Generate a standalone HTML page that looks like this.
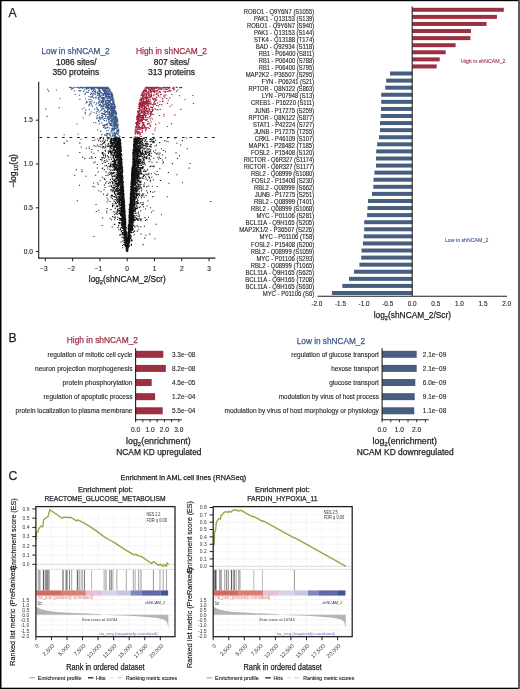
<!DOCTYPE html>
<html><head><meta charset="utf-8"><style>
html,body{margin:0;padding:0;background:#fff;}
body{width:520px;height:689px;overflow:hidden;position:relative;}
svg{position:absolute;left:0;top:0;will-change:transform;}
text{font-family:"Liberation Sans",sans-serif;}
</style></head><body>
<svg width="520" height="689" viewBox="0 0 520 689">
<rect x="0" y="0" width="520" height="689" fill="#fff"/>
<text x="8.4" y="16.8" font-size="12.2" fill="#231f20" stroke="#231f20" stroke-width="0.25">A</text>
<text x="8.4" y="342.2" font-size="12.2" fill="#231f20" stroke="#231f20" stroke-width="0.25">B</text>
<text x="8.4" y="479.6" font-size="12.2" fill="#231f20" stroke="#231f20" stroke-width="0.25">C</text>
<path d="M119.1 176.5h1.05v1.05h-1.05zM138.3 147.8h1.05v1.05h-1.05zM133.5 160.5h1.05v1.05h-1.05zM124.9 221.3h1.05v1.05h-1.05zM123.5 212.5h1.05v1.05h-1.05zM134.5 150.2h1.05v1.05h-1.05zM126.5 250.1h1.05v1.05h-1.05zM137.7 155.7h1.05v1.05h-1.05zM146.4 158.2h1.05v1.05h-1.05zM132.1 193.6h1.05v1.05h-1.05zM106.3 212.2h1.05v1.05h-1.05zM124.5 215.0h1.05v1.05h-1.05zM129.6 217.8h1.05v1.05h-1.05zM130.4 196.1h1.05v1.05h-1.05zM134.5 189.5h1.05v1.05h-1.05zM121.4 184.2h1.05v1.05h-1.05zM141.6 137.7h1.05v1.05h-1.05zM134.0 158.7h1.05v1.05h-1.05zM102.0 176.8h1.05v1.05h-1.05zM108.5 138.3h1.05v1.05h-1.05zM132.4 222.5h1.05v1.05h-1.05zM128.1 229.2h1.05v1.05h-1.05zM131.1 177.8h1.05v1.05h-1.05zM124.7 244.2h1.05v1.05h-1.05zM127.2 245.4h1.05v1.05h-1.05zM131.7 188.4h1.05v1.05h-1.05zM120.5 193.8h1.05v1.05h-1.05zM133.7 145.7h1.05v1.05h-1.05zM142.8 176.0h1.05v1.05h-1.05zM133.4 188.5h1.05v1.05h-1.05zM120.1 190.4h1.05v1.05h-1.05zM124.2 218.7h1.05v1.05h-1.05zM126.7 249.0h1.05v1.05h-1.05zM136.5 225.2h1.05v1.05h-1.05zM119.5 169.3h1.05v1.05h-1.05zM122.7 224.2h1.05v1.05h-1.05zM122.4 204.6h1.05v1.05h-1.05zM126.6 250.3h1.05v1.05h-1.05zM134.5 154.8h1.05v1.05h-1.05zM130.2 229.9h1.05v1.05h-1.05zM129.9 216.3h1.05v1.05h-1.05zM138.2 149.5h1.05v1.05h-1.05zM133.5 189.0h1.05v1.05h-1.05zM135.5 153.0h1.05v1.05h-1.05zM122.1 174.9h1.05v1.05h-1.05zM134.8 164.0h1.05v1.05h-1.05zM128.0 237.8h1.05v1.05h-1.05zM122.5 185.5h1.05v1.05h-1.05zM122.1 189.2h1.05v1.05h-1.05zM114.9 150.5h1.05v1.05h-1.05zM123.7 205.5h1.05v1.05h-1.05zM133.1 179.4h1.05v1.05h-1.05zM126.9 242.1h1.05v1.05h-1.05zM122.6 202.5h1.05v1.05h-1.05zM130.4 209.9h1.05v1.05h-1.05zM128.4 230.4h1.05v1.05h-1.05zM117.5 156.2h1.05v1.05h-1.05zM130.6 203.5h1.05v1.05h-1.05zM110.1 139.4h1.05v1.05h-1.05zM120.3 180.2h1.05v1.05h-1.05zM132.6 178.6h1.05v1.05h-1.05zM134.0 175.1h1.05v1.05h-1.05zM121.0 171.0h1.05v1.05h-1.05zM131.3 230.3h1.05v1.05h-1.05zM130.1 196.6h1.05v1.05h-1.05zM130.4 219.6h1.05v1.05h-1.05zM130.3 200.9h1.05v1.05h-1.05zM125.4 237.2h1.05v1.05h-1.05zM111.2 140.5h1.05v1.05h-1.05zM131.1 222.5h1.05v1.05h-1.05zM136.0 171.5h1.05v1.05h-1.05zM124.2 212.5h1.05v1.05h-1.05zM108.3 150.2h1.05v1.05h-1.05zM116.3 172.5h1.05v1.05h-1.05zM122.4 232.7h1.05v1.05h-1.05zM137.6 153.2h1.05v1.05h-1.05zM107.8 142.9h1.05v1.05h-1.05zM116.7 147.1h1.05v1.05h-1.05zM133.9 182.4h1.05v1.05h-1.05zM128.4 231.0h1.05v1.05h-1.05zM129.3 225.2h1.05v1.05h-1.05zM137.1 144.6h1.05v1.05h-1.05zM143.4 184.3h1.05v1.05h-1.05zM125.0 226.7h1.05v1.05h-1.05zM150.2 149.2h1.05v1.05h-1.05zM133.2 174.7h1.05v1.05h-1.05zM121.2 182.4h1.05v1.05h-1.05zM122.7 203.8h1.05v1.05h-1.05zM131.4 199.9h1.05v1.05h-1.05zM129.7 219.6h1.05v1.05h-1.05zM127.7 245.1h1.05v1.05h-1.05zM136.0 150.0h1.05v1.05h-1.05zM131.4 193.6h1.05v1.05h-1.05zM133.7 184.8h1.05v1.05h-1.05zM129.0 210.0h1.05v1.05h-1.05zM121.3 163.0h1.05v1.05h-1.05zM127.9 246.9h1.05v1.05h-1.05zM120.5 204.3h1.05v1.05h-1.05zM126.2 246.2h1.05v1.05h-1.05zM127.8 233.8h1.05v1.05h-1.05zM119.0 140.6h1.05v1.05h-1.05zM132.7 173.0h1.05v1.05h-1.05zM120.9 198.0h1.05v1.05h-1.05zM133.7 187.4h1.05v1.05h-1.05zM115.7 150.3h1.05v1.05h-1.05zM129.5 207.5h1.05v1.05h-1.05zM133.9 180.2h1.05v1.05h-1.05zM116.5 170.2h1.05v1.05h-1.05zM117.0 206.2h1.05v1.05h-1.05zM132.9 188.0h1.05v1.05h-1.05zM162.9 161.6h1.05v1.05h-1.05zM88.6 146.5h1.05v1.05h-1.05zM128.1 230.3h1.05v1.05h-1.05zM135.4 144.0h1.05v1.05h-1.05zM126.6 250.1h1.05v1.05h-1.05zM101.9 162.9h1.05v1.05h-1.05zM132.8 156.8h1.05v1.05h-1.05zM128.2 232.1h1.05v1.05h-1.05zM122.5 199.0h1.05v1.05h-1.05zM115.8 156.3h1.05v1.05h-1.05zM126.9 248.6h1.05v1.05h-1.05zM118.8 176.1h1.05v1.05h-1.05zM111.1 158.6h1.05v1.05h-1.05zM122.3 188.6h1.05v1.05h-1.05zM132.5 165.7h1.05v1.05h-1.05zM124.6 221.2h1.05v1.05h-1.05zM129.2 224.5h1.05v1.05h-1.05zM124.4 205.3h1.05v1.05h-1.05zM125.1 226.8h1.05v1.05h-1.05zM130.8 207.3h1.05v1.05h-1.05zM139.5 142.5h1.05v1.05h-1.05zM140.0 182.0h1.05v1.05h-1.05zM123.6 207.9h1.05v1.05h-1.05zM121.1 215.8h1.05v1.05h-1.05zM119.4 142.1h1.05v1.05h-1.05zM130.0 196.2h1.05v1.05h-1.05zM134.2 139.2h1.05v1.05h-1.05zM118.3 188.3h1.05v1.05h-1.05zM131.1 187.7h1.05v1.05h-1.05zM119.3 147.9h1.05v1.05h-1.05zM133.9 163.9h1.05v1.05h-1.05zM118.0 181.3h1.05v1.05h-1.05zM122.6 198.2h1.05v1.05h-1.05zM150.1 149.8h1.05v1.05h-1.05zM130.7 199.8h1.05v1.05h-1.05zM140.2 145.1h1.05v1.05h-1.05zM125.5 240.8h1.05v1.05h-1.05zM123.4 197.8h1.05v1.05h-1.05zM122.2 187.9h1.05v1.05h-1.05zM116.5 142.2h1.05v1.05h-1.05zM124.6 218.3h1.05v1.05h-1.05zM146.3 157.3h1.05v1.05h-1.05zM135.5 171.0h1.05v1.05h-1.05zM141.4 166.7h1.05v1.05h-1.05zM119.0 176.0h1.05v1.05h-1.05zM181.9 140.1h1.05v1.05h-1.05zM122.6 208.8h1.05v1.05h-1.05zM123.5 201.3h1.05v1.05h-1.05zM129.0 224.0h1.05v1.05h-1.05zM127.4 243.3h1.05v1.05h-1.05zM129.3 222.8h1.05v1.05h-1.05zM149.1 145.9h1.05v1.05h-1.05zM139.9 153.7h1.05v1.05h-1.05zM129.4 235.1h1.05v1.05h-1.05zM133.2 178.8h1.05v1.05h-1.05zM122.6 192.3h1.05v1.05h-1.05zM119.5 179.7h1.05v1.05h-1.05zM131.0 172.8h1.05v1.05h-1.05zM120.4 211.8h1.05v1.05h-1.05zM114.5 141.2h1.05v1.05h-1.05zM130.6 193.8h1.05v1.05h-1.05zM121.9 176.1h1.05v1.05h-1.05zM121.1 175.4h1.05v1.05h-1.05zM123.9 226.3h1.05v1.05h-1.05zM125.8 241.8h1.05v1.05h-1.05zM131.8 199.9h1.05v1.05h-1.05zM119.1 161.7h1.05v1.05h-1.05zM138.3 156.3h1.05v1.05h-1.05zM132.9 165.3h1.05v1.05h-1.05zM129.3 235.0h1.05v1.05h-1.05zM118.7 146.1h1.05v1.05h-1.05zM119.7 157.7h1.05v1.05h-1.05zM118.0 149.8h1.05v1.05h-1.05zM120.1 187.5h1.05v1.05h-1.05zM112.9 145.9h1.05v1.05h-1.05zM123.2 243.9h1.05v1.05h-1.05zM126.9 246.2h1.05v1.05h-1.05zM126.7 247.7h1.05v1.05h-1.05zM129.9 218.0h1.05v1.05h-1.05zM137.2 218.5h1.05v1.05h-1.05zM123.4 225.8h1.05v1.05h-1.05zM133.7 182.7h1.05v1.05h-1.05zM125.7 244.9h1.05v1.05h-1.05zM120.3 180.2h1.05v1.05h-1.05zM124.1 228.5h1.05v1.05h-1.05zM116.8 170.8h1.05v1.05h-1.05zM126.3 247.5h1.05v1.05h-1.05zM120.4 211.3h1.05v1.05h-1.05zM133.3 143.5h1.05v1.05h-1.05zM122.2 185.8h1.05v1.05h-1.05zM157.3 156.7h1.05v1.05h-1.05zM134.5 172.9h1.05v1.05h-1.05zM133.3 178.0h1.05v1.05h-1.05zM125.2 225.4h1.05v1.05h-1.05zM112.4 181.9h1.05v1.05h-1.05zM127.3 244.8h1.05v1.05h-1.05zM142.5 157.7h1.05v1.05h-1.05zM153.0 141.3h1.05v1.05h-1.05zM175.5 152.3h1.05v1.05h-1.05zM127.2 243.3h1.05v1.05h-1.05zM123.4 208.1h1.05v1.05h-1.05zM106.2 210.5h1.05v1.05h-1.05zM124.9 235.1h1.05v1.05h-1.05zM131.3 176.3h1.05v1.05h-1.05zM142.2 158.2h1.05v1.05h-1.05zM122.3 211.0h1.05v1.05h-1.05zM90.9 151.4h1.05v1.05h-1.05zM113.4 158.2h1.05v1.05h-1.05zM127.8 233.0h1.05v1.05h-1.05zM133.7 161.4h1.05v1.05h-1.05zM114.7 149.3h1.05v1.05h-1.05zM123.3 224.6h1.05v1.05h-1.05zM136.6 182.0h1.05v1.05h-1.05zM137.0 175.0h1.05v1.05h-1.05zM133.8 178.2h1.05v1.05h-1.05zM125.8 237.2h1.05v1.05h-1.05zM139.6 172.6h1.05v1.05h-1.05zM122.4 175.7h1.05v1.05h-1.05zM117.5 155.4h1.05v1.05h-1.05zM136.4 157.5h1.05v1.05h-1.05zM122.9 209.4h1.05v1.05h-1.05zM119.2 166.1h1.05v1.05h-1.05zM138.3 150.9h1.05v1.05h-1.05zM116.1 148.2h1.05v1.05h-1.05zM129.5 229.0h1.05v1.05h-1.05zM125.6 246.7h1.05v1.05h-1.05zM132.2 173.7h1.05v1.05h-1.05zM123.6 222.6h1.05v1.05h-1.05zM130.8 183.1h1.05v1.05h-1.05zM109.8 142.9h1.05v1.05h-1.05zM122.8 203.5h1.05v1.05h-1.05zM123.8 218.0h1.05v1.05h-1.05zM120.7 194.8h1.05v1.05h-1.05zM135.0 173.0h1.05v1.05h-1.05zM124.9 236.6h1.05v1.05h-1.05zM112.1 203.3h1.05v1.05h-1.05zM125.1 232.5h1.05v1.05h-1.05zM121.9 172.5h1.05v1.05h-1.05zM114.5 154.7h1.05v1.05h-1.05zM122.9 203.8h1.05v1.05h-1.05zM131.6 185.7h1.05v1.05h-1.05zM133.0 222.5h1.05v1.05h-1.05zM122.5 218.7h1.05v1.05h-1.05zM110.5 209.1h1.05v1.05h-1.05zM129.9 194.7h1.05v1.05h-1.05zM127.0 239.1h1.05v1.05h-1.05zM118.4 162.9h1.05v1.05h-1.05zM132.3 181.4h1.05v1.05h-1.05zM123.4 212.6h1.05v1.05h-1.05zM127.5 239.7h1.05v1.05h-1.05zM119.8 161.8h1.05v1.05h-1.05zM128.9 232.8h1.05v1.05h-1.05zM128.1 232.5h1.05v1.05h-1.05zM128.0 232.8h1.05v1.05h-1.05zM126.0 239.2h1.05v1.05h-1.05zM134.3 146.8h1.05v1.05h-1.05zM124.4 216.1h1.05v1.05h-1.05zM131.9 211.8h1.05v1.05h-1.05zM117.9 154.5h1.05v1.05h-1.05zM131.1 177.0h1.05v1.05h-1.05zM124.8 225.9h1.05v1.05h-1.05zM119.6 197.3h1.05v1.05h-1.05zM138.2 149.2h1.05v1.05h-1.05zM119.4 203.9h1.05v1.05h-1.05zM131.6 167.3h1.05v1.05h-1.05zM125.4 237.2h1.05v1.05h-1.05zM150.3 165.6h1.05v1.05h-1.05zM121.1 160.4h1.05v1.05h-1.05zM147.4 155.2h1.05v1.05h-1.05zM136.0 171.2h1.05v1.05h-1.05zM141.7 204.5h1.05v1.05h-1.05zM125.5 241.5h1.05v1.05h-1.05zM120.8 188.0h1.05v1.05h-1.05zM134.8 162.4h1.05v1.05h-1.05zM124.5 225.4h1.05v1.05h-1.05zM133.4 216.5h1.05v1.05h-1.05zM116.6 186.1h1.05v1.05h-1.05zM120.6 163.3h1.05v1.05h-1.05zM119.1 147.9h1.05v1.05h-1.05zM127.9 233.5h1.05v1.05h-1.05zM124.6 226.2h1.05v1.05h-1.05zM133.4 158.0h1.05v1.05h-1.05zM119.7 174.4h1.05v1.05h-1.05zM132.4 166.2h1.05v1.05h-1.05zM167.0 137.5h1.05v1.05h-1.05zM114.8 143.4h1.05v1.05h-1.05zM136.2 153.4h1.05v1.05h-1.05zM132.7 160.3h1.05v1.05h-1.05zM123.1 201.7h1.05v1.05h-1.05zM114.9 174.7h1.05v1.05h-1.05zM137.7 226.2h1.05v1.05h-1.05zM143.4 162.2h1.05v1.05h-1.05zM134.1 162.4h1.05v1.05h-1.05zM142.2 166.2h1.05v1.05h-1.05zM123.0 196.1h1.05v1.05h-1.05zM131.2 203.6h1.05v1.05h-1.05zM133.3 198.9h1.05v1.05h-1.05zM126.3 245.7h1.05v1.05h-1.05zM155.5 153.3h1.05v1.05h-1.05zM115.5 185.4h1.05v1.05h-1.05zM124.0 202.6h1.05v1.05h-1.05zM131.8 184.8h1.05v1.05h-1.05zM117.5 166.2h1.05v1.05h-1.05zM123.0 203.2h1.05v1.05h-1.05zM120.0 154.7h1.05v1.05h-1.05zM114.9 145.5h1.05v1.05h-1.05zM122.2 202.6h1.05v1.05h-1.05zM131.2 231.9h1.05v1.05h-1.05zM135.1 162.1h1.05v1.05h-1.05zM113.0 137.9h1.05v1.05h-1.05zM125.2 230.7h1.05v1.05h-1.05zM142.4 167.1h1.05v1.05h-1.05zM106.9 155.3h1.05v1.05h-1.05zM117.7 145.4h1.05v1.05h-1.05zM127.9 233.8h1.05v1.05h-1.05zM128.6 237.8h1.05v1.05h-1.05zM134.7 138.4h1.05v1.05h-1.05zM119.3 234.6h1.05v1.05h-1.05zM123.8 227.1h1.05v1.05h-1.05zM130.6 181.9h1.05v1.05h-1.05zM121.4 196.0h1.05v1.05h-1.05zM139.0 163.1h1.05v1.05h-1.05zM128.3 225.5h1.05v1.05h-1.05zM139.7 146.0h1.05v1.05h-1.05zM123.6 222.3h1.05v1.05h-1.05zM121.1 161.2h1.05v1.05h-1.05zM129.2 241.0h1.05v1.05h-1.05zM121.4 193.0h1.05v1.05h-1.05zM127.1 245.9h1.05v1.05h-1.05zM132.4 210.9h1.05v1.05h-1.05zM122.9 211.1h1.05v1.05h-1.05zM131.6 166.4h1.05v1.05h-1.05zM136.4 195.0h1.05v1.05h-1.05zM127.3 242.5h1.05v1.05h-1.05zM100.0 137.7h1.05v1.05h-1.05zM138.0 148.7h1.05v1.05h-1.05zM119.3 145.8h1.05v1.05h-1.05zM122.7 218.8h1.05v1.05h-1.05zM135.5 201.8h1.05v1.05h-1.05zM129.7 221.1h1.05v1.05h-1.05zM124.2 233.6h1.05v1.05h-1.05zM127.1 245.8h1.05v1.05h-1.05zM122.7 189.7h1.05v1.05h-1.05zM125.4 233.8h1.05v1.05h-1.05zM129.5 227.2h1.05v1.05h-1.05zM114.1 151.6h1.05v1.05h-1.05zM152.3 191.8h1.05v1.05h-1.05zM124.7 226.3h1.05v1.05h-1.05zM122.0 171.7h1.05v1.05h-1.05zM123.4 216.5h1.05v1.05h-1.05zM120.4 187.1h1.05v1.05h-1.05zM129.5 214.5h1.05v1.05h-1.05zM132.0 188.3h1.05v1.05h-1.05zM134.1 176.1h1.05v1.05h-1.05zM120.8 186.1h1.05v1.05h-1.05zM119.3 201.6h1.05v1.05h-1.05zM137.9 158.9h1.05v1.05h-1.05zM97.6 150.3h1.05v1.05h-1.05zM128.5 226.8h1.05v1.05h-1.05zM128.7 232.1h1.05v1.05h-1.05zM125.2 235.0h1.05v1.05h-1.05zM135.5 139.3h1.05v1.05h-1.05zM118.5 143.2h1.05v1.05h-1.05zM122.3 220.7h1.05v1.05h-1.05zM114.0 140.3h1.05v1.05h-1.05zM124.9 223.4h1.05v1.05h-1.05zM118.9 189.3h1.05v1.05h-1.05zM146.2 190.3h1.05v1.05h-1.05zM98.6 145.9h1.05v1.05h-1.05zM127.5 244.7h1.05v1.05h-1.05zM129.2 210.8h1.05v1.05h-1.05zM120.3 179.2h1.05v1.05h-1.05zM127.3 241.2h1.05v1.05h-1.05zM121.0 220.0h1.05v1.05h-1.05zM136.8 193.9h1.05v1.05h-1.05zM138.1 149.5h1.05v1.05h-1.05zM135.7 162.0h1.05v1.05h-1.05zM149.4 154.9h1.05v1.05h-1.05zM118.1 162.0h1.05v1.05h-1.05zM135.6 167.6h1.05v1.05h-1.05zM136.0 152.7h1.05v1.05h-1.05zM132.5 170.4h1.05v1.05h-1.05zM135.3 164.7h1.05v1.05h-1.05zM132.4 212.3h1.05v1.05h-1.05zM129.0 228.3h1.05v1.05h-1.05zM136.6 162.5h1.05v1.05h-1.05zM128.4 228.5h1.05v1.05h-1.05zM119.7 179.5h1.05v1.05h-1.05zM124.3 209.2h1.05v1.05h-1.05zM132.9 143.7h1.05v1.05h-1.05zM122.7 229.8h1.05v1.05h-1.05zM131.3 188.5h1.05v1.05h-1.05zM128.2 237.8h1.05v1.05h-1.05zM101.9 140.7h1.05v1.05h-1.05zM131.4 181.8h1.05v1.05h-1.05zM118.1 157.5h1.05v1.05h-1.05zM122.7 214.6h1.05v1.05h-1.05zM117.6 157.7h1.05v1.05h-1.05zM136.4 168.2h1.05v1.05h-1.05zM133.2 174.5h1.05v1.05h-1.05zM152.7 142.3h1.05v1.05h-1.05zM133.9 197.4h1.05v1.05h-1.05zM121.0 199.5h1.05v1.05h-1.05zM117.7 169.3h1.05v1.05h-1.05zM141.8 154.2h1.05v1.05h-1.05zM133.5 208.5h1.05v1.05h-1.05zM121.4 171.7h1.05v1.05h-1.05zM129.0 223.2h1.05v1.05h-1.05zM133.6 184.4h1.05v1.05h-1.05zM120.0 161.2h1.05v1.05h-1.05zM128.0 241.3h1.05v1.05h-1.05zM134.8 165.5h1.05v1.05h-1.05zM126.8 248.4h1.05v1.05h-1.05zM140.0 141.5h1.05v1.05h-1.05zM123.4 193.5h1.05v1.05h-1.05zM131.0 200.1h1.05v1.05h-1.05zM149.3 166.3h1.05v1.05h-1.05zM140.2 187.5h1.05v1.05h-1.05zM136.0 165.2h1.05v1.05h-1.05zM125.5 238.7h1.05v1.05h-1.05zM131.2 183.2h1.05v1.05h-1.05zM121.3 183.7h1.05v1.05h-1.05zM99.7 144.2h1.05v1.05h-1.05zM127.0 244.8h1.05v1.05h-1.05zM121.8 195.3h1.05v1.05h-1.05zM133.0 175.8h1.05v1.05h-1.05zM119.7 184.5h1.05v1.05h-1.05zM125.6 240.1h1.05v1.05h-1.05zM133.2 179.9h1.05v1.05h-1.05zM124.8 221.7h1.05v1.05h-1.05zM124.0 224.9h1.05v1.05h-1.05zM134.5 149.7h1.05v1.05h-1.05zM129.5 224.6h1.05v1.05h-1.05zM142.2 195.1h1.05v1.05h-1.05zM117.6 163.1h1.05v1.05h-1.05zM118.3 167.7h1.05v1.05h-1.05zM121.8 184.2h1.05v1.05h-1.05zM119.5 157.2h1.05v1.05h-1.05zM103.0 193.8h1.05v1.05h-1.05zM120.7 177.0h1.05v1.05h-1.05zM140.4 155.9h1.05v1.05h-1.05zM133.9 170.8h1.05v1.05h-1.05zM121.2 174.7h1.05v1.05h-1.05zM131.3 200.5h1.05v1.05h-1.05zM131.9 183.7h1.05v1.05h-1.05zM130.5 201.6h1.05v1.05h-1.05zM119.6 163.8h1.05v1.05h-1.05zM123.5 203.4h1.05v1.05h-1.05zM122.6 193.7h1.05v1.05h-1.05zM115.4 162.6h1.05v1.05h-1.05zM122.9 189.6h1.05v1.05h-1.05zM121.0 208.2h1.05v1.05h-1.05zM137.8 155.1h1.05v1.05h-1.05zM132.5 203.3h1.05v1.05h-1.05zM119.8 153.2h1.05v1.05h-1.05zM106.3 159.5h1.05v1.05h-1.05zM122.1 195.9h1.05v1.05h-1.05zM138.5 167.1h1.05v1.05h-1.05zM127.2 245.6h1.05v1.05h-1.05zM120.5 202.3h1.05v1.05h-1.05zM135.0 151.6h1.05v1.05h-1.05zM112.0 181.4h1.05v1.05h-1.05zM137.0 183.7h1.05v1.05h-1.05zM135.4 172.2h1.05v1.05h-1.05zM138.9 170.8h1.05v1.05h-1.05zM135.2 180.9h1.05v1.05h-1.05zM130.4 198.8h1.05v1.05h-1.05zM128.2 226.3h1.05v1.05h-1.05zM129.6 213.4h1.05v1.05h-1.05zM124.3 213.4h1.05v1.05h-1.05zM131.9 197.7h1.05v1.05h-1.05zM138.2 137.3h1.05v1.05h-1.05zM129.6 206.5h1.05v1.05h-1.05zM119.1 195.9h1.05v1.05h-1.05zM130.1 204.4h1.05v1.05h-1.05zM123.0 181.2h1.05v1.05h-1.05zM118.0 142.5h1.05v1.05h-1.05zM120.1 148.6h1.05v1.05h-1.05zM122.3 203.7h1.05v1.05h-1.05zM129.2 216.4h1.05v1.05h-1.05zM147.6 149.1h1.05v1.05h-1.05zM121.0 190.7h1.05v1.05h-1.05zM121.7 170.0h1.05v1.05h-1.05zM126.3 240.2h1.05v1.05h-1.05zM133.0 151.0h1.05v1.05h-1.05zM133.5 211.0h1.05v1.05h-1.05zM115.5 190.6h1.05v1.05h-1.05zM131.1 224.6h1.05v1.05h-1.05zM131.4 198.9h1.05v1.05h-1.05zM114.8 155.0h1.05v1.05h-1.05zM134.0 155.0h1.05v1.05h-1.05zM130.3 192.9h1.05v1.05h-1.05zM148.8 161.3h1.05v1.05h-1.05zM132.2 194.7h1.05v1.05h-1.05zM133.6 204.2h1.05v1.05h-1.05zM121.9 185.0h1.05v1.05h-1.05zM128.6 224.2h1.05v1.05h-1.05zM122.3 210.6h1.05v1.05h-1.05zM137.1 167.8h1.05v1.05h-1.05zM120.0 161.0h1.05v1.05h-1.05zM127.3 242.5h1.05v1.05h-1.05zM135.6 165.0h1.05v1.05h-1.05zM107.6 156.1h1.05v1.05h-1.05zM113.7 196.1h1.05v1.05h-1.05zM126.3 241.7h1.05v1.05h-1.05zM135.2 170.3h1.05v1.05h-1.05zM123.4 218.8h1.05v1.05h-1.05zM134.3 174.5h1.05v1.05h-1.05zM123.3 203.8h1.05v1.05h-1.05zM133.2 175.2h1.05v1.05h-1.05zM123.4 217.4h1.05v1.05h-1.05zM130.1 192.6h1.05v1.05h-1.05zM130.7 187.3h1.05v1.05h-1.05zM121.4 175.8h1.05v1.05h-1.05zM122.9 223.9h1.05v1.05h-1.05zM117.9 141.1h1.05v1.05h-1.05zM130.0 213.8h1.05v1.05h-1.05zM150.9 211.8h1.05v1.05h-1.05zM122.3 217.6h1.05v1.05h-1.05zM127.8 241.0h1.05v1.05h-1.05zM131.2 198.6h1.05v1.05h-1.05zM120.8 160.9h1.05v1.05h-1.05zM120.7 167.4h1.05v1.05h-1.05zM124.6 224.9h1.05v1.05h-1.05zM125.5 232.1h1.05v1.05h-1.05zM123.3 210.1h1.05v1.05h-1.05zM136.9 161.2h1.05v1.05h-1.05zM122.9 191.4h1.05v1.05h-1.05zM134.0 145.1h1.05v1.05h-1.05zM110.3 173.1h1.05v1.05h-1.05zM120.4 176.9h1.05v1.05h-1.05zM119.4 161.3h1.05v1.05h-1.05zM135.6 163.1h1.05v1.05h-1.05zM130.5 207.5h1.05v1.05h-1.05zM130.8 217.5h1.05v1.05h-1.05zM132.0 196.9h1.05v1.05h-1.05zM100.5 191.2h1.05v1.05h-1.05zM124.1 231.5h1.05v1.05h-1.05zM129.6 196.5h1.05v1.05h-1.05zM131.7 174.9h1.05v1.05h-1.05zM127.7 232.2h1.05v1.05h-1.05zM128.5 231.9h1.05v1.05h-1.05zM129.3 227.5h1.05v1.05h-1.05zM130.2 214.5h1.05v1.05h-1.05zM134.7 141.1h1.05v1.05h-1.05zM126.8 246.8h1.05v1.05h-1.05zM124.8 226.3h1.05v1.05h-1.05zM131.1 228.6h1.05v1.05h-1.05zM133.1 192.9h1.05v1.05h-1.05zM127.4 248.5h1.05v1.05h-1.05zM136.8 194.7h1.05v1.05h-1.05zM124.2 228.8h1.05v1.05h-1.05zM112.1 216.1h1.05v1.05h-1.05zM133.0 158.7h1.05v1.05h-1.05zM125.0 226.2h1.05v1.05h-1.05zM131.7 177.3h1.05v1.05h-1.05zM129.9 200.4h1.05v1.05h-1.05zM120.4 199.2h1.05v1.05h-1.05zM118.9 156.2h1.05v1.05h-1.05zM129.7 229.1h1.05v1.05h-1.05zM135.6 145.0h1.05v1.05h-1.05zM135.7 148.2h1.05v1.05h-1.05zM131.8 171.8h1.05v1.05h-1.05zM126.1 243.5h1.05v1.05h-1.05zM120.2 172.4h1.05v1.05h-1.05zM137.6 179.1h1.05v1.05h-1.05zM133.4 160.8h1.05v1.05h-1.05zM128.8 222.7h1.05v1.05h-1.05zM142.1 142.0h1.05v1.05h-1.05zM135.9 148.9h1.05v1.05h-1.05zM125.3 234.9h1.05v1.05h-1.05zM124.5 210.8h1.05v1.05h-1.05zM127.6 245.9h1.05v1.05h-1.05zM134.3 154.7h1.05v1.05h-1.05zM120.8 145.9h1.05v1.05h-1.05zM107.8 138.2h1.05v1.05h-1.05zM120.8 177.9h1.05v1.05h-1.05zM132.2 172.1h1.05v1.05h-1.05zM121.2 170.8h1.05v1.05h-1.05zM131.4 182.4h1.05v1.05h-1.05zM159.2 142.1h1.05v1.05h-1.05zM119.7 178.3h1.05v1.05h-1.05zM129.7 208.4h1.05v1.05h-1.05zM130.6 188.6h1.05v1.05h-1.05zM126.5 247.9h1.05v1.05h-1.05zM120.0 165.9h1.05v1.05h-1.05zM132.5 169.1h1.05v1.05h-1.05zM118.5 198.8h1.05v1.05h-1.05zM140.1 152.5h1.05v1.05h-1.05zM134.3 162.6h1.05v1.05h-1.05zM123.1 208.3h1.05v1.05h-1.05zM127.9 239.7h1.05v1.05h-1.05zM128.0 232.6h1.05v1.05h-1.05zM124.3 226.2h1.05v1.05h-1.05zM123.0 212.1h1.05v1.05h-1.05zM110.7 195.8h1.05v1.05h-1.05zM116.7 144.6h1.05v1.05h-1.05zM124.6 215.0h1.05v1.05h-1.05zM117.5 147.6h1.05v1.05h-1.05zM121.7 170.5h1.05v1.05h-1.05zM119.6 152.3h1.05v1.05h-1.05zM123.0 200.8h1.05v1.05h-1.05zM126.2 250.4h1.05v1.05h-1.05zM138.7 159.3h1.05v1.05h-1.05zM129.6 218.9h1.05v1.05h-1.05zM128.7 231.4h1.05v1.05h-1.05zM119.4 158.0h1.05v1.05h-1.05zM119.1 169.9h1.05v1.05h-1.05zM124.5 222.8h1.05v1.05h-1.05zM122.7 216.3h1.05v1.05h-1.05zM120.4 143.4h1.05v1.05h-1.05zM131.9 216.2h1.05v1.05h-1.05zM132.3 168.2h1.05v1.05h-1.05zM125.2 233.0h1.05v1.05h-1.05zM120.2 156.3h1.05v1.05h-1.05zM126.0 234.5h1.05v1.05h-1.05zM130.3 188.3h1.05v1.05h-1.05zM125.8 245.5h1.05v1.05h-1.05zM103.8 184.6h1.05v1.05h-1.05zM135.4 153.0h1.05v1.05h-1.05zM124.2 238.8h1.05v1.05h-1.05zM129.4 215.5h1.05v1.05h-1.05zM133.8 161.6h1.05v1.05h-1.05zM121.7 178.3h1.05v1.05h-1.05zM132.9 211.1h1.05v1.05h-1.05zM136.7 176.1h1.05v1.05h-1.05zM123.1 195.0h1.05v1.05h-1.05zM112.7 151.4h1.05v1.05h-1.05zM129.3 213.4h1.05v1.05h-1.05zM134.1 162.4h1.05v1.05h-1.05zM133.1 175.3h1.05v1.05h-1.05zM132.0 164.2h1.05v1.05h-1.05zM134.0 203.6h1.05v1.05h-1.05zM132.2 165.8h1.05v1.05h-1.05zM118.3 168.6h1.05v1.05h-1.05zM132.7 202.6h1.05v1.05h-1.05zM125.7 246.7h1.05v1.05h-1.05zM136.3 141.0h1.05v1.05h-1.05zM116.3 167.0h1.05v1.05h-1.05zM128.7 223.8h1.05v1.05h-1.05zM121.0 165.2h1.05v1.05h-1.05zM122.3 215.0h1.05v1.05h-1.05zM114.2 193.4h1.05v1.05h-1.05zM137.9 151.7h1.05v1.05h-1.05zM131.4 195.8h1.05v1.05h-1.05zM130.9 213.9h1.05v1.05h-1.05zM130.6 211.9h1.05v1.05h-1.05zM128.3 239.7h1.05v1.05h-1.05zM125.2 222.0h1.05v1.05h-1.05zM129.6 215.9h1.05v1.05h-1.05zM127.6 227.6h1.05v1.05h-1.05zM127.8 241.6h1.05v1.05h-1.05zM122.1 193.8h1.05v1.05h-1.05zM119.1 222.6h1.05v1.05h-1.05zM119.9 164.4h1.05v1.05h-1.05zM117.3 145.2h1.05v1.05h-1.05zM132.8 215.7h1.05v1.05h-1.05zM181.9 182.2h1.05v1.05h-1.05zM121.3 189.3h1.05v1.05h-1.05zM127.7 240.0h1.05v1.05h-1.05zM128.0 233.6h1.05v1.05h-1.05zM117.1 149.1h1.05v1.05h-1.05zM142.4 192.9h1.05v1.05h-1.05zM165.2 157.4h1.05v1.05h-1.05zM127.0 241.1h1.05v1.05h-1.05zM149.8 179.7h1.05v1.05h-1.05zM114.5 151.1h1.05v1.05h-1.05zM115.5 150.9h1.05v1.05h-1.05zM126.0 250.0h1.05v1.05h-1.05zM132.5 187.7h1.05v1.05h-1.05zM132.2 204.6h1.05v1.05h-1.05zM141.3 162.1h1.05v1.05h-1.05zM127.9 240.2h1.05v1.05h-1.05zM128.7 216.6h1.05v1.05h-1.05zM82.2 156.6h1.05v1.05h-1.05zM132.3 193.4h1.05v1.05h-1.05zM136.3 195.2h1.05v1.05h-1.05zM123.2 210.2h1.05v1.05h-1.05zM126.8 244.5h1.05v1.05h-1.05zM130.3 202.0h1.05v1.05h-1.05zM122.9 230.0h1.05v1.05h-1.05zM127.5 239.1h1.05v1.05h-1.05zM111.9 182.6h1.05v1.05h-1.05zM134.3 142.0h1.05v1.05h-1.05zM131.7 181.4h1.05v1.05h-1.05zM116.2 174.1h1.05v1.05h-1.05zM123.3 209.8h1.05v1.05h-1.05zM122.4 182.3h1.05v1.05h-1.05zM189.6 162.9h1.05v1.05h-1.05zM120.8 180.3h1.05v1.05h-1.05zM132.6 157.6h1.05v1.05h-1.05zM135.4 184.5h1.05v1.05h-1.05zM128.7 224.5h1.05v1.05h-1.05zM114.0 181.0h1.05v1.05h-1.05zM120.4 191.0h1.05v1.05h-1.05zM124.7 228.5h1.05v1.05h-1.05zM134.0 177.1h1.05v1.05h-1.05zM118.7 156.1h1.05v1.05h-1.05zM127.8 232.3h1.05v1.05h-1.05zM117.9 185.1h1.05v1.05h-1.05zM133.9 164.9h1.05v1.05h-1.05zM122.0 200.8h1.05v1.05h-1.05zM131.1 216.0h1.05v1.05h-1.05zM133.7 204.3h1.05v1.05h-1.05zM121.1 185.5h1.05v1.05h-1.05zM131.8 169.9h1.05v1.05h-1.05zM121.9 183.6h1.05v1.05h-1.05zM126.1 235.8h1.05v1.05h-1.05zM135.8 156.0h1.05v1.05h-1.05zM144.7 145.0h1.05v1.05h-1.05zM128.8 236.6h1.05v1.05h-1.05zM131.4 218.4h1.05v1.05h-1.05zM125.0 227.5h1.05v1.05h-1.05zM118.9 152.8h1.05v1.05h-1.05zM113.3 146.4h1.05v1.05h-1.05zM127.6 244.2h1.05v1.05h-1.05zM131.3 208.8h1.05v1.05h-1.05zM130.4 225.2h1.05v1.05h-1.05zM130.5 193.4h1.05v1.05h-1.05zM136.8 145.3h1.05v1.05h-1.05zM128.7 240.7h1.05v1.05h-1.05zM124.5 227.8h1.05v1.05h-1.05zM117.5 191.5h1.05v1.05h-1.05zM134.2 187.4h1.05v1.05h-1.05zM113.5 163.6h1.05v1.05h-1.05zM133.8 196.9h1.05v1.05h-1.05zM124.8 231.5h1.05v1.05h-1.05zM123.9 206.4h1.05v1.05h-1.05zM117.4 139.0h1.05v1.05h-1.05zM137.1 163.1h1.05v1.05h-1.05zM130.2 234.6h1.05v1.05h-1.05zM143.3 157.1h1.05v1.05h-1.05zM132.3 211.3h1.05v1.05h-1.05zM119.9 159.9h1.05v1.05h-1.05zM126.6 248.8h1.05v1.05h-1.05zM118.8 150.5h1.05v1.05h-1.05zM125.1 228.9h1.05v1.05h-1.05zM106.6 194.9h1.05v1.05h-1.05zM132.2 172.5h1.05v1.05h-1.05zM120.3 189.2h1.05v1.05h-1.05zM124.0 228.5h1.05v1.05h-1.05zM124.8 231.8h1.05v1.05h-1.05zM123.6 214.3h1.05v1.05h-1.05zM126.2 243.1h1.05v1.05h-1.05zM132.9 222.3h1.05v1.05h-1.05zM126.1 232.9h1.05v1.05h-1.05zM118.4 193.9h1.05v1.05h-1.05zM129.6 206.1h1.05v1.05h-1.05zM132.0 180.6h1.05v1.05h-1.05zM130.4 214.8h1.05v1.05h-1.05zM127.1 245.7h1.05v1.05h-1.05zM129.3 209.0h1.05v1.05h-1.05zM120.1 162.6h1.05v1.05h-1.05zM129.1 217.7h1.05v1.05h-1.05zM119.1 200.6h1.05v1.05h-1.05zM138.4 162.6h1.05v1.05h-1.05zM133.5 200.4h1.05v1.05h-1.05zM116.3 148.8h1.05v1.05h-1.05zM115.5 145.6h1.05v1.05h-1.05zM130.1 211.3h1.05v1.05h-1.05zM134.4 164.7h1.05v1.05h-1.05zM136.0 218.0h1.05v1.05h-1.05zM127.9 231.7h1.05v1.05h-1.05zM122.0 196.9h1.05v1.05h-1.05zM131.0 178.9h1.05v1.05h-1.05zM134.1 143.8h1.05v1.05h-1.05zM124.6 230.9h1.05v1.05h-1.05zM121.4 167.2h1.05v1.05h-1.05zM132.9 192.8h1.05v1.05h-1.05zM125.4 232.7h1.05v1.05h-1.05zM135.4 140.0h1.05v1.05h-1.05zM133.3 168.9h1.05v1.05h-1.05zM128.1 233.1h1.05v1.05h-1.05zM115.1 146.9h1.05v1.05h-1.05zM127.6 236.3h1.05v1.05h-1.05zM129.8 237.7h1.05v1.05h-1.05zM121.5 208.9h1.05v1.05h-1.05zM133.7 143.6h1.05v1.05h-1.05zM127.4 245.8h1.05v1.05h-1.05zM133.2 145.6h1.05v1.05h-1.05zM133.9 177.9h1.05v1.05h-1.05zM127.2 241.1h1.05v1.05h-1.05zM118.5 182.6h1.05v1.05h-1.05zM130.5 194.6h1.05v1.05h-1.05zM121.2 183.1h1.05v1.05h-1.05zM133.0 164.5h1.05v1.05h-1.05zM131.4 170.7h1.05v1.05h-1.05zM185.8 137.5h1.05v1.05h-1.05zM129.0 229.6h1.05v1.05h-1.05zM133.8 156.6h1.05v1.05h-1.05zM130.9 199.9h1.05v1.05h-1.05zM136.8 159.7h1.05v1.05h-1.05zM186.7 148.3h1.05v1.05h-1.05zM115.1 138.0h1.05v1.05h-1.05zM130.8 216.5h1.05v1.05h-1.05zM134.3 195.2h1.05v1.05h-1.05zM118.7 143.1h1.05v1.05h-1.05zM137.3 142.8h1.05v1.05h-1.05zM130.6 204.2h1.05v1.05h-1.05zM119.7 143.3h1.05v1.05h-1.05zM122.5 200.5h1.05v1.05h-1.05zM132.6 204.0h1.05v1.05h-1.05zM117.7 162.5h1.05v1.05h-1.05zM119.8 193.2h1.05v1.05h-1.05zM135.2 195.8h1.05v1.05h-1.05zM129.7 202.7h1.05v1.05h-1.05zM121.3 197.5h1.05v1.05h-1.05zM125.0 231.7h1.05v1.05h-1.05zM127.3 241.9h1.05v1.05h-1.05zM134.3 162.8h1.05v1.05h-1.05zM134.1 183.0h1.05v1.05h-1.05zM133.4 171.5h1.05v1.05h-1.05zM153.2 157.7h1.05v1.05h-1.05zM124.2 220.7h1.05v1.05h-1.05zM128.4 220.3h1.05v1.05h-1.05zM131.4 215.1h1.05v1.05h-1.05zM123.8 212.1h1.05v1.05h-1.05zM120.6 162.0h1.05v1.05h-1.05zM133.5 204.1h1.05v1.05h-1.05zM134.4 209.9h1.05v1.05h-1.05zM132.9 175.3h1.05v1.05h-1.05zM124.1 225.9h1.05v1.05h-1.05zM128.0 235.9h1.05v1.05h-1.05zM120.2 168.8h1.05v1.05h-1.05zM137.4 162.5h1.05v1.05h-1.05zM122.8 213.0h1.05v1.05h-1.05zM132.8 175.3h1.05v1.05h-1.05zM124.6 245.6h1.05v1.05h-1.05zM130.1 200.7h1.05v1.05h-1.05zM114.9 181.5h1.05v1.05h-1.05zM119.2 218.0h1.05v1.05h-1.05zM120.3 207.0h1.05v1.05h-1.05zM133.1 178.1h1.05v1.05h-1.05zM138.5 180.3h1.05v1.05h-1.05zM124.0 229.9h1.05v1.05h-1.05zM119.2 167.8h1.05v1.05h-1.05zM125.7 239.3h1.05v1.05h-1.05zM136.7 140.3h1.05v1.05h-1.05zM129.2 224.0h1.05v1.05h-1.05zM137.5 218.0h1.05v1.05h-1.05zM130.4 224.3h1.05v1.05h-1.05zM150.5 138.1h1.05v1.05h-1.05zM128.9 214.1h1.05v1.05h-1.05zM115.0 178.6h1.05v1.05h-1.05zM117.5 138.2h1.05v1.05h-1.05zM119.5 142.3h1.05v1.05h-1.05zM127.6 244.5h1.05v1.05h-1.05zM122.8 187.7h1.05v1.05h-1.05zM135.1 179.0h1.05v1.05h-1.05zM118.3 168.2h1.05v1.05h-1.05zM119.7 208.4h1.05v1.05h-1.05zM130.1 209.3h1.05v1.05h-1.05zM126.1 250.2h1.05v1.05h-1.05zM125.9 245.5h1.05v1.05h-1.05zM130.9 184.6h1.05v1.05h-1.05zM129.4 239.9h1.05v1.05h-1.05zM128.9 224.0h1.05v1.05h-1.05zM121.7 208.7h1.05v1.05h-1.05zM127.3 240.6h1.05v1.05h-1.05zM125.7 246.1h1.05v1.05h-1.05zM134.7 144.7h1.05v1.05h-1.05zM120.1 197.2h1.05v1.05h-1.05zM114.3 223.7h1.05v1.05h-1.05zM119.1 167.6h1.05v1.05h-1.05zM126.7 249.4h1.05v1.05h-1.05zM122.1 219.0h1.05v1.05h-1.05zM137.4 141.2h1.05v1.05h-1.05zM134.3 147.7h1.05v1.05h-1.05zM132.3 175.3h1.05v1.05h-1.05zM128.2 237.6h1.05v1.05h-1.05zM119.8 210.5h1.05v1.05h-1.05zM127.2 246.5h1.05v1.05h-1.05zM128.6 222.0h1.05v1.05h-1.05zM126.3 246.9h1.05v1.05h-1.05zM125.3 233.4h1.05v1.05h-1.05zM138.5 175.6h1.05v1.05h-1.05zM125.2 236.7h1.05v1.05h-1.05zM128.2 229.7h1.05v1.05h-1.05zM141.6 147.2h1.05v1.05h-1.05zM121.0 208.5h1.05v1.05h-1.05zM130.5 208.7h1.05v1.05h-1.05zM127.7 238.5h1.05v1.05h-1.05zM120.5 158.3h1.05v1.05h-1.05zM119.1 171.0h1.05v1.05h-1.05zM131.6 184.9h1.05v1.05h-1.05zM137.9 177.2h1.05v1.05h-1.05zM127.9 236.7h1.05v1.05h-1.05zM132.6 217.2h1.05v1.05h-1.05zM122.6 180.9h1.05v1.05h-1.05zM110.2 142.1h1.05v1.05h-1.05zM137.2 156.1h1.05v1.05h-1.05zM118.7 174.8h1.05v1.05h-1.05zM121.8 188.0h1.05v1.05h-1.05zM125.8 248.5h1.05v1.05h-1.05zM118.6 148.5h1.05v1.05h-1.05zM126.9 241.1h1.05v1.05h-1.05zM126.0 233.0h1.05v1.05h-1.05zM75.8 169.2h1.05v1.05h-1.05zM115.9 156.6h1.05v1.05h-1.05zM119.0 159.3h1.05v1.05h-1.05zM132.4 195.3h1.05v1.05h-1.05zM124.3 227.1h1.05v1.05h-1.05zM126.1 245.5h1.05v1.05h-1.05zM118.5 152.5h1.05v1.05h-1.05zM94.2 139.5h1.05v1.05h-1.05zM133.6 219.1h1.05v1.05h-1.05zM120.4 151.0h1.05v1.05h-1.05zM131.2 200.9h1.05v1.05h-1.05zM124.4 211.2h1.05v1.05h-1.05zM120.8 189.5h1.05v1.05h-1.05zM126.4 249.6h1.05v1.05h-1.05zM114.4 196.4h1.05v1.05h-1.05zM130.3 224.4h1.05v1.05h-1.05zM136.8 167.1h1.05v1.05h-1.05zM117.0 189.8h1.05v1.05h-1.05zM136.0 150.7h1.05v1.05h-1.05zM120.3 147.8h1.05v1.05h-1.05zM133.0 210.6h1.05v1.05h-1.05zM129.6 214.8h1.05v1.05h-1.05zM111.0 143.5h1.05v1.05h-1.05zM134.3 189.6h1.05v1.05h-1.05zM129.8 237.2h1.05v1.05h-1.05zM126.0 244.0h1.05v1.05h-1.05zM133.4 138.2h1.05v1.05h-1.05zM140.3 181.4h1.05v1.05h-1.05zM125.5 242.8h1.05v1.05h-1.05zM113.1 188.8h1.05v1.05h-1.05zM131.2 189.6h1.05v1.05h-1.05zM140.8 197.2h1.05v1.05h-1.05zM111.6 142.2h1.05v1.05h-1.05zM118.9 142.5h1.05v1.05h-1.05zM125.0 233.6h1.05v1.05h-1.05zM125.2 230.2h1.05v1.05h-1.05zM123.0 200.3h1.05v1.05h-1.05zM113.6 154.4h1.05v1.05h-1.05zM119.7 176.6h1.05v1.05h-1.05zM137.0 165.3h1.05v1.05h-1.05zM130.5 181.8h1.05v1.05h-1.05zM128.7 223.1h1.05v1.05h-1.05zM142.1 156.1h1.05v1.05h-1.05zM127.1 248.6h1.05v1.05h-1.05zM118.1 168.6h1.05v1.05h-1.05zM128.8 225.0h1.05v1.05h-1.05zM138.0 193.2h1.05v1.05h-1.05zM119.9 139.7h1.05v1.05h-1.05zM121.8 185.8h1.05v1.05h-1.05zM128.8 242.4h1.05v1.05h-1.05zM129.7 197.9h1.05v1.05h-1.05zM108.1 172.7h1.05v1.05h-1.05zM125.8 242.5h1.05v1.05h-1.05zM130.4 218.1h1.05v1.05h-1.05zM126.2 248.0h1.05v1.05h-1.05zM130.9 185.7h1.05v1.05h-1.05zM121.0 203.2h1.05v1.05h-1.05zM131.4 189.6h1.05v1.05h-1.05zM120.5 213.0h1.05v1.05h-1.05zM135.6 173.1h1.05v1.05h-1.05zM128.7 227.6h1.05v1.05h-1.05zM139.9 146.8h1.05v1.05h-1.05zM133.7 141.3h1.05v1.05h-1.05zM133.5 190.8h1.05v1.05h-1.05zM122.1 193.9h1.05v1.05h-1.05zM141.5 151.7h1.05v1.05h-1.05zM116.9 213.7h1.05v1.05h-1.05zM89.3 157.6h1.05v1.05h-1.05zM129.8 214.0h1.05v1.05h-1.05zM121.3 166.3h1.05v1.05h-1.05zM132.1 208.6h1.05v1.05h-1.05zM135.5 178.9h1.05v1.05h-1.05zM118.9 144.8h1.05v1.05h-1.05zM128.3 242.8h1.05v1.05h-1.05zM134.6 157.2h1.05v1.05h-1.05zM131.2 185.5h1.05v1.05h-1.05zM130.1 203.5h1.05v1.05h-1.05zM122.8 206.8h1.05v1.05h-1.05zM128.2 240.8h1.05v1.05h-1.05zM102.1 217.4h1.05v1.05h-1.05zM136.9 176.7h1.05v1.05h-1.05zM125.8 237.0h1.05v1.05h-1.05zM138.1 171.7h1.05v1.05h-1.05zM114.6 141.1h1.05v1.05h-1.05zM119.4 139.2h1.05v1.05h-1.05zM135.6 148.6h1.05v1.05h-1.05zM120.3 157.2h1.05v1.05h-1.05zM128.8 227.0h1.05v1.05h-1.05zM155.0 140.3h1.05v1.05h-1.05zM123.6 224.0h1.05v1.05h-1.05zM136.6 150.7h1.05v1.05h-1.05zM120.7 149.8h1.05v1.05h-1.05zM131.3 176.8h1.05v1.05h-1.05zM130.7 187.7h1.05v1.05h-1.05zM123.9 224.3h1.05v1.05h-1.05zM130.8 187.9h1.05v1.05h-1.05zM129.4 213.6h1.05v1.05h-1.05zM125.5 233.4h1.05v1.05h-1.05zM124.7 233.1h1.05v1.05h-1.05zM133.7 157.8h1.05v1.05h-1.05zM132.9 145.2h1.05v1.05h-1.05zM125.0 231.4h1.05v1.05h-1.05zM126.4 248.7h1.05v1.05h-1.05zM129.7 216.8h1.05v1.05h-1.05zM122.6 232.4h1.05v1.05h-1.05zM124.9 225.7h1.05v1.05h-1.05zM135.3 181.0h1.05v1.05h-1.05zM123.0 198.7h1.05v1.05h-1.05zM132.8 197.9h1.05v1.05h-1.05zM123.8 223.6h1.05v1.05h-1.05zM132.1 172.2h1.05v1.05h-1.05zM124.5 213.8h1.05v1.05h-1.05zM130.8 201.2h1.05v1.05h-1.05zM121.5 194.1h1.05v1.05h-1.05zM133.2 147.0h1.05v1.05h-1.05zM123.6 218.8h1.05v1.05h-1.05zM143.1 166.5h1.05v1.05h-1.05zM123.0 211.5h1.05v1.05h-1.05zM137.7 148.1h1.05v1.05h-1.05zM130.3 201.8h1.05v1.05h-1.05zM134.7 189.5h1.05v1.05h-1.05zM110.2 149.9h1.05v1.05h-1.05zM138.7 171.4h1.05v1.05h-1.05zM127.5 237.5h1.05v1.05h-1.05zM131.1 232.1h1.05v1.05h-1.05zM137.9 138.1h1.05v1.05h-1.05zM127.1 246.4h1.05v1.05h-1.05zM132.1 212.4h1.05v1.05h-1.05zM111.0 141.4h1.05v1.05h-1.05zM126.4 248.5h1.05v1.05h-1.05zM128.0 229.0h1.05v1.05h-1.05zM125.1 222.7h1.05v1.05h-1.05zM125.5 238.5h1.05v1.05h-1.05zM136.1 193.1h1.05v1.05h-1.05zM131.2 180.0h1.05v1.05h-1.05zM116.9 210.4h1.05v1.05h-1.05zM127.7 235.6h1.05v1.05h-1.05zM120.1 156.8h1.05v1.05h-1.05zM138.4 157.4h1.05v1.05h-1.05zM121.6 183.3h1.05v1.05h-1.05zM128.3 231.9h1.05v1.05h-1.05zM120.6 185.5h1.05v1.05h-1.05zM135.5 176.0h1.05v1.05h-1.05zM122.4 198.0h1.05v1.05h-1.05zM146.5 151.2h1.05v1.05h-1.05zM129.9 202.3h1.05v1.05h-1.05zM119.9 188.9h1.05v1.05h-1.05zM124.7 234.9h1.05v1.05h-1.05zM130.5 183.1h1.05v1.05h-1.05zM139.1 161.4h1.05v1.05h-1.05zM117.3 165.2h1.05v1.05h-1.05zM122.6 217.6h1.05v1.05h-1.05zM117.2 138.0h1.05v1.05h-1.05zM132.4 166.4h1.05v1.05h-1.05zM132.0 198.5h1.05v1.05h-1.05zM107.5 199.5h1.05v1.05h-1.05zM135.4 160.1h1.05v1.05h-1.05zM125.9 227.3h1.05v1.05h-1.05zM135.9 174.9h1.05v1.05h-1.05zM107.2 166.5h1.05v1.05h-1.05zM120.2 188.3h1.05v1.05h-1.05zM138.8 150.3h1.05v1.05h-1.05zM123.9 193.5h1.05v1.05h-1.05zM142.5 193.9h1.05v1.05h-1.05zM128.9 214.3h1.05v1.05h-1.05zM133.1 145.5h1.05v1.05h-1.05zM130.6 210.7h1.05v1.05h-1.05zM131.7 169.0h1.05v1.05h-1.05zM131.1 200.1h1.05v1.05h-1.05zM142.2 143.8h1.05v1.05h-1.05zM117.2 142.5h1.05v1.05h-1.05zM126.5 246.2h1.05v1.05h-1.05zM110.8 137.8h1.05v1.05h-1.05zM131.0 178.6h1.05v1.05h-1.05zM127.9 240.2h1.05v1.05h-1.05zM130.9 190.4h1.05v1.05h-1.05zM126.2 243.5h1.05v1.05h-1.05zM135.4 184.7h1.05v1.05h-1.05zM129.0 226.1h1.05v1.05h-1.05zM120.6 204.8h1.05v1.05h-1.05zM123.1 212.0h1.05v1.05h-1.05zM112.2 178.9h1.05v1.05h-1.05zM140.8 155.6h1.05v1.05h-1.05zM138.9 143.7h1.05v1.05h-1.05zM123.7 209.2h1.05v1.05h-1.05zM132.3 182.4h1.05v1.05h-1.05zM126.0 250.0h1.05v1.05h-1.05zM128.7 204.3h1.05v1.05h-1.05zM133.7 141.2h1.05v1.05h-1.05zM124.3 234.3h1.05v1.05h-1.05zM153.1 150.6h1.05v1.05h-1.05zM121.0 173.5h1.05v1.05h-1.05zM129.3 213.2h1.05v1.05h-1.05zM101.4 160.2h1.05v1.05h-1.05zM124.0 213.8h1.05v1.05h-1.05zM120.2 148.0h1.05v1.05h-1.05zM125.9 239.0h1.05v1.05h-1.05zM128.0 234.3h1.05v1.05h-1.05zM118.0 163.2h1.05v1.05h-1.05zM131.4 195.7h1.05v1.05h-1.05zM128.0 230.7h1.05v1.05h-1.05zM113.4 188.6h1.05v1.05h-1.05zM130.3 212.9h1.05v1.05h-1.05zM121.5 184.7h1.05v1.05h-1.05zM133.3 163.8h1.05v1.05h-1.05zM119.4 152.0h1.05v1.05h-1.05zM125.4 242.2h1.05v1.05h-1.05zM120.7 180.0h1.05v1.05h-1.05zM118.9 138.9h1.05v1.05h-1.05zM131.0 194.5h1.05v1.05h-1.05zM118.3 161.1h1.05v1.05h-1.05zM126.3 237.1h1.05v1.05h-1.05zM132.9 150.2h1.05v1.05h-1.05zM121.0 181.1h1.05v1.05h-1.05zM133.0 148.7h1.05v1.05h-1.05zM132.5 159.3h1.05v1.05h-1.05zM118.4 150.7h1.05v1.05h-1.05zM127.4 242.4h1.05v1.05h-1.05zM120.9 166.8h1.05v1.05h-1.05zM129.6 224.7h1.05v1.05h-1.05zM131.1 216.5h1.05v1.05h-1.05zM128.9 209.7h1.05v1.05h-1.05zM131.5 180.1h1.05v1.05h-1.05zM131.4 176.2h1.05v1.05h-1.05zM150.9 144.2h1.05v1.05h-1.05zM126.3 248.8h1.05v1.05h-1.05zM129.8 225.1h1.05v1.05h-1.05zM129.5 205.4h1.05v1.05h-1.05zM118.4 156.0h1.05v1.05h-1.05zM131.7 184.6h1.05v1.05h-1.05zM138.4 188.7h1.05v1.05h-1.05zM121.4 162.1h1.05v1.05h-1.05zM138.2 173.3h1.05v1.05h-1.05zM123.3 213.7h1.05v1.05h-1.05zM128.8 238.4h1.05v1.05h-1.05zM123.3 194.2h1.05v1.05h-1.05zM137.7 149.6h1.05v1.05h-1.05zM118.5 179.4h1.05v1.05h-1.05zM127.5 242.9h1.05v1.05h-1.05zM116.7 196.7h1.05v1.05h-1.05zM132.1 202.9h1.05v1.05h-1.05zM121.9 181.1h1.05v1.05h-1.05zM118.0 180.6h1.05v1.05h-1.05zM115.8 142.2h1.05v1.05h-1.05zM129.2 208.2h1.05v1.05h-1.05zM131.3 200.2h1.05v1.05h-1.05zM141.6 177.7h1.05v1.05h-1.05zM136.4 148.9h1.05v1.05h-1.05zM132.0 167.8h1.05v1.05h-1.05zM139.1 193.3h1.05v1.05h-1.05zM112.5 156.4h1.05v1.05h-1.05zM121.2 191.7h1.05v1.05h-1.05zM134.9 140.9h1.05v1.05h-1.05zM124.1 214.6h1.05v1.05h-1.05zM124.0 233.2h1.05v1.05h-1.05zM105.1 154.7h1.05v1.05h-1.05zM119.6 212.9h1.05v1.05h-1.05zM140.8 153.0h1.05v1.05h-1.05zM132.4 178.2h1.05v1.05h-1.05zM116.0 189.1h1.05v1.05h-1.05zM128.5 238.4h1.05v1.05h-1.05zM120.7 159.4h1.05v1.05h-1.05zM125.1 241.2h1.05v1.05h-1.05zM110.7 140.8h1.05v1.05h-1.05zM120.8 149.9h1.05v1.05h-1.05zM124.0 212.2h1.05v1.05h-1.05zM128.8 233.2h1.05v1.05h-1.05zM91.4 149.0h1.05v1.05h-1.05zM133.5 192.3h1.05v1.05h-1.05zM125.8 233.6h1.05v1.05h-1.05zM119.9 190.2h1.05v1.05h-1.05zM130.0 218.7h1.05v1.05h-1.05zM121.7 200.3h1.05v1.05h-1.05zM117.8 174.8h1.05v1.05h-1.05zM103.1 145.9h1.05v1.05h-1.05zM133.2 157.8h1.05v1.05h-1.05zM131.3 229.1h1.05v1.05h-1.05zM131.7 192.5h1.05v1.05h-1.05zM122.8 190.9h1.05v1.05h-1.05zM118.5 138.3h1.05v1.05h-1.05zM125.0 238.4h1.05v1.05h-1.05zM131.1 188.9h1.05v1.05h-1.05zM118.0 146.0h1.05v1.05h-1.05zM135.9 201.3h1.05v1.05h-1.05zM123.5 217.0h1.05v1.05h-1.05zM121.6 183.9h1.05v1.05h-1.05zM124.4 210.2h1.05v1.05h-1.05zM149.6 144.7h1.05v1.05h-1.05zM128.0 238.7h1.05v1.05h-1.05zM130.3 223.5h1.05v1.05h-1.05zM129.4 238.8h1.05v1.05h-1.05zM132.1 167.2h1.05v1.05h-1.05zM137.7 213.3h1.05v1.05h-1.05zM136.9 147.5h1.05v1.05h-1.05zM136.8 148.2h1.05v1.05h-1.05zM117.7 143.7h1.05v1.05h-1.05zM124.7 217.7h1.05v1.05h-1.05zM126.5 250.9h1.05v1.05h-1.05zM137.2 202.5h1.05v1.05h-1.05zM139.9 141.0h1.05v1.05h-1.05zM114.6 161.7h1.05v1.05h-1.05zM127.7 242.1h1.05v1.05h-1.05zM159.3 168.2h1.05v1.05h-1.05zM135.6 145.7h1.05v1.05h-1.05zM115.3 140.5h1.05v1.05h-1.05zM132.8 166.8h1.05v1.05h-1.05zM119.4 151.3h1.05v1.05h-1.05zM137.8 153.6h1.05v1.05h-1.05zM123.2 205.9h1.05v1.05h-1.05zM124.2 236.9h1.05v1.05h-1.05zM119.4 165.6h1.05v1.05h-1.05zM128.2 232.1h1.05v1.05h-1.05zM121.7 202.9h1.05v1.05h-1.05zM134.2 137.6h1.05v1.05h-1.05zM121.4 183.5h1.05v1.05h-1.05zM131.1 187.7h1.05v1.05h-1.05zM117.7 142.6h1.05v1.05h-1.05zM138.7 214.4h1.05v1.05h-1.05zM117.2 137.3h1.05v1.05h-1.05zM105.3 146.3h1.05v1.05h-1.05zM132.5 205.2h1.05v1.05h-1.05zM117.0 209.4h1.05v1.05h-1.05zM125.2 233.4h1.05v1.05h-1.05zM113.5 145.9h1.05v1.05h-1.05zM123.8 226.0h1.05v1.05h-1.05zM126.7 249.4h1.05v1.05h-1.05zM134.3 148.5h1.05v1.05h-1.05zM116.9 179.4h1.05v1.05h-1.05zM116.8 171.5h1.05v1.05h-1.05zM132.5 165.0h1.05v1.05h-1.05zM127.4 244.4h1.05v1.05h-1.05zM124.6 237.8h1.05v1.05h-1.05zM131.3 190.1h1.05v1.05h-1.05zM127.7 243.4h1.05v1.05h-1.05zM135.4 189.6h1.05v1.05h-1.05zM137.7 164.6h1.05v1.05h-1.05zM120.1 173.0h1.05v1.05h-1.05zM111.7 177.4h1.05v1.05h-1.05zM127.8 243.9h1.05v1.05h-1.05zM120.7 219.9h1.05v1.05h-1.05zM120.3 147.8h1.05v1.05h-1.05zM128.6 233.8h1.05v1.05h-1.05zM115.2 186.4h1.05v1.05h-1.05zM126.1 243.4h1.05v1.05h-1.05zM143.1 143.4h1.05v1.05h-1.05zM123.1 227.8h1.05v1.05h-1.05zM121.7 200.0h1.05v1.05h-1.05zM131.2 184.9h1.05v1.05h-1.05zM121.8 166.5h1.05v1.05h-1.05zM134.2 143.6h1.05v1.05h-1.05zM119.4 164.6h1.05v1.05h-1.05zM123.0 207.1h1.05v1.05h-1.05zM127.5 240.0h1.05v1.05h-1.05zM116.2 167.7h1.05v1.05h-1.05zM120.1 140.0h1.05v1.05h-1.05zM127.0 248.2h1.05v1.05h-1.05zM136.2 160.6h1.05v1.05h-1.05zM120.8 227.2h1.05v1.05h-1.05zM111.3 194.5h1.05v1.05h-1.05zM121.3 187.6h1.05v1.05h-1.05zM136.9 177.6h1.05v1.05h-1.05zM118.5 138.3h1.05v1.05h-1.05zM112.5 169.8h1.05v1.05h-1.05zM121.6 202.0h1.05v1.05h-1.05zM137.5 166.9h1.05v1.05h-1.05zM122.0 193.7h1.05v1.05h-1.05zM122.9 199.7h1.05v1.05h-1.05zM122.9 205.0h1.05v1.05h-1.05zM123.2 190.8h1.05v1.05h-1.05zM124.4 214.7h1.05v1.05h-1.05zM131.9 219.3h1.05v1.05h-1.05zM130.5 230.6h1.05v1.05h-1.05zM143.7 196.7h1.05v1.05h-1.05zM120.2 213.3h1.05v1.05h-1.05zM133.1 154.1h1.05v1.05h-1.05zM134.8 152.9h1.05v1.05h-1.05zM119.9 207.5h1.05v1.05h-1.05zM122.2 177.1h1.05v1.05h-1.05zM112.5 147.3h1.05v1.05h-1.05zM129.5 205.8h1.05v1.05h-1.05zM133.4 184.1h1.05v1.05h-1.05zM136.0 196.3h1.05v1.05h-1.05zM120.4 173.8h1.05v1.05h-1.05zM136.8 141.3h1.05v1.05h-1.05zM125.4 231.8h1.05v1.05h-1.05zM141.4 140.7h1.05v1.05h-1.05zM121.2 172.1h1.05v1.05h-1.05zM133.3 158.3h1.05v1.05h-1.05zM118.0 175.4h1.05v1.05h-1.05zM133.9 150.6h1.05v1.05h-1.05zM129.4 209.5h1.05v1.05h-1.05zM188.6 167.6h1.05v1.05h-1.05zM148.0 216.7h1.05v1.05h-1.05zM123.0 189.1h1.05v1.05h-1.05zM120.8 170.4h1.05v1.05h-1.05zM128.5 224.2h1.05v1.05h-1.05zM126.5 241.9h1.05v1.05h-1.05zM133.4 158.9h1.05v1.05h-1.05zM112.6 157.0h1.05v1.05h-1.05zM131.3 172.1h1.05v1.05h-1.05zM124.3 210.1h1.05v1.05h-1.05zM131.5 172.9h1.05v1.05h-1.05zM129.0 238.8h1.05v1.05h-1.05zM121.4 172.5h1.05v1.05h-1.05zM136.8 181.7h1.05v1.05h-1.05zM120.9 177.3h1.05v1.05h-1.05zM118.0 195.9h1.05v1.05h-1.05zM122.9 221.3h1.05v1.05h-1.05zM120.4 165.7h1.05v1.05h-1.05zM121.7 194.0h1.05v1.05h-1.05zM134.4 163.7h1.05v1.05h-1.05zM129.7 205.2h1.05v1.05h-1.05zM128.3 238.3h1.05v1.05h-1.05zM148.1 185.4h1.05v1.05h-1.05zM151.4 176.7h1.05v1.05h-1.05zM137.8 145.2h1.05v1.05h-1.05zM137.1 148.8h1.05v1.05h-1.05zM127.7 242.4h1.05v1.05h-1.05zM114.1 160.9h1.05v1.05h-1.05zM131.9 217.0h1.05v1.05h-1.05zM114.1 168.8h1.05v1.05h-1.05zM122.6 203.5h1.05v1.05h-1.05zM117.8 210.0h1.05v1.05h-1.05zM123.0 191.3h1.05v1.05h-1.05zM130.7 186.7h1.05v1.05h-1.05zM131.4 169.1h1.05v1.05h-1.05zM118.7 175.1h1.05v1.05h-1.05zM117.4 170.8h1.05v1.05h-1.05zM134.6 202.9h1.05v1.05h-1.05zM117.2 170.9h1.05v1.05h-1.05zM123.4 207.3h1.05v1.05h-1.05zM117.9 178.4h1.05v1.05h-1.05zM130.4 194.5h1.05v1.05h-1.05zM118.4 183.2h1.05v1.05h-1.05zM125.9 248.1h1.05v1.05h-1.05zM120.2 190.2h1.05v1.05h-1.05zM123.3 221.9h1.05v1.05h-1.05zM123.2 202.7h1.05v1.05h-1.05zM127.9 240.2h1.05v1.05h-1.05zM119.0 173.1h1.05v1.05h-1.05zM136.1 148.2h1.05v1.05h-1.05zM130.9 206.3h1.05v1.05h-1.05zM124.6 236.1h1.05v1.05h-1.05zM118.6 177.0h1.05v1.05h-1.05zM129.3 233.3h1.05v1.05h-1.05zM138.3 148.4h1.05v1.05h-1.05zM125.3 233.9h1.05v1.05h-1.05zM121.9 205.5h1.05v1.05h-1.05zM120.0 190.6h1.05v1.05h-1.05zM128.8 234.5h1.05v1.05h-1.05zM130.1 210.4h1.05v1.05h-1.05zM131.2 215.4h1.05v1.05h-1.05zM139.3 167.1h1.05v1.05h-1.05zM115.0 138.6h1.05v1.05h-1.05zM122.8 205.3h1.05v1.05h-1.05zM119.5 158.9h1.05v1.05h-1.05zM124.9 231.6h1.05v1.05h-1.05zM121.2 181.3h1.05v1.05h-1.05zM123.0 197.5h1.05v1.05h-1.05zM124.1 213.9h1.05v1.05h-1.05zM116.3 155.6h1.05v1.05h-1.05zM121.2 163.5h1.05v1.05h-1.05zM128.9 232.4h1.05v1.05h-1.05zM130.9 213.4h1.05v1.05h-1.05zM116.9 155.9h1.05v1.05h-1.05zM139.2 138.0h1.05v1.05h-1.05zM133.4 177.9h1.05v1.05h-1.05zM133.1 150.4h1.05v1.05h-1.05zM142.2 138.8h1.05v1.05h-1.05zM110.1 164.2h1.05v1.05h-1.05zM119.0 174.4h1.05v1.05h-1.05zM131.8 221.8h1.05v1.05h-1.05zM130.6 204.5h1.05v1.05h-1.05zM131.2 176.6h1.05v1.05h-1.05zM115.7 144.8h1.05v1.05h-1.05zM129.9 212.3h1.05v1.05h-1.05zM130.4 201.7h1.05v1.05h-1.05zM125.8 247.4h1.05v1.05h-1.05zM132.6 168.8h1.05v1.05h-1.05zM130.3 196.3h1.05v1.05h-1.05zM136.1 158.2h1.05v1.05h-1.05zM129.8 220.3h1.05v1.05h-1.05zM116.3 172.8h1.05v1.05h-1.05zM134.4 171.3h1.05v1.05h-1.05zM123.0 194.0h1.05v1.05h-1.05zM128.3 225.7h1.05v1.05h-1.05zM113.5 200.8h1.05v1.05h-1.05zM112.3 163.7h1.05v1.05h-1.05zM129.7 225.6h1.05v1.05h-1.05zM127.5 238.0h1.05v1.05h-1.05zM121.8 194.2h1.05v1.05h-1.05zM133.2 220.2h1.05v1.05h-1.05zM113.4 157.9h1.05v1.05h-1.05zM134.3 156.1h1.05v1.05h-1.05zM176.4 142.8h1.05v1.05h-1.05zM116.8 153.8h1.05v1.05h-1.05zM120.8 174.1h1.05v1.05h-1.05zM128.3 225.9h1.05v1.05h-1.05zM120.2 155.5h1.05v1.05h-1.05zM132.6 165.5h1.05v1.05h-1.05zM121.7 163.5h1.05v1.05h-1.05zM116.6 168.7h1.05v1.05h-1.05zM116.5 154.8h1.05v1.05h-1.05zM130.1 212.8h1.05v1.05h-1.05zM118.9 171.4h1.05v1.05h-1.05zM121.5 188.2h1.05v1.05h-1.05zM129.6 208.2h1.05v1.05h-1.05zM123.5 209.5h1.05v1.05h-1.05zM128.4 229.7h1.05v1.05h-1.05zM132.4 191.0h1.05v1.05h-1.05zM121.3 204.7h1.05v1.05h-1.05zM119.4 198.7h1.05v1.05h-1.05zM147.7 152.5h1.05v1.05h-1.05zM119.5 170.4h1.05v1.05h-1.05zM134.2 170.6h1.05v1.05h-1.05zM136.7 138.8h1.05v1.05h-1.05zM122.9 222.2h1.05v1.05h-1.05zM133.1 189.2h1.05v1.05h-1.05zM128.0 237.7h1.05v1.05h-1.05zM122.4 202.0h1.05v1.05h-1.05zM135.6 142.3h1.05v1.05h-1.05zM125.3 238.6h1.05v1.05h-1.05zM135.0 162.4h1.05v1.05h-1.05zM136.6 151.1h1.05v1.05h-1.05zM132.5 189.1h1.05v1.05h-1.05zM146.0 158.2h1.05v1.05h-1.05zM122.4 196.6h1.05v1.05h-1.05zM121.9 206.4h1.05v1.05h-1.05zM114.9 189.4h1.05v1.05h-1.05zM127.7 225.0h1.05v1.05h-1.05zM114.4 211.7h1.05v1.05h-1.05zM123.9 211.9h1.05v1.05h-1.05zM146.0 138.4h1.05v1.05h-1.05zM145.0 208.5h1.05v1.05h-1.05zM129.2 220.9h1.05v1.05h-1.05zM138.9 143.4h1.05v1.05h-1.05zM125.9 231.8h1.05v1.05h-1.05zM114.4 140.7h1.05v1.05h-1.05zM117.3 152.3h1.05v1.05h-1.05zM121.6 174.1h1.05v1.05h-1.05zM131.6 198.0h1.05v1.05h-1.05zM130.4 224.7h1.05v1.05h-1.05zM125.5 235.9h1.05v1.05h-1.05zM128.8 236.3h1.05v1.05h-1.05zM132.4 206.9h1.05v1.05h-1.05zM76.8 200.3h1.05v1.05h-1.05zM118.6 145.0h1.05v1.05h-1.05zM110.9 186.1h1.05v1.05h-1.05zM141.6 138.2h1.05v1.05h-1.05zM121.2 166.2h1.05v1.05h-1.05zM120.8 230.9h1.05v1.05h-1.05zM140.2 184.2h1.05v1.05h-1.05zM128.2 229.3h1.05v1.05h-1.05zM122.0 244.9h1.05v1.05h-1.05zM113.7 143.0h1.05v1.05h-1.05zM133.2 208.2h1.05v1.05h-1.05zM129.2 225.6h1.05v1.05h-1.05zM129.1 236.5h1.05v1.05h-1.05zM132.8 173.6h1.05v1.05h-1.05zM130.1 194.3h1.05v1.05h-1.05zM127.2 249.0h1.05v1.05h-1.05zM135.8 166.9h1.05v1.05h-1.05zM124.8 217.6h1.05v1.05h-1.05zM133.3 160.0h1.05v1.05h-1.05zM130.5 191.3h1.05v1.05h-1.05zM143.4 186.2h1.05v1.05h-1.05zM140.9 194.8h1.05v1.05h-1.05zM138.0 171.0h1.05v1.05h-1.05zM136.6 138.2h1.05v1.05h-1.05zM84.3 158.1h1.05v1.05h-1.05zM127.9 240.8h1.05v1.05h-1.05zM117.6 190.6h1.05v1.05h-1.05zM134.0 220.2h1.05v1.05h-1.05zM128.1 236.4h1.05v1.05h-1.05zM128.9 224.9h1.05v1.05h-1.05zM128.9 218.6h1.05v1.05h-1.05zM113.1 141.3h1.05v1.05h-1.05zM132.9 163.7h1.05v1.05h-1.05zM115.5 152.4h1.05v1.05h-1.05zM135.0 168.6h1.05v1.05h-1.05zM129.2 210.7h1.05v1.05h-1.05zM122.7 202.2h1.05v1.05h-1.05zM116.3 196.6h1.05v1.05h-1.05zM129.9 213.3h1.05v1.05h-1.05zM120.6 198.7h1.05v1.05h-1.05zM112.7 160.9h1.05v1.05h-1.05zM127.9 239.9h1.05v1.05h-1.05zM122.4 215.3h1.05v1.05h-1.05zM133.4 192.4h1.05v1.05h-1.05zM145.1 171.0h1.05v1.05h-1.05zM119.7 174.2h1.05v1.05h-1.05zM121.5 165.8h1.05v1.05h-1.05zM128.5 236.1h1.05v1.05h-1.05zM123.5 226.7h1.05v1.05h-1.05zM132.5 211.5h1.05v1.05h-1.05zM133.3 214.7h1.05v1.05h-1.05zM117.6 162.6h1.05v1.05h-1.05zM119.0 137.9h1.05v1.05h-1.05zM134.3 170.3h1.05v1.05h-1.05zM126.8 245.8h1.05v1.05h-1.05zM123.3 212.8h1.05v1.05h-1.05zM117.4 157.6h1.05v1.05h-1.05zM116.9 145.0h1.05v1.05h-1.05zM122.0 179.7h1.05v1.05h-1.05zM121.9 206.9h1.05v1.05h-1.05zM130.9 206.2h1.05v1.05h-1.05zM116.7 175.6h1.05v1.05h-1.05zM118.8 151.2h1.05v1.05h-1.05zM124.1 207.9h1.05v1.05h-1.05zM129.3 225.4h1.05v1.05h-1.05zM126.4 250.5h1.05v1.05h-1.05zM123.7 232.0h1.05v1.05h-1.05zM110.6 152.6h1.05v1.05h-1.05zM138.4 176.5h1.05v1.05h-1.05zM116.1 138.2h1.05v1.05h-1.05zM127.3 240.7h1.05v1.05h-1.05zM122.9 205.0h1.05v1.05h-1.05zM119.1 158.4h1.05v1.05h-1.05zM121.8 172.6h1.05v1.05h-1.05zM127.9 241.1h1.05v1.05h-1.05zM131.1 201.0h1.05v1.05h-1.05zM131.1 175.1h1.05v1.05h-1.05zM116.5 169.8h1.05v1.05h-1.05zM115.4 195.4h1.05v1.05h-1.05zM132.4 225.8h1.05v1.05h-1.05zM140.4 140.7h1.05v1.05h-1.05zM116.7 193.7h1.05v1.05h-1.05zM115.6 166.6h1.05v1.05h-1.05zM116.1 186.2h1.05v1.05h-1.05zM127.8 239.3h1.05v1.05h-1.05zM123.4 219.9h1.05v1.05h-1.05zM127.2 241.6h1.05v1.05h-1.05zM128.4 225.4h1.05v1.05h-1.05zM121.7 224.3h1.05v1.05h-1.05zM119.5 199.5h1.05v1.05h-1.05zM124.3 210.0h1.05v1.05h-1.05zM129.3 205.4h1.05v1.05h-1.05zM119.5 156.1h1.05v1.05h-1.05zM126.8 247.5h1.05v1.05h-1.05zM128.5 236.3h1.05v1.05h-1.05zM101.4 157.1h1.05v1.05h-1.05zM121.6 186.3h1.05v1.05h-1.05zM130.7 196.8h1.05v1.05h-1.05zM130.2 216.3h1.05v1.05h-1.05zM143.6 185.4h1.05v1.05h-1.05zM128.6 221.7h1.05v1.05h-1.05zM117.7 151.8h1.05v1.05h-1.05zM137.3 155.4h1.05v1.05h-1.05zM131.5 210.0h1.05v1.05h-1.05zM126.5 247.0h1.05v1.05h-1.05zM134.3 148.8h1.05v1.05h-1.05zM122.4 212.7h1.05v1.05h-1.05zM136.6 173.1h1.05v1.05h-1.05zM135.2 151.8h1.05v1.05h-1.05zM118.7 158.1h1.05v1.05h-1.05zM107.7 151.4h1.05v1.05h-1.05zM113.7 191.2h1.05v1.05h-1.05zM120.9 153.5h1.05v1.05h-1.05zM142.5 194.3h1.05v1.05h-1.05zM124.3 216.7h1.05v1.05h-1.05zM131.1 192.1h1.05v1.05h-1.05zM135.7 208.5h1.05v1.05h-1.05zM94.7 161.4h1.05v1.05h-1.05zM120.4 154.6h1.05v1.05h-1.05zM124.7 231.5h1.05v1.05h-1.05zM128.6 228.6h1.05v1.05h-1.05zM123.0 203.0h1.05v1.05h-1.05zM133.4 194.1h1.05v1.05h-1.05zM138.6 141.7h1.05v1.05h-1.05zM134.0 143.2h1.05v1.05h-1.05zM66.5 140.6h1.05v1.05h-1.05zM120.8 165.3h1.05v1.05h-1.05zM122.2 170.9h1.05v1.05h-1.05zM122.1 216.0h1.05v1.05h-1.05zM121.9 204.2h1.05v1.05h-1.05zM126.3 250.5h1.05v1.05h-1.05zM135.0 154.5h1.05v1.05h-1.05zM129.1 215.3h1.05v1.05h-1.05zM127.6 239.4h1.05v1.05h-1.05zM124.0 210.7h1.05v1.05h-1.05zM124.0 209.9h1.05v1.05h-1.05zM135.2 165.9h1.05v1.05h-1.05zM126.6 250.0h1.05v1.05h-1.05zM128.5 220.7h1.05v1.05h-1.05zM120.6 147.9h1.05v1.05h-1.05zM113.5 152.2h1.05v1.05h-1.05zM131.8 176.0h1.05v1.05h-1.05zM132.6 183.6h1.05v1.05h-1.05zM123.5 221.6h1.05v1.05h-1.05zM119.5 150.1h1.05v1.05h-1.05zM132.0 162.0h1.05v1.05h-1.05zM132.7 188.6h1.05v1.05h-1.05zM125.2 229.1h1.05v1.05h-1.05zM130.4 222.4h1.05v1.05h-1.05zM129.8 203.5h1.05v1.05h-1.05zM123.7 209.0h1.05v1.05h-1.05zM125.6 241.9h1.05v1.05h-1.05zM122.8 200.4h1.05v1.05h-1.05zM130.3 195.7h1.05v1.05h-1.05zM130.2 214.0h1.05v1.05h-1.05zM123.0 202.9h1.05v1.05h-1.05zM122.8 208.8h1.05v1.05h-1.05zM135.3 203.8h1.05v1.05h-1.05zM121.4 177.1h1.05v1.05h-1.05zM132.7 190.3h1.05v1.05h-1.05zM124.2 224.6h1.05v1.05h-1.05zM120.1 158.4h1.05v1.05h-1.05zM113.1 188.6h1.05v1.05h-1.05zM130.3 194.6h1.05v1.05h-1.05zM116.0 167.0h1.05v1.05h-1.05zM120.9 162.9h1.05v1.05h-1.05zM101.8 152.8h1.05v1.05h-1.05zM136.7 156.7h1.05v1.05h-1.05zM131.4 171.8h1.05v1.05h-1.05zM133.0 166.2h1.05v1.05h-1.05zM130.9 229.5h1.05v1.05h-1.05zM119.8 168.5h1.05v1.05h-1.05zM139.1 217.8h1.05v1.05h-1.05zM122.8 217.5h1.05v1.05h-1.05zM133.7 234.2h1.05v1.05h-1.05zM106.6 201.5h1.05v1.05h-1.05zM126.0 247.7h1.05v1.05h-1.05zM132.9 173.0h1.05v1.05h-1.05zM120.3 163.4h1.05v1.05h-1.05zM134.7 160.5h1.05v1.05h-1.05zM129.2 233.1h1.05v1.05h-1.05zM121.4 174.7h1.05v1.05h-1.05zM137.4 153.9h1.05v1.05h-1.05zM127.8 245.4h1.05v1.05h-1.05zM118.0 225.1h1.05v1.05h-1.05zM129.3 216.3h1.05v1.05h-1.05zM119.6 194.2h1.05v1.05h-1.05zM131.3 227.7h1.05v1.05h-1.05zM132.8 185.8h1.05v1.05h-1.05zM121.3 207.5h1.05v1.05h-1.05zM119.9 173.2h1.05v1.05h-1.05zM122.2 186.6h1.05v1.05h-1.05zM135.1 169.9h1.05v1.05h-1.05zM122.2 218.8h1.05v1.05h-1.05zM121.0 167.7h1.05v1.05h-1.05zM132.5 164.8h1.05v1.05h-1.05zM120.5 166.1h1.05v1.05h-1.05zM125.6 240.9h1.05v1.05h-1.05zM64.1 142.7h1.05v1.05h-1.05zM120.8 181.7h1.05v1.05h-1.05zM129.4 215.8h1.05v1.05h-1.05zM133.8 197.3h1.05v1.05h-1.05zM122.9 188.1h1.05v1.05h-1.05zM116.0 188.1h1.05v1.05h-1.05zM132.0 218.6h1.05v1.05h-1.05zM124.7 216.6h1.05v1.05h-1.05zM123.2 205.3h1.05v1.05h-1.05zM104.2 159.9h1.05v1.05h-1.05zM110.4 197.0h1.05v1.05h-1.05zM127.9 245.0h1.05v1.05h-1.05zM132.8 195.3h1.05v1.05h-1.05zM130.7 224.2h1.05v1.05h-1.05zM126.2 248.9h1.05v1.05h-1.05zM139.0 139.6h1.05v1.05h-1.05zM120.4 213.3h1.05v1.05h-1.05zM130.7 185.9h1.05v1.05h-1.05zM130.5 205.9h1.05v1.05h-1.05zM125.9 242.9h1.05v1.05h-1.05zM142.1 147.4h1.05v1.05h-1.05zM139.9 143.8h1.05v1.05h-1.05zM124.3 226.0h1.05v1.05h-1.05zM134.5 199.1h1.05v1.05h-1.05zM123.7 204.1h1.05v1.05h-1.05zM124.6 228.3h1.05v1.05h-1.05zM120.9 172.5h1.05v1.05h-1.05zM133.0 159.8h1.05v1.05h-1.05zM114.9 162.1h1.05v1.05h-1.05zM134.2 171.1h1.05v1.05h-1.05zM127.1 248.1h1.05v1.05h-1.05zM131.2 220.8h1.05v1.05h-1.05zM117.1 188.4h1.05v1.05h-1.05zM133.7 168.2h1.05v1.05h-1.05zM118.6 202.7h1.05v1.05h-1.05zM121.3 195.7h1.05v1.05h-1.05zM139.4 153.7h1.05v1.05h-1.05zM126.2 247.2h1.05v1.05h-1.05zM124.1 216.2h1.05v1.05h-1.05zM129.6 213.7h1.05v1.05h-1.05zM134.8 137.9h1.05v1.05h-1.05zM125.1 221.0h1.05v1.05h-1.05zM126.3 243.8h1.05v1.05h-1.05zM116.8 199.3h1.05v1.05h-1.05zM120.7 173.8h1.05v1.05h-1.05zM122.8 230.0h1.05v1.05h-1.05zM132.7 153.8h1.05v1.05h-1.05zM123.9 224.7h1.05v1.05h-1.05zM116.6 168.0h1.05v1.05h-1.05zM127.9 229.0h1.05v1.05h-1.05zM117.3 149.4h1.05v1.05h-1.05zM129.3 224.2h1.05v1.05h-1.05zM106.0 165.1h1.05v1.05h-1.05zM137.4 153.9h1.05v1.05h-1.05zM124.0 217.8h1.05v1.05h-1.05zM127.4 237.7h1.05v1.05h-1.05zM121.2 180.7h1.05v1.05h-1.05zM122.7 190.2h1.05v1.05h-1.05zM130.7 192.3h1.05v1.05h-1.05zM116.6 159.9h1.05v1.05h-1.05zM122.8 194.1h1.05v1.05h-1.05zM136.8 190.4h1.05v1.05h-1.05zM135.9 191.4h1.05v1.05h-1.05zM115.4 195.1h1.05v1.05h-1.05zM121.2 200.5h1.05v1.05h-1.05zM129.0 229.1h1.05v1.05h-1.05zM120.6 213.1h1.05v1.05h-1.05zM123.5 216.6h1.05v1.05h-1.05zM129.9 218.6h1.05v1.05h-1.05zM135.0 159.7h1.05v1.05h-1.05zM128.7 234.9h1.05v1.05h-1.05zM155.7 223.7h1.05v1.05h-1.05zM122.7 187.2h1.05v1.05h-1.05zM123.5 211.1h1.05v1.05h-1.05zM119.1 219.5h1.05v1.05h-1.05zM123.4 204.2h1.05v1.05h-1.05zM134.0 189.8h1.05v1.05h-1.05zM136.6 171.2h1.05v1.05h-1.05zM135.1 140.0h1.05v1.05h-1.05zM117.3 152.4h1.05v1.05h-1.05zM131.8 197.8h1.05v1.05h-1.05zM119.7 195.4h1.05v1.05h-1.05zM123.2 199.4h1.05v1.05h-1.05zM129.5 219.7h1.05v1.05h-1.05zM103.0 142.2h1.05v1.05h-1.05zM128.3 240.9h1.05v1.05h-1.05zM120.7 223.7h1.05v1.05h-1.05zM121.4 172.5h1.05v1.05h-1.05zM134.9 180.3h1.05v1.05h-1.05zM132.7 215.0h1.05v1.05h-1.05zM116.8 143.7h1.05v1.05h-1.05zM137.4 200.1h1.05v1.05h-1.05zM122.0 179.6h1.05v1.05h-1.05zM125.3 237.9h1.05v1.05h-1.05zM135.6 148.4h1.05v1.05h-1.05zM121.4 236.4h1.05v1.05h-1.05zM130.9 201.8h1.05v1.05h-1.05zM133.3 149.0h1.05v1.05h-1.05zM134.0 142.8h1.05v1.05h-1.05zM138.3 147.1h1.05v1.05h-1.05zM133.9 155.0h1.05v1.05h-1.05zM123.7 220.3h1.05v1.05h-1.05zM125.8 246.0h1.05v1.05h-1.05zM140.7 195.4h1.05v1.05h-1.05zM124.8 241.6h1.05v1.05h-1.05zM167.5 141.2h1.05v1.05h-1.05zM126.1 249.6h1.05v1.05h-1.05zM122.1 209.6h1.05v1.05h-1.05zM121.5 223.9h1.05v1.05h-1.05zM126.7 248.7h1.05v1.05h-1.05zM136.0 190.1h1.05v1.05h-1.05zM127.0 239.9h1.05v1.05h-1.05zM133.3 147.5h1.05v1.05h-1.05zM119.2 169.8h1.05v1.05h-1.05zM132.5 204.5h1.05v1.05h-1.05zM139.7 153.6h1.05v1.05h-1.05zM142.7 158.2h1.05v1.05h-1.05zM132.0 209.5h1.05v1.05h-1.05zM138.2 153.0h1.05v1.05h-1.05zM180.2 144.5h1.05v1.05h-1.05zM121.7 177.0h1.05v1.05h-1.05zM121.3 206.6h1.05v1.05h-1.05zM104.4 147.4h1.05v1.05h-1.05zM113.9 143.1h1.05v1.05h-1.05zM123.8 207.1h1.05v1.05h-1.05zM125.1 238.5h1.05v1.05h-1.05zM144.9 150.8h1.05v1.05h-1.05zM138.0 172.2h1.05v1.05h-1.05zM131.6 220.5h1.05v1.05h-1.05zM116.3 182.7h1.05v1.05h-1.05zM129.3 211.6h1.05v1.05h-1.05zM116.8 145.5h1.05v1.05h-1.05zM129.8 207.7h1.05v1.05h-1.05zM123.4 224.8h1.05v1.05h-1.05zM125.9 244.3h1.05v1.05h-1.05zM123.7 207.7h1.05v1.05h-1.05zM116.0 138.3h1.05v1.05h-1.05zM124.0 222.1h1.05v1.05h-1.05zM131.3 194.7h1.05v1.05h-1.05zM134.4 140.1h1.05v1.05h-1.05zM127.1 249.8h1.05v1.05h-1.05zM129.3 213.1h1.05v1.05h-1.05zM120.3 155.7h1.05v1.05h-1.05zM122.4 237.3h1.05v1.05h-1.05zM145.7 144.6h1.05v1.05h-1.05zM148.4 154.3h1.05v1.05h-1.05zM125.4 231.3h1.05v1.05h-1.05zM160.0 180.0h1.05v1.05h-1.05zM121.9 184.0h1.05v1.05h-1.05zM120.8 169.1h1.05v1.05h-1.05zM121.7 211.8h1.05v1.05h-1.05zM129.8 202.9h1.05v1.05h-1.05zM129.8 219.5h1.05v1.05h-1.05zM123.9 213.5h1.05v1.05h-1.05zM123.5 227.3h1.05v1.05h-1.05zM134.3 147.0h1.05v1.05h-1.05zM134.3 148.8h1.05v1.05h-1.05zM120.6 205.7h1.05v1.05h-1.05zM116.6 169.2h1.05v1.05h-1.05zM118.1 191.1h1.05v1.05h-1.05zM121.6 214.8h1.05v1.05h-1.05zM138.8 206.9h1.05v1.05h-1.05zM138.3 140.8h1.05v1.05h-1.05zM134.5 207.8h1.05v1.05h-1.05zM116.1 181.5h1.05v1.05h-1.05zM144.9 142.8h1.05v1.05h-1.05zM135.6 212.8h1.05v1.05h-1.05zM144.7 157.0h1.05v1.05h-1.05zM128.6 234.9h1.05v1.05h-1.05zM138.0 164.9h1.05v1.05h-1.05zM121.0 157.2h1.05v1.05h-1.05zM139.5 154.0h1.05v1.05h-1.05zM137.4 139.8h1.05v1.05h-1.05zM121.7 167.3h1.05v1.05h-1.05zM116.5 139.5h1.05v1.05h-1.05zM124.1 215.1h1.05v1.05h-1.05zM130.6 187.7h1.05v1.05h-1.05zM122.7 222.6h1.05v1.05h-1.05zM125.0 238.9h1.05v1.05h-1.05zM122.6 196.8h1.05v1.05h-1.05zM121.2 166.4h1.05v1.05h-1.05zM119.6 160.2h1.05v1.05h-1.05zM126.4 248.2h1.05v1.05h-1.05zM115.8 143.1h1.05v1.05h-1.05zM125.0 218.7h1.05v1.05h-1.05zM124.0 213.4h1.05v1.05h-1.05zM132.5 154.5h1.05v1.05h-1.05zM120.3 148.1h1.05v1.05h-1.05zM118.5 164.6h1.05v1.05h-1.05zM117.1 208.8h1.05v1.05h-1.05zM131.8 194.1h1.05v1.05h-1.05zM117.5 154.3h1.05v1.05h-1.05zM132.0 206.0h1.05v1.05h-1.05zM148.8 157.4h1.05v1.05h-1.05zM114.0 159.8h1.05v1.05h-1.05zM121.9 193.5h1.05v1.05h-1.05zM133.8 147.9h1.05v1.05h-1.05zM123.2 202.9h1.05v1.05h-1.05zM114.9 163.2h1.05v1.05h-1.05zM134.8 174.9h1.05v1.05h-1.05zM128.8 208.9h1.05v1.05h-1.05zM119.6 186.6h1.05v1.05h-1.05zM116.0 178.5h1.05v1.05h-1.05zM156.5 186.0h1.05v1.05h-1.05zM124.0 235.4h1.05v1.05h-1.05zM140.1 138.1h1.05v1.05h-1.05zM100.3 140.6h1.05v1.05h-1.05zM126.9 245.1h1.05v1.05h-1.05zM137.2 142.9h1.05v1.05h-1.05zM122.4 186.6h1.05v1.05h-1.05zM128.0 233.5h1.05v1.05h-1.05zM116.7 155.8h1.05v1.05h-1.05zM130.4 197.5h1.05v1.05h-1.05zM117.9 167.1h1.05v1.05h-1.05zM138.8 155.1h1.05v1.05h-1.05zM136.4 185.9h1.05v1.05h-1.05zM126.1 243.4h1.05v1.05h-1.05zM119.5 155.6h1.05v1.05h-1.05zM121.6 169.1h1.05v1.05h-1.05zM113.8 146.4h1.05v1.05h-1.05zM123.9 216.0h1.05v1.05h-1.05zM144.0 159.5h1.05v1.05h-1.05zM119.2 150.3h1.05v1.05h-1.05zM132.7 206.2h1.05v1.05h-1.05zM123.5 200.0h1.05v1.05h-1.05zM132.0 208.6h1.05v1.05h-1.05zM126.4 250.0h1.05v1.05h-1.05zM122.4 220.6h1.05v1.05h-1.05zM134.9 208.9h1.05v1.05h-1.05zM125.1 235.7h1.05v1.05h-1.05zM132.5 161.5h1.05v1.05h-1.05zM132.6 198.1h1.05v1.05h-1.05zM135.1 182.6h1.05v1.05h-1.05zM123.7 214.3h1.05v1.05h-1.05zM130.1 205.6h1.05v1.05h-1.05zM134.6 162.8h1.05v1.05h-1.05zM122.2 193.4h1.05v1.05h-1.05zM113.6 179.5h1.05v1.05h-1.05zM120.3 198.6h1.05v1.05h-1.05zM131.3 183.8h1.05v1.05h-1.05zM133.8 147.8h1.05v1.05h-1.05zM132.0 216.3h1.05v1.05h-1.05zM121.4 188.0h1.05v1.05h-1.05zM132.4 169.8h1.05v1.05h-1.05zM129.2 238.5h1.05v1.05h-1.05zM149.6 141.1h1.05v1.05h-1.05zM141.0 190.2h1.05v1.05h-1.05zM117.2 218.9h1.05v1.05h-1.05zM135.6 162.1h1.05v1.05h-1.05zM133.8 156.3h1.05v1.05h-1.05zM118.4 175.9h1.05v1.05h-1.05zM135.5 145.8h1.05v1.05h-1.05zM129.2 238.2h1.05v1.05h-1.05zM130.4 187.0h1.05v1.05h-1.05zM111.5 163.9h1.05v1.05h-1.05zM111.6 145.8h1.05v1.05h-1.05zM114.6 174.7h1.05v1.05h-1.05zM133.0 178.9h1.05v1.05h-1.05zM115.0 202.5h1.05v1.05h-1.05zM122.6 182.2h1.05v1.05h-1.05zM119.7 184.1h1.05v1.05h-1.05zM118.1 147.0h1.05v1.05h-1.05zM104.9 155.1h1.05v1.05h-1.05zM121.1 164.5h1.05v1.05h-1.05zM113.9 145.0h1.05v1.05h-1.05zM127.9 241.2h1.05v1.05h-1.05zM120.0 161.1h1.05v1.05h-1.05zM117.1 194.1h1.05v1.05h-1.05zM118.6 163.0h1.05v1.05h-1.05zM134.6 213.0h1.05v1.05h-1.05zM130.2 193.6h1.05v1.05h-1.05zM135.0 155.3h1.05v1.05h-1.05zM127.0 245.5h1.05v1.05h-1.05zM121.9 213.6h1.05v1.05h-1.05zM130.2 191.3h1.05v1.05h-1.05zM134.0 152.5h1.05v1.05h-1.05zM124.7 216.0h1.05v1.05h-1.05zM143.7 155.5h1.05v1.05h-1.05zM120.4 219.0h1.05v1.05h-1.05zM119.3 212.2h1.05v1.05h-1.05zM132.8 184.2h1.05v1.05h-1.05zM134.5 173.4h1.05v1.05h-1.05zM133.4 149.6h1.05v1.05h-1.05zM135.4 149.6h1.05v1.05h-1.05zM120.2 218.4h1.05v1.05h-1.05zM118.6 163.6h1.05v1.05h-1.05zM143.1 175.4h1.05v1.05h-1.05zM123.7 202.7h1.05v1.05h-1.05zM134.8 160.4h1.05v1.05h-1.05zM116.0 147.8h1.05v1.05h-1.05zM131.9 192.3h1.05v1.05h-1.05zM119.7 145.8h1.05v1.05h-1.05zM127.9 233.2h1.05v1.05h-1.05zM130.2 228.4h1.05v1.05h-1.05zM118.3 161.7h1.05v1.05h-1.05zM124.6 211.9h1.05v1.05h-1.05zM133.4 180.7h1.05v1.05h-1.05zM130.6 190.4h1.05v1.05h-1.05zM129.0 230.9h1.05v1.05h-1.05zM141.9 162.7h1.05v1.05h-1.05zM142.4 164.1h1.05v1.05h-1.05zM129.5 231.0h1.05v1.05h-1.05zM130.6 217.2h1.05v1.05h-1.05zM177.2 157.9h1.05v1.05h-1.05zM136.8 146.2h1.05v1.05h-1.05zM140.1 150.6h1.05v1.05h-1.05zM131.1 189.8h1.05v1.05h-1.05zM121.1 204.8h1.05v1.05h-1.05zM152.2 196.1h1.05v1.05h-1.05zM125.0 227.2h1.05v1.05h-1.05zM136.1 190.5h1.05v1.05h-1.05zM121.1 220.6h1.05v1.05h-1.05zM124.7 228.9h1.05v1.05h-1.05zM121.7 203.3h1.05v1.05h-1.05zM126.1 241.5h1.05v1.05h-1.05zM135.2 193.3h1.05v1.05h-1.05zM120.4 168.9h1.05v1.05h-1.05zM111.4 173.6h1.05v1.05h-1.05zM134.0 139.7h1.05v1.05h-1.05zM120.5 149.0h1.05v1.05h-1.05zM112.3 175.5h1.05v1.05h-1.05zM118.5 147.7h1.05v1.05h-1.05zM131.9 196.2h1.05v1.05h-1.05zM132.3 158.0h1.05v1.05h-1.05zM113.9 214.3h1.05v1.05h-1.05zM122.3 187.1h1.05v1.05h-1.05zM118.9 139.3h1.05v1.05h-1.05zM120.6 179.3h1.05v1.05h-1.05zM119.3 189.3h1.05v1.05h-1.05zM149.8 159.2h1.05v1.05h-1.05zM123.1 211.1h1.05v1.05h-1.05zM117.1 154.7h1.05v1.05h-1.05zM127.3 247.9h1.05v1.05h-1.05zM119.4 219.8h1.05v1.05h-1.05zM129.3 227.1h1.05v1.05h-1.05zM114.5 217.5h1.05v1.05h-1.05zM136.8 142.8h1.05v1.05h-1.05zM127.4 247.1h1.05v1.05h-1.05zM129.6 212.7h1.05v1.05h-1.05zM118.2 181.9h1.05v1.05h-1.05zM116.4 168.1h1.05v1.05h-1.05zM136.4 160.7h1.05v1.05h-1.05zM138.2 203.0h1.05v1.05h-1.05zM129.1 221.9h1.05v1.05h-1.05zM116.5 152.4h1.05v1.05h-1.05zM128.4 233.9h1.05v1.05h-1.05zM125.7 241.3h1.05v1.05h-1.05zM131.6 220.5h1.05v1.05h-1.05zM132.1 190.9h1.05v1.05h-1.05zM118.8 143.1h1.05v1.05h-1.05zM135.0 165.4h1.05v1.05h-1.05zM132.1 183.1h1.05v1.05h-1.05zM121.3 187.7h1.05v1.05h-1.05zM122.2 169.2h1.05v1.05h-1.05zM136.6 176.3h1.05v1.05h-1.05zM131.2 208.4h1.05v1.05h-1.05zM125.1 237.7h1.05v1.05h-1.05zM129.2 224.2h1.05v1.05h-1.05zM137.9 159.7h1.05v1.05h-1.05zM132.0 175.5h1.05v1.05h-1.05zM148.5 158.2h1.05v1.05h-1.05zM130.7 244.2h1.05v1.05h-1.05zM116.6 147.4h1.05v1.05h-1.05zM122.3 203.2h1.05v1.05h-1.05zM134.6 144.8h1.05v1.05h-1.05zM137.8 179.8h1.05v1.05h-1.05zM131.0 184.9h1.05v1.05h-1.05zM138.4 156.0h1.05v1.05h-1.05zM118.5 176.4h1.05v1.05h-1.05zM145.3 171.2h1.05v1.05h-1.05zM118.3 229.5h1.05v1.05h-1.05zM133.1 178.7h1.05v1.05h-1.05zM130.0 206.1h1.05v1.05h-1.05zM127.9 239.9h1.05v1.05h-1.05zM124.8 232.5h1.05v1.05h-1.05zM131.1 192.3h1.05v1.05h-1.05zM128.3 216.9h1.05v1.05h-1.05zM132.9 161.6h1.05v1.05h-1.05zM128.7 233.9h1.05v1.05h-1.05zM126.3 248.7h1.05v1.05h-1.05zM115.6 137.5h1.05v1.05h-1.05zM128.9 211.0h1.05v1.05h-1.05zM132.6 189.0h1.05v1.05h-1.05zM124.7 223.1h1.05v1.05h-1.05zM129.7 223.3h1.05v1.05h-1.05zM122.9 200.9h1.05v1.05h-1.05zM135.4 159.0h1.05v1.05h-1.05zM124.4 244.9h1.05v1.05h-1.05zM118.4 154.0h1.05v1.05h-1.05zM134.8 138.2h1.05v1.05h-1.05zM120.4 183.6h1.05v1.05h-1.05zM134.0 205.7h1.05v1.05h-1.05zM140.5 220.3h1.05v1.05h-1.05zM128.3 226.4h1.05v1.05h-1.05zM130.6 209.9h1.05v1.05h-1.05zM157.4 152.5h1.05v1.05h-1.05zM126.6 250.4h1.05v1.05h-1.05zM118.0 159.4h1.05v1.05h-1.05zM121.4 171.9h1.05v1.05h-1.05zM126.8 247.9h1.05v1.05h-1.05zM126.2 240.7h1.05v1.05h-1.05zM132.3 164.7h1.05v1.05h-1.05zM132.2 171.3h1.05v1.05h-1.05zM129.8 211.0h1.05v1.05h-1.05zM137.2 151.5h1.05v1.05h-1.05zM118.8 223.1h1.05v1.05h-1.05zM129.7 198.1h1.05v1.05h-1.05zM127.8 234.8h1.05v1.05h-1.05zM116.9 174.3h1.05v1.05h-1.05zM124.8 238.4h1.05v1.05h-1.05zM123.5 226.8h1.05v1.05h-1.05zM137.8 161.4h1.05v1.05h-1.05zM118.3 190.0h1.05v1.05h-1.05zM118.2 172.5h1.05v1.05h-1.05zM134.7 164.9h1.05v1.05h-1.05zM121.3 178.5h1.05v1.05h-1.05zM132.9 224.6h1.05v1.05h-1.05zM131.9 168.6h1.05v1.05h-1.05zM124.6 234.7h1.05v1.05h-1.05zM124.1 216.0h1.05v1.05h-1.05zM130.8 195.8h1.05v1.05h-1.05zM130.3 234.9h1.05v1.05h-1.05zM128.0 236.0h1.05v1.05h-1.05zM139.3 173.6h1.05v1.05h-1.05zM118.7 164.0h1.05v1.05h-1.05zM119.9 204.5h1.05v1.05h-1.05zM116.7 202.3h1.05v1.05h-1.05zM123.3 223.4h1.05v1.05h-1.05zM139.0 187.7h1.05v1.05h-1.05zM106.2 181.3h1.05v1.05h-1.05zM134.4 144.0h1.05v1.05h-1.05zM125.9 244.7h1.05v1.05h-1.05zM115.8 146.6h1.05v1.05h-1.05zM140.7 138.2h1.05v1.05h-1.05zM137.0 207.2h1.05v1.05h-1.05zM151.8 165.7h1.05v1.05h-1.05zM140.7 155.3h1.05v1.05h-1.05zM131.6 173.7h1.05v1.05h-1.05zM120.8 213.8h1.05v1.05h-1.05zM131.1 176.7h1.05v1.05h-1.05zM118.5 149.9h1.05v1.05h-1.05zM126.3 235.8h1.05v1.05h-1.05zM147.1 192.3h1.05v1.05h-1.05zM122.2 247.3h1.05v1.05h-1.05zM134.2 153.2h1.05v1.05h-1.05zM137.0 160.2h1.05v1.05h-1.05zM126.1 243.9h1.05v1.05h-1.05zM120.2 163.6h1.05v1.05h-1.05zM122.0 169.4h1.05v1.05h-1.05zM124.6 233.4h1.05v1.05h-1.05zM121.1 187.3h1.05v1.05h-1.05zM133.4 169.6h1.05v1.05h-1.05zM121.9 208.5h1.05v1.05h-1.05zM132.9 189.6h1.05v1.05h-1.05zM104.9 139.7h1.05v1.05h-1.05zM133.2 175.3h1.05v1.05h-1.05zM133.4 189.8h1.05v1.05h-1.05zM125.4 241.2h1.05v1.05h-1.05zM125.3 234.0h1.05v1.05h-1.05zM132.7 152.6h1.05v1.05h-1.05zM134.0 164.0h1.05v1.05h-1.05zM133.0 154.2h1.05v1.05h-1.05zM119.5 181.5h1.05v1.05h-1.05zM121.2 181.8h1.05v1.05h-1.05zM122.8 186.7h1.05v1.05h-1.05zM121.1 164.7h1.05v1.05h-1.05zM132.2 209.1h1.05v1.05h-1.05zM130.9 190.4h1.05v1.05h-1.05zM131.7 193.4h1.05v1.05h-1.05zM132.0 172.6h1.05v1.05h-1.05zM120.2 222.4h1.05v1.05h-1.05zM126.7 246.9h1.05v1.05h-1.05zM125.4 238.2h1.05v1.05h-1.05zM124.5 226.8h1.05v1.05h-1.05zM134.0 151.9h1.05v1.05h-1.05zM113.8 166.7h1.05v1.05h-1.05zM118.9 163.2h1.05v1.05h-1.05zM132.7 196.2h1.05v1.05h-1.05zM125.0 236.4h1.05v1.05h-1.05zM120.6 193.9h1.05v1.05h-1.05zM108.9 151.3h1.05v1.05h-1.05zM130.9 189.0h1.05v1.05h-1.05zM116.3 175.7h1.05v1.05h-1.05zM122.3 204.1h1.05v1.05h-1.05zM124.7 230.4h1.05v1.05h-1.05zM133.9 176.3h1.05v1.05h-1.05zM133.4 191.7h1.05v1.05h-1.05zM134.8 207.3h1.05v1.05h-1.05zM136.0 217.4h1.05v1.05h-1.05zM118.1 168.9h1.05v1.05h-1.05zM119.4 210.5h1.05v1.05h-1.05zM120.5 181.8h1.05v1.05h-1.05zM129.3 217.2h1.05v1.05h-1.05zM132.6 162.8h1.05v1.05h-1.05zM95.5 204.0h1.05v1.05h-1.05zM118.7 192.4h1.05v1.05h-1.05zM118.6 144.6h1.05v1.05h-1.05zM132.2 166.5h1.05v1.05h-1.05zM119.7 164.6h1.05v1.05h-1.05zM124.0 208.0h1.05v1.05h-1.05zM140.6 153.7h1.05v1.05h-1.05zM137.0 202.8h1.05v1.05h-1.05zM118.2 138.4h1.05v1.05h-1.05zM113.8 147.9h1.05v1.05h-1.05zM118.8 172.8h1.05v1.05h-1.05zM148.9 154.6h1.05v1.05h-1.05zM131.4 185.2h1.05v1.05h-1.05zM135.0 165.0h1.05v1.05h-1.05zM128.0 233.6h1.05v1.05h-1.05zM111.6 138.4h1.05v1.05h-1.05zM137.0 157.9h1.05v1.05h-1.05zM130.1 231.4h1.05v1.05h-1.05zM129.5 219.2h1.05v1.05h-1.05zM119.1 181.9h1.05v1.05h-1.05zM104.8 161.8h1.05v1.05h-1.05zM128.3 230.6h1.05v1.05h-1.05zM146.6 141.2h1.05v1.05h-1.05zM123.6 207.3h1.05v1.05h-1.05zM141.3 137.7h1.05v1.05h-1.05zM120.1 162.9h1.05v1.05h-1.05zM131.7 191.6h1.05v1.05h-1.05zM123.4 205.4h1.05v1.05h-1.05zM124.9 237.2h1.05v1.05h-1.05zM124.9 238.3h1.05v1.05h-1.05zM113.5 176.0h1.05v1.05h-1.05zM114.8 160.7h1.05v1.05h-1.05zM115.2 146.7h1.05v1.05h-1.05zM134.2 205.1h1.05v1.05h-1.05zM119.3 143.6h1.05v1.05h-1.05zM124.0 212.9h1.05v1.05h-1.05zM116.6 143.4h1.05v1.05h-1.05zM119.0 145.5h1.05v1.05h-1.05zM123.6 229.8h1.05v1.05h-1.05zM117.4 151.6h1.05v1.05h-1.05zM117.4 168.1h1.05v1.05h-1.05zM120.1 168.2h1.05v1.05h-1.05zM120.9 153.7h1.05v1.05h-1.05zM118.1 186.0h1.05v1.05h-1.05zM103.6 189.3h1.05v1.05h-1.05zM130.1 204.9h1.05v1.05h-1.05zM139.0 151.1h1.05v1.05h-1.05zM133.3 147.4h1.05v1.05h-1.05zM128.0 229.1h1.05v1.05h-1.05zM133.6 160.8h1.05v1.05h-1.05zM129.3 215.4h1.05v1.05h-1.05zM131.7 226.3h1.05v1.05h-1.05zM132.8 224.7h1.05v1.05h-1.05zM133.0 182.1h1.05v1.05h-1.05zM135.7 214.9h1.05v1.05h-1.05zM111.0 219.3h1.05v1.05h-1.05zM128.4 236.9h1.05v1.05h-1.05zM131.4 209.7h1.05v1.05h-1.05zM133.3 160.6h1.05v1.05h-1.05zM126.9 247.5h1.05v1.05h-1.05zM133.7 192.0h1.05v1.05h-1.05zM117.9 178.9h1.05v1.05h-1.05zM125.2 243.4h1.05v1.05h-1.05zM130.9 213.2h1.05v1.05h-1.05zM114.6 146.8h1.05v1.05h-1.05zM115.2 137.8h1.05v1.05h-1.05zM93.5 152.7h1.05v1.05h-1.05zM125.4 228.0h1.05v1.05h-1.05zM142.7 161.7h1.05v1.05h-1.05zM133.4 195.5h1.05v1.05h-1.05zM129.7 227.9h1.05v1.05h-1.05zM122.5 192.2h1.05v1.05h-1.05zM140.1 145.1h1.05v1.05h-1.05zM117.6 149.9h1.05v1.05h-1.05zM140.2 202.1h1.05v1.05h-1.05zM127.0 241.6h1.05v1.05h-1.05zM135.9 147.4h1.05v1.05h-1.05zM113.2 138.6h1.05v1.05h-1.05zM122.8 188.8h1.05v1.05h-1.05zM128.5 221.3h1.05v1.05h-1.05zM121.7 185.3h1.05v1.05h-1.05zM135.9 168.9h1.05v1.05h-1.05zM122.0 192.0h1.05v1.05h-1.05zM123.3 206.5h1.05v1.05h-1.05zM131.8 218.6h1.05v1.05h-1.05zM129.5 212.9h1.05v1.05h-1.05zM128.4 243.4h1.05v1.05h-1.05zM129.2 217.8h1.05v1.05h-1.05zM136.7 142.0h1.05v1.05h-1.05zM127.0 249.6h1.05v1.05h-1.05zM118.9 165.6h1.05v1.05h-1.05zM143.1 159.1h1.05v1.05h-1.05zM134.2 200.6h1.05v1.05h-1.05zM118.2 179.7h1.05v1.05h-1.05zM124.9 221.8h1.05v1.05h-1.05zM121.5 171.9h1.05v1.05h-1.05zM121.1 167.6h1.05v1.05h-1.05zM138.3 164.8h1.05v1.05h-1.05zM121.0 191.0h1.05v1.05h-1.05zM144.7 140.2h1.05v1.05h-1.05zM142.1 151.0h1.05v1.05h-1.05zM120.7 182.1h1.05v1.05h-1.05zM118.7 170.3h1.05v1.05h-1.05zM129.5 215.5h1.05v1.05h-1.05zM134.4 143.0h1.05v1.05h-1.05zM136.1 174.3h1.05v1.05h-1.05zM134.2 148.0h1.05v1.05h-1.05zM129.7 213.9h1.05v1.05h-1.05zM149.6 139.0h1.05v1.05h-1.05zM124.7 236.0h1.05v1.05h-1.05zM133.6 186.7h1.05v1.05h-1.05zM125.7 235.4h1.05v1.05h-1.05zM124.3 225.6h1.05v1.05h-1.05zM120.0 161.7h1.05v1.05h-1.05zM128.3 241.2h1.05v1.05h-1.05zM130.8 203.1h1.05v1.05h-1.05zM129.1 225.3h1.05v1.05h-1.05zM119.2 152.7h1.05v1.05h-1.05zM126.0 239.0h1.05v1.05h-1.05zM129.0 208.3h1.05v1.05h-1.05zM139.3 152.0h1.05v1.05h-1.05zM113.9 169.9h1.05v1.05h-1.05zM132.8 168.1h1.05v1.05h-1.05zM141.0 138.1h1.05v1.05h-1.05zM127.5 247.2h1.05v1.05h-1.05zM110.7 172.2h1.05v1.05h-1.05zM136.4 163.7h1.05v1.05h-1.05zM140.4 163.4h1.05v1.05h-1.05zM132.8 167.0h1.05v1.05h-1.05zM127.8 240.4h1.05v1.05h-1.05zM125.0 238.8h1.05v1.05h-1.05zM120.4 160.8h1.05v1.05h-1.05zM138.7 177.9h1.05v1.05h-1.05zM129.7 216.9h1.05v1.05h-1.05zM127.3 249.4h1.05v1.05h-1.05zM131.2 186.4h1.05v1.05h-1.05zM127.5 238.0h1.05v1.05h-1.05zM121.2 163.3h1.05v1.05h-1.05zM124.0 207.9h1.05v1.05h-1.05zM120.2 157.1h1.05v1.05h-1.05zM124.8 237.3h1.05v1.05h-1.05zM135.1 190.7h1.05v1.05h-1.05zM123.3 236.8h1.05v1.05h-1.05zM136.0 160.0h1.05v1.05h-1.05zM116.8 183.5h1.05v1.05h-1.05zM129.5 220.2h1.05v1.05h-1.05zM110.1 141.0h1.05v1.05h-1.05zM118.6 170.4h1.05v1.05h-1.05zM123.8 208.4h1.05v1.05h-1.05zM101.6 152.1h1.05v1.05h-1.05zM121.4 203.4h1.05v1.05h-1.05zM118.8 143.1h1.05v1.05h-1.05zM122.6 212.9h1.05v1.05h-1.05zM114.9 138.8h1.05v1.05h-1.05zM125.7 241.7h1.05v1.05h-1.05zM137.0 164.8h1.05v1.05h-1.05zM129.7 213.5h1.05v1.05h-1.05zM117.2 198.5h1.05v1.05h-1.05zM110.9 175.3h1.05v1.05h-1.05zM127.5 244.0h1.05v1.05h-1.05zM131.6 221.5h1.05v1.05h-1.05zM125.1 236.2h1.05v1.05h-1.05zM115.4 164.3h1.05v1.05h-1.05zM123.9 221.8h1.05v1.05h-1.05zM131.7 190.2h1.05v1.05h-1.05zM129.5 209.3h1.05v1.05h-1.05zM137.5 220.0h1.05v1.05h-1.05zM141.2 143.9h1.05v1.05h-1.05zM135.2 189.2h1.05v1.05h-1.05zM131.0 173.7h1.05v1.05h-1.05zM101.7 168.0h1.05v1.05h-1.05zM119.7 155.7h1.05v1.05h-1.05zM130.4 216.8h1.05v1.05h-1.05zM124.6 239.5h1.05v1.05h-1.05zM122.4 193.7h1.05v1.05h-1.05zM128.7 228.0h1.05v1.05h-1.05zM126.4 247.6h1.05v1.05h-1.05zM112.5 145.5h1.05v1.05h-1.05zM115.2 176.3h1.05v1.05h-1.05zM122.6 199.5h1.05v1.05h-1.05zM122.5 232.1h1.05v1.05h-1.05zM119.3 162.0h1.05v1.05h-1.05zM130.7 186.4h1.05v1.05h-1.05zM128.4 227.4h1.05v1.05h-1.05zM119.8 139.0h1.05v1.05h-1.05zM119.0 142.2h1.05v1.05h-1.05zM119.6 144.7h1.05v1.05h-1.05zM103.0 155.1h1.05v1.05h-1.05zM122.2 186.6h1.05v1.05h-1.05zM130.2 212.5h1.05v1.05h-1.05zM145.4 173.6h1.05v1.05h-1.05zM124.8 230.3h1.05v1.05h-1.05zM133.6 177.4h1.05v1.05h-1.05zM127.9 241.2h1.05v1.05h-1.05zM126.8 248.7h1.05v1.05h-1.05zM133.6 166.8h1.05v1.05h-1.05zM135.8 207.6h1.05v1.05h-1.05zM113.8 168.8h1.05v1.05h-1.05zM134.1 160.0h1.05v1.05h-1.05zM135.8 154.2h1.05v1.05h-1.05zM135.8 177.5h1.05v1.05h-1.05zM133.3 153.0h1.05v1.05h-1.05zM133.8 172.8h1.05v1.05h-1.05zM119.6 144.7h1.05v1.05h-1.05zM134.2 147.8h1.05v1.05h-1.05zM127.0 244.3h1.05v1.05h-1.05zM123.9 216.3h1.05v1.05h-1.05zM129.9 202.4h1.05v1.05h-1.05zM132.3 218.1h1.05v1.05h-1.05zM132.1 227.1h1.05v1.05h-1.05zM111.8 150.2h1.05v1.05h-1.05zM126.5 247.0h1.05v1.05h-1.05zM125.1 226.5h1.05v1.05h-1.05zM120.8 162.1h1.05v1.05h-1.05zM123.9 221.5h1.05v1.05h-1.05zM131.3 217.4h1.05v1.05h-1.05zM151.3 140.5h1.05v1.05h-1.05zM133.5 161.8h1.05v1.05h-1.05zM120.0 195.7h1.05v1.05h-1.05zM125.5 232.1h1.05v1.05h-1.05zM123.4 216.1h1.05v1.05h-1.05zM149.5 139.1h1.05v1.05h-1.05zM118.3 158.9h1.05v1.05h-1.05zM126.2 240.7h1.05v1.05h-1.05zM140.1 167.7h1.05v1.05h-1.05zM123.7 203.9h1.05v1.05h-1.05zM134.6 166.4h1.05v1.05h-1.05zM129.2 213.1h1.05v1.05h-1.05zM127.8 232.9h1.05v1.05h-1.05zM126.2 247.8h1.05v1.05h-1.05zM122.5 213.0h1.05v1.05h-1.05zM119.9 151.6h1.05v1.05h-1.05zM119.6 148.4h1.05v1.05h-1.05zM136.2 170.3h1.05v1.05h-1.05zM133.3 163.4h1.05v1.05h-1.05zM129.6 225.0h1.05v1.05h-1.05zM123.5 206.3h1.05v1.05h-1.05zM142.5 147.6h1.05v1.05h-1.05zM110.9 138.6h1.05v1.05h-1.05zM166.7 196.3h1.05v1.05h-1.05zM114.7 160.4h1.05v1.05h-1.05zM117.9 144.0h1.05v1.05h-1.05zM136.4 137.5h1.05v1.05h-1.05zM121.9 213.0h1.05v1.05h-1.05zM120.6 173.4h1.05v1.05h-1.05zM129.7 202.3h1.05v1.05h-1.05zM130.7 193.9h1.05v1.05h-1.05zM120.7 194.2h1.05v1.05h-1.05zM131.0 215.0h1.05v1.05h-1.05zM126.2 247.8h1.05v1.05h-1.05zM137.0 161.4h1.05v1.05h-1.05zM121.7 168.9h1.05v1.05h-1.05zM142.2 153.7h1.05v1.05h-1.05zM122.5 230.0h1.05v1.05h-1.05zM120.7 219.9h1.05v1.05h-1.05zM117.4 179.6h1.05v1.05h-1.05zM134.3 143.7h1.05v1.05h-1.05zM130.8 193.2h1.05v1.05h-1.05zM123.3 224.2h1.05v1.05h-1.05zM147.0 179.7h1.05v1.05h-1.05zM152.2 141.6h1.05v1.05h-1.05zM119.9 150.8h1.05v1.05h-1.05zM138.7 147.6h1.05v1.05h-1.05zM133.6 200.0h1.05v1.05h-1.05zM124.2 216.9h1.05v1.05h-1.05zM135.0 150.5h1.05v1.05h-1.05zM117.8 159.2h1.05v1.05h-1.05zM144.9 152.5h1.05v1.05h-1.05zM123.0 202.1h1.05v1.05h-1.05zM121.1 214.1h1.05v1.05h-1.05zM124.1 219.5h1.05v1.05h-1.05zM118.6 150.5h1.05v1.05h-1.05zM119.5 145.5h1.05v1.05h-1.05zM123.2 204.9h1.05v1.05h-1.05zM136.0 150.1h1.05v1.05h-1.05zM115.9 203.2h1.05v1.05h-1.05zM120.7 195.8h1.05v1.05h-1.05zM122.4 182.8h1.05v1.05h-1.05zM130.0 221.8h1.05v1.05h-1.05zM124.0 216.3h1.05v1.05h-1.05zM124.2 216.4h1.05v1.05h-1.05zM129.1 217.2h1.05v1.05h-1.05zM122.0 188.3h1.05v1.05h-1.05zM125.0 236.7h1.05v1.05h-1.05zM120.5 160.0h1.05v1.05h-1.05zM128.5 227.4h1.05v1.05h-1.05zM132.7 196.2h1.05v1.05h-1.05zM131.5 174.7h1.05v1.05h-1.05zM125.1 231.9h1.05v1.05h-1.05zM122.0 200.1h1.05v1.05h-1.05zM112.6 183.2h1.05v1.05h-1.05zM131.0 184.5h1.05v1.05h-1.05zM148.6 148.3h1.05v1.05h-1.05zM137.0 159.5h1.05v1.05h-1.05zM128.5 234.1h1.05v1.05h-1.05zM120.8 154.4h1.05v1.05h-1.05zM118.6 184.6h1.05v1.05h-1.05zM119.1 170.8h1.05v1.05h-1.05zM137.7 229.2h1.05v1.05h-1.05zM121.4 193.1h1.05v1.05h-1.05zM140.3 168.5h1.05v1.05h-1.05zM120.9 158.2h1.05v1.05h-1.05zM120.0 157.3h1.05v1.05h-1.05zM121.0 222.3h1.05v1.05h-1.05zM115.4 154.5h1.05v1.05h-1.05zM121.3 182.6h1.05v1.05h-1.05zM122.1 171.8h1.05v1.05h-1.05zM135.7 152.5h1.05v1.05h-1.05zM147.5 200.5h1.05v1.05h-1.05zM114.1 145.5h1.05v1.05h-1.05zM113.0 149.4h1.05v1.05h-1.05zM118.6 157.1h1.05v1.05h-1.05zM123.9 203.4h1.05v1.05h-1.05zM104.6 187.0h1.05v1.05h-1.05zM128.9 227.6h1.05v1.05h-1.05zM119.6 162.2h1.05v1.05h-1.05zM119.3 148.4h1.05v1.05h-1.05zM128.0 229.1h1.05v1.05h-1.05zM110.2 163.7h1.05v1.05h-1.05zM117.3 169.1h1.05v1.05h-1.05zM126.0 245.3h1.05v1.05h-1.05zM113.5 145.7h1.05v1.05h-1.05zM132.9 192.3h1.05v1.05h-1.05zM128.9 216.1h1.05v1.05h-1.05zM125.5 246.2h1.05v1.05h-1.05zM132.5 159.8h1.05v1.05h-1.05zM114.7 208.2h1.05v1.05h-1.05zM131.3 188.6h1.05v1.05h-1.05zM121.2 225.0h1.05v1.05h-1.05zM121.0 178.4h1.05v1.05h-1.05zM129.8 201.5h1.05v1.05h-1.05zM120.5 157.2h1.05v1.05h-1.05zM116.7 172.0h1.05v1.05h-1.05zM118.8 166.2h1.05v1.05h-1.05zM130.4 218.2h1.05v1.05h-1.05zM125.7 241.5h1.05v1.05h-1.05zM135.5 149.6h1.05v1.05h-1.05zM113.2 143.8h1.05v1.05h-1.05zM121.3 174.5h1.05v1.05h-1.05zM116.5 145.2h1.05v1.05h-1.05zM136.9 167.8h1.05v1.05h-1.05zM133.3 178.5h1.05v1.05h-1.05zM130.2 199.0h1.05v1.05h-1.05zM130.6 206.2h1.05v1.05h-1.05zM154.2 191.2h1.05v1.05h-1.05zM122.2 221.6h1.05v1.05h-1.05zM123.1 198.1h1.05v1.05h-1.05zM132.7 189.2h1.05v1.05h-1.05zM128.9 246.0h1.05v1.05h-1.05zM142.5 201.9h1.05v1.05h-1.05zM129.5 214.3h1.05v1.05h-1.05zM118.0 175.5h1.05v1.05h-1.05zM119.8 156.7h1.05v1.05h-1.05zM133.0 177.6h1.05v1.05h-1.05zM133.4 172.3h1.05v1.05h-1.05zM143.2 177.7h1.05v1.05h-1.05zM123.7 217.6h1.05v1.05h-1.05zM121.5 203.8h1.05v1.05h-1.05zM133.7 153.3h1.05v1.05h-1.05zM138.2 142.7h1.05v1.05h-1.05zM124.4 226.6h1.05v1.05h-1.05zM126.2 249.2h1.05v1.05h-1.05zM138.7 141.2h1.05v1.05h-1.05zM135.6 151.7h1.05v1.05h-1.05zM119.4 178.3h1.05v1.05h-1.05zM132.9 156.1h1.05v1.05h-1.05zM118.3 179.8h1.05v1.05h-1.05zM141.2 147.0h1.05v1.05h-1.05zM114.2 219.2h1.05v1.05h-1.05zM123.2 196.2h1.05v1.05h-1.05zM105.6 171.6h1.05v1.05h-1.05zM129.1 222.4h1.05v1.05h-1.05zM137.9 166.9h1.05v1.05h-1.05zM129.1 216.9h1.05v1.05h-1.05zM102.2 167.4h1.05v1.05h-1.05zM117.7 157.5h1.05v1.05h-1.05zM120.8 198.4h1.05v1.05h-1.05zM112.8 138.2h1.05v1.05h-1.05zM148.2 175.8h1.05v1.05h-1.05zM113.3 162.5h1.05v1.05h-1.05zM126.7 247.6h1.05v1.05h-1.05zM128.2 235.1h1.05v1.05h-1.05zM133.2 167.2h1.05v1.05h-1.05zM135.5 143.0h1.05v1.05h-1.05zM121.3 176.1h1.05v1.05h-1.05zM108.8 146.2h1.05v1.05h-1.05zM125.6 242.1h1.05v1.05h-1.05zM137.3 148.4h1.05v1.05h-1.05zM136.1 149.9h1.05v1.05h-1.05zM132.1 176.1h1.05v1.05h-1.05zM121.6 197.9h1.05v1.05h-1.05zM132.0 167.9h1.05v1.05h-1.05zM129.0 219.1h1.05v1.05h-1.05zM114.2 171.9h1.05v1.05h-1.05zM115.0 169.1h1.05v1.05h-1.05zM131.5 185.7h1.05v1.05h-1.05zM123.6 217.2h1.05v1.05h-1.05zM126.6 250.6h1.05v1.05h-1.05zM121.5 224.8h1.05v1.05h-1.05zM117.3 154.4h1.05v1.05h-1.05zM128.9 222.8h1.05v1.05h-1.05zM131.0 240.1h1.05v1.05h-1.05zM124.8 218.8h1.05v1.05h-1.05zM117.8 187.9h1.05v1.05h-1.05zM132.4 180.6h1.05v1.05h-1.05zM134.9 149.9h1.05v1.05h-1.05zM119.9 152.2h1.05v1.05h-1.05zM133.8 140.4h1.05v1.05h-1.05zM133.6 149.1h1.05v1.05h-1.05zM131.7 195.5h1.05v1.05h-1.05zM125.7 231.4h1.05v1.05h-1.05zM112.7 141.7h1.05v1.05h-1.05zM123.8 220.9h1.05v1.05h-1.05zM141.8 176.8h1.05v1.05h-1.05zM129.2 216.7h1.05v1.05h-1.05zM135.8 156.2h1.05v1.05h-1.05zM129.4 224.2h1.05v1.05h-1.05zM131.9 198.8h1.05v1.05h-1.05zM118.1 222.0h1.05v1.05h-1.05zM117.2 151.6h1.05v1.05h-1.05zM117.6 177.1h1.05v1.05h-1.05zM118.6 175.8h1.05v1.05h-1.05zM131.1 210.9h1.05v1.05h-1.05zM130.2 227.2h1.05v1.05h-1.05zM135.8 151.9h1.05v1.05h-1.05zM133.1 161.6h1.05v1.05h-1.05zM133.4 164.8h1.05v1.05h-1.05zM138.9 137.5h1.05v1.05h-1.05zM134.8 183.5h1.05v1.05h-1.05zM129.2 226.9h1.05v1.05h-1.05zM117.4 178.1h1.05v1.05h-1.05zM131.1 214.0h1.05v1.05h-1.05zM130.6 188.6h1.05v1.05h-1.05zM131.1 194.5h1.05v1.05h-1.05zM120.4 183.1h1.05v1.05h-1.05zM138.4 145.3h1.05v1.05h-1.05zM116.4 156.8h1.05v1.05h-1.05zM120.0 199.5h1.05v1.05h-1.05zM133.3 156.1h1.05v1.05h-1.05zM119.0 151.6h1.05v1.05h-1.05zM133.7 160.6h1.05v1.05h-1.05zM116.7 184.4h1.05v1.05h-1.05zM118.3 147.6h1.05v1.05h-1.05zM130.6 190.9h1.05v1.05h-1.05zM128.2 236.0h1.05v1.05h-1.05zM124.1 215.8h1.05v1.05h-1.05zM119.8 173.0h1.05v1.05h-1.05zM121.3 203.5h1.05v1.05h-1.05zM137.1 198.6h1.05v1.05h-1.05zM210.2 200.9h1.05v1.05h-1.05zM123.8 225.3h1.05v1.05h-1.05zM129.8 237.6h1.05v1.05h-1.05zM126.0 243.5h1.05v1.05h-1.05zM118.6 171.4h1.05v1.05h-1.05zM130.3 209.8h1.05v1.05h-1.05zM132.4 194.8h1.05v1.05h-1.05zM133.9 143.9h1.05v1.05h-1.05zM132.3 176.3h1.05v1.05h-1.05zM105.0 156.8h1.05v1.05h-1.05zM117.5 161.9h1.05v1.05h-1.05zM134.1 142.0h1.05v1.05h-1.05zM127.2 241.1h1.05v1.05h-1.05zM122.9 202.9h1.05v1.05h-1.05zM119.1 142.4h1.05v1.05h-1.05zM121.8 194.0h1.05v1.05h-1.05zM117.5 142.6h1.05v1.05h-1.05zM122.4 226.2h1.05v1.05h-1.05zM124.7 242.0h1.05v1.05h-1.05zM140.4 148.0h1.05v1.05h-1.05zM132.5 199.9h1.05v1.05h-1.05zM122.6 189.1h1.05v1.05h-1.05zM136.2 143.7h1.05v1.05h-1.05zM123.9 222.0h1.05v1.05h-1.05zM138.3 140.5h1.05v1.05h-1.05zM123.5 201.5h1.05v1.05h-1.05zM132.8 218.7h1.05v1.05h-1.05zM129.3 220.3h1.05v1.05h-1.05zM131.6 188.0h1.05v1.05h-1.05zM130.8 193.7h1.05v1.05h-1.05zM139.6 148.9h1.05v1.05h-1.05zM127.6 243.3h1.05v1.05h-1.05zM125.7 244.2h1.05v1.05h-1.05zM127.9 230.1h1.05v1.05h-1.05zM145.6 178.6h1.05v1.05h-1.05zM133.4 159.9h1.05v1.05h-1.05zM130.6 192.3h1.05v1.05h-1.05zM115.6 177.7h1.05v1.05h-1.05zM138.3 174.6h1.05v1.05h-1.05zM126.3 247.8h1.05v1.05h-1.05zM121.4 218.8h1.05v1.05h-1.05zM133.7 137.4h1.05v1.05h-1.05zM124.1 209.0h1.05v1.05h-1.05zM115.2 142.7h1.05v1.05h-1.05zM136.0 190.9h1.05v1.05h-1.05zM124.5 221.6h1.05v1.05h-1.05zM126.8 250.6h1.05v1.05h-1.05zM123.5 222.2h1.05v1.05h-1.05zM130.9 210.1h1.05v1.05h-1.05zM123.1 196.8h1.05v1.05h-1.05zM118.0 195.9h1.05v1.05h-1.05zM131.5 184.8h1.05v1.05h-1.05zM130.0 192.9h1.05v1.05h-1.05zM127.1 245.8h1.05v1.05h-1.05zM134.8 216.4h1.05v1.05h-1.05zM110.6 141.1h1.05v1.05h-1.05zM126.1 246.6h1.05v1.05h-1.05zM136.6 164.9h1.05v1.05h-1.05zM122.9 192.6h1.05v1.05h-1.05zM121.4 167.7h1.05v1.05h-1.05zM129.8 208.8h1.05v1.05h-1.05zM132.0 204.5h1.05v1.05h-1.05zM137.7 188.2h1.05v1.05h-1.05zM116.0 146.5h1.05v1.05h-1.05zM131.3 209.3h1.05v1.05h-1.05zM127.6 238.6h1.05v1.05h-1.05zM125.6 245.0h1.05v1.05h-1.05zM133.5 149.4h1.05v1.05h-1.05zM124.2 211.0h1.05v1.05h-1.05zM127.6 234.2h1.05v1.05h-1.05zM134.4 179.6h1.05v1.05h-1.05zM118.5 153.2h1.05v1.05h-1.05zM152.8 179.2h1.05v1.05h-1.05zM123.9 230.2h1.05v1.05h-1.05zM121.3 200.5h1.05v1.05h-1.05zM114.9 216.4h1.05v1.05h-1.05zM126.2 248.2h1.05v1.05h-1.05zM118.6 140.7h1.05v1.05h-1.05zM134.3 194.5h1.05v1.05h-1.05zM128.2 232.3h1.05v1.05h-1.05zM143.5 149.1h1.05v1.05h-1.05zM152.1 138.7h1.05v1.05h-1.05zM91.3 156.2h1.05v1.05h-1.05zM120.7 217.9h1.05v1.05h-1.05zM124.1 225.5h1.05v1.05h-1.05zM112.0 187.3h1.05v1.05h-1.05zM111.3 180.9h1.05v1.05h-1.05zM137.0 149.7h1.05v1.05h-1.05zM137.9 140.6h1.05v1.05h-1.05zM115.5 146.4h1.05v1.05h-1.05zM123.6 207.7h1.05v1.05h-1.05zM139.8 180.7h1.05v1.05h-1.05zM127.9 233.7h1.05v1.05h-1.05zM136.2 188.0h1.05v1.05h-1.05zM127.7 240.6h1.05v1.05h-1.05zM125.5 235.3h1.05v1.05h-1.05zM124.1 233.9h1.05v1.05h-1.05zM118.8 212.4h1.05v1.05h-1.05zM116.3 211.4h1.05v1.05h-1.05zM121.9 167.9h1.05v1.05h-1.05zM124.9 239.9h1.05v1.05h-1.05zM127.7 235.3h1.05v1.05h-1.05zM119.4 173.1h1.05v1.05h-1.05zM121.6 171.4h1.05v1.05h-1.05zM120.4 167.4h1.05v1.05h-1.05zM153.0 166.3h1.05v1.05h-1.05zM114.4 172.4h1.05v1.05h-1.05zM140.5 184.3h1.05v1.05h-1.05zM115.8 164.1h1.05v1.05h-1.05zM124.9 239.1h1.05v1.05h-1.05zM121.9 222.9h1.05v1.05h-1.05zM115.8 164.1h1.05v1.05h-1.05zM131.3 225.2h1.05v1.05h-1.05zM136.9 186.7h1.05v1.05h-1.05zM134.6 217.2h1.05v1.05h-1.05zM106.7 197.7h1.05v1.05h-1.05zM158.5 154.3h1.05v1.05h-1.05zM117.5 172.7h1.05v1.05h-1.05zM133.9 196.1h1.05v1.05h-1.05zM122.0 215.6h1.05v1.05h-1.05zM117.9 157.4h1.05v1.05h-1.05zM131.3 173.0h1.05v1.05h-1.05zM123.3 196.7h1.05v1.05h-1.05zM117.6 150.7h1.05v1.05h-1.05zM143.7 169.3h1.05v1.05h-1.05zM115.7 139.2h1.05v1.05h-1.05zM120.0 172.3h1.05v1.05h-1.05zM117.2 147.5h1.05v1.05h-1.05zM122.4 184.5h1.05v1.05h-1.05zM121.3 167.4h1.05v1.05h-1.05zM111.4 153.5h1.05v1.05h-1.05zM127.5 238.0h1.05v1.05h-1.05zM135.2 192.9h1.05v1.05h-1.05zM121.3 178.6h1.05v1.05h-1.05zM126.0 242.3h1.05v1.05h-1.05zM100.0 159.0h1.05v1.05h-1.05zM112.3 166.8h1.05v1.05h-1.05zM147.7 143.8h1.05v1.05h-1.05zM120.7 204.3h1.05v1.05h-1.05zM136.9 193.4h1.05v1.05h-1.05zM134.7 146.3h1.05v1.05h-1.05zM118.3 199.9h1.05v1.05h-1.05zM119.9 154.3h1.05v1.05h-1.05zM130.3 198.8h1.05v1.05h-1.05zM123.5 208.2h1.05v1.05h-1.05zM132.4 215.2h1.05v1.05h-1.05zM124.1 222.7h1.05v1.05h-1.05zM123.3 197.6h1.05v1.05h-1.05zM124.8 229.0h1.05v1.05h-1.05zM133.2 155.0h1.05v1.05h-1.05zM114.0 139.8h1.05v1.05h-1.05zM124.7 237.1h1.05v1.05h-1.05zM127.2 242.7h1.05v1.05h-1.05zM126.5 250.3h1.05v1.05h-1.05zM111.9 144.2h1.05v1.05h-1.05zM126.1 240.2h1.05v1.05h-1.05zM121.3 170.6h1.05v1.05h-1.05zM130.9 212.1h1.05v1.05h-1.05zM121.2 224.5h1.05v1.05h-1.05zM124.5 218.8h1.05v1.05h-1.05zM117.7 169.6h1.05v1.05h-1.05zM126.9 248.0h1.05v1.05h-1.05zM118.7 151.1h1.05v1.05h-1.05zM105.1 182.6h1.05v1.05h-1.05zM130.5 220.1h1.05v1.05h-1.05zM122.5 223.3h1.05v1.05h-1.05zM118.6 173.3h1.05v1.05h-1.05zM133.4 176.0h1.05v1.05h-1.05zM129.6 210.5h1.05v1.05h-1.05zM129.7 208.6h1.05v1.05h-1.05zM138.4 194.1h1.05v1.05h-1.05zM80.7 146.4h1.05v1.05h-1.05zM138.6 185.9h1.05v1.05h-1.05zM120.0 153.7h1.05v1.05h-1.05zM134.8 174.8h1.05v1.05h-1.05zM131.8 183.3h1.05v1.05h-1.05zM117.3 191.2h1.05v1.05h-1.05zM144.7 170.5h1.05v1.05h-1.05zM122.8 191.0h1.05v1.05h-1.05zM133.5 165.7h1.05v1.05h-1.05zM134.5 226.5h1.05v1.05h-1.05zM122.9 210.0h1.05v1.05h-1.05zM136.9 150.3h1.05v1.05h-1.05zM135.6 201.7h1.05v1.05h-1.05zM141.6 153.4h1.05v1.05h-1.05zM135.3 143.6h1.05v1.05h-1.05zM133.9 181.5h1.05v1.05h-1.05zM125.9 236.5h1.05v1.05h-1.05zM110.3 162.4h1.05v1.05h-1.05zM132.1 172.1h1.05v1.05h-1.05zM129.2 213.6h1.05v1.05h-1.05zM133.8 151.3h1.05v1.05h-1.05zM114.3 191.9h1.05v1.05h-1.05zM125.9 242.4h1.05v1.05h-1.05zM125.2 240.9h1.05v1.05h-1.05zM124.1 220.9h1.05v1.05h-1.05zM103.7 178.1h1.05v1.05h-1.05zM140.4 156.3h1.05v1.05h-1.05zM125.9 236.9h1.05v1.05h-1.05zM126.3 247.4h1.05v1.05h-1.05zM131.7 176.7h1.05v1.05h-1.05zM129.8 200.1h1.05v1.05h-1.05zM131.1 196.5h1.05v1.05h-1.05zM150.8 155.7h1.05v1.05h-1.05zM154.4 145.5h1.05v1.05h-1.05zM140.9 140.6h1.05v1.05h-1.05zM142.7 160.1h1.05v1.05h-1.05zM126.9 250.4h1.05v1.05h-1.05zM129.2 230.4h1.05v1.05h-1.05zM134.5 180.5h1.05v1.05h-1.05zM134.4 141.8h1.05v1.05h-1.05zM131.3 239.2h1.05v1.05h-1.05zM121.0 188.4h1.05v1.05h-1.05zM132.5 201.5h1.05v1.05h-1.05zM123.4 200.4h1.05v1.05h-1.05zM123.3 216.2h1.05v1.05h-1.05zM132.6 215.9h1.05v1.05h-1.05zM129.3 219.7h1.05v1.05h-1.05zM131.0 236.3h1.05v1.05h-1.05zM121.6 184.1h1.05v1.05h-1.05zM112.4 196.0h1.05v1.05h-1.05zM119.9 167.1h1.05v1.05h-1.05zM121.2 174.9h1.05v1.05h-1.05zM113.2 142.0h1.05v1.05h-1.05zM130.2 208.0h1.05v1.05h-1.05zM118.3 149.3h1.05v1.05h-1.05zM130.7 202.9h1.05v1.05h-1.05zM154.2 172.7h1.05v1.05h-1.05zM120.9 157.4h1.05v1.05h-1.05zM122.1 201.5h1.05v1.05h-1.05zM119.7 196.0h1.05v1.05h-1.05zM120.0 175.8h1.05v1.05h-1.05zM128.1 235.4h1.05v1.05h-1.05zM122.7 186.6h1.05v1.05h-1.05zM128.0 237.4h1.05v1.05h-1.05zM121.7 221.3h1.05v1.05h-1.05zM131.1 176.7h1.05v1.05h-1.05zM141.6 140.1h1.05v1.05h-1.05zM135.5 137.3h1.05v1.05h-1.05zM144.4 217.1h1.05v1.05h-1.05zM129.8 230.9h1.05v1.05h-1.05zM131.7 188.0h1.05v1.05h-1.05zM122.5 196.5h1.05v1.05h-1.05zM129.7 203.5h1.05v1.05h-1.05zM119.2 161.2h1.05v1.05h-1.05zM114.5 167.4h1.05v1.05h-1.05zM122.2 183.3h1.05v1.05h-1.05zM115.7 176.9h1.05v1.05h-1.05zM133.3 181.1h1.05v1.05h-1.05zM156.7 170.9h1.05v1.05h-1.05zM110.4 144.6h1.05v1.05h-1.05zM135.3 142.7h1.05v1.05h-1.05zM150.6 139.3h1.05v1.05h-1.05zM109.9 151.7h1.05v1.05h-1.05zM128.6 236.1h1.05v1.05h-1.05zM136.0 195.4h1.05v1.05h-1.05zM119.8 159.8h1.05v1.05h-1.05zM129.2 213.2h1.05v1.05h-1.05zM118.4 178.4h1.05v1.05h-1.05zM127.7 242.7h1.05v1.05h-1.05zM122.5 223.9h1.05v1.05h-1.05zM122.8 201.1h1.05v1.05h-1.05zM127.6 240.6h1.05v1.05h-1.05zM130.8 198.4h1.05v1.05h-1.05zM128.9 220.7h1.05v1.05h-1.05zM149.0 151.5h1.05v1.05h-1.05zM122.0 210.4h1.05v1.05h-1.05zM118.6 203.3h1.05v1.05h-1.05zM117.7 157.7h1.05v1.05h-1.05zM134.2 183.5h1.05v1.05h-1.05zM125.6 243.4h1.05v1.05h-1.05zM123.0 222.2h1.05v1.05h-1.05zM119.3 178.0h1.05v1.05h-1.05zM129.3 224.4h1.05v1.05h-1.05zM124.5 218.6h1.05v1.05h-1.05zM134.0 176.7h1.05v1.05h-1.05zM131.2 190.6h1.05v1.05h-1.05zM130.7 216.1h1.05v1.05h-1.05zM122.4 183.6h1.05v1.05h-1.05zM121.0 175.5h1.05v1.05h-1.05zM130.8 244.9h1.05v1.05h-1.05zM122.2 215.6h1.05v1.05h-1.05zM129.9 211.6h1.05v1.05h-1.05zM137.3 149.7h1.05v1.05h-1.05zM125.0 243.2h1.05v1.05h-1.05zM132.2 207.1h1.05v1.05h-1.05zM128.4 225.0h1.05v1.05h-1.05zM117.6 169.0h1.05v1.05h-1.05zM134.1 156.7h1.05v1.05h-1.05zM127.5 242.4h1.05v1.05h-1.05zM136.1 151.3h1.05v1.05h-1.05zM132.5 168.9h1.05v1.05h-1.05zM132.7 222.3h1.05v1.05h-1.05zM102.7 145.9h1.05v1.05h-1.05zM122.9 213.3h1.05v1.05h-1.05zM132.8 159.1h1.05v1.05h-1.05zM125.3 240.0h1.05v1.05h-1.05zM122.0 194.9h1.05v1.05h-1.05zM121.2 189.4h1.05v1.05h-1.05zM110.7 147.9h1.05v1.05h-1.05zM117.5 154.1h1.05v1.05h-1.05zM120.4 185.0h1.05v1.05h-1.05zM127.8 243.2h1.05v1.05h-1.05zM122.6 197.8h1.05v1.05h-1.05zM141.6 203.9h1.05v1.05h-1.05zM115.9 137.7h1.05v1.05h-1.05zM133.0 170.5h1.05v1.05h-1.05zM123.4 200.6h1.05v1.05h-1.05zM130.1 205.1h1.05v1.05h-1.05zM138.6 161.3h1.05v1.05h-1.05zM127.2 237.3h1.05v1.05h-1.05zM115.8 156.1h1.05v1.05h-1.05zM117.4 171.6h1.05v1.05h-1.05zM122.8 197.2h1.05v1.05h-1.05zM119.9 167.4h1.05v1.05h-1.05zM134.9 201.4h1.05v1.05h-1.05zM128.4 231.3h1.05v1.05h-1.05zM133.1 199.3h1.05v1.05h-1.05zM127.2 243.2h1.05v1.05h-1.05zM127.4 238.4h1.05v1.05h-1.05zM133.2 196.8h1.05v1.05h-1.05zM135.0 155.3h1.05v1.05h-1.05zM124.9 223.9h1.05v1.05h-1.05zM130.5 190.0h1.05v1.05h-1.05zM135.0 139.4h1.05v1.05h-1.05zM120.6 155.0h1.05v1.05h-1.05zM134.4 147.3h1.05v1.05h-1.05zM136.5 171.1h1.05v1.05h-1.05zM99.6 180.3h1.05v1.05h-1.05zM131.1 181.1h1.05v1.05h-1.05zM131.7 179.0h1.05v1.05h-1.05zM119.0 193.9h1.05v1.05h-1.05zM122.6 205.6h1.05v1.05h-1.05zM130.9 219.7h1.05v1.05h-1.05zM128.9 241.3h1.05v1.05h-1.05zM129.8 204.6h1.05v1.05h-1.05zM136.5 161.1h1.05v1.05h-1.05zM119.4 184.3h1.05v1.05h-1.05zM128.8 228.7h1.05v1.05h-1.05zM120.0 156.4h1.05v1.05h-1.05zM125.6 244.6h1.05v1.05h-1.05zM116.9 144.3h1.05v1.05h-1.05zM148.2 173.6h1.05v1.05h-1.05zM116.2 183.9h1.05v1.05h-1.05zM129.8 199.7h1.05v1.05h-1.05zM139.9 155.3h1.05v1.05h-1.05zM127.0 249.8h1.05v1.05h-1.05zM126.9 248.3h1.05v1.05h-1.05zM121.6 187.8h1.05v1.05h-1.05zM115.3 212.9h1.05v1.05h-1.05zM136.0 201.0h1.05v1.05h-1.05zM120.7 186.0h1.05v1.05h-1.05zM127.3 244.3h1.05v1.05h-1.05zM149.5 138.9h1.05v1.05h-1.05zM144.2 170.8h1.05v1.05h-1.05zM125.3 236.9h1.05v1.05h-1.05zM134.3 164.4h1.05v1.05h-1.05zM130.4 186.4h1.05v1.05h-1.05zM118.1 169.9h1.05v1.05h-1.05zM113.1 164.5h1.05v1.05h-1.05zM111.5 138.1h1.05v1.05h-1.05zM128.2 234.4h1.05v1.05h-1.05zM116.9 137.6h1.05v1.05h-1.05zM130.0 192.6h1.05v1.05h-1.05zM124.7 224.2h1.05v1.05h-1.05zM130.2 204.1h1.05v1.05h-1.05zM135.9 205.2h1.05v1.05h-1.05zM118.0 148.0h1.05v1.05h-1.05zM130.8 187.4h1.05v1.05h-1.05zM125.2 241.1h1.05v1.05h-1.05zM132.2 166.9h1.05v1.05h-1.05zM132.3 190.3h1.05v1.05h-1.05zM132.6 156.4h1.05v1.05h-1.05zM125.9 243.9h1.05v1.05h-1.05zM149.8 151.1h1.05v1.05h-1.05zM88.9 148.2h1.05v1.05h-1.05zM126.2 249.6h1.05v1.05h-1.05zM118.9 192.6h1.05v1.05h-1.05zM123.6 234.0h1.05v1.05h-1.05zM133.4 186.8h1.05v1.05h-1.05zM127.8 238.1h1.05v1.05h-1.05zM119.9 148.8h1.05v1.05h-1.05zM129.5 226.3h1.05v1.05h-1.05zM122.0 171.9h1.05v1.05h-1.05zM120.1 173.4h1.05v1.05h-1.05zM120.9 210.1h1.05v1.05h-1.05zM123.5 222.6h1.05v1.05h-1.05zM133.7 145.9h1.05v1.05h-1.05zM125.0 244.8h1.05v1.05h-1.05zM121.4 217.9h1.05v1.05h-1.05zM130.2 209.5h1.05v1.05h-1.05zM135.2 180.9h1.05v1.05h-1.05zM119.6 204.6h1.05v1.05h-1.05zM127.9 235.3h1.05v1.05h-1.05zM109.6 182.4h1.05v1.05h-1.05zM109.7 165.9h1.05v1.05h-1.05zM133.0 168.0h1.05v1.05h-1.05zM117.7 191.2h1.05v1.05h-1.05zM129.5 211.7h1.05v1.05h-1.05zM126.3 249.2h1.05v1.05h-1.05zM94.1 186.5h1.05v1.05h-1.05zM121.7 176.1h1.05v1.05h-1.05zM132.3 196.5h1.05v1.05h-1.05zM114.1 141.4h1.05v1.05h-1.05zM125.2 224.1h1.05v1.05h-1.05zM110.3 156.4h1.05v1.05h-1.05zM115.4 166.5h1.05v1.05h-1.05zM120.2 147.6h1.05v1.05h-1.05zM117.7 145.0h1.05v1.05h-1.05zM123.4 219.9h1.05v1.05h-1.05zM138.2 145.2h1.05v1.05h-1.05zM137.0 200.8h1.05v1.05h-1.05zM131.6 170.7h1.05v1.05h-1.05zM119.0 142.0h1.05v1.05h-1.05zM121.0 179.7h1.05v1.05h-1.05zM131.9 181.0h1.05v1.05h-1.05zM125.3 240.6h1.05v1.05h-1.05zM120.5 179.5h1.05v1.05h-1.05zM128.7 219.4h1.05v1.05h-1.05zM122.7 202.5h1.05v1.05h-1.05zM133.1 203.6h1.05v1.05h-1.05zM134.9 139.9h1.05v1.05h-1.05zM119.7 175.1h1.05v1.05h-1.05zM118.9 165.8h1.05v1.05h-1.05zM123.6 227.6h1.05v1.05h-1.05zM122.9 212.0h1.05v1.05h-1.05zM118.6 149.8h1.05v1.05h-1.05zM127.3 234.2h1.05v1.05h-1.05zM116.7 142.0h1.05v1.05h-1.05zM129.8 198.1h1.05v1.05h-1.05zM120.9 202.3h1.05v1.05h-1.05zM115.6 188.4h1.05v1.05h-1.05zM119.0 196.3h1.05v1.05h-1.05zM119.2 193.3h1.05v1.05h-1.05zM131.1 198.5h1.05v1.05h-1.05zM140.8 168.3h1.05v1.05h-1.05zM124.5 215.3h1.05v1.05h-1.05zM124.8 228.4h1.05v1.05h-1.05zM119.0 197.3h1.05v1.05h-1.05zM127.9 238.3h1.05v1.05h-1.05zM120.9 195.9h1.05v1.05h-1.05zM114.3 190.7h1.05v1.05h-1.05zM119.6 159.6h1.05v1.05h-1.05zM128.1 235.6h1.05v1.05h-1.05zM114.6 201.5h1.05v1.05h-1.05zM118.3 160.0h1.05v1.05h-1.05zM124.0 208.1h1.05v1.05h-1.05zM113.5 154.1h1.05v1.05h-1.05zM116.0 166.5h1.05v1.05h-1.05zM127.2 244.5h1.05v1.05h-1.05zM122.1 202.8h1.05v1.05h-1.05zM132.7 161.4h1.05v1.05h-1.05zM113.4 187.1h1.05v1.05h-1.05zM131.4 171.4h1.05v1.05h-1.05zM108.1 138.2h1.05v1.05h-1.05zM81.6 171.1h1.05v1.05h-1.05zM131.0 185.0h1.05v1.05h-1.05zM102.5 153.1h1.05v1.05h-1.05zM120.0 197.8h1.05v1.05h-1.05zM126.7 249.2h1.05v1.05h-1.05zM128.9 215.7h1.05v1.05h-1.05zM117.3 179.7h1.05v1.05h-1.05zM133.7 142.5h1.05v1.05h-1.05zM122.2 178.4h1.05v1.05h-1.05zM124.6 214.4h1.05v1.05h-1.05zM135.3 137.9h1.05v1.05h-1.05zM122.6 201.1h1.05v1.05h-1.05zM128.5 221.0h1.05v1.05h-1.05zM138.5 184.3h1.05v1.05h-1.05zM123.2 207.5h1.05v1.05h-1.05zM128.6 235.3h1.05v1.05h-1.05zM114.4 167.1h1.05v1.05h-1.05zM132.6 169.4h1.05v1.05h-1.05zM113.9 140.0h1.05v1.05h-1.05zM129.1 232.1h1.05v1.05h-1.05zM100.3 146.4h1.05v1.05h-1.05zM121.1 158.2h1.05v1.05h-1.05zM109.6 218.0h1.05v1.05h-1.05zM131.5 192.3h1.05v1.05h-1.05zM121.6 175.9h1.05v1.05h-1.05zM129.9 210.8h1.05v1.05h-1.05zM124.5 235.8h1.05v1.05h-1.05zM143.9 154.0h1.05v1.05h-1.05zM128.4 228.6h1.05v1.05h-1.05zM135.1 191.1h1.05v1.05h-1.05zM133.6 196.9h1.05v1.05h-1.05zM133.6 147.2h1.05v1.05h-1.05zM116.9 183.6h1.05v1.05h-1.05zM122.5 198.4h1.05v1.05h-1.05zM116.0 139.6h1.05v1.05h-1.05zM130.3 206.5h1.05v1.05h-1.05zM138.0 165.7h1.05v1.05h-1.05zM124.0 220.3h1.05v1.05h-1.05zM120.6 162.4h1.05v1.05h-1.05zM134.7 163.0h1.05v1.05h-1.05zM136.8 155.0h1.05v1.05h-1.05zM134.8 191.7h1.05v1.05h-1.05zM128.9 221.7h1.05v1.05h-1.05zM132.4 175.7h1.05v1.05h-1.05zM120.2 146.4h1.05v1.05h-1.05zM123.5 211.4h1.05v1.05h-1.05zM127.1 247.7h1.05v1.05h-1.05zM128.1 226.1h1.05v1.05h-1.05zM118.5 144.1h1.05v1.05h-1.05zM126.8 249.9h1.05v1.05h-1.05zM127.3 242.9h1.05v1.05h-1.05zM127.8 237.0h1.05v1.05h-1.05zM133.5 148.3h1.05v1.05h-1.05zM114.5 203.0h1.05v1.05h-1.05zM131.7 169.4h1.05v1.05h-1.05zM120.6 167.8h1.05v1.05h-1.05zM132.0 197.3h1.05v1.05h-1.05zM109.9 165.0h1.05v1.05h-1.05zM135.8 194.3h1.05v1.05h-1.05zM122.4 185.5h1.05v1.05h-1.05zM122.6 211.8h1.05v1.05h-1.05zM126.9 250.7h1.05v1.05h-1.05zM122.0 179.9h1.05v1.05h-1.05zM123.3 216.5h1.05v1.05h-1.05zM123.5 215.4h1.05v1.05h-1.05zM133.9 149.7h1.05v1.05h-1.05zM117.0 205.5h1.05v1.05h-1.05zM125.3 236.4h1.05v1.05h-1.05zM113.8 175.9h1.05v1.05h-1.05zM108.6 185.8h1.05v1.05h-1.05zM123.8 242.4h1.05v1.05h-1.05zM129.7 206.9h1.05v1.05h-1.05zM131.8 178.0h1.05v1.05h-1.05zM133.4 214.9h1.05v1.05h-1.05zM133.5 138.6h1.05v1.05h-1.05zM160.1 158.0h1.05v1.05h-1.05zM137.3 189.6h1.05v1.05h-1.05zM145.8 145.9h1.05v1.05h-1.05zM127.1 245.5h1.05v1.05h-1.05zM124.0 221.4h1.05v1.05h-1.05zM150.3 146.0h1.05v1.05h-1.05zM130.1 189.1h1.05v1.05h-1.05zM132.3 227.9h1.05v1.05h-1.05zM138.5 182.4h1.05v1.05h-1.05zM116.1 165.3h1.05v1.05h-1.05zM137.1 178.8h1.05v1.05h-1.05zM125.7 244.0h1.05v1.05h-1.05zM126.2 245.3h1.05v1.05h-1.05zM131.5 200.4h1.05v1.05h-1.05zM126.1 248.3h1.05v1.05h-1.05zM127.3 238.8h1.05v1.05h-1.05zM117.1 174.6h1.05v1.05h-1.05zM130.0 196.9h1.05v1.05h-1.05zM128.1 238.6h1.05v1.05h-1.05zM133.5 149.9h1.05v1.05h-1.05zM131.7 204.7h1.05v1.05h-1.05zM115.4 149.2h1.05v1.05h-1.05zM122.1 178.2h1.05v1.05h-1.05zM131.7 176.9h1.05v1.05h-1.05zM123.6 198.5h1.05v1.05h-1.05zM117.8 171.4h1.05v1.05h-1.05zM132.2 219.1h1.05v1.05h-1.05zM129.0 217.5h1.05v1.05h-1.05zM118.9 150.1h1.05v1.05h-1.05zM113.8 223.9h1.05v1.05h-1.05zM129.7 202.7h1.05v1.05h-1.05zM135.2 163.7h1.05v1.05h-1.05zM120.8 209.1h1.05v1.05h-1.05zM119.4 205.0h1.05v1.05h-1.05zM102.4 146.5h1.05v1.05h-1.05zM122.1 223.5h1.05v1.05h-1.05zM129.5 219.4h1.05v1.05h-1.05zM113.9 148.9h1.05v1.05h-1.05zM123.9 215.4h1.05v1.05h-1.05zM129.7 209.0h1.05v1.05h-1.05zM113.8 149.4h1.05v1.05h-1.05zM133.0 210.1h1.05v1.05h-1.05zM136.6 137.5h1.05v1.05h-1.05zM115.3 155.7h1.05v1.05h-1.05zM136.4 153.0h1.05v1.05h-1.05zM121.9 221.2h1.05v1.05h-1.05zM129.3 222.3h1.05v1.05h-1.05zM133.4 162.9h1.05v1.05h-1.05zM119.5 155.1h1.05v1.05h-1.05zM124.4 221.4h1.05v1.05h-1.05zM128.8 223.6h1.05v1.05h-1.05zM133.7 219.1h1.05v1.05h-1.05zM128.9 232.0h1.05v1.05h-1.05zM123.2 198.8h1.05v1.05h-1.05zM136.3 189.7h1.05v1.05h-1.05zM134.5 176.1h1.05v1.05h-1.05zM127.7 242.7h1.05v1.05h-1.05zM129.6 225.3h1.05v1.05h-1.05zM125.2 234.6h1.05v1.05h-1.05zM124.4 216.0h1.05v1.05h-1.05zM129.9 226.0h1.05v1.05h-1.05zM118.4 143.7h1.05v1.05h-1.05zM123.4 204.2h1.05v1.05h-1.05zM125.0 231.8h1.05v1.05h-1.05zM134.3 172.0h1.05v1.05h-1.05zM113.1 140.0h1.05v1.05h-1.05zM120.5 158.5h1.05v1.05h-1.05zM121.2 174.0h1.05v1.05h-1.05zM142.7 203.6h1.05v1.05h-1.05zM119.5 200.8h1.05v1.05h-1.05zM119.8 212.3h1.05v1.05h-1.05zM132.6 157.3h1.05v1.05h-1.05zM91.5 157.6h1.05v1.05h-1.05zM130.9 191.2h1.05v1.05h-1.05zM145.1 151.4h1.05v1.05h-1.05zM141.3 173.6h1.05v1.05h-1.05zM134.3 170.0h1.05v1.05h-1.05zM124.3 216.2h1.05v1.05h-1.05zM124.5 219.4h1.05v1.05h-1.05zM123.9 221.0h1.05v1.05h-1.05zM138.0 146.2h1.05v1.05h-1.05zM120.5 157.9h1.05v1.05h-1.05zM112.9 147.6h1.05v1.05h-1.05zM115.5 155.5h1.05v1.05h-1.05zM117.2 157.4h1.05v1.05h-1.05zM131.4 197.1h1.05v1.05h-1.05zM136.0 161.5h1.05v1.05h-1.05zM128.8 228.4h1.05v1.05h-1.05zM120.7 173.2h1.05v1.05h-1.05zM127.5 244.4h1.05v1.05h-1.05zM141.1 140.7h1.05v1.05h-1.05zM112.6 149.6h1.05v1.05h-1.05zM128.6 228.6h1.05v1.05h-1.05zM119.7 161.2h1.05v1.05h-1.05zM118.9 155.4h1.05v1.05h-1.05zM127.6 244.5h1.05v1.05h-1.05zM108.0 182.8h1.05v1.05h-1.05zM119.8 198.9h1.05v1.05h-1.05zM131.8 177.1h1.05v1.05h-1.05zM119.5 148.9h1.05v1.05h-1.05zM116.2 166.0h1.05v1.05h-1.05zM124.7 223.0h1.05v1.05h-1.05zM120.7 184.1h1.05v1.05h-1.05zM134.2 183.3h1.05v1.05h-1.05zM126.3 249.0h1.05v1.05h-1.05zM128.1 232.7h1.05v1.05h-1.05zM123.8 205.7h1.05v1.05h-1.05zM125.0 227.0h1.05v1.05h-1.05zM145.0 219.9h1.05v1.05h-1.05zM143.1 171.0h1.05v1.05h-1.05zM134.9 141.2h1.05v1.05h-1.05zM106.2 194.7h1.05v1.05h-1.05zM134.5 174.2h1.05v1.05h-1.05zM138.3 162.0h1.05v1.05h-1.05zM121.2 171.3h1.05v1.05h-1.05zM139.8 173.0h1.05v1.05h-1.05zM126.9 250.8h1.05v1.05h-1.05zM137.6 150.6h1.05v1.05h-1.05zM128.0 229.0h1.05v1.05h-1.05zM122.0 226.7h1.05v1.05h-1.05zM120.7 189.0h1.05v1.05h-1.05zM149.8 180.6h1.05v1.05h-1.05zM120.2 162.6h1.05v1.05h-1.05zM115.7 213.4h1.05v1.05h-1.05zM136.7 142.8h1.05v1.05h-1.05zM116.7 176.1h1.05v1.05h-1.05zM133.9 153.3h1.05v1.05h-1.05zM131.2 192.6h1.05v1.05h-1.05zM122.3 240.5h1.05v1.05h-1.05zM126.3 248.9h1.05v1.05h-1.05zM131.2 174.8h1.05v1.05h-1.05zM132.2 198.2h1.05v1.05h-1.05zM131.5 196.6h1.05v1.05h-1.05zM130.4 209.5h1.05v1.05h-1.05zM128.6 226.9h1.05v1.05h-1.05zM120.4 192.9h1.05v1.05h-1.05zM131.5 217.8h1.05v1.05h-1.05zM118.2 148.2h1.05v1.05h-1.05zM124.9 226.9h1.05v1.05h-1.05zM136.3 140.5h1.05v1.05h-1.05zM120.1 151.6h1.05v1.05h-1.05zM132.0 203.0h1.05v1.05h-1.05zM113.5 160.8h1.05v1.05h-1.05zM122.5 181.2h1.05v1.05h-1.05zM121.9 193.8h1.05v1.05h-1.05zM133.8 156.7h1.05v1.05h-1.05zM133.3 154.7h1.05v1.05h-1.05zM131.8 224.1h1.05v1.05h-1.05zM119.9 146.9h1.05v1.05h-1.05zM125.9 245.9h1.05v1.05h-1.05zM127.0 250.0h1.05v1.05h-1.05zM118.8 191.8h1.05v1.05h-1.05zM130.0 212.4h1.05v1.05h-1.05zM117.5 198.6h1.05v1.05h-1.05zM130.7 192.4h1.05v1.05h-1.05zM135.5 193.5h1.05v1.05h-1.05zM114.1 146.7h1.05v1.05h-1.05zM115.2 145.6h1.05v1.05h-1.05zM132.3 207.2h1.05v1.05h-1.05zM129.1 214.0h1.05v1.05h-1.05zM121.6 173.4h1.05v1.05h-1.05zM130.7 224.5h1.05v1.05h-1.05zM123.0 201.1h1.05v1.05h-1.05zM120.1 166.6h1.05v1.05h-1.05zM126.4 250.0h1.05v1.05h-1.05zM135.8 160.9h1.05v1.05h-1.05zM121.5 164.9h1.05v1.05h-1.05zM121.6 202.6h1.05v1.05h-1.05zM122.7 218.6h1.05v1.05h-1.05zM139.6 185.7h1.05v1.05h-1.05zM131.8 213.0h1.05v1.05h-1.05zM136.6 155.7h1.05v1.05h-1.05zM121.2 180.2h1.05v1.05h-1.05zM131.2 211.8h1.05v1.05h-1.05zM138.4 157.1h1.05v1.05h-1.05zM135.8 178.3h1.05v1.05h-1.05zM124.8 232.7h1.05v1.05h-1.05zM121.0 199.6h1.05v1.05h-1.05zM133.5 191.2h1.05v1.05h-1.05zM139.0 142.9h1.05v1.05h-1.05zM140.1 210.2h1.05v1.05h-1.05zM130.6 195.7h1.05v1.05h-1.05zM137.5 139.6h1.05v1.05h-1.05zM118.9 198.2h1.05v1.05h-1.05zM113.8 155.1h1.05v1.05h-1.05zM124.7 237.1h1.05v1.05h-1.05zM136.1 201.8h1.05v1.05h-1.05zM124.5 226.3h1.05v1.05h-1.05zM118.5 149.2h1.05v1.05h-1.05zM133.2 184.3h1.05v1.05h-1.05zM131.4 222.1h1.05v1.05h-1.05zM130.2 237.8h1.05v1.05h-1.05zM133.5 198.8h1.05v1.05h-1.05zM128.4 237.2h1.05v1.05h-1.05zM130.8 191.7h1.05v1.05h-1.05zM112.9 165.4h1.05v1.05h-1.05zM113.2 211.3h1.05v1.05h-1.05zM124.9 228.3h1.05v1.05h-1.05zM120.6 205.5h1.05v1.05h-1.05zM129.6 228.4h1.05v1.05h-1.05zM140.7 153.3h1.05v1.05h-1.05zM128.1 237.2h1.05v1.05h-1.05zM115.1 164.1h1.05v1.05h-1.05zM123.0 208.6h1.05v1.05h-1.05zM119.7 165.5h1.05v1.05h-1.05zM135.9 161.0h1.05v1.05h-1.05zM127.8 232.3h1.05v1.05h-1.05zM114.2 162.5h1.05v1.05h-1.05zM120.3 142.8h1.05v1.05h-1.05zM132.8 182.7h1.05v1.05h-1.05zM176.3 174.3h1.05v1.05h-1.05zM118.9 209.9h1.05v1.05h-1.05zM124.8 227.4h1.05v1.05h-1.05zM119.2 163.8h1.05v1.05h-1.05zM138.9 155.8h1.05v1.05h-1.05zM128.6 223.6h1.05v1.05h-1.05zM127.5 235.0h1.05v1.05h-1.05zM134.2 206.5h1.05v1.05h-1.05zM120.6 176.4h1.05v1.05h-1.05zM133.0 205.1h1.05v1.05h-1.05zM153.3 140.9h1.05v1.05h-1.05zM140.5 158.8h1.05v1.05h-1.05zM112.1 145.8h1.05v1.05h-1.05zM133.2 179.2h1.05v1.05h-1.05zM138.9 162.6h1.05v1.05h-1.05zM113.7 142.2h1.05v1.05h-1.05zM126.8 245.4h1.05v1.05h-1.05zM131.3 181.9h1.05v1.05h-1.05zM131.0 225.9h1.05v1.05h-1.05zM132.6 158.4h1.05v1.05h-1.05zM130.1 220.4h1.05v1.05h-1.05zM134.6 164.1h1.05v1.05h-1.05zM121.8 208.8h1.05v1.05h-1.05zM135.0 173.6h1.05v1.05h-1.05zM136.7 170.7h1.05v1.05h-1.05zM118.0 146.6h1.05v1.05h-1.05zM135.1 150.4h1.05v1.05h-1.05zM115.7 196.9h1.05v1.05h-1.05zM111.5 169.6h1.05v1.05h-1.05zM128.7 226.5h1.05v1.05h-1.05zM125.4 237.0h1.05v1.05h-1.05zM140.5 167.0h1.05v1.05h-1.05zM119.9 146.8h1.05v1.05h-1.05zM120.3 163.5h1.05v1.05h-1.05zM133.4 188.2h1.05v1.05h-1.05zM111.9 176.0h1.05v1.05h-1.05zM104.3 165.3h1.05v1.05h-1.05zM133.2 182.5h1.05v1.05h-1.05zM116.0 205.3h1.05v1.05h-1.05zM108.0 152.6h1.05v1.05h-1.05zM120.2 204.6h1.05v1.05h-1.05zM135.8 147.1h1.05v1.05h-1.05zM117.1 158.0h1.05v1.05h-1.05zM135.5 158.6h1.05v1.05h-1.05zM120.0 154.4h1.05v1.05h-1.05zM107.0 138.5h1.05v1.05h-1.05zM113.4 138.2h1.05v1.05h-1.05zM118.9 189.9h1.05v1.05h-1.05zM123.3 203.7h1.05v1.05h-1.05zM133.5 164.9h1.05v1.05h-1.05zM165.7 140.5h1.05v1.05h-1.05zM119.0 175.9h1.05v1.05h-1.05zM125.9 246.9h1.05v1.05h-1.05zM126.5 245.0h1.05v1.05h-1.05zM130.4 194.0h1.05v1.05h-1.05zM136.4 159.2h1.05v1.05h-1.05zM137.3 148.8h1.05v1.05h-1.05zM130.0 204.0h1.05v1.05h-1.05zM136.8 188.2h1.05v1.05h-1.05zM122.0 188.6h1.05v1.05h-1.05zM123.8 237.4h1.05v1.05h-1.05zM126.9 250.9h1.05v1.05h-1.05zM138.9 187.5h1.05v1.05h-1.05zM132.4 189.6h1.05v1.05h-1.05zM138.0 151.3h1.05v1.05h-1.05zM121.5 226.5h1.05v1.05h-1.05zM117.3 152.4h1.05v1.05h-1.05zM129.1 215.9h1.05v1.05h-1.05zM135.6 185.8h1.05v1.05h-1.05zM118.9 167.7h1.05v1.05h-1.05zM128.8 231.0h1.05v1.05h-1.05zM118.2 142.7h1.05v1.05h-1.05zM111.0 141.5h1.05v1.05h-1.05zM98.1 140.3h1.05v1.05h-1.05zM126.9 250.6h1.05v1.05h-1.05zM131.8 174.5h1.05v1.05h-1.05zM134.1 171.5h1.05v1.05h-1.05zM112.7 149.6h1.05v1.05h-1.05zM129.7 224.1h1.05v1.05h-1.05zM128.3 233.7h1.05v1.05h-1.05zM144.2 156.9h1.05v1.05h-1.05zM123.1 217.0h1.05v1.05h-1.05zM129.4 241.2h1.05v1.05h-1.05zM125.1 237.8h1.05v1.05h-1.05zM121.3 174.3h1.05v1.05h-1.05zM132.7 186.1h1.05v1.05h-1.05zM115.0 163.4h1.05v1.05h-1.05zM149.1 157.2h1.05v1.05h-1.05zM126.9 250.5h1.05v1.05h-1.05zM101.4 144.1h1.05v1.05h-1.05zM138.9 149.6h1.05v1.05h-1.05zM115.7 144.1h1.05v1.05h-1.05zM132.3 161.2h1.05v1.05h-1.05zM131.3 203.0h1.05v1.05h-1.05zM128.7 218.6h1.05v1.05h-1.05zM133.8 146.2h1.05v1.05h-1.05zM129.9 198.9h1.05v1.05h-1.05zM121.0 191.4h1.05v1.05h-1.05zM119.6 168.6h1.05v1.05h-1.05zM146.5 169.7h1.05v1.05h-1.05zM81.4 169.2h1.05v1.05h-1.05zM135.3 176.6h1.05v1.05h-1.05zM110.6 189.1h1.05v1.05h-1.05zM135.7 161.4h1.05v1.05h-1.05zM129.9 201.6h1.05v1.05h-1.05zM129.9 216.9h1.05v1.05h-1.05zM145.6 146.6h1.05v1.05h-1.05zM119.5 153.1h1.05v1.05h-1.05zM134.4 166.6h1.05v1.05h-1.05zM128.0 228.2h1.05v1.05h-1.05zM126.0 244.0h1.05v1.05h-1.05zM119.4 145.2h1.05v1.05h-1.05zM146.4 143.1h1.05v1.05h-1.05zM137.4 215.7h1.05v1.05h-1.05zM133.9 176.0h1.05v1.05h-1.05zM126.4 248.0h1.05v1.05h-1.05zM121.0 201.9h1.05v1.05h-1.05zM121.7 168.0h1.05v1.05h-1.05zM118.4 205.6h1.05v1.05h-1.05zM114.6 157.2h1.05v1.05h-1.05zM114.7 146.2h1.05v1.05h-1.05zM125.0 232.0h1.05v1.05h-1.05zM136.3 169.7h1.05v1.05h-1.05zM123.3 203.9h1.05v1.05h-1.05zM128.6 227.4h1.05v1.05h-1.05zM123.5 206.9h1.05v1.05h-1.05zM131.6 192.0h1.05v1.05h-1.05zM116.0 147.9h1.05v1.05h-1.05zM126.3 250.1h1.05v1.05h-1.05zM127.8 242.5h1.05v1.05h-1.05zM135.7 137.8h1.05v1.05h-1.05zM130.5 183.9h1.05v1.05h-1.05zM134.9 178.1h1.05v1.05h-1.05zM131.1 206.5h1.05v1.05h-1.05zM136.1 154.6h1.05v1.05h-1.05zM120.9 183.8h1.05v1.05h-1.05zM113.8 180.0h1.05v1.05h-1.05zM121.9 218.4h1.05v1.05h-1.05zM133.8 160.4h1.05v1.05h-1.05zM130.0 222.6h1.05v1.05h-1.05zM127.7 232.0h1.05v1.05h-1.05zM132.0 179.4h1.05v1.05h-1.05zM114.7 154.5h1.05v1.05h-1.05zM132.6 213.3h1.05v1.05h-1.05zM122.7 212.3h1.05v1.05h-1.05zM134.2 230.5h1.05v1.05h-1.05zM132.4 178.8h1.05v1.05h-1.05zM135.2 161.0h1.05v1.05h-1.05zM128.3 233.5h1.05v1.05h-1.05zM135.7 186.2h1.05v1.05h-1.05zM136.2 185.7h1.05v1.05h-1.05zM93.4 235.9h1.05v1.05h-1.05zM131.8 186.7h1.05v1.05h-1.05zM133.0 215.8h1.05v1.05h-1.05zM125.2 224.4h1.05v1.05h-1.05zM137.1 138.7h1.05v1.05h-1.05zM125.9 238.0h1.05v1.05h-1.05zM130.9 207.6h1.05v1.05h-1.05zM119.6 177.2h1.05v1.05h-1.05zM122.7 200.6h1.05v1.05h-1.05zM127.2 248.0h1.05v1.05h-1.05zM110.6 151.0h1.05v1.05h-1.05zM124.7 219.6h1.05v1.05h-1.05zM122.7 199.8h1.05v1.05h-1.05zM118.9 146.6h1.05v1.05h-1.05zM116.7 140.3h1.05v1.05h-1.05zM98.4 146.0h1.05v1.05h-1.05zM132.7 199.9h1.05v1.05h-1.05zM132.7 163.8h1.05v1.05h-1.05zM135.8 152.9h1.05v1.05h-1.05zM128.5 224.7h1.05v1.05h-1.05zM164.1 140.3h1.05v1.05h-1.05zM128.3 236.6h1.05v1.05h-1.05zM132.4 173.0h1.05v1.05h-1.05zM130.9 219.7h1.05v1.05h-1.05zM121.4 222.5h1.05v1.05h-1.05zM128.2 232.0h1.05v1.05h-1.05zM115.7 143.1h1.05v1.05h-1.05zM129.0 233.1h1.05v1.05h-1.05zM141.3 146.2h1.05v1.05h-1.05zM127.8 228.5h1.05v1.05h-1.05zM130.5 209.2h1.05v1.05h-1.05zM131.6 222.9h1.05v1.05h-1.05zM140.8 138.4h1.05v1.05h-1.05zM127.8 237.7h1.05v1.05h-1.05zM133.0 151.5h1.05v1.05h-1.05zM119.3 212.5h1.05v1.05h-1.05zM139.8 142.1h1.05v1.05h-1.05zM171.8 163.1h1.05v1.05h-1.05zM113.7 216.7h1.05v1.05h-1.05zM133.2 189.0h1.05v1.05h-1.05zM119.9 229.1h1.05v1.05h-1.05zM121.8 200.3h1.05v1.05h-1.05zM126.2 246.8h1.05v1.05h-1.05zM140.0 170.4h1.05v1.05h-1.05zM121.1 179.9h1.05v1.05h-1.05zM124.1 215.8h1.05v1.05h-1.05zM126.3 248.7h1.05v1.05h-1.05zM144.6 143.5h1.05v1.05h-1.05zM125.4 233.6h1.05v1.05h-1.05zM128.7 209.3h1.05v1.05h-1.05zM127.4 246.9h1.05v1.05h-1.05zM121.2 203.0h1.05v1.05h-1.05zM117.6 201.0h1.05v1.05h-1.05zM117.5 186.4h1.05v1.05h-1.05zM129.5 209.8h1.05v1.05h-1.05zM124.7 218.4h1.05v1.05h-1.05zM133.1 159.4h1.05v1.05h-1.05zM123.2 215.0h1.05v1.05h-1.05zM123.8 208.9h1.05v1.05h-1.05zM115.4 191.0h1.05v1.05h-1.05zM123.0 215.6h1.05v1.05h-1.05zM135.3 165.6h1.05v1.05h-1.05zM125.1 238.8h1.05v1.05h-1.05zM124.1 209.9h1.05v1.05h-1.05zM132.5 198.8h1.05v1.05h-1.05zM121.2 217.4h1.05v1.05h-1.05zM133.3 153.7h1.05v1.05h-1.05zM139.7 206.3h1.05v1.05h-1.05zM118.6 198.8h1.05v1.05h-1.05zM131.3 193.5h1.05v1.05h-1.05zM136.8 154.8h1.05v1.05h-1.05zM124.3 222.1h1.05v1.05h-1.05zM139.0 154.9h1.05v1.05h-1.05zM119.1 142.5h1.05v1.05h-1.05zM128.7 216.5h1.05v1.05h-1.05zM121.9 228.0h1.05v1.05h-1.05zM134.1 159.1h1.05v1.05h-1.05zM120.9 211.1h1.05v1.05h-1.05zM130.5 221.0h1.05v1.05h-1.05zM125.3 239.6h1.05v1.05h-1.05zM121.0 177.7h1.05v1.05h-1.05zM113.2 143.7h1.05v1.05h-1.05zM117.3 149.4h1.05v1.05h-1.05zM116.1 180.4h1.05v1.05h-1.05zM121.8 196.8h1.05v1.05h-1.05zM120.1 139.6h1.05v1.05h-1.05zM136.6 172.7h1.05v1.05h-1.05zM116.0 141.7h1.05v1.05h-1.05zM134.7 169.7h1.05v1.05h-1.05zM118.7 168.8h1.05v1.05h-1.05zM120.4 168.4h1.05v1.05h-1.05zM128.1 233.5h1.05v1.05h-1.05zM120.0 218.1h1.05v1.05h-1.05zM126.7 241.2h1.05v1.05h-1.05zM136.4 144.1h1.05v1.05h-1.05zM153.1 137.8h1.05v1.05h-1.05zM131.4 178.6h1.05v1.05h-1.05zM124.8 229.7h1.05v1.05h-1.05zM127.4 233.6h1.05v1.05h-1.05zM122.3 196.0h1.05v1.05h-1.05zM121.9 202.2h1.05v1.05h-1.05zM123.7 224.8h1.05v1.05h-1.05zM127.3 238.1h1.05v1.05h-1.05zM146.6 174.1h1.05v1.05h-1.05zM101.4 158.7h1.05v1.05h-1.05zM127.3 241.6h1.05v1.05h-1.05zM129.3 211.4h1.05v1.05h-1.05zM130.7 212.5h1.05v1.05h-1.05zM122.5 185.4h1.05v1.05h-1.05zM120.9 178.7h1.05v1.05h-1.05zM123.1 200.0h1.05v1.05h-1.05zM119.9 151.0h1.05v1.05h-1.05zM131.4 202.2h1.05v1.05h-1.05zM129.3 212.2h1.05v1.05h-1.05zM114.0 161.4h1.05v1.05h-1.05zM137.1 153.5h1.05v1.05h-1.05zM139.5 149.8h1.05v1.05h-1.05zM128.8 228.1h1.05v1.05h-1.05zM130.3 224.7h1.05v1.05h-1.05zM117.3 194.2h1.05v1.05h-1.05zM133.2 140.5h1.05v1.05h-1.05zM131.9 177.0h1.05v1.05h-1.05zM116.2 176.7h1.05v1.05h-1.05zM123.6 209.5h1.05v1.05h-1.05zM136.1 138.2h1.05v1.05h-1.05zM129.3 226.4h1.05v1.05h-1.05zM120.3 183.6h1.05v1.05h-1.05zM136.5 171.1h1.05v1.05h-1.05zM95.0 156.9h1.05v1.05h-1.05zM134.6 156.5h1.05v1.05h-1.05zM134.0 202.7h1.05v1.05h-1.05zM124.2 215.9h1.05v1.05h-1.05zM114.0 139.3h1.05v1.05h-1.05zM122.1 184.3h1.05v1.05h-1.05zM130.7 214.6h1.05v1.05h-1.05zM132.6 231.9h1.05v1.05h-1.05zM137.0 157.6h1.05v1.05h-1.05zM150.7 152.8h1.05v1.05h-1.05zM120.3 182.4h1.05v1.05h-1.05zM131.6 203.0h1.05v1.05h-1.05zM139.4 172.8h1.05v1.05h-1.05zM114.7 139.2h1.05v1.05h-1.05zM134.4 181.5h1.05v1.05h-1.05zM118.3 159.3h1.05v1.05h-1.05zM114.5 149.4h1.05v1.05h-1.05zM117.3 162.4h1.05v1.05h-1.05zM122.7 191.5h1.05v1.05h-1.05zM124.6 226.9h1.05v1.05h-1.05zM138.4 168.8h1.05v1.05h-1.05zM121.3 154.6h1.05v1.05h-1.05zM151.3 141.0h1.05v1.05h-1.05zM128.8 230.1h1.05v1.05h-1.05zM124.7 235.0h1.05v1.05h-1.05zM120.3 175.3h1.05v1.05h-1.05zM132.8 155.1h1.05v1.05h-1.05zM127.9 239.8h1.05v1.05h-1.05zM121.8 177.7h1.05v1.05h-1.05zM123.6 216.4h1.05v1.05h-1.05zM118.5 137.3h1.05v1.05h-1.05zM121.7 205.5h1.05v1.05h-1.05zM125.6 239.1h1.05v1.05h-1.05zM136.0 159.7h1.05v1.05h-1.05zM133.1 212.5h1.05v1.05h-1.05zM115.3 199.0h1.05v1.05h-1.05zM128.2 232.9h1.05v1.05h-1.05zM128.5 209.0h1.05v1.05h-1.05zM121.5 232.5h1.05v1.05h-1.05zM128.8 217.5h1.05v1.05h-1.05zM109.3 181.5h1.05v1.05h-1.05zM121.5 212.7h1.05v1.05h-1.05zM132.3 171.9h1.05v1.05h-1.05zM117.4 147.4h1.05v1.05h-1.05zM121.0 181.7h1.05v1.05h-1.05zM127.6 246.4h1.05v1.05h-1.05zM119.8 141.3h1.05v1.05h-1.05zM123.0 224.6h1.05v1.05h-1.05zM150.1 207.2h1.05v1.05h-1.05zM140.7 187.1h1.05v1.05h-1.05zM148.7 177.1h1.05v1.05h-1.05zM121.7 207.7h1.05v1.05h-1.05zM123.5 196.6h1.05v1.05h-1.05zM121.5 176.3h1.05v1.05h-1.05zM122.1 194.8h1.05v1.05h-1.05zM120.7 214.5h1.05v1.05h-1.05zM123.0 199.9h1.05v1.05h-1.05zM121.8 202.9h1.05v1.05h-1.05zM130.0 213.5h1.05v1.05h-1.05zM104.4 179.1h1.05v1.05h-1.05zM120.3 188.7h1.05v1.05h-1.05zM122.5 199.9h1.05v1.05h-1.05zM134.7 167.5h1.05v1.05h-1.05zM117.9 156.6h1.05v1.05h-1.05zM116.0 173.9h1.05v1.05h-1.05zM122.2 207.8h1.05v1.05h-1.05zM135.0 143.7h1.05v1.05h-1.05zM128.3 236.2h1.05v1.05h-1.05zM121.0 157.3h1.05v1.05h-1.05zM133.0 198.8h1.05v1.05h-1.05zM130.8 201.5h1.05v1.05h-1.05zM104.4 153.4h1.05v1.05h-1.05zM121.0 173.2h1.05v1.05h-1.05zM114.5 139.9h1.05v1.05h-1.05zM132.5 149.8h1.05v1.05h-1.05zM145.4 234.7h1.05v1.05h-1.05zM132.1 189.7h1.05v1.05h-1.05zM135.8 161.3h1.05v1.05h-1.05zM128.2 239.0h1.05v1.05h-1.05zM130.7 185.4h1.05v1.05h-1.05zM116.2 137.9h1.05v1.05h-1.05zM130.6 219.7h1.05v1.05h-1.05zM124.2 234.6h1.05v1.05h-1.05zM123.9 213.8h1.05v1.05h-1.05zM130.4 207.5h1.05v1.05h-1.05zM130.0 214.2h1.05v1.05h-1.05zM134.3 197.6h1.05v1.05h-1.05zM115.5 154.4h1.05v1.05h-1.05zM132.8 188.1h1.05v1.05h-1.05zM116.2 180.3h1.05v1.05h-1.05zM124.6 235.6h1.05v1.05h-1.05zM128.7 241.4h1.05v1.05h-1.05zM118.9 142.2h1.05v1.05h-1.05zM122.4 207.1h1.05v1.05h-1.05zM111.5 142.6h1.05v1.05h-1.05zM123.0 208.4h1.05v1.05h-1.05zM134.4 174.9h1.05v1.05h-1.05zM112.9 172.6h1.05v1.05h-1.05zM125.6 238.0h1.05v1.05h-1.05zM127.7 240.5h1.05v1.05h-1.05zM122.5 196.5h1.05v1.05h-1.05zM127.7 233.3h1.05v1.05h-1.05zM129.5 213.0h1.05v1.05h-1.05zM127.8 224.8h1.05v1.05h-1.05zM132.4 211.0h1.05v1.05h-1.05zM110.9 194.9h1.05v1.05h-1.05zM130.8 211.2h1.05v1.05h-1.05zM123.0 208.5h1.05v1.05h-1.05zM130.3 191.6h1.05v1.05h-1.05zM133.2 170.3h1.05v1.05h-1.05zM128.4 244.5h1.05v1.05h-1.05zM138.0 137.5h1.05v1.05h-1.05zM130.6 197.7h1.05v1.05h-1.05zM144.2 145.1h1.05v1.05h-1.05zM127.2 249.7h1.05v1.05h-1.05zM126.0 242.4h1.05v1.05h-1.05zM125.5 236.8h1.05v1.05h-1.05zM133.1 146.2h1.05v1.05h-1.05zM120.9 199.8h1.05v1.05h-1.05zM120.5 153.1h1.05v1.05h-1.05zM115.9 169.0h1.05v1.05h-1.05zM130.4 238.3h1.05v1.05h-1.05zM130.6 205.5h1.05v1.05h-1.05zM121.7 208.9h1.05v1.05h-1.05zM120.7 195.2h1.05v1.05h-1.05zM115.2 162.8h1.05v1.05h-1.05zM128.3 238.9h1.05v1.05h-1.05zM108.7 144.8h1.05v1.05h-1.05zM131.5 192.6h1.05v1.05h-1.05zM129.4 205.0h1.05v1.05h-1.05zM132.7 168.7h1.05v1.05h-1.05zM124.8 215.3h1.05v1.05h-1.05zM119.1 167.1h1.05v1.05h-1.05zM117.1 199.4h1.05v1.05h-1.05zM113.8 192.5h1.05v1.05h-1.05zM128.2 225.6h1.05v1.05h-1.05zM128.6 223.9h1.05v1.05h-1.05zM134.8 151.5h1.05v1.05h-1.05zM112.4 181.7h1.05v1.05h-1.05zM130.2 198.7h1.05v1.05h-1.05zM118.3 160.5h1.05v1.05h-1.05zM120.4 146.2h1.05v1.05h-1.05zM124.0 229.3h1.05v1.05h-1.05zM154.1 137.4h1.05v1.05h-1.05zM126.6 248.6h1.05v1.05h-1.05zM141.8 177.7h1.05v1.05h-1.05zM117.1 216.8h1.05v1.05h-1.05zM124.6 218.1h1.05v1.05h-1.05zM120.3 190.6h1.05v1.05h-1.05zM136.8 178.7h1.05v1.05h-1.05zM135.7 197.0h1.05v1.05h-1.05zM121.5 167.0h1.05v1.05h-1.05zM118.7 142.3h1.05v1.05h-1.05zM124.4 228.1h1.05v1.05h-1.05zM132.5 219.8h1.05v1.05h-1.05zM139.6 178.1h1.05v1.05h-1.05zM122.1 200.0h1.05v1.05h-1.05zM124.1 210.8h1.05v1.05h-1.05zM121.9 189.6h1.05v1.05h-1.05zM136.2 168.8h1.05v1.05h-1.05zM119.6 146.6h1.05v1.05h-1.05zM146.0 143.3h1.05v1.05h-1.05zM140.5 155.9h1.05v1.05h-1.05zM122.3 207.2h1.05v1.05h-1.05zM137.8 149.2h1.05v1.05h-1.05zM142.5 167.4h1.05v1.05h-1.05zM128.8 227.4h1.05v1.05h-1.05zM113.8 142.0h1.05v1.05h-1.05zM124.4 218.7h1.05v1.05h-1.05zM132.7 170.4h1.05v1.05h-1.05zM121.0 169.0h1.05v1.05h-1.05zM120.3 146.7h1.05v1.05h-1.05zM132.4 172.0h1.05v1.05h-1.05zM139.2 138.9h1.05v1.05h-1.05zM125.5 242.1h1.05v1.05h-1.05zM126.2 245.2h1.05v1.05h-1.05zM131.3 224.8h1.05v1.05h-1.05zM121.3 181.8h1.05v1.05h-1.05zM123.7 198.5h1.05v1.05h-1.05zM128.1 239.0h1.05v1.05h-1.05zM124.2 224.1h1.05v1.05h-1.05zM121.7 181.4h1.05v1.05h-1.05zM121.0 200.9h1.05v1.05h-1.05zM114.7 161.8h1.05v1.05h-1.05zM137.8 193.7h1.05v1.05h-1.05zM138.1 149.8h1.05v1.05h-1.05zM93.2 162.2h1.05v1.05h-1.05zM121.3 190.7h1.05v1.05h-1.05zM130.6 205.9h1.05v1.05h-1.05zM124.7 222.7h1.05v1.05h-1.05zM124.4 213.5h1.05v1.05h-1.05zM122.3 206.2h1.05v1.05h-1.05zM146.5 205.5h1.05v1.05h-1.05zM129.3 226.9h1.05v1.05h-1.05zM131.1 193.0h1.05v1.05h-1.05zM125.0 235.2h1.05v1.05h-1.05zM105.0 150.8h1.05v1.05h-1.05zM134.0 184.5h1.05v1.05h-1.05zM125.3 237.4h1.05v1.05h-1.05zM123.7 209.3h1.05v1.05h-1.05zM123.3 217.8h1.05v1.05h-1.05zM128.0 229.7h1.05v1.05h-1.05zM120.3 192.2h1.05v1.05h-1.05zM123.1 226.3h1.05v1.05h-1.05zM125.0 230.2h1.05v1.05h-1.05zM134.7 168.2h1.05v1.05h-1.05zM131.9 197.8h1.05v1.05h-1.05zM121.5 171.4h1.05v1.05h-1.05zM107.3 193.4h1.05v1.05h-1.05zM111.8 189.6h1.05v1.05h-1.05zM134.8 211.3h1.05v1.05h-1.05zM120.8 198.2h1.05v1.05h-1.05zM121.7 192.2h1.05v1.05h-1.05zM124.3 207.7h1.05v1.05h-1.05zM135.0 155.2h1.05v1.05h-1.05zM123.6 218.8h1.05v1.05h-1.05zM131.2 221.9h1.05v1.05h-1.05zM114.8 207.5h1.05v1.05h-1.05zM138.1 159.5h1.05v1.05h-1.05zM137.0 152.9h1.05v1.05h-1.05zM132.2 183.0h1.05v1.05h-1.05zM136.5 205.6h1.05v1.05h-1.05zM121.5 173.9h1.05v1.05h-1.05zM133.1 155.1h1.05v1.05h-1.05zM121.7 219.2h1.05v1.05h-1.05zM167.9 171.9h1.05v1.05h-1.05zM120.2 167.4h1.05v1.05h-1.05zM123.7 202.2h1.05v1.05h-1.05zM125.7 231.1h1.05v1.05h-1.05zM133.3 178.4h1.05v1.05h-1.05zM128.9 223.1h1.05v1.05h-1.05zM130.1 204.8h1.05v1.05h-1.05zM112.8 185.2h1.05v1.05h-1.05zM144.2 141.0h1.05v1.05h-1.05zM133.3 230.9h1.05v1.05h-1.05zM125.4 240.2h1.05v1.05h-1.05zM117.0 185.8h1.05v1.05h-1.05zM112.5 143.0h1.05v1.05h-1.05zM125.9 243.9h1.05v1.05h-1.05zM144.0 174.6h1.05v1.05h-1.05zM126.3 246.6h1.05v1.05h-1.05zM114.5 184.5h1.05v1.05h-1.05zM125.3 234.3h1.05v1.05h-1.05zM136.9 172.8h1.05v1.05h-1.05zM129.4 205.6h1.05v1.05h-1.05zM112.7 173.3h1.05v1.05h-1.05zM133.9 217.4h1.05v1.05h-1.05zM127.5 240.0h1.05v1.05h-1.05zM111.7 226.5h1.05v1.05h-1.05zM129.1 215.6h1.05v1.05h-1.05zM129.2 228.6h1.05v1.05h-1.05zM123.8 224.5h1.05v1.05h-1.05zM132.4 185.2h1.05v1.05h-1.05zM122.0 196.9h1.05v1.05h-1.05zM114.3 155.3h1.05v1.05h-1.05zM121.7 190.3h1.05v1.05h-1.05zM111.2 185.7h1.05v1.05h-1.05zM96.8 167.4h1.05v1.05h-1.05zM147.0 152.3h1.05v1.05h-1.05zM120.1 180.8h1.05v1.05h-1.05zM125.7 245.2h1.05v1.05h-1.05zM115.1 194.5h1.05v1.05h-1.05zM126.2 245.9h1.05v1.05h-1.05zM118.7 178.6h1.05v1.05h-1.05zM128.4 241.3h1.05v1.05h-1.05zM131.2 185.7h1.05v1.05h-1.05zM124.8 230.4h1.05v1.05h-1.05zM140.2 152.1h1.05v1.05h-1.05zM123.5 237.5h1.05v1.05h-1.05zM120.8 172.8h1.05v1.05h-1.05zM136.0 168.1h1.05v1.05h-1.05zM121.9 215.4h1.05v1.05h-1.05zM120.5 179.9h1.05v1.05h-1.05zM122.6 209.1h1.05v1.05h-1.05zM130.4 217.3h1.05v1.05h-1.05zM128.7 217.2h1.05v1.05h-1.05zM126.0 248.3h1.05v1.05h-1.05zM119.7 171.3h1.05v1.05h-1.05zM128.2 240.4h1.05v1.05h-1.05zM124.3 224.7h1.05v1.05h-1.05zM124.6 238.4h1.05v1.05h-1.05zM137.1 157.5h1.05v1.05h-1.05zM132.6 186.8h1.05v1.05h-1.05zM119.6 193.6h1.05v1.05h-1.05zM137.5 181.0h1.05v1.05h-1.05zM116.6 157.0h1.05v1.05h-1.05zM121.9 176.6h1.05v1.05h-1.05zM133.2 188.6h1.05v1.05h-1.05zM122.3 211.0h1.05v1.05h-1.05zM138.2 188.2h1.05v1.05h-1.05zM119.4 138.5h1.05v1.05h-1.05zM120.5 182.4h1.05v1.05h-1.05zM131.6 192.6h1.05v1.05h-1.05zM137.3 148.7h1.05v1.05h-1.05zM125.6 242.8h1.05v1.05h-1.05zM127.1 241.6h1.05v1.05h-1.05zM116.1 159.0h1.05v1.05h-1.05zM115.4 143.1h1.05v1.05h-1.05zM127.6 243.3h1.05v1.05h-1.05zM126.3 247.1h1.05v1.05h-1.05zM126.6 249.3h1.05v1.05h-1.05zM130.6 181.7h1.05v1.05h-1.05zM124.3 231.9h1.05v1.05h-1.05zM132.9 183.3h1.05v1.05h-1.05zM120.4 172.3h1.05v1.05h-1.05zM127.0 248.4h1.05v1.05h-1.05zM109.7 150.6h1.05v1.05h-1.05zM124.8 218.1h1.05v1.05h-1.05zM117.8 184.1h1.05v1.05h-1.05zM123.4 206.4h1.05v1.05h-1.05zM121.0 207.6h1.05v1.05h-1.05zM117.9 200.8h1.05v1.05h-1.05zM126.5 250.3h1.05v1.05h-1.05zM121.9 197.9h1.05v1.05h-1.05zM123.5 216.6h1.05v1.05h-1.05zM130.1 206.0h1.05v1.05h-1.05zM129.7 228.8h1.05v1.05h-1.05zM130.8 208.5h1.05v1.05h-1.05zM133.9 168.5h1.05v1.05h-1.05zM144.6 138.9h1.05v1.05h-1.05zM129.3 224.7h1.05v1.05h-1.05zM117.1 151.0h1.05v1.05h-1.05zM131.7 177.6h1.05v1.05h-1.05zM125.9 236.6h1.05v1.05h-1.05zM126.5 248.5h1.05v1.05h-1.05zM118.6 149.2h1.05v1.05h-1.05zM129.1 220.3h1.05v1.05h-1.05zM125.0 235.9h1.05v1.05h-1.05zM132.4 173.2h1.05v1.05h-1.05zM133.5 167.8h1.05v1.05h-1.05zM135.1 148.0h1.05v1.05h-1.05zM121.5 190.0h1.05v1.05h-1.05zM132.7 211.2h1.05v1.05h-1.05zM120.1 210.4h1.05v1.05h-1.05zM124.5 223.7h1.05v1.05h-1.05zM120.7 175.4h1.05v1.05h-1.05zM138.3 143.1h1.05v1.05h-1.05zM128.1 238.7h1.05v1.05h-1.05zM123.8 202.7h1.05v1.05h-1.05zM129.5 206.6h1.05v1.05h-1.05zM127.5 239.3h1.05v1.05h-1.05zM131.6 179.7h1.05v1.05h-1.05zM118.5 138.9h1.05v1.05h-1.05zM123.7 215.2h1.05v1.05h-1.05zM153.6 165.6h1.05v1.05h-1.05zM120.4 147.4h1.05v1.05h-1.05zM123.4 216.0h1.05v1.05h-1.05zM134.0 145.5h1.05v1.05h-1.05zM121.3 163.3h1.05v1.05h-1.05zM118.8 174.3h1.05v1.05h-1.05zM122.1 225.0h1.05v1.05h-1.05zM128.4 215.2h1.05v1.05h-1.05zM124.9 236.5h1.05v1.05h-1.05zM135.5 147.9h1.05v1.05h-1.05zM102.6 157.0h1.05v1.05h-1.05zM127.5 238.5h1.05v1.05h-1.05zM122.3 186.7h1.05v1.05h-1.05zM124.4 222.7h1.05v1.05h-1.05zM141.2 161.5h1.05v1.05h-1.05zM132.2 182.1h1.05v1.05h-1.05zM139.3 142.8h1.05v1.05h-1.05zM119.5 165.6h1.05v1.05h-1.05zM128.0 236.6h1.05v1.05h-1.05zM123.8 204.2h1.05v1.05h-1.05zM132.0 181.7h1.05v1.05h-1.05zM110.8 146.3h1.05v1.05h-1.05zM129.3 204.4h1.05v1.05h-1.05zM132.4 225.8h1.05v1.05h-1.05zM122.3 214.5h1.05v1.05h-1.05zM129.8 218.6h1.05v1.05h-1.05zM128.7 229.9h1.05v1.05h-1.05zM129.9 207.5h1.05v1.05h-1.05zM123.9 218.5h1.05v1.05h-1.05zM133.3 188.9h1.05v1.05h-1.05zM119.8 148.1h1.05v1.05h-1.05zM111.6 141.9h1.05v1.05h-1.05zM124.0 229.3h1.05v1.05h-1.05zM93.1 182.5h1.05v1.05h-1.05zM135.2 171.2h1.05v1.05h-1.05zM128.2 230.1h1.05v1.05h-1.05zM131.2 186.6h1.05v1.05h-1.05zM124.2 224.3h1.05v1.05h-1.05zM121.3 205.2h1.05v1.05h-1.05zM129.2 209.8h1.05v1.05h-1.05zM144.3 156.3h1.05v1.05h-1.05zM130.8 220.2h1.05v1.05h-1.05zM117.9 185.7h1.05v1.05h-1.05zM134.5 180.7h1.05v1.05h-1.05zM132.8 209.1h1.05v1.05h-1.05zM145.5 144.5h1.05v1.05h-1.05zM130.4 208.8h1.05v1.05h-1.05zM131.0 209.5h1.05v1.05h-1.05zM103.8 169.2h1.05v1.05h-1.05zM122.3 191.4h1.05v1.05h-1.05zM113.9 165.8h1.05v1.05h-1.05zM129.2 230.1h1.05v1.05h-1.05zM123.4 230.7h1.05v1.05h-1.05zM133.0 164.6h1.05v1.05h-1.05zM122.9 202.4h1.05v1.05h-1.05zM132.2 151.9h1.05v1.05h-1.05zM124.5 220.3h1.05v1.05h-1.05zM129.0 219.5h1.05v1.05h-1.05zM116.5 151.3h1.05v1.05h-1.05zM121.9 205.5h1.05v1.05h-1.05zM128.1 235.5h1.05v1.05h-1.05zM122.8 221.9h1.05v1.05h-1.05zM120.6 161.1h1.05v1.05h-1.05zM121.7 216.6h1.05v1.05h-1.05zM137.4 184.0h1.05v1.05h-1.05zM135.3 154.3h1.05v1.05h-1.05zM137.0 178.0h1.05v1.05h-1.05zM108.1 162.9h1.05v1.05h-1.05zM138.5 139.6h1.05v1.05h-1.05zM122.1 212.6h1.05v1.05h-1.05zM114.6 150.0h1.05v1.05h-1.05zM119.4 184.5h1.05v1.05h-1.05zM124.4 224.2h1.05v1.05h-1.05zM127.9 232.7h1.05v1.05h-1.05zM117.4 209.3h1.05v1.05h-1.05zM125.8 232.0h1.05v1.05h-1.05zM115.1 160.9h1.05v1.05h-1.05zM97.6 183.8h1.05v1.05h-1.05zM127.7 244.2h1.05v1.05h-1.05zM141.8 149.7h1.05v1.05h-1.05zM117.8 179.6h1.05v1.05h-1.05zM116.2 196.4h1.05v1.05h-1.05zM124.7 231.6h1.05v1.05h-1.05zM114.6 193.4h1.05v1.05h-1.05zM95.5 145.7h1.05v1.05h-1.05zM140.4 180.8h1.05v1.05h-1.05zM134.0 194.5h1.05v1.05h-1.05zM121.1 178.3h1.05v1.05h-1.05zM116.4 184.5h1.05v1.05h-1.05zM132.0 176.6h1.05v1.05h-1.05zM124.5 224.4h1.05v1.05h-1.05zM129.7 230.6h1.05v1.05h-1.05zM127.2 248.9h1.05v1.05h-1.05zM132.7 154.6h1.05v1.05h-1.05zM126.5 250.4h1.05v1.05h-1.05zM129.3 217.6h1.05v1.05h-1.05zM120.2 180.7h1.05v1.05h-1.05zM123.1 190.1h1.05v1.05h-1.05zM113.1 147.3h1.05v1.05h-1.05zM123.4 222.7h1.05v1.05h-1.05zM125.4 234.9h1.05v1.05h-1.05zM123.7 229.1h1.05v1.05h-1.05zM118.4 190.3h1.05v1.05h-1.05zM124.1 213.6h1.05v1.05h-1.05zM138.9 195.0h1.05v1.05h-1.05zM131.4 169.8h1.05v1.05h-1.05zM129.9 210.1h1.05v1.05h-1.05zM132.5 172.2h1.05v1.05h-1.05zM126.4 247.8h1.05v1.05h-1.05zM132.7 185.0h1.05v1.05h-1.05zM119.9 146.7h1.05v1.05h-1.05zM133.8 144.0h1.05v1.05h-1.05zM132.7 182.2h1.05v1.05h-1.05zM114.0 138.9h1.05v1.05h-1.05zM131.4 220.1h1.05v1.05h-1.05zM119.9 212.8h1.05v1.05h-1.05zM119.3 195.8h1.05v1.05h-1.05zM135.7 189.1h1.05v1.05h-1.05zM118.5 155.9h1.05v1.05h-1.05zM119.7 195.9h1.05v1.05h-1.05zM125.8 243.7h1.05v1.05h-1.05zM107.4 168.5h1.05v1.05h-1.05zM130.5 221.6h1.05v1.05h-1.05zM137.3 149.3h1.05v1.05h-1.05zM125.0 222.9h1.05v1.05h-1.05zM130.1 213.0h1.05v1.05h-1.05zM130.1 232.0h1.05v1.05h-1.05zM131.9 212.2h1.05v1.05h-1.05zM120.8 179.1h1.05v1.05h-1.05zM128.7 216.3h1.05v1.05h-1.05zM128.3 243.6h1.05v1.05h-1.05zM119.6 180.6h1.05v1.05h-1.05zM112.9 164.8h1.05v1.05h-1.05zM125.0 235.6h1.05v1.05h-1.05zM117.9 198.4h1.05v1.05h-1.05zM125.4 240.9h1.05v1.05h-1.05zM125.5 248.2h1.05v1.05h-1.05zM121.0 204.0h1.05v1.05h-1.05zM129.9 214.1h1.05v1.05h-1.05zM117.1 150.1h1.05v1.05h-1.05zM127.4 248.7h1.05v1.05h-1.05zM132.4 174.2h1.05v1.05h-1.05zM137.7 164.9h1.05v1.05h-1.05zM130.3 199.2h1.05v1.05h-1.05zM137.1 190.0h1.05v1.05h-1.05zM123.8 218.7h1.05v1.05h-1.05zM120.6 218.1h1.05v1.05h-1.05zM127.6 243.0h1.05v1.05h-1.05zM133.7 146.9h1.05v1.05h-1.05zM126.9 246.4h1.05v1.05h-1.05zM128.8 232.0h1.05v1.05h-1.05zM120.9 165.9h1.05v1.05h-1.05zM131.1 194.7h1.05v1.05h-1.05zM122.5 188.7h1.05v1.05h-1.05zM124.2 213.2h1.05v1.05h-1.05zM125.0 229.0h1.05v1.05h-1.05zM132.4 158.0h1.05v1.05h-1.05zM128.9 233.7h1.05v1.05h-1.05zM118.7 213.0h1.05v1.05h-1.05zM135.6 163.0h1.05v1.05h-1.05zM129.6 212.8h1.05v1.05h-1.05zM133.4 142.2h1.05v1.05h-1.05zM124.3 227.3h1.05v1.05h-1.05zM120.6 187.0h1.05v1.05h-1.05zM120.2 185.9h1.05v1.05h-1.05zM132.5 190.0h1.05v1.05h-1.05zM135.9 160.6h1.05v1.05h-1.05zM127.2 243.9h1.05v1.05h-1.05zM117.5 185.0h1.05v1.05h-1.05zM138.6 159.0h1.05v1.05h-1.05zM127.0 243.3h1.05v1.05h-1.05zM122.6 185.0h1.05v1.05h-1.05zM135.7 196.6h1.05v1.05h-1.05zM123.0 200.6h1.05v1.05h-1.05zM130.1 185.9h1.05v1.05h-1.05zM116.7 176.5h1.05v1.05h-1.05zM119.2 168.1h1.05v1.05h-1.05zM144.1 147.7h1.05v1.05h-1.05zM140.5 173.1h1.05v1.05h-1.05zM143.6 137.3h1.05v1.05h-1.05zM132.6 172.2h1.05v1.05h-1.05zM129.9 216.1h1.05v1.05h-1.05zM123.3 230.8h1.05v1.05h-1.05zM125.1 240.6h1.05v1.05h-1.05zM123.6 216.2h1.05v1.05h-1.05zM123.3 234.3h1.05v1.05h-1.05zM122.0 170.2h1.05v1.05h-1.05zM132.5 169.6h1.05v1.05h-1.05zM121.7 177.9h1.05v1.05h-1.05zM121.8 203.1h1.05v1.05h-1.05zM130.3 194.0h1.05v1.05h-1.05zM129.1 217.3h1.05v1.05h-1.05zM147.2 145.6h1.05v1.05h-1.05zM126.7 248.3h1.05v1.05h-1.05zM152.6 210.2h1.05v1.05h-1.05zM133.1 182.1h1.05v1.05h-1.05zM128.3 226.7h1.05v1.05h-1.05zM136.3 152.2h1.05v1.05h-1.05zM119.5 192.2h1.05v1.05h-1.05zM129.5 204.5h1.05v1.05h-1.05zM125.8 241.6h1.05v1.05h-1.05zM120.1 214.7h1.05v1.05h-1.05zM136.2 180.3h1.05v1.05h-1.05zM129.3 214.7h1.05v1.05h-1.05zM142.6 244.1h1.05v1.05h-1.05zM132.6 181.4h1.05v1.05h-1.05zM123.1 212.1h1.05v1.05h-1.05zM114.4 153.1h1.05v1.05h-1.05zM120.6 169.3h1.05v1.05h-1.05zM137.3 166.2h1.05v1.05h-1.05zM139.6 148.5h1.05v1.05h-1.05zM118.0 156.9h1.05v1.05h-1.05zM123.9 209.2h1.05v1.05h-1.05zM131.9 182.5h1.05v1.05h-1.05zM123.1 217.3h1.05v1.05h-1.05zM124.8 224.1h1.05v1.05h-1.05zM124.4 223.6h1.05v1.05h-1.05zM129.5 235.3h1.05v1.05h-1.05zM125.2 219.7h1.05v1.05h-1.05zM132.0 221.4h1.05v1.05h-1.05zM132.1 171.4h1.05v1.05h-1.05zM124.4 218.2h1.05v1.05h-1.05zM127.5 243.9h1.05v1.05h-1.05zM123.4 198.7h1.05v1.05h-1.05zM130.2 224.2h1.05v1.05h-1.05zM133.6 169.6h1.05v1.05h-1.05zM124.5 221.7h1.05v1.05h-1.05zM133.3 183.8h1.05v1.05h-1.05zM124.9 227.2h1.05v1.05h-1.05zM138.5 150.9h1.05v1.05h-1.05zM129.6 212.2h1.05v1.05h-1.05zM112.6 187.1h1.05v1.05h-1.05zM116.2 196.8h1.05v1.05h-1.05zM128.8 240.7h1.05v1.05h-1.05zM126.3 247.6h1.05v1.05h-1.05zM111.0 153.5h1.05v1.05h-1.05zM136.7 207.9h1.05v1.05h-1.05zM140.2 169.9h1.05v1.05h-1.05zM134.0 199.7h1.05v1.05h-1.05zM135.4 153.9h1.05v1.05h-1.05zM129.9 224.9h1.05v1.05h-1.05zM132.9 191.8h1.05v1.05h-1.05zM120.5 184.8h1.05v1.05h-1.05zM134.2 158.6h1.05v1.05h-1.05zM127.1 246.3h1.05v1.05h-1.05zM135.9 205.4h1.05v1.05h-1.05zM131.1 192.8h1.05v1.05h-1.05zM115.0 180.4h1.05v1.05h-1.05zM129.1 231.5h1.05v1.05h-1.05zM122.2 185.3h1.05v1.05h-1.05zM138.0 169.2h1.05v1.05h-1.05zM139.6 165.0h1.05v1.05h-1.05zM124.6 221.4h1.05v1.05h-1.05zM137.9 196.6h1.05v1.05h-1.05zM124.3 212.8h1.05v1.05h-1.05zM132.7 202.5h1.05v1.05h-1.05zM112.3 205.3h1.05v1.05h-1.05zM116.3 142.8h1.05v1.05h-1.05zM126.3 248.7h1.05v1.05h-1.05zM103.2 142.6h1.05v1.05h-1.05zM127.0 245.8h1.05v1.05h-1.05zM124.5 239.6h1.05v1.05h-1.05zM130.1 223.6h1.05v1.05h-1.05zM124.2 214.1h1.05v1.05h-1.05zM79.3 151.9h1.05v1.05h-1.05zM118.9 153.6h1.05v1.05h-1.05zM134.3 143.9h1.05v1.05h-1.05zM120.0 202.3h1.05v1.05h-1.05zM126.4 248.3h1.05v1.05h-1.05zM133.4 176.4h1.05v1.05h-1.05zM139.7 147.6h1.05v1.05h-1.05zM128.7 235.8h1.05v1.05h-1.05zM137.9 155.0h1.05v1.05h-1.05zM127.0 250.7h1.05v1.05h-1.05zM140.9 165.0h1.05v1.05h-1.05zM136.2 190.8h1.05v1.05h-1.05zM135.0 146.6h1.05v1.05h-1.05zM142.0 150.1h1.05v1.05h-1.05zM127.4 243.9h1.05v1.05h-1.05zM133.0 190.3h1.05v1.05h-1.05zM128.7 219.3h1.05v1.05h-1.05zM131.5 196.7h1.05v1.05h-1.05zM127.7 241.2h1.05v1.05h-1.05zM118.7 205.6h1.05v1.05h-1.05zM119.8 200.2h1.05v1.05h-1.05zM127.4 250.3h1.05v1.05h-1.05zM132.3 192.9h1.05v1.05h-1.05zM117.0 148.1h1.05v1.05h-1.05zM127.3 241.9h1.05v1.05h-1.05zM116.7 142.9h1.05v1.05h-1.05zM122.0 191.2h1.05v1.05h-1.05zM130.4 223.0h1.05v1.05h-1.05zM133.7 140.4h1.05v1.05h-1.05zM122.4 193.0h1.05v1.05h-1.05zM130.7 197.0h1.05v1.05h-1.05zM133.7 203.8h1.05v1.05h-1.05zM138.8 149.4h1.05v1.05h-1.05zM124.5 232.9h1.05v1.05h-1.05zM129.4 223.1h1.05v1.05h-1.05zM124.4 214.5h1.05v1.05h-1.05zM126.2 241.7h1.05v1.05h-1.05zM142.3 153.3h1.05v1.05h-1.05zM130.1 191.3h1.05v1.05h-1.05zM131.6 179.0h1.05v1.05h-1.05zM115.9 149.0h1.05v1.05h-1.05zM131.8 190.6h1.05v1.05h-1.05zM129.0 215.3h1.05v1.05h-1.05zM120.1 186.6h1.05v1.05h-1.05zM113.1 190.0h1.05v1.05h-1.05zM129.5 212.7h1.05v1.05h-1.05zM121.6 220.5h1.05v1.05h-1.05zM129.7 205.9h1.05v1.05h-1.05zM112.4 164.8h1.05v1.05h-1.05zM125.2 228.5h1.05v1.05h-1.05zM143.8 137.6h1.05v1.05h-1.05zM131.9 220.1h1.05v1.05h-1.05zM130.6 215.7h1.05v1.05h-1.05zM121.6 233.8h1.05v1.05h-1.05zM131.5 202.1h1.05v1.05h-1.05zM130.9 204.3h1.05v1.05h-1.05zM119.8 170.4h1.05v1.05h-1.05zM144.6 147.9h1.05v1.05h-1.05zM124.4 218.6h1.05v1.05h-1.05zM136.9 156.9h1.05v1.05h-1.05zM137.8 211.6h1.05v1.05h-1.05zM123.7 200.4h1.05v1.05h-1.05zM127.7 233.1h1.05v1.05h-1.05zM116.4 148.3h1.05v1.05h-1.05zM123.2 204.2h1.05v1.05h-1.05zM138.7 168.4h1.05v1.05h-1.05zM127.1 246.7h1.05v1.05h-1.05zM139.3 168.8h1.05v1.05h-1.05zM132.4 221.2h1.05v1.05h-1.05zM118.7 195.4h1.05v1.05h-1.05zM135.0 171.3h1.05v1.05h-1.05zM128.8 227.9h1.05v1.05h-1.05zM135.0 187.1h1.05v1.05h-1.05zM133.1 154.2h1.05v1.05h-1.05zM125.4 228.8h1.05v1.05h-1.05zM117.6 193.6h1.05v1.05h-1.05zM124.9 226.2h1.05v1.05h-1.05zM125.4 231.3h1.05v1.05h-1.05zM130.8 191.1h1.05v1.05h-1.05zM121.8 194.8h1.05v1.05h-1.05zM117.4 174.5h1.05v1.05h-1.05zM110.0 151.9h1.05v1.05h-1.05zM135.3 167.8h1.05v1.05h-1.05zM123.4 208.4h1.05v1.05h-1.05zM136.4 191.6h1.05v1.05h-1.05zM133.6 171.3h1.05v1.05h-1.05zM137.5 153.9h1.05v1.05h-1.05zM131.7 170.3h1.05v1.05h-1.05zM122.7 189.8h1.05v1.05h-1.05zM128.1 232.5h1.05v1.05h-1.05zM144.3 150.8h1.05v1.05h-1.05zM123.0 214.7h1.05v1.05h-1.05zM123.0 200.6h1.05v1.05h-1.05zM134.9 149.1h1.05v1.05h-1.05zM124.9 223.4h1.05v1.05h-1.05zM135.0 146.1h1.05v1.05h-1.05zM128.8 220.8h1.05v1.05h-1.05zM125.8 238.4h1.05v1.05h-1.05zM121.2 188.6h1.05v1.05h-1.05zM158.2 158.4h1.05v1.05h-1.05zM121.1 200.9h1.05v1.05h-1.05zM141.8 153.4h1.05v1.05h-1.05zM123.0 201.6h1.05v1.05h-1.05zM119.2 156.3h1.05v1.05h-1.05zM127.4 235.1h1.05v1.05h-1.05zM123.7 214.5h1.05v1.05h-1.05zM122.9 233.9h1.05v1.05h-1.05zM96.7 164.3h1.05v1.05h-1.05zM131.7 193.4h1.05v1.05h-1.05zM150.9 173.2h1.05v1.05h-1.05zM123.9 219.7h1.05v1.05h-1.05zM118.4 164.8h1.05v1.05h-1.05zM135.2 137.9h1.05v1.05h-1.05zM126.4 239.5h1.05v1.05h-1.05zM131.5 210.4h1.05v1.05h-1.05zM120.9 150.7h1.05v1.05h-1.05zM132.9 152.5h1.05v1.05h-1.05zM118.2 150.4h1.05v1.05h-1.05zM123.4 221.1h1.05v1.05h-1.05zM132.7 183.2h1.05v1.05h-1.05zM125.8 238.5h1.05v1.05h-1.05zM116.1 197.7h1.05v1.05h-1.05zM133.4 181.7h1.05v1.05h-1.05zM123.4 217.4h1.05v1.05h-1.05zM131.6 198.7h1.05v1.05h-1.05zM131.7 205.0h1.05v1.05h-1.05zM128.9 238.7h1.05v1.05h-1.05zM127.5 240.9h1.05v1.05h-1.05zM140.4 159.9h1.05v1.05h-1.05zM125.8 250.5h1.05v1.05h-1.05zM110.2 138.6h1.05v1.05h-1.05zM120.0 147.8h1.05v1.05h-1.05zM117.6 138.5h1.05v1.05h-1.05zM115.3 159.4h1.05v1.05h-1.05zM126.5 250.6h1.05v1.05h-1.05zM125.1 234.7h1.05v1.05h-1.05zM119.3 210.4h1.05v1.05h-1.05zM124.5 226.6h1.05v1.05h-1.05zM124.0 242.0h1.05v1.05h-1.05zM142.5 145.7h1.05v1.05h-1.05zM114.1 146.4h1.05v1.05h-1.05zM119.7 161.4h1.05v1.05h-1.05zM129.1 218.0h1.05v1.05h-1.05zM140.5 152.4h1.05v1.05h-1.05zM139.1 155.9h1.05v1.05h-1.05zM129.2 209.8h1.05v1.05h-1.05zM128.6 233.2h1.05v1.05h-1.05zM128.3 232.2h1.05v1.05h-1.05zM130.2 200.1h1.05v1.05h-1.05zM133.5 154.6h1.05v1.05h-1.05zM127.8 239.8h1.05v1.05h-1.05zM121.2 197.8h1.05v1.05h-1.05zM116.5 206.3h1.05v1.05h-1.05zM120.3 148.3h1.05v1.05h-1.05zM121.0 230.1h1.05v1.05h-1.05zM132.6 173.2h1.05v1.05h-1.05zM131.0 209.9h1.05v1.05h-1.05zM142.9 174.2h1.05v1.05h-1.05zM132.4 155.6h1.05v1.05h-1.05zM179.0 155.3h1.05v1.05h-1.05zM134.2 153.2h1.05v1.05h-1.05zM129.2 213.4h1.05v1.05h-1.05zM133.7 215.3h1.05v1.05h-1.05zM124.8 233.8h1.05v1.05h-1.05zM129.7 217.7h1.05v1.05h-1.05zM123.5 234.3h1.05v1.05h-1.05zM118.0 159.6h1.05v1.05h-1.05zM127.6 243.8h1.05v1.05h-1.05zM124.8 225.3h1.05v1.05h-1.05zM117.5 161.2h1.05v1.05h-1.05zM111.4 139.9h1.05v1.05h-1.05zM123.8 203.0h1.05v1.05h-1.05zM126.1 244.1h1.05v1.05h-1.05zM108.2 157.1h1.05v1.05h-1.05zM129.7 214.1h1.05v1.05h-1.05zM118.4 160.7h1.05v1.05h-1.05zM127.1 247.8h1.05v1.05h-1.05zM126.3 245.5h1.05v1.05h-1.05zM121.8 179.4h1.05v1.05h-1.05zM137.3 170.2h1.05v1.05h-1.05zM132.0 183.3h1.05v1.05h-1.05zM121.0 186.5h1.05v1.05h-1.05zM132.6 179.5h1.05v1.05h-1.05zM125.5 232.8h1.05v1.05h-1.05zM129.1 241.5h1.05v1.05h-1.05zM130.8 206.9h1.05v1.05h-1.05zM122.2 184.8h1.05v1.05h-1.05zM124.2 218.5h1.05v1.05h-1.05zM129.4 226.9h1.05v1.05h-1.05zM119.7 196.0h1.05v1.05h-1.05zM122.0 200.1h1.05v1.05h-1.05zM122.8 216.2h1.05v1.05h-1.05zM119.1 144.7h1.05v1.05h-1.05zM111.3 143.1h1.05v1.05h-1.05zM126.3 243.8h1.05v1.05h-1.05zM130.7 192.2h1.05v1.05h-1.05zM129.4 219.8h1.05v1.05h-1.05zM120.7 208.4h1.05v1.05h-1.05zM127.2 246.4h1.05v1.05h-1.05zM125.4 239.3h1.05v1.05h-1.05zM125.5 245.7h1.05v1.05h-1.05zM140.5 233.5h1.05v1.05h-1.05zM117.1 173.9h1.05v1.05h-1.05zM127.5 239.6h1.05v1.05h-1.05zM135.9 149.0h1.05v1.05h-1.05zM133.4 157.6h1.05v1.05h-1.05zM122.9 216.1h1.05v1.05h-1.05zM135.5 169.4h1.05v1.05h-1.05zM117.3 142.1h1.05v1.05h-1.05zM128.2 234.7h1.05v1.05h-1.05zM133.6 183.5h1.05v1.05h-1.05zM130.9 193.8h1.05v1.05h-1.05zM116.4 211.3h1.05v1.05h-1.05zM124.3 213.9h1.05v1.05h-1.05zM123.5 238.5h1.05v1.05h-1.05zM119.0 174.1h1.05v1.05h-1.05zM124.2 224.6h1.05v1.05h-1.05zM119.8 198.6h1.05v1.05h-1.05zM141.6 144.6h1.05v1.05h-1.05zM129.1 207.0h1.05v1.05h-1.05zM123.6 210.7h1.05v1.05h-1.05zM111.9 144.1h1.05v1.05h-1.05zM137.6 180.9h1.05v1.05h-1.05zM120.5 182.4h1.05v1.05h-1.05zM130.3 221.6h1.05v1.05h-1.05zM136.3 174.7h1.05v1.05h-1.05zM130.6 203.5h1.05v1.05h-1.05zM137.8 185.3h1.05v1.05h-1.05zM123.2 201.4h1.05v1.05h-1.05zM126.3 239.2h1.05v1.05h-1.05zM146.3 149.8h1.05v1.05h-1.05zM132.0 169.3h1.05v1.05h-1.05zM146.1 141.5h1.05v1.05h-1.05zM129.9 211.8h1.05v1.05h-1.05zM120.6 214.7h1.05v1.05h-1.05zM125.5 232.2h1.05v1.05h-1.05zM129.4 211.9h1.05v1.05h-1.05zM129.6 209.7h1.05v1.05h-1.05zM129.1 226.3h1.05v1.05h-1.05zM130.8 216.7h1.05v1.05h-1.05zM129.5 213.2h1.05v1.05h-1.05zM154.3 151.9h1.05v1.05h-1.05zM118.7 196.0h1.05v1.05h-1.05zM118.2 155.8h1.05v1.05h-1.05zM128.3 243.4h1.05v1.05h-1.05zM123.3 225.7h1.05v1.05h-1.05zM119.1 142.1h1.05v1.05h-1.05zM125.7 243.3h1.05v1.05h-1.05zM128.1 240.7h1.05v1.05h-1.05zM134.7 188.1h1.05v1.05h-1.05zM130.1 213.7h1.05v1.05h-1.05zM123.6 225.0h1.05v1.05h-1.05zM122.5 178.2h1.05v1.05h-1.05zM135.3 178.2h1.05v1.05h-1.05zM130.9 225.8h1.05v1.05h-1.05zM120.5 185.8h1.05v1.05h-1.05zM136.8 195.0h1.05v1.05h-1.05zM149.0 153.1h1.05v1.05h-1.05zM125.4 240.9h1.05v1.05h-1.05zM129.3 220.4h1.05v1.05h-1.05zM115.6 182.9h1.05v1.05h-1.05zM127.4 245.7h1.05v1.05h-1.05zM120.5 153.1h1.05v1.05h-1.05zM114.6 140.5h1.05v1.05h-1.05zM132.6 209.3h1.05v1.05h-1.05zM137.8 160.6h1.05v1.05h-1.05zM129.8 218.5h1.05v1.05h-1.05zM63.4 142.5h1.05v1.05h-1.05zM129.9 222.9h1.05v1.05h-1.05zM127.0 250.0h1.05v1.05h-1.05zM127.2 240.9h1.05v1.05h-1.05zM123.0 194.6h1.05v1.05h-1.05zM128.4 245.0h1.05v1.05h-1.05zM118.8 139.2h1.05v1.05h-1.05zM133.6 175.8h1.05v1.05h-1.05zM135.1 182.5h1.05v1.05h-1.05zM119.2 176.3h1.05v1.05h-1.05zM123.5 199.1h1.05v1.05h-1.05zM113.0 149.0h1.05v1.05h-1.05zM137.8 167.1h1.05v1.05h-1.05zM122.5 197.8h1.05v1.05h-1.05zM129.3 214.4h1.05v1.05h-1.05zM128.2 231.1h1.05v1.05h-1.05zM124.6 210.8h1.05v1.05h-1.05zM132.1 206.4h1.05v1.05h-1.05zM127.7 239.3h1.05v1.05h-1.05zM119.6 144.9h1.05v1.05h-1.05zM118.4 217.4h1.05v1.05h-1.05zM151.8 185.7h1.05v1.05h-1.05zM125.7 241.2h1.05v1.05h-1.05zM132.4 184.4h1.05v1.05h-1.05zM132.0 174.2h1.05v1.05h-1.05zM128.6 239.4h1.05v1.05h-1.05zM115.8 139.7h1.05v1.05h-1.05zM123.7 228.8h1.05v1.05h-1.05zM129.4 216.9h1.05v1.05h-1.05zM116.7 164.6h1.05v1.05h-1.05zM118.3 208.3h1.05v1.05h-1.05zM114.1 149.9h1.05v1.05h-1.05zM124.3 219.8h1.05v1.05h-1.05zM130.0 210.9h1.05v1.05h-1.05zM113.2 169.3h1.05v1.05h-1.05zM117.3 151.6h1.05v1.05h-1.05zM120.1 149.2h1.05v1.05h-1.05zM130.2 213.9h1.05v1.05h-1.05zM114.2 186.7h1.05v1.05h-1.05zM130.4 199.9h1.05v1.05h-1.05zM131.2 171.0h1.05v1.05h-1.05zM124.4 221.0h1.05v1.05h-1.05zM119.9 153.8h1.05v1.05h-1.05zM120.6 167.1h1.05v1.05h-1.05zM128.4 227.4h1.05v1.05h-1.05zM95.8 210.9h1.05v1.05h-1.05zM131.5 208.4h1.05v1.05h-1.05zM120.0 144.4h1.05v1.05h-1.05zM111.9 194.9h1.05v1.05h-1.05zM139.1 177.4h1.05v1.05h-1.05zM136.1 144.3h1.05v1.05h-1.05zM130.4 201.5h1.05v1.05h-1.05zM110.6 142.7h1.05v1.05h-1.05zM129.9 213.5h1.05v1.05h-1.05zM126.7 248.8h1.05v1.05h-1.05zM125.1 236.4h1.05v1.05h-1.05zM132.3 169.3h1.05v1.05h-1.05zM136.2 203.3h1.05v1.05h-1.05zM116.9 154.4h1.05v1.05h-1.05zM119.8 186.4h1.05v1.05h-1.05zM132.6 170.0h1.05v1.05h-1.05zM129.3 206.5h1.05v1.05h-1.05zM135.4 180.5h1.05v1.05h-1.05zM147.1 168.7h1.05v1.05h-1.05zM121.3 203.8h1.05v1.05h-1.05zM131.6 191.1h1.05v1.05h-1.05zM145.0 153.4h1.05v1.05h-1.05zM114.7 144.5h1.05v1.05h-1.05zM130.6 206.8h1.05v1.05h-1.05zM127.5 241.1h1.05v1.05h-1.05zM117.1 153.5h1.05v1.05h-1.05zM121.9 195.9h1.05v1.05h-1.05zM120.1 140.3h1.05v1.05h-1.05zM120.3 161.8h1.05v1.05h-1.05zM112.0 204.8h1.05v1.05h-1.05zM117.1 152.7h1.05v1.05h-1.05zM79.0 184.8h1.05v1.05h-1.05zM120.2 167.0h1.05v1.05h-1.05zM118.4 149.1h1.05v1.05h-1.05zM121.7 181.3h1.05v1.05h-1.05zM118.6 142.6h1.05v1.05h-1.05zM124.1 201.3h1.05v1.05h-1.05zM129.4 203.5h1.05v1.05h-1.05zM134.8 174.8h1.05v1.05h-1.05zM121.1 200.6h1.05v1.05h-1.05zM136.9 167.7h1.05v1.05h-1.05zM120.6 186.6h1.05v1.05h-1.05zM116.9 164.0h1.05v1.05h-1.05zM67.5 155.2h1.05v1.05h-1.05zM119.8 182.7h1.05v1.05h-1.05zM133.3 146.0h1.05v1.05h-1.05zM135.9 159.9h1.05v1.05h-1.05zM117.4 152.0h1.05v1.05h-1.05zM126.2 247.8h1.05v1.05h-1.05zM126.7 248.4h1.05v1.05h-1.05zM117.4 175.4h1.05v1.05h-1.05zM131.4 208.8h1.05v1.05h-1.05zM117.8 150.3h1.05v1.05h-1.05zM137.5 202.1h1.05v1.05h-1.05zM120.2 163.8h1.05v1.05h-1.05zM130.8 218.8h1.05v1.05h-1.05zM137.9 176.0h1.05v1.05h-1.05zM133.5 147.4h1.05v1.05h-1.05zM117.4 151.4h1.05v1.05h-1.05zM131.9 204.9h1.05v1.05h-1.05zM119.7 192.1h1.05v1.05h-1.05zM131.6 186.2h1.05v1.05h-1.05zM122.8 207.4h1.05v1.05h-1.05zM121.4 191.8h1.05v1.05h-1.05zM116.8 140.8h1.05v1.05h-1.05zM117.5 149.6h1.05v1.05h-1.05zM123.3 210.9h1.05v1.05h-1.05zM110.0 170.2h1.05v1.05h-1.05zM118.0 142.5h1.05v1.05h-1.05zM130.2 205.4h1.05v1.05h-1.05zM132.7 152.8h1.05v1.05h-1.05zM142.5 158.2h1.05v1.05h-1.05zM133.9 148.9h1.05v1.05h-1.05zM128.0 238.8h1.05v1.05h-1.05zM142.8 145.1h1.05v1.05h-1.05zM135.2 139.1h1.05v1.05h-1.05zM124.7 219.4h1.05v1.05h-1.05zM131.6 175.6h1.05v1.05h-1.05zM124.7 238.0h1.05v1.05h-1.05zM131.1 178.9h1.05v1.05h-1.05zM119.5 167.6h1.05v1.05h-1.05zM136.7 163.6h1.05v1.05h-1.05zM114.5 152.0h1.05v1.05h-1.05zM123.8 213.3h1.05v1.05h-1.05zM125.0 234.7h1.05v1.05h-1.05zM120.2 156.1h1.05v1.05h-1.05zM126.4 246.9h1.05v1.05h-1.05zM124.6 220.4h1.05v1.05h-1.05zM121.0 219.9h1.05v1.05h-1.05zM139.1 160.5h1.05v1.05h-1.05zM130.7 196.4h1.05v1.05h-1.05zM141.4 154.0h1.05v1.05h-1.05zM133.0 171.9h1.05v1.05h-1.05zM132.2 153.4h1.05v1.05h-1.05zM113.9 159.4h1.05v1.05h-1.05zM117.4 149.6h1.05v1.05h-1.05zM124.3 215.3h1.05v1.05h-1.05zM129.7 206.2h1.05v1.05h-1.05zM119.6 176.1h1.05v1.05h-1.05zM121.9 181.0h1.05v1.05h-1.05zM116.0 160.2h1.05v1.05h-1.05zM115.4 157.0h1.05v1.05h-1.05zM129.9 212.0h1.05v1.05h-1.05zM119.8 234.1h1.05v1.05h-1.05zM120.4 164.1h1.05v1.05h-1.05zM132.5 169.8h1.05v1.05h-1.05zM130.7 215.2h1.05v1.05h-1.05zM125.8 242.4h1.05v1.05h-1.05zM127.3 247.2h1.05v1.05h-1.05zM140.7 218.6h1.05v1.05h-1.05zM129.0 215.6h1.05v1.05h-1.05zM122.3 223.4h1.05v1.05h-1.05zM126.1 243.3h1.05v1.05h-1.05zM128.3 227.9h1.05v1.05h-1.05zM133.3 206.8h1.05v1.05h-1.05zM124.7 237.7h1.05v1.05h-1.05zM123.1 223.5h1.05v1.05h-1.05zM131.0 196.9h1.05v1.05h-1.05zM132.6 152.9h1.05v1.05h-1.05zM134.7 150.4h1.05v1.05h-1.05zM131.8 200.6h1.05v1.05h-1.05zM128.9 233.4h1.05v1.05h-1.05zM122.2 216.1h1.05v1.05h-1.05zM133.6 171.1h1.05v1.05h-1.05zM122.3 200.3h1.05v1.05h-1.05zM135.9 182.4h1.05v1.05h-1.05zM114.1 164.6h1.05v1.05h-1.05zM133.4 172.9h1.05v1.05h-1.05zM115.4 151.7h1.05v1.05h-1.05zM127.1 238.6h1.05v1.05h-1.05zM130.8 212.9h1.05v1.05h-1.05zM126.4 245.6h1.05v1.05h-1.05zM134.2 187.7h1.05v1.05h-1.05zM116.4 177.6h1.05v1.05h-1.05zM128.8 217.9h1.05v1.05h-1.05zM127.4 242.6h1.05v1.05h-1.05zM130.6 194.0h1.05v1.05h-1.05zM123.6 228.2h1.05v1.05h-1.05zM101.6 225.0h1.05v1.05h-1.05zM136.8 203.3h1.05v1.05h-1.05zM115.5 142.8h1.05v1.05h-1.05zM123.0 205.7h1.05v1.05h-1.05zM118.9 167.5h1.05v1.05h-1.05zM129.9 204.3h1.05v1.05h-1.05zM121.8 200.6h1.05v1.05h-1.05zM125.0 231.7h1.05v1.05h-1.05zM123.9 226.2h1.05v1.05h-1.05zM139.9 161.0h1.05v1.05h-1.05zM121.5 197.9h1.05v1.05h-1.05zM124.6 214.2h1.05v1.05h-1.05zM134.1 138.5h1.05v1.05h-1.05zM104.5 149.8h1.05v1.05h-1.05zM129.6 216.7h1.05v1.05h-1.05zM117.8 197.3h1.05v1.05h-1.05zM132.6 182.7h1.05v1.05h-1.05zM128.2 228.4h1.05v1.05h-1.05zM111.8 198.1h1.05v1.05h-1.05zM130.8 214.4h1.05v1.05h-1.05zM158.9 156.8h1.05v1.05h-1.05zM124.7 237.4h1.05v1.05h-1.05zM138.1 138.1h1.05v1.05h-1.05zM123.6 220.1h1.05v1.05h-1.05zM123.8 209.0h1.05v1.05h-1.05zM123.6 239.9h1.05v1.05h-1.05zM115.5 146.2h1.05v1.05h-1.05zM135.1 155.0h1.05v1.05h-1.05zM128.1 241.0h1.05v1.05h-1.05zM131.7 187.0h1.05v1.05h-1.05zM130.8 202.2h1.05v1.05h-1.05zM132.1 178.5h1.05v1.05h-1.05zM123.4 208.4h1.05v1.05h-1.05zM117.1 141.7h1.05v1.05h-1.05zM129.0 222.2h1.05v1.05h-1.05zM116.2 155.8h1.05v1.05h-1.05zM132.2 216.3h1.05v1.05h-1.05zM109.3 173.9h1.05v1.05h-1.05zM133.1 198.0h1.05v1.05h-1.05zM122.3 187.2h1.05v1.05h-1.05zM130.8 187.6h1.05v1.05h-1.05zM116.8 176.4h1.05v1.05h-1.05zM127.5 240.9h1.05v1.05h-1.05zM125.0 242.1h1.05v1.05h-1.05zM145.1 140.2h1.05v1.05h-1.05zM123.9 218.0h1.05v1.05h-1.05zM123.2 206.0h1.05v1.05h-1.05zM128.7 219.6h1.05v1.05h-1.05zM137.4 174.3h1.05v1.05h-1.05zM135.9 138.8h1.05v1.05h-1.05zM121.8 200.8h1.05v1.05h-1.05zM134.1 210.1h1.05v1.05h-1.05zM121.9 206.9h1.05v1.05h-1.05zM126.5 246.6h1.05v1.05h-1.05zM125.2 238.1h1.05v1.05h-1.05zM131.0 243.7h1.05v1.05h-1.05zM132.8 209.8h1.05v1.05h-1.05zM118.8 138.8h1.05v1.05h-1.05zM127.9 231.5h1.05v1.05h-1.05zM138.5 184.7h1.05v1.05h-1.05zM123.5 223.5h1.05v1.05h-1.05zM125.8 245.2h1.05v1.05h-1.05zM116.6 154.0h1.05v1.05h-1.05zM128.8 233.3h1.05v1.05h-1.05zM124.3 232.3h1.05v1.05h-1.05zM146.4 156.1h1.05v1.05h-1.05zM120.8 219.1h1.05v1.05h-1.05zM128.6 224.5h1.05v1.05h-1.05zM118.0 143.0h1.05v1.05h-1.05zM131.0 225.0h1.05v1.05h-1.05zM134.6 154.6h1.05v1.05h-1.05zM130.0 211.8h1.05v1.05h-1.05zM117.4 182.9h1.05v1.05h-1.05zM131.2 211.3h1.05v1.05h-1.05zM122.6 208.0h1.05v1.05h-1.05zM133.3 144.2h1.05v1.05h-1.05zM119.2 146.7h1.05v1.05h-1.05zM124.0 227.4h1.05v1.05h-1.05zM134.3 165.9h1.05v1.05h-1.05zM129.5 231.7h1.05v1.05h-1.05zM130.5 212.6h1.05v1.05h-1.05zM127.0 240.6h1.05v1.05h-1.05zM133.2 174.0h1.05v1.05h-1.05zM111.3 165.7h1.05v1.05h-1.05zM137.3 163.6h1.05v1.05h-1.05zM118.2 160.6h1.05v1.05h-1.05zM117.2 201.7h1.05v1.05h-1.05zM124.8 227.1h1.05v1.05h-1.05zM126.9 250.2h1.05v1.05h-1.05zM130.6 196.7h1.05v1.05h-1.05zM135.5 144.1h1.05v1.05h-1.05zM120.6 195.7h1.05v1.05h-1.05zM134.1 177.5h1.05v1.05h-1.05zM134.3 145.8h1.05v1.05h-1.05zM135.2 151.4h1.05v1.05h-1.05zM135.3 164.3h1.05v1.05h-1.05zM159.8 180.0h1.05v1.05h-1.05zM123.4 220.5h1.05v1.05h-1.05zM134.2 163.3h1.05v1.05h-1.05zM113.7 199.2h1.05v1.05h-1.05zM132.8 167.8h1.05v1.05h-1.05zM130.8 221.5h1.05v1.05h-1.05zM119.0 143.3h1.05v1.05h-1.05zM129.2 228.7h1.05v1.05h-1.05zM116.7 158.9h1.05v1.05h-1.05zM111.5 148.5h1.05v1.05h-1.05zM122.7 230.2h1.05v1.05h-1.05zM119.0 151.1h1.05v1.05h-1.05zM119.0 174.4h1.05v1.05h-1.05zM131.7 178.8h1.05v1.05h-1.05zM125.0 217.9h1.05v1.05h-1.05zM133.4 209.3h1.05v1.05h-1.05zM130.0 220.1h1.05v1.05h-1.05zM122.7 196.5h1.05v1.05h-1.05zM116.0 174.0h1.05v1.05h-1.05zM134.5 165.4h1.05v1.05h-1.05zM121.7 167.9h1.05v1.05h-1.05zM129.4 207.2h1.05v1.05h-1.05zM135.4 208.4h1.05v1.05h-1.05zM156.3 161.8h1.05v1.05h-1.05zM135.4 139.9h1.05v1.05h-1.05zM122.9 221.7h1.05v1.05h-1.05zM122.3 199.7h1.05v1.05h-1.05zM120.3 215.3h1.05v1.05h-1.05zM117.9 139.8h1.05v1.05h-1.05zM126.6 248.3h1.05v1.05h-1.05zM160.9 148.3h1.05v1.05h-1.05zM133.0 161.3h1.05v1.05h-1.05zM129.3 208.9h1.05v1.05h-1.05zM131.5 170.5h1.05v1.05h-1.05zM123.7 204.6h1.05v1.05h-1.05zM120.7 175.2h1.05v1.05h-1.05zM132.2 198.3h1.05v1.05h-1.05zM134.4 145.9h1.05v1.05h-1.05zM122.1 194.7h1.05v1.05h-1.05zM133.8 156.6h1.05v1.05h-1.05zM131.7 181.7h1.05v1.05h-1.05zM122.9 204.3h1.05v1.05h-1.05zM117.9 140.6h1.05v1.05h-1.05zM122.1 224.9h1.05v1.05h-1.05zM150.6 146.7h1.05v1.05h-1.05zM110.9 139.1h1.05v1.05h-1.05zM145.8 152.8h1.05v1.05h-1.05zM119.2 178.0h1.05v1.05h-1.05zM118.0 176.8h1.05v1.05h-1.05zM134.2 144.6h1.05v1.05h-1.05zM122.1 197.4h1.05v1.05h-1.05zM133.8 155.4h1.05v1.05h-1.05zM134.5 160.6h1.05v1.05h-1.05zM116.7 151.8h1.05v1.05h-1.05zM122.6 196.6h1.05v1.05h-1.05zM117.7 173.5h1.05v1.05h-1.05zM127.7 237.7h1.05v1.05h-1.05zM124.7 240.4h1.05v1.05h-1.05zM128.9 235.8h1.05v1.05h-1.05zM137.6 164.7h1.05v1.05h-1.05zM123.7 206.2h1.05v1.05h-1.05zM134.4 146.6h1.05v1.05h-1.05zM127.3 239.5h1.05v1.05h-1.05zM120.1 227.7h1.05v1.05h-1.05zM137.4 154.1h1.05v1.05h-1.05zM117.1 199.1h1.05v1.05h-1.05zM119.0 221.9h1.05v1.05h-1.05zM134.8 159.9h1.05v1.05h-1.05zM124.6 220.2h1.05v1.05h-1.05zM137.0 139.9h1.05v1.05h-1.05zM128.9 215.5h1.05v1.05h-1.05zM135.8 151.8h1.05v1.05h-1.05zM122.6 192.3h1.05v1.05h-1.05zM118.4 143.8h1.05v1.05h-1.05zM130.4 213.0h1.05v1.05h-1.05zM137.0 144.9h1.05v1.05h-1.05zM131.5 212.2h1.05v1.05h-1.05zM119.4 195.8h1.05v1.05h-1.05zM136.9 175.7h1.05v1.05h-1.05zM117.0 184.1h1.05v1.05h-1.05zM118.6 171.6h1.05v1.05h-1.05zM139.0 168.9h1.05v1.05h-1.05zM128.8 216.3h1.05v1.05h-1.05zM126.1 249.5h1.05v1.05h-1.05zM112.9 166.0h1.05v1.05h-1.05zM110.0 179.1h1.05v1.05h-1.05zM131.4 183.1h1.05v1.05h-1.05zM116.6 190.5h1.05v1.05h-1.05zM97.1 144.6h1.05v1.05h-1.05zM121.3 212.9h1.05v1.05h-1.05zM103.2 146.3h1.05v1.05h-1.05zM124.3 228.2h1.05v1.05h-1.05zM120.5 169.0h1.05v1.05h-1.05zM116.8 143.2h1.05v1.05h-1.05zM129.0 229.9h1.05v1.05h-1.05zM111.7 161.1h1.05v1.05h-1.05zM130.7 215.7h1.05v1.05h-1.05zM125.9 242.2h1.05v1.05h-1.05zM133.4 197.7h1.05v1.05h-1.05zM133.5 168.6h1.05v1.05h-1.05zM130.1 214.5h1.05v1.05h-1.05zM118.3 142.3h1.05v1.05h-1.05zM126.6 250.6h1.05v1.05h-1.05zM128.7 216.3h1.05v1.05h-1.05zM119.4 207.8h1.05v1.05h-1.05zM123.1 204.4h1.05v1.05h-1.05zM124.3 212.6h1.05v1.05h-1.05zM126.5 247.5h1.05v1.05h-1.05zM124.9 223.1h1.05v1.05h-1.05zM123.8 217.0h1.05v1.05h-1.05zM135.4 171.4h1.05v1.05h-1.05zM130.5 203.7h1.05v1.05h-1.05zM123.3 196.4h1.05v1.05h-1.05zM129.5 207.9h1.05v1.05h-1.05zM129.2 229.3h1.05v1.05h-1.05zM129.8 220.9h1.05v1.05h-1.05zM113.4 147.3h1.05v1.05h-1.05zM120.8 195.0h1.05v1.05h-1.05zM130.0 211.0h1.05v1.05h-1.05zM130.4 222.1h1.05v1.05h-1.05zM120.3 149.9h1.05v1.05h-1.05zM116.5 168.0h1.05v1.05h-1.05zM133.6 169.1h1.05v1.05h-1.05zM132.7 157.4h1.05v1.05h-1.05zM130.0 219.4h1.05v1.05h-1.05zM135.6 165.2h1.05v1.05h-1.05zM127.2 240.5h1.05v1.05h-1.05zM132.1 172.2h1.05v1.05h-1.05zM119.7 210.0h1.05v1.05h-1.05zM131.8 172.5h1.05v1.05h-1.05zM124.1 221.1h1.05v1.05h-1.05zM129.8 206.4h1.05v1.05h-1.05zM133.0 171.6h1.05v1.05h-1.05zM117.2 143.4h1.05v1.05h-1.05zM131.5 207.9h1.05v1.05h-1.05zM129.9 228.1h1.05v1.05h-1.05zM149.2 233.6h1.05v1.05h-1.05zM137.9 171.5h1.05v1.05h-1.05zM116.1 148.1h1.05v1.05h-1.05zM125.8 248.2h1.05v1.05h-1.05zM129.8 207.4h1.05v1.05h-1.05zM128.2 228.1h1.05v1.05h-1.05zM134.9 141.9h1.05v1.05h-1.05zM123.7 232.6h1.05v1.05h-1.05zM128.1 240.9h1.05v1.05h-1.05zM134.5 161.3h1.05v1.05h-1.05zM137.2 137.3h1.05v1.05h-1.05zM134.2 160.7h1.05v1.05h-1.05zM125.4 234.9h1.05v1.05h-1.05zM122.3 200.3h1.05v1.05h-1.05zM135.0 187.9h1.05v1.05h-1.05zM118.4 147.6h1.05v1.05h-1.05zM121.1 162.8h1.05v1.05h-1.05zM127.2 242.0h1.05v1.05h-1.05zM122.4 195.2h1.05v1.05h-1.05zM115.7 160.2h1.05v1.05h-1.05zM132.4 185.3h1.05v1.05h-1.05zM110.7 172.0h1.05v1.05h-1.05zM133.5 140.5h1.05v1.05h-1.05zM103.1 139.4h1.05v1.05h-1.05zM148.0 154.1h1.05v1.05h-1.05zM140.3 182.2h1.05v1.05h-1.05zM117.1 211.7h1.05v1.05h-1.05zM128.5 229.2h1.05v1.05h-1.05zM129.3 228.3h1.05v1.05h-1.05zM107.6 174.8h1.05v1.05h-1.05zM138.6 160.8h1.05v1.05h-1.05zM133.0 151.8h1.05v1.05h-1.05zM107.8 146.0h1.05v1.05h-1.05zM121.1 213.9h1.05v1.05h-1.05zM120.7 208.6h1.05v1.05h-1.05zM128.4 224.8h1.05v1.05h-1.05zM133.1 185.2h1.05v1.05h-1.05zM139.8 142.7h1.05v1.05h-1.05zM136.9 162.4h1.05v1.05h-1.05zM135.5 197.0h1.05v1.05h-1.05zM130.0 229.3h1.05v1.05h-1.05zM140.7 153.4h1.05v1.05h-1.05zM142.6 147.9h1.05v1.05h-1.05zM121.4 161.3h1.05v1.05h-1.05zM129.7 213.4h1.05v1.05h-1.05zM133.4 202.2h1.05v1.05h-1.05zM119.0 180.9h1.05v1.05h-1.05zM106.9 145.6h1.05v1.05h-1.05zM124.6 219.2h1.05v1.05h-1.05zM132.0 198.9h1.05v1.05h-1.05zM126.3 242.0h1.05v1.05h-1.05zM126.9 250.4h1.05v1.05h-1.05zM136.5 219.2h1.05v1.05h-1.05zM133.0 157.0h1.05v1.05h-1.05zM119.8 171.1h1.05v1.05h-1.05zM130.8 192.6h1.05v1.05h-1.05zM119.9 200.1h1.05v1.05h-1.05zM122.4 216.6h1.05v1.05h-1.05zM143.9 161.5h1.05v1.05h-1.05zM117.5 191.4h1.05v1.05h-1.05zM125.1 240.7h1.05v1.05h-1.05zM120.5 176.2h1.05v1.05h-1.05zM114.1 137.9h1.05v1.05h-1.05zM124.8 240.3h1.05v1.05h-1.05zM174.5 137.5h1.05v1.05h-1.05zM124.5 236.8h1.05v1.05h-1.05zM128.6 211.6h1.05v1.05h-1.05zM115.3 139.6h1.05v1.05h-1.05zM118.3 140.1h1.05v1.05h-1.05zM140.3 226.2h1.05v1.05h-1.05zM134.0 166.3h1.05v1.05h-1.05zM136.1 177.8h1.05v1.05h-1.05zM118.9 201.4h1.05v1.05h-1.05zM132.7 159.6h1.05v1.05h-1.05zM134.4 175.4h1.05v1.05h-1.05zM131.7 221.3h1.05v1.05h-1.05zM111.7 191.1h1.05v1.05h-1.05zM131.8 167.5h1.05v1.05h-1.05zM135.6 176.8h1.05v1.05h-1.05zM135.8 185.3h1.05v1.05h-1.05zM134.9 164.5h1.05v1.05h-1.05zM127.9 232.3h1.05v1.05h-1.05zM128.2 244.4h1.05v1.05h-1.05zM125.6 245.8h1.05v1.05h-1.05zM119.9 177.0h1.05v1.05h-1.05zM135.0 197.3h1.05v1.05h-1.05zM119.8 154.2h1.05v1.05h-1.05zM118.6 140.1h1.05v1.05h-1.05zM123.5 235.2h1.05v1.05h-1.05zM131.8 203.5h1.05v1.05h-1.05zM134.6 199.0h1.05v1.05h-1.05zM121.8 185.0h1.05v1.05h-1.05zM114.7 146.5h1.05v1.05h-1.05zM119.5 179.2h1.05v1.05h-1.05zM131.6 212.0h1.05v1.05h-1.05zM121.9 172.4h1.05v1.05h-1.05zM129.8 209.2h1.05v1.05h-1.05zM134.9 184.0h1.05v1.05h-1.05zM128.6 236.9h1.05v1.05h-1.05zM118.8 183.1h1.05v1.05h-1.05zM130.8 192.4h1.05v1.05h-1.05zM118.2 174.3h1.05v1.05h-1.05zM168.5 182.8h1.05v1.05h-1.05zM120.8 182.1h1.05v1.05h-1.05zM144.7 164.5h1.05v1.05h-1.05zM128.0 232.5h1.05v1.05h-1.05zM135.1 163.0h1.05v1.05h-1.05zM131.7 176.6h1.05v1.05h-1.05zM134.8 169.7h1.05v1.05h-1.05zM131.6 201.2h1.05v1.05h-1.05zM128.4 238.7h1.05v1.05h-1.05zM119.7 145.2h1.05v1.05h-1.05zM116.6 155.1h1.05v1.05h-1.05zM136.2 139.6h1.05v1.05h-1.05zM135.9 194.4h1.05v1.05h-1.05zM133.9 149.1h1.05v1.05h-1.05zM120.6 150.5h1.05v1.05h-1.05zM114.2 184.6h1.05v1.05h-1.05zM118.2 147.4h1.05v1.05h-1.05zM138.5 156.4h1.05v1.05h-1.05zM128.4 236.4h1.05v1.05h-1.05zM122.6 232.4h1.05v1.05h-1.05zM129.8 200.3h1.05v1.05h-1.05zM122.7 186.4h1.05v1.05h-1.05zM120.3 173.5h1.05v1.05h-1.05zM131.9 183.0h1.05v1.05h-1.05zM163.1 150.0h1.05v1.05h-1.05zM103.8 157.8h1.05v1.05h-1.05zM124.6 236.4h1.05v1.05h-1.05zM123.9 208.0h1.05v1.05h-1.05zM109.4 148.8h1.05v1.05h-1.05zM140.1 162.6h1.05v1.05h-1.05zM126.9 248.4h1.05v1.05h-1.05zM131.7 176.3h1.05v1.05h-1.05zM128.8 233.4h1.05v1.05h-1.05zM131.6 189.7h1.05v1.05h-1.05zM134.1 137.8h1.05v1.05h-1.05zM128.0 240.0h1.05v1.05h-1.05zM138.7 155.4h1.05v1.05h-1.05zM132.1 191.8h1.05v1.05h-1.05zM136.0 139.4h1.05v1.05h-1.05zM135.6 151.7h1.05v1.05h-1.05zM124.7 241.4h1.05v1.05h-1.05zM132.2 174.5h1.05v1.05h-1.05zM119.6 151.6h1.05v1.05h-1.05zM129.5 214.9h1.05v1.05h-1.05zM114.9 168.0h1.05v1.05h-1.05zM130.6 217.9h1.05v1.05h-1.05zM131.8 223.7h1.05v1.05h-1.05zM129.6 208.8h1.05v1.05h-1.05zM129.1 213.3h1.05v1.05h-1.05zM135.1 141.1h1.05v1.05h-1.05zM122.3 220.1h1.05v1.05h-1.05zM122.5 198.4h1.05v1.05h-1.05zM132.0 191.6h1.05v1.05h-1.05zM136.9 169.4h1.05v1.05h-1.05zM106.9 140.3h1.05v1.05h-1.05zM139.6 177.7h1.05v1.05h-1.05zM112.2 151.6h1.05v1.05h-1.05zM127.8 232.7h1.05v1.05h-1.05zM112.5 172.6h1.05v1.05h-1.05zM122.9 227.7h1.05v1.05h-1.05zM108.5 150.5h1.05v1.05h-1.05zM116.9 179.6h1.05v1.05h-1.05zM121.6 232.1h1.05v1.05h-1.05zM133.1 152.7h1.05v1.05h-1.05zM119.6 187.3h1.05v1.05h-1.05zM130.8 191.6h1.05v1.05h-1.05zM124.4 239.2h1.05v1.05h-1.05zM105.0 146.8h1.05v1.05h-1.05zM119.4 188.5h1.05v1.05h-1.05zM119.1 151.2h1.05v1.05h-1.05zM127.8 240.0h1.05v1.05h-1.05zM134.0 170.6h1.05v1.05h-1.05zM123.2 203.9h1.05v1.05h-1.05zM131.4 186.0h1.05v1.05h-1.05zM121.7 176.5h1.05v1.05h-1.05zM133.6 155.2h1.05v1.05h-1.05zM93.6 145.1h1.05v1.05h-1.05zM123.8 228.4h1.05v1.05h-1.05zM136.2 151.7h1.05v1.05h-1.05zM124.8 234.6h1.05v1.05h-1.05zM126.3 249.1h1.05v1.05h-1.05zM132.5 212.4h1.05v1.05h-1.05zM132.0 214.3h1.05v1.05h-1.05zM106.6 160.9h1.05v1.05h-1.05zM112.7 183.5h1.05v1.05h-1.05zM132.8 202.5h1.05v1.05h-1.05zM132.3 158.9h1.05v1.05h-1.05zM141.8 143.8h1.05v1.05h-1.05zM74.2 174.7h1.05v1.05h-1.05zM132.8 173.5h1.05v1.05h-1.05zM144.8 151.5h1.05v1.05h-1.05zM117.3 213.4h1.05v1.05h-1.05zM119.3 137.6h1.05v1.05h-1.05zM130.7 227.2h1.05v1.05h-1.05zM123.1 244.0h1.05v1.05h-1.05zM117.8 155.5h1.05v1.05h-1.05zM125.1 227.4h1.05v1.05h-1.05zM122.1 208.5h1.05v1.05h-1.05zM132.3 188.6h1.05v1.05h-1.05zM125.8 235.3h1.05v1.05h-1.05zM121.6 198.5h1.05v1.05h-1.05zM121.6 206.4h1.05v1.05h-1.05zM125.3 238.6h1.05v1.05h-1.05zM133.8 178.8h1.05v1.05h-1.05zM122.5 195.5h1.05v1.05h-1.05zM125.0 229.2h1.05v1.05h-1.05zM119.7 159.2h1.05v1.05h-1.05zM130.5 200.0h1.05v1.05h-1.05zM127.7 246.8h1.05v1.05h-1.05zM115.6 149.6h1.05v1.05h-1.05zM119.6 200.1h1.05v1.05h-1.05zM128.7 237.8h1.05v1.05h-1.05zM124.4 213.8h1.05v1.05h-1.05zM133.0 217.8h1.05v1.05h-1.05zM124.2 244.2h1.05v1.05h-1.05zM124.1 209.0h1.05v1.05h-1.05zM127.7 228.1h1.05v1.05h-1.05zM125.4 222.7h1.05v1.05h-1.05zM118.4 171.2h1.05v1.05h-1.05zM124.8 229.4h1.05v1.05h-1.05zM127.5 247.5h1.05v1.05h-1.05zM123.1 226.9h1.05v1.05h-1.05zM124.3 213.1h1.05v1.05h-1.05zM123.6 228.6h1.05v1.05h-1.05zM120.0 179.5h1.05v1.05h-1.05zM120.2 149.6h1.05v1.05h-1.05zM117.8 154.7h1.05v1.05h-1.05zM121.6 193.3h1.05v1.05h-1.05zM136.2 159.4h1.05v1.05h-1.05zM137.7 158.9h1.05v1.05h-1.05zM132.1 175.4h1.05v1.05h-1.05zM119.9 157.6h1.05v1.05h-1.05zM129.7 203.6h1.05v1.05h-1.05zM114.0 163.4h1.05v1.05h-1.05zM114.1 187.6h1.05v1.05h-1.05zM118.2 164.4h1.05v1.05h-1.05zM132.6 164.3h1.05v1.05h-1.05zM127.6 241.2h1.05v1.05h-1.05zM162.0 154.4h1.05v1.05h-1.05zM127.0 245.3h1.05v1.05h-1.05zM120.3 198.1h1.05v1.05h-1.05zM120.3 180.1h1.05v1.05h-1.05zM140.4 155.5h1.05v1.05h-1.05zM125.2 242.4h1.05v1.05h-1.05zM133.5 171.5h1.05v1.05h-1.05zM123.6 207.4h1.05v1.05h-1.05zM125.4 244.7h1.05v1.05h-1.05zM131.8 208.8h1.05v1.05h-1.05zM114.6 174.8h1.05v1.05h-1.05zM127.9 239.0h1.05v1.05h-1.05zM133.5 152.9h1.05v1.05h-1.05zM126.6 244.4h1.05v1.05h-1.05zM123.6 219.7h1.05v1.05h-1.05zM130.8 209.1h1.05v1.05h-1.05zM120.5 241.5h1.05v1.05h-1.05zM138.8 144.9h1.05v1.05h-1.05zM134.2 140.7h1.05v1.05h-1.05zM117.6 147.0h1.05v1.05h-1.05zM129.4 224.5h1.05v1.05h-1.05zM110.2 154.4h1.05v1.05h-1.05zM134.7 208.2h1.05v1.05h-1.05zM128.7 213.8h1.05v1.05h-1.05zM134.9 169.5h1.05v1.05h-1.05zM126.8 238.6h1.05v1.05h-1.05zM126.7 250.0h1.05v1.05h-1.05zM135.3 144.3h1.05v1.05h-1.05zM121.6 206.4h1.05v1.05h-1.05zM110.7 158.4h1.05v1.05h-1.05zM134.3 198.3h1.05v1.05h-1.05zM129.5 237.7h1.05v1.05h-1.05zM119.2 192.9h1.05v1.05h-1.05zM129.7 227.8h1.05v1.05h-1.05zM127.3 239.2h1.05v1.05h-1.05zM126.1 247.9h1.05v1.05h-1.05zM118.8 201.1h1.05v1.05h-1.05zM122.1 217.4h1.05v1.05h-1.05zM122.3 208.4h1.05v1.05h-1.05zM103.9 141.1h1.05v1.05h-1.05zM113.7 154.9h1.05v1.05h-1.05zM117.2 167.8h1.05v1.05h-1.05zM128.6 219.1h1.05v1.05h-1.05zM121.1 163.2h1.05v1.05h-1.05zM132.9 168.7h1.05v1.05h-1.05zM120.6 187.0h1.05v1.05h-1.05zM121.8 219.7h1.05v1.05h-1.05zM124.7 223.4h1.05v1.05h-1.05zM132.3 199.0h1.05v1.05h-1.05zM133.2 215.3h1.05v1.05h-1.05zM118.7 149.1h1.05v1.05h-1.05zM130.6 193.8h1.05v1.05h-1.05zM139.4 170.8h1.05v1.05h-1.05zM85.7 147.8h1.05v1.05h-1.05zM133.3 176.9h1.05v1.05h-1.05zM129.3 229.1h1.05v1.05h-1.05zM129.7 210.3h1.05v1.05h-1.05zM110.1 145.2h1.05v1.05h-1.05zM128.0 243.9h1.05v1.05h-1.05zM129.7 221.7h1.05v1.05h-1.05zM119.4 177.2h1.05v1.05h-1.05zM111.0 152.3h1.05v1.05h-1.05zM119.1 155.8h1.05v1.05h-1.05zM114.2 165.2h1.05v1.05h-1.05zM118.8 168.2h1.05v1.05h-1.05zM122.5 204.1h1.05v1.05h-1.05zM125.6 241.8h1.05v1.05h-1.05zM137.4 175.3h1.05v1.05h-1.05zM127.7 240.3h1.05v1.05h-1.05zM135.4 158.1h1.05v1.05h-1.05zM128.2 232.8h1.05v1.05h-1.05zM125.9 247.0h1.05v1.05h-1.05zM103.0 137.3h1.05v1.05h-1.05zM124.2 228.3h1.05v1.05h-1.05zM133.7 181.1h1.05v1.05h-1.05zM127.8 241.8h1.05v1.05h-1.05zM111.2 139.2h1.05v1.05h-1.05zM127.0 248.2h1.05v1.05h-1.05zM132.4 169.8h1.05v1.05h-1.05zM143.2 153.3h1.05v1.05h-1.05zM128.9 213.0h1.05v1.05h-1.05zM125.9 249.6h1.05v1.05h-1.05zM125.9 245.2h1.05v1.05h-1.05zM126.5 241.9h1.05v1.05h-1.05zM119.4 162.7h1.05v1.05h-1.05zM135.7 186.9h1.05v1.05h-1.05zM118.6 147.9h1.05v1.05h-1.05zM120.8 175.7h1.05v1.05h-1.05zM132.0 179.8h1.05v1.05h-1.05zM124.2 224.1h1.05v1.05h-1.05zM128.5 221.5h1.05v1.05h-1.05zM138.9 139.4h1.05v1.05h-1.05zM104.4 142.1h1.05v1.05h-1.05zM133.7 196.9h1.05v1.05h-1.05zM132.7 158.4h1.05v1.05h-1.05zM119.8 166.3h1.05v1.05h-1.05zM133.7 215.1h1.05v1.05h-1.05zM129.1 224.3h1.05v1.05h-1.05zM143.7 163.3h1.05v1.05h-1.05zM133.7 141.0h1.05v1.05h-1.05zM114.5 138.9h1.05v1.05h-1.05zM122.4 206.0h1.05v1.05h-1.05zM126.2 241.3h1.05v1.05h-1.05zM132.8 210.3h1.05v1.05h-1.05zM128.7 240.7h1.05v1.05h-1.05zM99.2 138.5h1.05v1.05h-1.05zM129.1 211.7h1.05v1.05h-1.05zM138.2 152.9h1.05v1.05h-1.05zM123.6 218.8h1.05v1.05h-1.05zM109.3 141.3h1.05v1.05h-1.05zM138.8 191.2h1.05v1.05h-1.05zM134.8 154.4h1.05v1.05h-1.05zM132.2 179.2h1.05v1.05h-1.05zM136.5 161.5h1.05v1.05h-1.05zM127.2 240.3h1.05v1.05h-1.05zM154.4 238.3h1.05v1.05h-1.05zM130.9 206.0h1.05v1.05h-1.05zM133.3 149.8h1.05v1.05h-1.05zM118.2 146.5h1.05v1.05h-1.05zM121.5 167.3h1.05v1.05h-1.05zM119.7 179.3h1.05v1.05h-1.05zM127.3 243.5h1.05v1.05h-1.05zM156.0 144.6h1.05v1.05h-1.05zM148.3 172.7h1.05v1.05h-1.05zM121.1 177.5h1.05v1.05h-1.05zM119.5 153.5h1.05v1.05h-1.05zM128.9 220.0h1.05v1.05h-1.05zM120.9 177.0h1.05v1.05h-1.05zM132.9 170.3h1.05v1.05h-1.05zM118.6 162.5h1.05v1.05h-1.05zM129.1 237.4h1.05v1.05h-1.05zM120.6 165.5h1.05v1.05h-1.05zM137.5 147.2h1.05v1.05h-1.05zM133.0 176.1h1.05v1.05h-1.05zM125.0 228.0h1.05v1.05h-1.05zM134.2 145.6h1.05v1.05h-1.05zM128.9 236.5h1.05v1.05h-1.05zM128.6 220.7h1.05v1.05h-1.05zM147.4 152.2h1.05v1.05h-1.05zM120.2 180.4h1.05v1.05h-1.05zM131.3 208.4h1.05v1.05h-1.05zM144.8 157.6h1.05v1.05h-1.05zM119.5 174.1h1.05v1.05h-1.05zM123.0 234.4h1.05v1.05h-1.05zM129.5 220.5h1.05v1.05h-1.05zM120.5 156.8h1.05v1.05h-1.05zM133.2 156.8h1.05v1.05h-1.05zM127.5 240.1h1.05v1.05h-1.05zM135.3 187.7h1.05v1.05h-1.05zM122.0 167.1h1.05v1.05h-1.05zM128.9 209.6h1.05v1.05h-1.05zM123.6 241.6h1.05v1.05h-1.05zM119.9 199.2h1.05v1.05h-1.05zM134.5 143.9h1.05v1.05h-1.05zM120.0 165.3h1.05v1.05h-1.05zM123.8 222.7h1.05v1.05h-1.05zM113.5 153.2h1.05v1.05h-1.05zM114.3 171.9h1.05v1.05h-1.05zM132.3 213.7h1.05v1.05h-1.05zM122.2 216.2h1.05v1.05h-1.05zM117.5 227.1h1.05v1.05h-1.05zM122.1 200.6h1.05v1.05h-1.05zM132.5 205.7h1.05v1.05h-1.05zM123.9 214.2h1.05v1.05h-1.05zM136.8 150.2h1.05v1.05h-1.05zM117.8 162.0h1.05v1.05h-1.05zM130.6 190.8h1.05v1.05h-1.05zM119.6 141.0h1.05v1.05h-1.05zM121.9 171.3h1.05v1.05h-1.05zM115.6 142.1h1.05v1.05h-1.05zM118.8 155.3h1.05v1.05h-1.05zM120.5 175.5h1.05v1.05h-1.05zM139.4 169.1h1.05v1.05h-1.05zM121.2 160.5h1.05v1.05h-1.05zM162.3 162.4h1.05v1.05h-1.05zM115.3 150.2h1.05v1.05h-1.05zM130.7 208.0h1.05v1.05h-1.05zM122.2 205.3h1.05v1.05h-1.05zM123.5 218.7h1.05v1.05h-1.05zM110.0 145.2h1.05v1.05h-1.05zM133.9 147.1h1.05v1.05h-1.05zM134.3 196.5h1.05v1.05h-1.05zM109.4 201.0h1.05v1.05h-1.05zM124.8 232.6h1.05v1.05h-1.05zM115.4 139.7h1.05v1.05h-1.05zM97.7 171.5h1.05v1.05h-1.05zM138.3 140.9h1.05v1.05h-1.05zM121.0 175.7h1.05v1.05h-1.05zM141.3 188.5h1.05v1.05h-1.05zM134.6 163.3h1.05v1.05h-1.05zM134.7 148.8h1.05v1.05h-1.05zM116.1 153.2h1.05v1.05h-1.05zM121.9 207.3h1.05v1.05h-1.05zM121.9 189.3h1.05v1.05h-1.05zM134.6 142.9h1.05v1.05h-1.05zM115.6 189.4h1.05v1.05h-1.05zM119.7 157.7h1.05v1.05h-1.05zM130.7 187.3h1.05v1.05h-1.05zM120.5 154.5h1.05v1.05h-1.05zM128.6 240.9h1.05v1.05h-1.05zM126.5 250.8h1.05v1.05h-1.05zM124.4 237.9h1.05v1.05h-1.05zM130.6 197.1h1.05v1.05h-1.05zM113.3 204.8h1.05v1.05h-1.05zM141.5 141.4h1.05v1.05h-1.05zM118.5 137.5h1.05v1.05h-1.05zM122.1 232.3h1.05v1.05h-1.05zM137.6 154.3h1.05v1.05h-1.05zM118.7 189.0h1.05v1.05h-1.05zM111.7 153.6h1.05v1.05h-1.05zM129.4 204.6h1.05v1.05h-1.05zM120.3 160.8h1.05v1.05h-1.05zM127.0 250.2h1.05v1.05h-1.05zM114.8 193.6h1.05v1.05h-1.05zM133.7 208.8h1.05v1.05h-1.05zM129.9 218.1h1.05v1.05h-1.05zM123.2 212.5h1.05v1.05h-1.05zM121.4 199.0h1.05v1.05h-1.05zM131.0 190.5h1.05v1.05h-1.05zM117.1 187.3h1.05v1.05h-1.05zM121.1 164.8h1.05v1.05h-1.05zM114.1 155.1h1.05v1.05h-1.05zM137.5 141.2h1.05v1.05h-1.05zM134.3 171.7h1.05v1.05h-1.05zM129.1 217.6h1.05v1.05h-1.05zM121.4 181.5h1.05v1.05h-1.05zM131.0 196.8h1.05v1.05h-1.05zM123.4 220.1h1.05v1.05h-1.05zM131.1 208.8h1.05v1.05h-1.05zM124.0 220.8h1.05v1.05h-1.05zM136.4 185.8h1.05v1.05h-1.05zM128.5 241.2h1.05v1.05h-1.05zM110.4 185.3h1.05v1.05h-1.05zM116.0 199.8h1.05v1.05h-1.05zM126.5 249.8h1.05v1.05h-1.05zM132.7 215.4h1.05v1.05h-1.05zM133.4 140.2h1.05v1.05h-1.05zM132.0 181.4h1.05v1.05h-1.05zM125.3 241.4h1.05v1.05h-1.05zM134.7 181.6h1.05v1.05h-1.05zM134.8 168.0h1.05v1.05h-1.05zM127.9 232.3h1.05v1.05h-1.05zM122.4 200.8h1.05v1.05h-1.05zM129.7 222.7h1.05v1.05h-1.05zM134.7 185.4h1.05v1.05h-1.05zM116.5 155.6h1.05v1.05h-1.05zM124.4 219.6h1.05v1.05h-1.05zM127.3 231.7h1.05v1.05h-1.05zM125.0 231.8h1.05v1.05h-1.05zM132.5 177.6h1.05v1.05h-1.05zM127.9 240.8h1.05v1.05h-1.05zM122.7 187.2h1.05v1.05h-1.05zM136.2 156.9h1.05v1.05h-1.05zM119.8 161.4h1.05v1.05h-1.05zM120.2 171.6h1.05v1.05h-1.05zM126.9 249.1h1.05v1.05h-1.05zM131.4 197.6h1.05v1.05h-1.05zM129.5 219.2h1.05v1.05h-1.05zM131.0 188.4h1.05v1.05h-1.05zM124.5 230.2h1.05v1.05h-1.05zM125.6 232.3h1.05v1.05h-1.05zM141.9 142.2h1.05v1.05h-1.05zM119.0 149.5h1.05v1.05h-1.05zM124.3 237.0h1.05v1.05h-1.05zM112.6 155.0h1.05v1.05h-1.05zM125.8 241.2h1.05v1.05h-1.05zM123.9 208.1h1.05v1.05h-1.05zM118.0 137.8h1.05v1.05h-1.05zM147.0 143.3h1.05v1.05h-1.05zM116.4 193.6h1.05v1.05h-1.05zM131.8 168.3h1.05v1.05h-1.05zM129.8 203.1h1.05v1.05h-1.05zM141.9 152.8h1.05v1.05h-1.05zM118.6 210.7h1.05v1.05h-1.05zM123.8 223.6h1.05v1.05h-1.05zM128.3 231.1h1.05v1.05h-1.05zM119.9 175.9h1.05v1.05h-1.05zM139.6 183.7h1.05v1.05h-1.05zM119.2 147.2h1.05v1.05h-1.05zM129.1 230.8h1.05v1.05h-1.05zM117.9 157.4h1.05v1.05h-1.05zM111.0 143.0h1.05v1.05h-1.05zM112.3 163.5h1.05v1.05h-1.05zM124.2 234.8h1.05v1.05h-1.05zM128.0 230.0h1.05v1.05h-1.05zM124.7 238.3h1.05v1.05h-1.05zM121.5 208.6h1.05v1.05h-1.05zM118.6 162.2h1.05v1.05h-1.05zM128.0 231.1h1.05v1.05h-1.05zM122.8 195.7h1.05v1.05h-1.05zM126.6 244.2h1.05v1.05h-1.05zM142.9 170.8h1.05v1.05h-1.05zM123.4 236.9h1.05v1.05h-1.05zM139.3 158.6h1.05v1.05h-1.05zM132.7 177.8h1.05v1.05h-1.05zM134.1 225.5h1.05v1.05h-1.05zM135.4 168.6h1.05v1.05h-1.05zM130.7 206.9h1.05v1.05h-1.05zM134.6 187.5h1.05v1.05h-1.05zM119.7 183.9h1.05v1.05h-1.05zM131.7 215.8h1.05v1.05h-1.05zM132.3 199.2h1.05v1.05h-1.05zM162.0 159.4h1.05v1.05h-1.05zM110.7 151.2h1.05v1.05h-1.05zM145.5 152.8h1.05v1.05h-1.05zM121.4 182.6h1.05v1.05h-1.05zM135.3 150.4h1.05v1.05h-1.05zM125.9 231.6h1.05v1.05h-1.05zM136.4 138.9h1.05v1.05h-1.05zM127.5 244.1h1.05v1.05h-1.05zM133.3 147.6h1.05v1.05h-1.05zM119.2 158.8h1.05v1.05h-1.05zM121.3 202.3h1.05v1.05h-1.05zM135.3 158.9h1.05v1.05h-1.05zM115.7 141.5h1.05v1.05h-1.05zM129.7 228.7h1.05v1.05h-1.05zM136.4 173.9h1.05v1.05h-1.05zM127.2 250.2h1.05v1.05h-1.05zM121.3 172.3h1.05v1.05h-1.05zM127.4 241.8h1.05v1.05h-1.05zM113.0 171.9h1.05v1.05h-1.05zM126.7 246.7h1.05v1.05h-1.05zM130.9 200.8h1.05v1.05h-1.05zM138.2 150.9h1.05v1.05h-1.05zM122.7 211.8h1.05v1.05h-1.05zM110.2 140.4h1.05v1.05h-1.05zM116.4 193.2h1.05v1.05h-1.05zM129.2 226.5h1.05v1.05h-1.05zM146.7 143.8h1.05v1.05h-1.05zM131.7 229.8h1.05v1.05h-1.05zM130.9 179.8h1.05v1.05h-1.05zM137.3 143.1h1.05v1.05h-1.05zM102.0 143.3h1.05v1.05h-1.05zM118.6 184.0h1.05v1.05h-1.05zM130.2 222.9h1.05v1.05h-1.05zM134.3 190.0h1.05v1.05h-1.05zM123.8 213.5h1.05v1.05h-1.05zM129.3 210.9h1.05v1.05h-1.05zM120.9 210.5h1.05v1.05h-1.05zM128.5 224.1h1.05v1.05h-1.05zM127.1 245.0h1.05v1.05h-1.05zM121.0 163.1h1.05v1.05h-1.05zM126.2 248.8h1.05v1.05h-1.05zM122.0 182.1h1.05v1.05h-1.05zM131.5 204.9h1.05v1.05h-1.05zM132.6 173.8h1.05v1.05h-1.05zM120.2 181.3h1.05v1.05h-1.05zM117.5 192.4h1.05v1.05h-1.05zM133.6 160.3h1.05v1.05h-1.05zM117.1 182.2h1.05v1.05h-1.05zM113.0 147.7h1.05v1.05h-1.05zM135.7 180.8h1.05v1.05h-1.05zM119.7 149.9h1.05v1.05h-1.05zM115.6 151.2h1.05v1.05h-1.05zM134.5 167.7h1.05v1.05h-1.05zM123.7 209.2h1.05v1.05h-1.05zM118.4 191.5h1.05v1.05h-1.05zM126.1 239.5h1.05v1.05h-1.05zM115.2 165.8h1.05v1.05h-1.05zM117.9 174.2h1.05v1.05h-1.05zM116.7 156.0h1.05v1.05h-1.05zM127.8 238.8h1.05v1.05h-1.05zM128.0 233.1h1.05v1.05h-1.05zM131.0 174.2h1.05v1.05h-1.05zM137.3 165.1h1.05v1.05h-1.05zM131.7 240.2h1.05v1.05h-1.05zM126.6 246.1h1.05v1.05h-1.05zM98.2 209.7h1.05v1.05h-1.05zM123.7 208.0h1.05v1.05h-1.05zM126.2 243.1h1.05v1.05h-1.05zM127.3 237.1h1.05v1.05h-1.05zM124.5 223.8h1.05v1.05h-1.05zM126.1 248.6h1.05v1.05h-1.05zM136.7 230.7h1.05v1.05h-1.05zM126.6 246.9h1.05v1.05h-1.05zM131.1 204.5h1.05v1.05h-1.05zM144.3 163.3h1.05v1.05h-1.05zM132.1 172.6h1.05v1.05h-1.05zM114.3 178.7h1.05v1.05h-1.05zM129.7 193.6h1.05v1.05h-1.05zM143.9 225.8h1.05v1.05h-1.05zM125.6 243.6h1.05v1.05h-1.05zM122.6 226.1h1.05v1.05h-1.05zM141.1 142.6h1.05v1.05h-1.05zM119.0 156.5h1.05v1.05h-1.05zM114.5 182.4h1.05v1.05h-1.05zM149.1 177.7h1.05v1.05h-1.05zM134.9 163.7h1.05v1.05h-1.05zM120.4 155.6h1.05v1.05h-1.05zM121.2 219.4h1.05v1.05h-1.05zM116.1 157.7h1.05v1.05h-1.05zM135.0 174.0h1.05v1.05h-1.05zM124.4 215.1h1.05v1.05h-1.05zM132.4 214.0h1.05v1.05h-1.05zM129.1 227.8h1.05v1.05h-1.05zM130.8 184.9h1.05v1.05h-1.05zM134.6 140.4h1.05v1.05h-1.05zM137.5 159.0h1.05v1.05h-1.05zM128.4 228.4h1.05v1.05h-1.05zM129.1 234.2h1.05v1.05h-1.05zM128.7 214.7h1.05v1.05h-1.05zM132.8 228.7h1.05v1.05h-1.05zM125.0 231.4h1.05v1.05h-1.05zM119.0 165.1h1.05v1.05h-1.05zM124.1 210.9h1.05v1.05h-1.05zM121.2 182.9h1.05v1.05h-1.05zM130.5 210.8h1.05v1.05h-1.05zM80.5 138.8h1.05v1.05h-1.05zM137.1 180.0h1.05v1.05h-1.05zM128.9 231.7h1.05v1.05h-1.05zM119.2 160.3h1.05v1.05h-1.05zM132.4 213.7h1.05v1.05h-1.05zM145.5 195.0h1.05v1.05h-1.05zM130.1 214.0h1.05v1.05h-1.05zM122.3 191.2h1.05v1.05h-1.05zM130.9 211.7h1.05v1.05h-1.05zM119.5 210.2h1.05v1.05h-1.05zM129.6 229.5h1.05v1.05h-1.05zM117.1 141.3h1.05v1.05h-1.05zM128.4 223.4h1.05v1.05h-1.05zM129.6 214.5h1.05v1.05h-1.05zM132.5 200.0h1.05v1.05h-1.05zM127.6 234.5h1.05v1.05h-1.05zM132.6 220.8h1.05v1.05h-1.05zM121.6 200.3h1.05v1.05h-1.05zM134.2 180.9h1.05v1.05h-1.05zM146.3 186.1h1.05v1.05h-1.05zM122.2 204.7h1.05v1.05h-1.05zM132.3 171.0h1.05v1.05h-1.05zM119.0 163.6h1.05v1.05h-1.05zM122.7 216.6h1.05v1.05h-1.05zM134.6 219.6h1.05v1.05h-1.05zM133.0 176.4h1.05v1.05h-1.05zM133.7 199.9h1.05v1.05h-1.05zM143.3 154.8h1.05v1.05h-1.05zM125.8 249.3h1.05v1.05h-1.05zM135.0 185.5h1.05v1.05h-1.05zM121.2 207.0h1.05v1.05h-1.05zM124.1 222.8h1.05v1.05h-1.05zM120.4 150.8h1.05v1.05h-1.05zM130.1 222.3h1.05v1.05h-1.05zM121.5 159.1h1.05v1.05h-1.05zM132.5 152.3h1.05v1.05h-1.05zM115.0 140.5h1.05v1.05h-1.05zM128.3 234.6h1.05v1.05h-1.05zM125.4 229.7h1.05v1.05h-1.05zM125.6 238.8h1.05v1.05h-1.05zM134.7 210.2h1.05v1.05h-1.05zM120.1 146.8h1.05v1.05h-1.05zM133.2 174.5h1.05v1.05h-1.05zM129.4 229.8h1.05v1.05h-1.05zM125.3 236.0h1.05v1.05h-1.05zM138.6 163.2h1.05v1.05h-1.05zM131.4 176.7h1.05v1.05h-1.05zM126.7 250.6h1.05v1.05h-1.05zM132.7 180.5h1.05v1.05h-1.05zM124.7 225.5h1.05v1.05h-1.05zM122.5 213.3h1.05v1.05h-1.05zM128.4 236.6h1.05v1.05h-1.05zM134.4 138.1h1.05v1.05h-1.05zM133.8 194.8h1.05v1.05h-1.05zM132.0 177.3h1.05v1.05h-1.05zM129.7 223.8h1.05v1.05h-1.05zM132.8 204.0h1.05v1.05h-1.05zM155.5 174.1h1.05v1.05h-1.05zM133.9 163.5h1.05v1.05h-1.05zM133.0 146.8h1.05v1.05h-1.05zM124.5 218.7h1.05v1.05h-1.05zM123.2 219.6h1.05v1.05h-1.05zM116.4 200.8h1.05v1.05h-1.05zM123.7 211.6h1.05v1.05h-1.05zM119.3 155.9h1.05v1.05h-1.05zM122.7 204.4h1.05v1.05h-1.05zM122.8 204.1h1.05v1.05h-1.05zM130.5 189.8h1.05v1.05h-1.05zM133.0 183.1h1.05v1.05h-1.05zM132.0 206.4h1.05v1.05h-1.05zM126.8 249.5h1.05v1.05h-1.05zM140.9 164.7h1.05v1.05h-1.05zM128.2 234.9h1.05v1.05h-1.05zM137.5 152.2h1.05v1.05h-1.05zM130.4 218.7h1.05v1.05h-1.05zM129.5 217.7h1.05v1.05h-1.05zM123.2 186.2h1.05v1.05h-1.05zM118.4 146.7h1.05v1.05h-1.05zM129.9 203.3h1.05v1.05h-1.05zM131.2 192.2h1.05v1.05h-1.05zM123.2 199.5h1.05v1.05h-1.05zM129.1 235.2h1.05v1.05h-1.05zM124.1 213.9h1.05v1.05h-1.05zM135.2 145.8h1.05v1.05h-1.05zM134.3 143.4h1.05v1.05h-1.05zM124.1 217.8h1.05v1.05h-1.05zM136.3 145.4h1.05v1.05h-1.05zM126.7 248.3h1.05v1.05h-1.05zM114.9 166.5h1.05v1.05h-1.05zM127.8 246.9h1.05v1.05h-1.05zM122.6 198.2h1.05v1.05h-1.05zM123.9 199.7h1.05v1.05h-1.05zM122.2 197.2h1.05v1.05h-1.05zM137.1 143.2h1.05v1.05h-1.05zM131.8 206.5h1.05v1.05h-1.05zM127.3 248.0h1.05v1.05h-1.05zM127.9 235.4h1.05v1.05h-1.05zM120.5 163.2h1.05v1.05h-1.05zM127.6 233.1h1.05v1.05h-1.05zM128.0 242.2h1.05v1.05h-1.05zM124.3 224.9h1.05v1.05h-1.05zM142.4 139.5h1.05v1.05h-1.05zM133.9 196.2h1.05v1.05h-1.05zM124.7 230.7h1.05v1.05h-1.05zM134.4 172.9h1.05v1.05h-1.05zM134.8 203.7h1.05v1.05h-1.05zM122.0 184.3h1.05v1.05h-1.05zM137.5 137.6h1.05v1.05h-1.05zM116.0 168.6h1.05v1.05h-1.05zM136.8 186.2h1.05v1.05h-1.05zM173.9 137.4h1.05v1.05h-1.05zM119.6 189.4h1.05v1.05h-1.05zM131.0 195.3h1.05v1.05h-1.05zM159.4 152.6h1.05v1.05h-1.05zM136.7 141.5h1.05v1.05h-1.05zM113.9 166.4h1.05v1.05h-1.05zM121.5 205.1h1.05v1.05h-1.05zM136.0 200.9h1.05v1.05h-1.05zM127.0 249.5h1.05v1.05h-1.05zM137.7 219.6h1.05v1.05h-1.05zM112.7 160.3h1.05v1.05h-1.05zM135.2 191.3h1.05v1.05h-1.05zM102.3 152.0h1.05v1.05h-1.05zM133.1 171.6h1.05v1.05h-1.05zM135.6 182.8h1.05v1.05h-1.05zM112.9 157.3h1.05v1.05h-1.05zM98.3 190.3h1.05v1.05h-1.05zM140.4 172.0h1.05v1.05h-1.05zM135.8 191.2h1.05v1.05h-1.05zM131.2 206.5h1.05v1.05h-1.05zM103.5 161.6h1.05v1.05h-1.05zM125.3 240.5h1.05v1.05h-1.05zM112.5 139.5h1.05v1.05h-1.05zM133.3 141.2h1.05v1.05h-1.05zM134.4 154.7h1.05v1.05h-1.05zM137.1 193.6h1.05v1.05h-1.05zM122.0 195.6h1.05v1.05h-1.05zM131.9 200.9h1.05v1.05h-1.05zM121.6 194.5h1.05v1.05h-1.05zM123.4 221.7h1.05v1.05h-1.05zM132.4 158.0h1.05v1.05h-1.05zM155.3 149.5h1.05v1.05h-1.05zM119.8 190.0h1.05v1.05h-1.05zM102.4 152.4h1.05v1.05h-1.05zM130.0 213.5h1.05v1.05h-1.05zM137.3 151.7h1.05v1.05h-1.05zM92.4 139.9h1.05v1.05h-1.05zM131.4 171.6h1.05v1.05h-1.05zM134.6 141.0h1.05v1.05h-1.05zM110.5 165.7h1.05v1.05h-1.05zM118.8 169.2h1.05v1.05h-1.05zM119.8 193.0h1.05v1.05h-1.05zM125.7 242.0h1.05v1.05h-1.05zM128.2 233.5h1.05v1.05h-1.05zM118.8 155.0h1.05v1.05h-1.05zM121.0 226.5h1.05v1.05h-1.05zM115.8 169.9h1.05v1.05h-1.05zM128.4 229.2h1.05v1.05h-1.05zM117.3 162.6h1.05v1.05h-1.05zM137.2 141.7h1.05v1.05h-1.05zM137.6 177.2h1.05v1.05h-1.05zM126.8 244.9h1.05v1.05h-1.05zM137.7 164.5h1.05v1.05h-1.05zM133.5 192.7h1.05v1.05h-1.05zM119.7 151.0h1.05v1.05h-1.05zM125.3 230.6h1.05v1.05h-1.05zM130.3 214.8h1.05v1.05h-1.05zM119.5 145.5h1.05v1.05h-1.05zM120.0 154.0h1.05v1.05h-1.05zM109.8 146.6h1.05v1.05h-1.05zM122.9 187.8h1.05v1.05h-1.05zM132.6 171.2h1.05v1.05h-1.05zM107.6 144.1h1.05v1.05h-1.05zM132.3 172.7h1.05v1.05h-1.05zM128.1 238.4h1.05v1.05h-1.05zM131.2 229.8h1.05v1.05h-1.05zM126.7 250.5h1.05v1.05h-1.05zM125.5 235.3h1.05v1.05h-1.05zM126.0 246.6h1.05v1.05h-1.05zM123.6 202.9h1.05v1.05h-1.05zM136.3 177.4h1.05v1.05h-1.05zM144.3 151.5h1.05v1.05h-1.05zM130.6 200.2h1.05v1.05h-1.05zM129.4 229.1h1.05v1.05h-1.05zM113.7 146.6h1.05v1.05h-1.05zM147.0 145.7h1.05v1.05h-1.05zM139.6 139.5h1.05v1.05h-1.05zM126.2 247.2h1.05v1.05h-1.05zM138.3 180.2h1.05v1.05h-1.05zM133.3 175.9h1.05v1.05h-1.05zM122.0 186.3h1.05v1.05h-1.05zM124.1 225.8h1.05v1.05h-1.05zM138.8 145.4h1.05v1.05h-1.05zM119.8 186.0h1.05v1.05h-1.05zM125.9 245.2h1.05v1.05h-1.05zM130.9 207.2h1.05v1.05h-1.05zM108.7 165.6h1.05v1.05h-1.05zM124.4 224.0h1.05v1.05h-1.05zM140.0 160.4h1.05v1.05h-1.05zM129.6 223.1h1.05v1.05h-1.05zM123.4 197.5h1.05v1.05h-1.05zM121.3 213.4h1.05v1.05h-1.05zM128.4 233.2h1.05v1.05h-1.05zM132.7 149.2h1.05v1.05h-1.05zM106.6 207.9h1.05v1.05h-1.05zM119.2 163.0h1.05v1.05h-1.05zM133.5 148.4h1.05v1.05h-1.05zM129.1 214.5h1.05v1.05h-1.05zM126.9 250.0h1.05v1.05h-1.05zM140.2 187.3h1.05v1.05h-1.05zM122.8 220.1h1.05v1.05h-1.05zM132.4 150.2h1.05v1.05h-1.05zM129.6 228.6h1.05v1.05h-1.05zM137.6 166.2h1.05v1.05h-1.05zM126.4 246.9h1.05v1.05h-1.05zM124.5 215.9h1.05v1.05h-1.05zM123.8 224.7h1.05v1.05h-1.05zM118.7 152.5h1.05v1.05h-1.05zM131.1 179.3h1.05v1.05h-1.05zM120.7 172.8h1.05v1.05h-1.05zM127.2 239.0h1.05v1.05h-1.05zM120.9 211.5h1.05v1.05h-1.05zM146.6 148.3h1.05v1.05h-1.05zM121.7 177.7h1.05v1.05h-1.05zM121.3 162.4h1.05v1.05h-1.05zM119.8 189.9h1.05v1.05h-1.05zM124.1 223.7h1.05v1.05h-1.05zM115.9 146.1h1.05v1.05h-1.05zM122.2 216.7h1.05v1.05h-1.05zM125.3 228.0h1.05v1.05h-1.05zM117.9 173.9h1.05v1.05h-1.05zM125.4 238.5h1.05v1.05h-1.05zM135.6 161.6h1.05v1.05h-1.05zM115.8 167.2h1.05v1.05h-1.05zM122.2 203.0h1.05v1.05h-1.05zM117.9 188.4h1.05v1.05h-1.05zM113.9 191.5h1.05v1.05h-1.05zM125.7 240.1h1.05v1.05h-1.05zM128.4 239.4h1.05v1.05h-1.05zM129.8 206.5h1.05v1.05h-1.05zM126.8 249.8h1.05v1.05h-1.05zM127.8 226.1h1.05v1.05h-1.05zM123.9 205.0h1.05v1.05h-1.05zM131.8 176.2h1.05v1.05h-1.05zM116.5 188.3h1.05v1.05h-1.05zM131.0 227.5h1.05v1.05h-1.05zM132.8 162.2h1.05v1.05h-1.05zM113.5 158.5h1.05v1.05h-1.05zM111.5 172.4h1.05v1.05h-1.05zM119.0 169.7h1.05v1.05h-1.05zM122.3 218.0h1.05v1.05h-1.05zM141.4 153.9h1.05v1.05h-1.05zM131.8 180.8h1.05v1.05h-1.05zM129.4 227.1h1.05v1.05h-1.05zM139.5 170.1h1.05v1.05h-1.05zM115.7 176.2h1.05v1.05h-1.05zM122.3 182.6h1.05v1.05h-1.05zM120.7 193.2h1.05v1.05h-1.05zM118.8 161.4h1.05v1.05h-1.05zM134.5 165.3h1.05v1.05h-1.05zM130.7 180.3h1.05v1.05h-1.05zM125.4 241.1h1.05v1.05h-1.05zM123.6 220.5h1.05v1.05h-1.05zM152.6 139.4h1.05v1.05h-1.05zM133.2 200.9h1.05v1.05h-1.05zM133.5 175.6h1.05v1.05h-1.05zM123.4 232.7h1.05v1.05h-1.05zM135.6 182.3h1.05v1.05h-1.05zM117.0 178.2h1.05v1.05h-1.05zM121.0 161.9h1.05v1.05h-1.05zM115.8 140.4h1.05v1.05h-1.05zM132.8 194.9h1.05v1.05h-1.05zM122.4 211.1h1.05v1.05h-1.05zM128.4 229.2h1.05v1.05h-1.05zM131.3 208.6h1.05v1.05h-1.05zM132.9 196.3h1.05v1.05h-1.05zM135.8 140.9h1.05v1.05h-1.05zM132.8 188.8h1.05v1.05h-1.05zM140.5 171.1h1.05v1.05h-1.05zM117.1 164.9h1.05v1.05h-1.05zM126.9 248.7h1.05v1.05h-1.05zM129.9 220.4h1.05v1.05h-1.05zM131.7 185.6h1.05v1.05h-1.05zM125.5 242.4h1.05v1.05h-1.05zM128.4 230.3h1.05v1.05h-1.05zM133.9 162.9h1.05v1.05h-1.05zM117.5 171.2h1.05v1.05h-1.05zM123.8 231.8h1.05v1.05h-1.05zM125.5 234.4h1.05v1.05h-1.05zM156.4 153.4h1.05v1.05h-1.05zM134.3 193.1h1.05v1.05h-1.05zM123.1 210.7h1.05v1.05h-1.05zM134.3 166.4h1.05v1.05h-1.05zM109.2 171.8h1.05v1.05h-1.05zM143.0 137.8h1.05v1.05h-1.05zM125.6 236.3h1.05v1.05h-1.05zM148.5 161.2h1.05v1.05h-1.05zM133.7 194.4h1.05v1.05h-1.05zM124.1 218.6h1.05v1.05h-1.05zM134.7 190.2h1.05v1.05h-1.05zM127.2 247.6h1.05v1.05h-1.05zM125.0 233.6h1.05v1.05h-1.05zM127.6 235.6h1.05v1.05h-1.05zM120.8 169.3h1.05v1.05h-1.05zM120.3 167.6h1.05v1.05h-1.05zM129.5 219.1h1.05v1.05h-1.05zM123.9 211.7h1.05v1.05h-1.05zM135.4 160.8h1.05v1.05h-1.05zM130.0 202.5h1.05v1.05h-1.05zM123.8 207.0h1.05v1.05h-1.05zM137.3 142.8h1.05v1.05h-1.05zM110.8 185.2h1.05v1.05h-1.05zM92.4 185.9h1.05v1.05h-1.05zM132.2 178.0h1.05v1.05h-1.05zM126.2 244.6h1.05v1.05h-1.05zM129.8 201.3h1.05v1.05h-1.05zM140.0 159.1h1.05v1.05h-1.05zM133.5 173.7h1.05v1.05h-1.05zM148.9 148.5h1.05v1.05h-1.05zM131.7 211.3h1.05v1.05h-1.05zM130.7 192.7h1.05v1.05h-1.05zM133.1 220.2h1.05v1.05h-1.05zM124.7 226.1h1.05v1.05h-1.05zM125.8 237.9h1.05v1.05h-1.05zM129.2 224.5h1.05v1.05h-1.05zM128.0 228.7h1.05v1.05h-1.05zM122.6 196.8h1.05v1.05h-1.05zM130.4 199.9h1.05v1.05h-1.05zM151.4 161.7h1.05v1.05h-1.05zM115.5 160.2h1.05v1.05h-1.05zM132.5 185.6h1.05v1.05h-1.05zM132.9 173.1h1.05v1.05h-1.05zM120.8 193.5h1.05v1.05h-1.05zM121.4 211.3h1.05v1.05h-1.05zM110.3 189.7h1.05v1.05h-1.05zM121.3 175.8h1.05v1.05h-1.05zM119.1 141.8h1.05v1.05h-1.05zM146.1 156.2h1.05v1.05h-1.05zM127.5 241.1h1.05v1.05h-1.05zM119.2 174.9h1.05v1.05h-1.05zM125.3 237.9h1.05v1.05h-1.05zM135.8 176.8h1.05v1.05h-1.05zM119.3 152.8h1.05v1.05h-1.05zM136.2 168.6h1.05v1.05h-1.05zM125.3 234.3h1.05v1.05h-1.05zM122.6 198.5h1.05v1.05h-1.05zM131.6 224.9h1.05v1.05h-1.05zM121.1 172.7h1.05v1.05h-1.05zM133.6 167.3h1.05v1.05h-1.05zM134.1 164.6h1.05v1.05h-1.05zM131.8 206.1h1.05v1.05h-1.05zM131.5 179.4h1.05v1.05h-1.05zM129.5 223.3h1.05v1.05h-1.05zM134.5 144.4h1.05v1.05h-1.05zM142.7 143.5h1.05v1.05h-1.05zM127.6 246.2h1.05v1.05h-1.05zM122.4 183.1h1.05v1.05h-1.05zM133.5 166.6h1.05v1.05h-1.05zM130.7 220.6h1.05v1.05h-1.05zM127.0 245.8h1.05v1.05h-1.05zM126.8 250.6h1.05v1.05h-1.05zM113.6 167.7h1.05v1.05h-1.05zM126.5 248.9h1.05v1.05h-1.05zM119.6 202.7h1.05v1.05h-1.05zM133.7 158.1h1.05v1.05h-1.05zM127.8 243.0h1.05v1.05h-1.05zM131.6 167.7h1.05v1.05h-1.05zM134.1 197.7h1.05v1.05h-1.05zM130.4 202.3h1.05v1.05h-1.05zM120.2 191.8h1.05v1.05h-1.05zM122.9 206.6h1.05v1.05h-1.05zM112.0 151.5h1.05v1.05h-1.05zM117.6 171.7h1.05v1.05h-1.05zM130.3 202.5h1.05v1.05h-1.05zM121.8 234.1h1.05v1.05h-1.05zM121.2 189.6h1.05v1.05h-1.05zM118.8 137.3h1.05v1.05h-1.05zM119.6 148.4h1.05v1.05h-1.05zM126.0 241.0h1.05v1.05h-1.05zM130.5 206.1h1.05v1.05h-1.05zM130.5 193.4h1.05v1.05h-1.05zM130.4 200.5h1.05v1.05h-1.05zM125.5 235.2h1.05v1.05h-1.05zM122.0 226.0h1.05v1.05h-1.05zM116.5 186.2h1.05v1.05h-1.05zM132.9 166.2h1.05v1.05h-1.05zM119.1 166.7h1.05v1.05h-1.05zM134.4 171.4h1.05v1.05h-1.05zM137.2 171.3h1.05v1.05h-1.05zM126.8 249.5h1.05v1.05h-1.05zM123.8 222.2h1.05v1.05h-1.05zM122.8 208.3h1.05v1.05h-1.05zM129.7 217.6h1.05v1.05h-1.05zM121.5 202.5h1.05v1.05h-1.05zM131.7 201.2h1.05v1.05h-1.05zM123.5 208.0h1.05v1.05h-1.05zM126.4 249.2h1.05v1.05h-1.05zM148.7 151.1h1.05v1.05h-1.05zM136.0 141.6h1.05v1.05h-1.05zM119.5 177.5h1.05v1.05h-1.05zM129.1 215.7h1.05v1.05h-1.05zM131.0 195.5h1.05v1.05h-1.05zM103.1 146.2h1.05v1.05h-1.05zM119.8 179.2h1.05v1.05h-1.05zM131.2 168.8h1.05v1.05h-1.05zM119.9 168.5h1.05v1.05h-1.05zM139.9 139.2h1.05v1.05h-1.05zM137.8 173.3h1.05v1.05h-1.05zM128.1 235.7h1.05v1.05h-1.05zM131.6 189.4h1.05v1.05h-1.05zM117.8 145.2h1.05v1.05h-1.05zM125.4 233.0h1.05v1.05h-1.05zM126.2 243.2h1.05v1.05h-1.05zM126.0 243.3h1.05v1.05h-1.05zM125.9 240.7h1.05v1.05h-1.05zM128.6 228.7h1.05v1.05h-1.05zM137.4 161.0h1.05v1.05h-1.05zM133.7 179.2h1.05v1.05h-1.05zM118.6 165.1h1.05v1.05h-1.05zM120.9 183.9h1.05v1.05h-1.05zM124.2 206.4h1.05v1.05h-1.05zM108.6 159.3h1.05v1.05h-1.05zM123.2 228.0h1.05v1.05h-1.05zM120.8 205.7h1.05v1.05h-1.05zM119.0 199.4h1.05v1.05h-1.05zM117.8 170.6h1.05v1.05h-1.05zM116.9 162.0h1.05v1.05h-1.05zM136.7 182.8h1.05v1.05h-1.05zM122.1 178.3h1.05v1.05h-1.05zM129.1 214.7h1.05v1.05h-1.05zM113.1 179.9h1.05v1.05h-1.05zM136.0 153.4h1.05v1.05h-1.05zM120.9 196.8h1.05v1.05h-1.05zM118.3 163.0h1.05v1.05h-1.05zM133.4 189.2h1.05v1.05h-1.05zM137.9 188.6h1.05v1.05h-1.05zM132.9 178.3h1.05v1.05h-1.05zM125.6 231.7h1.05v1.05h-1.05zM124.7 222.5h1.05v1.05h-1.05zM123.2 227.3h1.05v1.05h-1.05zM121.9 186.2h1.05v1.05h-1.05zM136.4 171.7h1.05v1.05h-1.05zM121.1 167.7h1.05v1.05h-1.05zM129.2 223.3h1.05v1.05h-1.05zM123.1 208.7h1.05v1.05h-1.05zM125.4 230.9h1.05v1.05h-1.05zM121.3 173.4h1.05v1.05h-1.05zM131.3 198.9h1.05v1.05h-1.05zM123.6 215.7h1.05v1.05h-1.05zM124.3 221.3h1.05v1.05h-1.05zM116.4 142.4h1.05v1.05h-1.05zM118.3 192.1h1.05v1.05h-1.05zM114.2 138.1h1.05v1.05h-1.05zM129.4 210.1h1.05v1.05h-1.05zM129.2 222.4h1.05v1.05h-1.05zM120.7 166.8h1.05v1.05h-1.05zM138.6 146.2h1.05v1.05h-1.05zM128.4 228.7h1.05v1.05h-1.05zM138.8 151.4h1.05v1.05h-1.05zM114.4 180.5h1.05v1.05h-1.05zM110.1 147.1h1.05v1.05h-1.05zM120.0 142.7h1.05v1.05h-1.05zM135.6 198.1h1.05v1.05h-1.05zM146.6 143.3h1.05v1.05h-1.05zM129.7 226.7h1.05v1.05h-1.05zM123.5 196.3h1.05v1.05h-1.05zM122.2 196.3h1.05v1.05h-1.05zM135.3 218.9h1.05v1.05h-1.05zM132.8 191.8h1.05v1.05h-1.05zM119.7 162.9h1.05v1.05h-1.05zM129.3 235.7h1.05v1.05h-1.05zM122.5 192.1h1.05v1.05h-1.05zM132.3 187.3h1.05v1.05h-1.05zM129.1 224.7h1.05v1.05h-1.05zM107.4 174.6h1.05v1.05h-1.05zM124.2 218.0h1.05v1.05h-1.05zM132.3 182.3h1.05v1.05h-1.05zM97.2 182.2h1.05v1.05h-1.05zM120.5 163.3h1.05v1.05h-1.05zM112.3 143.9h1.05v1.05h-1.05zM120.1 144.8h1.05v1.05h-1.05zM134.3 189.8h1.05v1.05h-1.05zM124.1 216.9h1.05v1.05h-1.05zM129.3 219.3h1.05v1.05h-1.05zM135.6 159.3h1.05v1.05h-1.05zM136.0 162.1h1.05v1.05h-1.05zM114.0 158.5h1.05v1.05h-1.05zM134.8 154.4h1.05v1.05h-1.05zM121.7 183.0h1.05v1.05h-1.05zM117.2 147.8h1.05v1.05h-1.05zM141.0 173.0h1.05v1.05h-1.05zM132.6 175.8h1.05v1.05h-1.05zM118.8 154.0h1.05v1.05h-1.05zM131.5 173.6h1.05v1.05h-1.05zM142.1 161.3h1.05v1.05h-1.05zM105.0 144.4h1.05v1.05h-1.05zM123.3 201.7h1.05v1.05h-1.05zM137.7 163.1h1.05v1.05h-1.05zM131.0 212.7h1.05v1.05h-1.05zM133.0 191.5h1.05v1.05h-1.05zM120.3 150.2h1.05v1.05h-1.05zM118.8 139.9h1.05v1.05h-1.05zM79.3 142.6h1.05v1.05h-1.05zM118.0 162.4h1.05v1.05h-1.05zM133.6 152.9h1.05v1.05h-1.05zM118.4 149.1h1.05v1.05h-1.05zM138.8 178.1h1.05v1.05h-1.05zM146.3 219.1h1.05v1.05h-1.05zM127.3 248.1h1.05v1.05h-1.05zM134.3 162.0h1.05v1.05h-1.05zM119.4 162.1h1.05v1.05h-1.05zM119.2 165.2h1.05v1.05h-1.05zM133.5 181.3h1.05v1.05h-1.05zM134.1 173.0h1.05v1.05h-1.05zM109.6 166.5h1.05v1.05h-1.05zM137.6 186.6h1.05v1.05h-1.05zM118.2 172.9h1.05v1.05h-1.05zM123.4 221.4h1.05v1.05h-1.05zM131.0 186.3h1.05v1.05h-1.05zM131.0 176.1h1.05v1.05h-1.05zM121.0 182.6h1.05v1.05h-1.05zM129.8 217.5h1.05v1.05h-1.05zM124.5 233.3h1.05v1.05h-1.05zM133.9 173.3h1.05v1.05h-1.05zM125.2 235.1h1.05v1.05h-1.05zM134.1 158.5h1.05v1.05h-1.05zM128.8 226.5h1.05v1.05h-1.05zM119.9 160.9h1.05v1.05h-1.05zM143.1 206.2h1.05v1.05h-1.05zM102.3 147.4h1.05v1.05h-1.05zM124.1 221.3h1.05v1.05h-1.05zM128.5 229.5h1.05v1.05h-1.05zM120.2 171.1h1.05v1.05h-1.05zM135.0 160.7h1.05v1.05h-1.05zM131.5 206.9h1.05v1.05h-1.05zM133.4 193.1h1.05v1.05h-1.05zM120.8 172.5h1.05v1.05h-1.05zM122.6 213.1h1.05v1.05h-1.05zM118.4 202.4h1.05v1.05h-1.05zM134.4 182.8h1.05v1.05h-1.05zM130.6 212.2h1.05v1.05h-1.05zM128.2 230.9h1.05v1.05h-1.05zM115.5 146.6h1.05v1.05h-1.05zM125.1 233.8h1.05v1.05h-1.05zM97.4 138.5h1.05v1.05h-1.05zM117.6 153.3h1.05v1.05h-1.05zM130.6 195.9h1.05v1.05h-1.05zM148.4 151.6h1.05v1.05h-1.05zM127.2 241.4h1.05v1.05h-1.05zM115.2 183.2h1.05v1.05h-1.05zM129.7 206.4h1.05v1.05h-1.05zM129.5 212.5h1.05v1.05h-1.05zM116.2 148.0h1.05v1.05h-1.05zM126.0 245.0h1.05v1.05h-1.05zM145.7 151.4h1.05v1.05h-1.05zM125.6 239.5h1.05v1.05h-1.05zM136.5 170.9h1.05v1.05h-1.05zM160.9 214.2h1.05v1.05h-1.05zM122.3 187.1h1.05v1.05h-1.05zM111.1 144.9h1.05v1.05h-1.05zM133.9 158.2h1.05v1.05h-1.05zM127.5 236.8h1.05v1.05h-1.05zM122.5 211.9h1.05v1.05h-1.05zM121.2 191.4h1.05v1.05h-1.05zM136.8 166.7h1.05v1.05h-1.05zM126.5 250.0h1.05v1.05h-1.05zM165.0 151.2h1.05v1.05h-1.05zM140.7 153.5h1.05v1.05h-1.05zM153.9 141.7h1.05v1.05h-1.05zM128.9 224.0h1.05v1.05h-1.05zM123.4 222.7h1.05v1.05h-1.05zM111.6 154.5h1.05v1.05h-1.05zM120.9 188.4h1.05v1.05h-1.05zM130.6 218.9h1.05v1.05h-1.05zM126.9 248.2h1.05v1.05h-1.05zM130.9 222.3h1.05v1.05h-1.05zM120.3 171.1h1.05v1.05h-1.05zM118.7 165.0h1.05v1.05h-1.05zM112.0 206.3h1.05v1.05h-1.05zM134.5 145.7h1.05v1.05h-1.05zM121.3 189.0h1.05v1.05h-1.05zM122.7 188.1h1.05v1.05h-1.05zM123.6 201.8h1.05v1.05h-1.05zM137.0 200.8h1.05v1.05h-1.05zM123.5 205.8h1.05v1.05h-1.05zM115.5 155.3h1.05v1.05h-1.05zM130.9 196.7h1.05v1.05h-1.05zM132.6 220.6h1.05v1.05h-1.05zM130.7 197.2h1.05v1.05h-1.05zM111.7 144.9h1.05v1.05h-1.05zM105.4 175.0h1.05v1.05h-1.05zM125.1 236.1h1.05v1.05h-1.05zM120.3 199.0h1.05v1.05h-1.05zM135.5 193.7h1.05v1.05h-1.05zM126.5 248.6h1.05v1.05h-1.05zM137.9 141.2h1.05v1.05h-1.05zM115.7 145.8h1.05v1.05h-1.05zM129.9 236.5h1.05v1.05h-1.05zM122.3 184.3h1.05v1.05h-1.05zM123.7 211.1h1.05v1.05h-1.05zM124.7 222.9h1.05v1.05h-1.05zM123.9 215.5h1.05v1.05h-1.05zM127.4 242.9h1.05v1.05h-1.05zM111.8 169.7h1.05v1.05h-1.05zM130.3 204.9h1.05v1.05h-1.05zM141.5 168.5h1.05v1.05h-1.05zM117.9 156.3h1.05v1.05h-1.05zM121.3 182.1h1.05v1.05h-1.05zM123.8 207.5h1.05v1.05h-1.05zM129.9 231.7h1.05v1.05h-1.05zM120.9 173.6h1.05v1.05h-1.05zM120.5 171.2h1.05v1.05h-1.05zM134.5 159.9h1.05v1.05h-1.05zM123.7 232.0h1.05v1.05h-1.05zM127.4 243.9h1.05v1.05h-1.05zM120.6 149.7h1.05v1.05h-1.05zM112.3 178.5h1.05v1.05h-1.05zM128.1 237.5h1.05v1.05h-1.05zM120.1 167.5h1.05v1.05h-1.05zM124.8 242.5h1.05v1.05h-1.05zM85.4 175.7h1.05v1.05h-1.05zM122.5 184.1h1.05v1.05h-1.05zM133.2 166.8h1.05v1.05h-1.05zM128.1 237.5h1.05v1.05h-1.05zM117.8 146.6h1.05v1.05h-1.05zM115.5 143.3h1.05v1.05h-1.05zM115.3 138.8h1.05v1.05h-1.05zM117.2 161.5h1.05v1.05h-1.05zM129.9 211.2h1.05v1.05h-1.05zM118.7 139.4h1.05v1.05h-1.05zM116.1 177.6h1.05v1.05h-1.05zM112.3 166.5h1.05v1.05h-1.05zM118.4 172.6h1.05v1.05h-1.05zM122.1 223.5h1.05v1.05h-1.05zM110.0 152.4h1.05v1.05h-1.05zM118.7 174.1h1.05v1.05h-1.05zM121.6 221.8h1.05v1.05h-1.05zM118.2 203.6h1.05v1.05h-1.05zM124.9 231.2h1.05v1.05h-1.05zM122.1 197.5h1.05v1.05h-1.05zM102.7 138.3h1.05v1.05h-1.05zM129.9 203.0h1.05v1.05h-1.05zM133.8 201.7h1.05v1.05h-1.05zM135.5 157.6h1.05v1.05h-1.05zM127.4 239.0h1.05v1.05h-1.05zM128.4 234.2h1.05v1.05h-1.05zM121.0 163.6h1.05v1.05h-1.05zM125.5 232.9h1.05v1.05h-1.05zM131.5 177.9h1.05v1.05h-1.05zM115.1 156.2h1.05v1.05h-1.05zM114.8 183.2h1.05v1.05h-1.05zM125.9 239.3h1.05v1.05h-1.05zM124.1 223.5h1.05v1.05h-1.05zM132.1 185.6h1.05v1.05h-1.05zM133.7 141.9h1.05v1.05h-1.05zM134.9 173.4h1.05v1.05h-1.05zM109.5 168.8h1.05v1.05h-1.05zM131.9 179.7h1.05v1.05h-1.05zM121.8 209.6h1.05v1.05h-1.05zM134.3 178.3h1.05v1.05h-1.05zM126.6 249.3h1.05v1.05h-1.05zM131.0 199.6h1.05v1.05h-1.05zM119.7 156.7h1.05v1.05h-1.05zM123.2 223.8h1.05v1.05h-1.05zM118.3 174.0h1.05v1.05h-1.05zM120.8 166.3h1.05v1.05h-1.05zM123.9 229.6h1.05v1.05h-1.05zM134.2 151.9h1.05v1.05h-1.05zM122.9 219.1h1.05v1.05h-1.05zM140.3 141.0h1.05v1.05h-1.05zM132.5 207.4h1.05v1.05h-1.05zM133.4 177.9h1.05v1.05h-1.05zM116.7 142.5h1.05v1.05h-1.05zM139.0 155.8h1.05v1.05h-1.05zM132.5 191.6h1.05v1.05h-1.05zM129.3 225.0h1.05v1.05h-1.05zM134.1 177.6h1.05v1.05h-1.05zM135.4 180.5h1.05v1.05h-1.05zM128.0 241.5h1.05v1.05h-1.05zM122.7 203.1h1.05v1.05h-1.05zM113.5 145.4h1.05v1.05h-1.05zM131.4 187.2h1.05v1.05h-1.05zM131.2 226.6h1.05v1.05h-1.05zM132.9 174.4h1.05v1.05h-1.05zM134.0 195.1h1.05v1.05h-1.05zM110.3 146.1h1.05v1.05h-1.05zM150.0 191.1h1.05v1.05h-1.05zM126.6 246.8h1.05v1.05h-1.05zM127.9 229.0h1.05v1.05h-1.05zM128.3 227.3h1.05v1.05h-1.05zM112.1 142.2h1.05v1.05h-1.05zM122.1 205.7h1.05v1.05h-1.05zM131.1 206.9h1.05v1.05h-1.05zM135.1 139.6h1.05v1.05h-1.05zM123.6 223.6h1.05v1.05h-1.05zM133.5 176.8h1.05v1.05h-1.05zM117.0 142.6h1.05v1.05h-1.05zM110.7 146.5h1.05v1.05h-1.05zM124.5 229.1h1.05v1.05h-1.05zM131.4 193.2h1.05v1.05h-1.05zM124.3 218.1h1.05v1.05h-1.05zM116.6 168.5h1.05v1.05h-1.05zM122.8 218.8h1.05v1.05h-1.05zM124.7 227.1h1.05v1.05h-1.05zM138.6 215.8h1.05v1.05h-1.05zM121.9 232.8h1.05v1.05h-1.05zM120.1 166.7h1.05v1.05h-1.05zM129.7 214.9h1.05v1.05h-1.05zM121.6 201.1h1.05v1.05h-1.05zM128.7 215.4h1.05v1.05h-1.05zM123.8 203.4h1.05v1.05h-1.05zM129.0 211.9h1.05v1.05h-1.05zM133.9 206.4h1.05v1.05h-1.05zM121.6 167.5h1.05v1.05h-1.05zM132.0 227.5h1.05v1.05h-1.05zM132.5 169.9h1.05v1.05h-1.05zM131.1 207.1h1.05v1.05h-1.05zM144.3 237.6h1.05v1.05h-1.05zM127.8 234.2h1.05v1.05h-1.05zM138.2 147.4h1.05v1.05h-1.05zM126.1 244.5h1.05v1.05h-1.05zM128.7 215.3h1.05v1.05h-1.05zM139.6 151.3h1.05v1.05h-1.05zM129.0 239.4h1.05v1.05h-1.05zM121.5 223.0h1.05v1.05h-1.05zM129.6 216.2h1.05v1.05h-1.05zM119.8 154.2h1.05v1.05h-1.05zM128.0 234.7h1.05v1.05h-1.05zM127.9 234.2h1.05v1.05h-1.05zM118.5 182.9h1.05v1.05h-1.05zM119.8 160.7h1.05v1.05h-1.05zM134.0 183.6h1.05v1.05h-1.05zM131.0 189.2h1.05v1.05h-1.05zM130.8 197.0h1.05v1.05h-1.05zM128.7 218.1h1.05v1.05h-1.05zM117.7 138.0h1.05v1.05h-1.05zM131.0 200.7h1.05v1.05h-1.05zM121.9 174.9h1.05v1.05h-1.05zM138.8 181.1h1.05v1.05h-1.05zM135.1 141.1h1.05v1.05h-1.05zM139.7 219.1h1.05v1.05h-1.05zM128.2 229.8h1.05v1.05h-1.05zM118.8 147.6h1.05v1.05h-1.05zM120.2 189.1h1.05v1.05h-1.05zM95.1 174.7h1.05v1.05h-1.05zM145.1 176.5h1.05v1.05h-1.05zM114.7 159.8h1.05v1.05h-1.05zM145.9 154.0h1.05v1.05h-1.05zM132.9 168.3h1.05v1.05h-1.05zM126.8 250.1h1.05v1.05h-1.05zM118.9 154.0h1.05v1.05h-1.05zM128.5 244.4h1.05v1.05h-1.05zM137.6 151.9h1.05v1.05h-1.05zM126.6 250.8h1.05v1.05h-1.05zM133.1 160.6h1.05v1.05h-1.05zM119.1 175.0h1.05v1.05h-1.05zM126.8 246.8h1.05v1.05h-1.05zM113.7 162.8h1.05v1.05h-1.05zM118.9 181.4h1.05v1.05h-1.05zM128.2 234.0h1.05v1.05h-1.05zM114.0 149.9h1.05v1.05h-1.05zM120.5 180.1h1.05v1.05h-1.05zM137.0 194.2h1.05v1.05h-1.05zM118.3 142.8h1.05v1.05h-1.05zM128.2 223.9h1.05v1.05h-1.05zM123.3 227.2h1.05v1.05h-1.05zM134.0 148.3h1.05v1.05h-1.05zM132.1 229.1h1.05v1.05h-1.05zM112.9 156.1h1.05v1.05h-1.05zM123.7 223.1h1.05v1.05h-1.05zM136.9 156.5h1.05v1.05h-1.05zM137.4 200.2h1.05v1.05h-1.05zM139.9 177.3h1.05v1.05h-1.05zM134.9 178.4h1.05v1.05h-1.05zM131.6 201.7h1.05v1.05h-1.05zM130.6 188.0h1.05v1.05h-1.05zM157.8 173.9h1.05v1.05h-1.05zM124.5 232.1h1.05v1.05h-1.05zM120.1 145.9h1.05v1.05h-1.05zM118.3 155.5h1.05v1.05h-1.05zM124.7 223.3h1.05v1.05h-1.05zM128.8 221.3h1.05v1.05h-1.05zM130.2 201.8h1.05v1.05h-1.05zM120.1 160.9h1.05v1.05h-1.05zM118.0 188.2h1.05v1.05h-1.05zM123.8 210.8h1.05v1.05h-1.05zM134.5 161.2h1.05v1.05h-1.05zM125.0 224.9h1.05v1.05h-1.05zM141.9 167.6h1.05v1.05h-1.05zM135.9 162.8h1.05v1.05h-1.05zM125.2 236.5h1.05v1.05h-1.05zM144.1 182.4h1.05v1.05h-1.05zM119.0 179.8h1.05v1.05h-1.05zM113.8 140.1h1.05v1.05h-1.05zM129.9 212.7h1.05v1.05h-1.05zM131.9 194.5h1.05v1.05h-1.05zM150.4 143.8h1.05v1.05h-1.05zM127.5 232.9h1.05v1.05h-1.05zM120.1 147.8h1.05v1.05h-1.05zM130.5 205.0h1.05v1.05h-1.05zM119.2 207.5h1.05v1.05h-1.05zM118.9 137.7h1.05v1.05h-1.05zM123.0 202.2h1.05v1.05h-1.05zM124.5 218.7h1.05v1.05h-1.05zM122.7 223.4h1.05v1.05h-1.05zM121.2 168.9h1.05v1.05h-1.05zM113.9 175.3h1.05v1.05h-1.05zM129.1 219.7h1.05v1.05h-1.05zM122.9 190.6h1.05v1.05h-1.05zM129.3 214.1h1.05v1.05h-1.05zM102.4 154.0h1.05v1.05h-1.05zM129.9 205.9h1.05v1.05h-1.05zM138.4 177.5h1.05v1.05h-1.05zM117.3 146.1h1.05v1.05h-1.05zM129.2 219.7h1.05v1.05h-1.05zM120.0 142.1h1.05v1.05h-1.05zM121.0 191.7h1.05v1.05h-1.05zM133.6 174.8h1.05v1.05h-1.05zM129.1 215.8h1.05v1.05h-1.05zM118.5 169.1h1.05v1.05h-1.05zM117.5 165.9h1.05v1.05h-1.05zM133.7 180.0h1.05v1.05h-1.05zM114.3 151.4h1.05v1.05h-1.05zM122.3 193.2h1.05v1.05h-1.05zM126.1 248.5h1.05v1.05h-1.05zM135.3 146.1h1.05v1.05h-1.05zM132.6 182.6h1.05v1.05h-1.05zM135.4 177.6h1.05v1.05h-1.05zM131.4 179.3h1.05v1.05h-1.05zM127.4 244.6h1.05v1.05h-1.05zM119.7 214.0h1.05v1.05h-1.05zM125.9 238.1h1.05v1.05h-1.05zM137.0 173.8h1.05v1.05h-1.05zM142.3 152.2h1.05v1.05h-1.05zM136.1 172.7h1.05v1.05h-1.05zM120.1 156.5h1.05v1.05h-1.05zM132.0 208.8h1.05v1.05h-1.05zM127.3 246.0h1.05v1.05h-1.05zM122.7 200.1h1.05v1.05h-1.05zM123.0 228.1h1.05v1.05h-1.05zM123.6 211.9h1.05v1.05h-1.05zM119.2 219.7h1.05v1.05h-1.05zM124.5 226.7h1.05v1.05h-1.05z" fill="#111"/>
<path d="M117.1 119.7h1.2v1.1h-1.2zM112.1 106.5h1.2v1.1h-1.2zM91.5 95.7h1.2v1.1h-1.2zM109.4 105.2h1.2v1.1h-1.2zM113.1 118.2h1.2v1.1h-1.2zM71.7 87.6h1.2v1.1h-1.2zM116.2 122.8h1.2v1.1h-1.2zM91.9 105.6h1.2v1.1h-1.2zM104.4 91.3h1.2v1.1h-1.2zM107.4 100.6h1.2v1.1h-1.2zM103.4 106.0h1.2v1.1h-1.2zM111.7 108.7h1.2v1.1h-1.2zM99.5 96.5h1.2v1.1h-1.2zM108.6 92.0h1.2v1.1h-1.2zM113.0 108.8h1.2v1.1h-1.2zM105.1 87.1h1.2v1.1h-1.2zM112.9 111.9h1.2v1.1h-1.2zM109.2 99.9h1.2v1.1h-1.2zM85.5 87.6h1.2v1.1h-1.2zM113.0 134.7h1.2v1.1h-1.2zM105.9 120.3h1.2v1.1h-1.2zM105.3 87.2h1.2v1.1h-1.2zM103.3 86.7h1.2v1.1h-1.2zM115.5 117.9h1.2v1.1h-1.2zM105.2 127.3h1.2v1.1h-1.2zM105.9 134.8h1.2v1.1h-1.2zM115.9 113.3h1.2v1.1h-1.2zM91.0 87.4h1.2v1.1h-1.2zM94.1 108.6h1.2v1.1h-1.2zM96.5 118.2h1.2v1.1h-1.2zM101.2 97.8h1.2v1.1h-1.2zM114.0 115.9h1.2v1.1h-1.2zM103.5 111.0h1.2v1.1h-1.2zM110.0 117.8h1.2v1.1h-1.2zM115.3 123.6h1.2v1.1h-1.2zM114.4 134.5h1.2v1.1h-1.2zM97.9 88.0h1.2v1.1h-1.2zM117.2 133.3h1.2v1.1h-1.2zM113.6 104.0h1.2v1.1h-1.2zM114.6 118.5h1.2v1.1h-1.2zM84.7 92.9h1.2v1.1h-1.2zM106.8 88.2h1.2v1.1h-1.2zM116.7 118.2h1.2v1.1h-1.2zM85.1 87.6h1.2v1.1h-1.2zM111.8 95.6h1.2v1.1h-1.2zM93.3 88.3h1.2v1.1h-1.2zM102.3 93.5h1.2v1.1h-1.2zM102.7 87.2h1.2v1.1h-1.2zM102.6 88.4h1.2v1.1h-1.2zM91.5 87.2h1.2v1.1h-1.2zM101.4 118.0h1.2v1.1h-1.2zM109.0 107.2h1.2v1.1h-1.2zM113.8 118.8h1.2v1.1h-1.2zM114.7 117.1h1.2v1.1h-1.2zM102.6 118.7h1.2v1.1h-1.2zM98.9 94.3h1.2v1.1h-1.2zM101.0 134.0h1.2v1.1h-1.2zM116.4 130.1h1.2v1.1h-1.2zM98.4 95.2h1.2v1.1h-1.2zM111.5 124.2h1.2v1.1h-1.2zM77.4 86.7h1.2v1.1h-1.2zM107.3 116.0h1.2v1.1h-1.2zM79.9 86.8h1.2v1.1h-1.2zM117.4 124.6h1.2v1.1h-1.2zM101.1 105.8h1.2v1.1h-1.2zM77.6 133.4h1.2v1.1h-1.2zM112.8 115.0h1.2v1.1h-1.2zM110.7 116.2h1.2v1.1h-1.2zM73.8 90.2h1.2v1.1h-1.2zM93.5 88.7h1.2v1.1h-1.2zM107.8 103.2h1.2v1.1h-1.2zM116.3 121.1h1.2v1.1h-1.2zM107.3 96.0h1.2v1.1h-1.2zM102.3 108.1h1.2v1.1h-1.2zM90.2 101.3h1.2v1.1h-1.2zM97.8 109.6h1.2v1.1h-1.2zM109.1 113.1h1.2v1.1h-1.2zM111.8 104.1h1.2v1.1h-1.2zM114.9 121.3h1.2v1.1h-1.2zM111.9 129.1h1.2v1.1h-1.2zM110.5 130.7h1.2v1.1h-1.2zM113.5 112.4h1.2v1.1h-1.2zM98.7 94.0h1.2v1.1h-1.2zM55.8 89.4h1.2v1.1h-1.2zM85.3 87.2h1.2v1.1h-1.2zM111.2 113.3h1.2v1.1h-1.2zM111.8 93.6h1.2v1.1h-1.2zM106.1 91.1h1.2v1.1h-1.2zM109.0 104.0h1.2v1.1h-1.2zM101.1 105.4h1.2v1.1h-1.2zM115.9 113.0h1.2v1.1h-1.2zM107.2 86.8h1.2v1.1h-1.2zM89.1 86.7h1.2v1.1h-1.2zM88.6 104.1h1.2v1.1h-1.2zM91.5 100.5h1.2v1.1h-1.2zM94.6 86.7h1.2v1.1h-1.2zM98.2 93.3h1.2v1.1h-1.2zM108.5 115.8h1.2v1.1h-1.2zM99.2 100.5h1.2v1.1h-1.2zM106.6 94.1h1.2v1.1h-1.2zM107.0 106.4h1.2v1.1h-1.2zM115.1 112.5h1.2v1.1h-1.2zM111.4 114.4h1.2v1.1h-1.2zM90.6 104.3h1.2v1.1h-1.2zM111.8 126.2h1.2v1.1h-1.2zM84.1 89.4h1.2v1.1h-1.2zM113.3 107.9h1.2v1.1h-1.2zM99.5 86.7h1.2v1.1h-1.2zM108.1 87.8h1.2v1.1h-1.2zM81.7 108.5h1.2v1.1h-1.2zM78.7 87.2h1.2v1.1h-1.2zM82.9 90.8h1.2v1.1h-1.2zM96.5 86.9h1.2v1.1h-1.2zM89.2 102.5h1.2v1.1h-1.2zM107.8 100.1h1.2v1.1h-1.2zM102.9 106.5h1.2v1.1h-1.2zM117.8 130.1h1.2v1.1h-1.2zM100.8 87.3h1.2v1.1h-1.2zM96.4 116.5h1.2v1.1h-1.2zM98.4 87.2h1.2v1.1h-1.2zM105.7 103.2h1.2v1.1h-1.2zM104.4 110.0h1.2v1.1h-1.2zM111.5 103.4h1.2v1.1h-1.2zM112.6 127.8h1.2v1.1h-1.2zM105.9 94.6h1.2v1.1h-1.2zM99.7 91.6h1.2v1.1h-1.2zM111.7 122.2h1.2v1.1h-1.2zM88.3 105.2h1.2v1.1h-1.2zM98.3 86.9h1.2v1.1h-1.2zM114.8 123.4h1.2v1.1h-1.2zM103.0 86.7h1.2v1.1h-1.2zM95.0 97.3h1.2v1.1h-1.2zM107.4 103.2h1.2v1.1h-1.2zM92.5 86.9h1.2v1.1h-1.2zM113.4 111.0h1.2v1.1h-1.2zM100.2 91.9h1.2v1.1h-1.2zM109.8 123.8h1.2v1.1h-1.2zM108.6 100.8h1.2v1.1h-1.2zM98.2 101.9h1.2v1.1h-1.2zM113.5 124.4h1.2v1.1h-1.2zM107.7 103.6h1.2v1.1h-1.2zM114.3 107.5h1.2v1.1h-1.2zM108.1 90.6h1.2v1.1h-1.2zM110.9 122.4h1.2v1.1h-1.2zM112.1 120.5h1.2v1.1h-1.2zM107.2 108.2h1.2v1.1h-1.2zM104.4 86.8h1.2v1.1h-1.2zM113.0 103.8h1.2v1.1h-1.2zM81.6 87.8h1.2v1.1h-1.2zM80.1 90.0h1.2v1.1h-1.2zM101.3 97.2h1.2v1.1h-1.2zM102.8 87.5h1.2v1.1h-1.2zM109.4 90.4h1.2v1.1h-1.2zM103.8 87.1h1.2v1.1h-1.2zM106.1 87.6h1.2v1.1h-1.2zM113.0 114.4h1.2v1.1h-1.2zM109.0 112.8h1.2v1.1h-1.2zM113.9 118.8h1.2v1.1h-1.2zM103.8 87.2h1.2v1.1h-1.2zM101.8 86.8h1.2v1.1h-1.2zM88.7 114.4h1.2v1.1h-1.2zM103.9 111.5h1.2v1.1h-1.2zM110.3 94.1h1.2v1.1h-1.2zM99.2 86.7h1.2v1.1h-1.2zM103.2 124.8h1.2v1.1h-1.2zM115.7 113.5h1.2v1.1h-1.2zM99.4 87.1h1.2v1.1h-1.2zM114.0 127.6h1.2v1.1h-1.2zM76.0 87.0h1.2v1.1h-1.2zM93.5 102.1h1.2v1.1h-1.2zM105.8 86.8h1.2v1.1h-1.2zM111.6 109.0h1.2v1.1h-1.2zM113.5 104.4h1.2v1.1h-1.2zM109.9 96.9h1.2v1.1h-1.2zM113.6 116.8h1.2v1.1h-1.2zM103.8 97.4h1.2v1.1h-1.2zM107.2 113.7h1.2v1.1h-1.2zM113.1 121.9h1.2v1.1h-1.2zM103.3 113.9h1.2v1.1h-1.2zM108.4 93.8h1.2v1.1h-1.2zM116.8 119.0h1.2v1.1h-1.2zM109.8 108.0h1.2v1.1h-1.2zM102.4 89.7h1.2v1.1h-1.2zM109.1 95.7h1.2v1.1h-1.2zM111.0 98.7h1.2v1.1h-1.2zM111.0 109.7h1.2v1.1h-1.2zM110.8 132.4h1.2v1.1h-1.2zM109.5 97.8h1.2v1.1h-1.2zM102.3 86.9h1.2v1.1h-1.2zM114.1 112.4h1.2v1.1h-1.2zM113.1 99.2h1.2v1.1h-1.2zM107.5 87.1h1.2v1.1h-1.2zM108.7 96.3h1.2v1.1h-1.2zM109.7 125.0h1.2v1.1h-1.2zM103.0 93.7h1.2v1.1h-1.2zM111.6 99.0h1.2v1.1h-1.2zM111.1 108.4h1.2v1.1h-1.2zM113.5 128.4h1.2v1.1h-1.2zM108.2 120.3h1.2v1.1h-1.2zM108.6 118.8h1.2v1.1h-1.2zM91.1 88.3h1.2v1.1h-1.2zM116.7 129.7h1.2v1.1h-1.2zM105.3 87.4h1.2v1.1h-1.2zM107.9 87.8h1.2v1.1h-1.2zM105.8 107.1h1.2v1.1h-1.2zM96.9 95.0h1.2v1.1h-1.2zM104.8 86.7h1.2v1.1h-1.2zM98.5 101.1h1.2v1.1h-1.2zM114.2 132.2h1.2v1.1h-1.2zM113.8 125.7h1.2v1.1h-1.2zM103.8 124.3h1.2v1.1h-1.2zM102.9 98.3h1.2v1.1h-1.2zM118.0 128.9h1.2v1.1h-1.2zM106.7 111.9h1.2v1.1h-1.2zM111.2 120.3h1.2v1.1h-1.2zM115.3 133.3h1.2v1.1h-1.2zM104.8 86.9h1.2v1.1h-1.2zM108.9 134.4h1.2v1.1h-1.2zM106.0 86.7h1.2v1.1h-1.2zM104.6 93.7h1.2v1.1h-1.2zM109.2 114.0h1.2v1.1h-1.2zM106.3 103.1h1.2v1.1h-1.2zM108.9 89.2h1.2v1.1h-1.2zM116.9 123.6h1.2v1.1h-1.2zM108.4 107.0h1.2v1.1h-1.2zM69.8 87.0h1.2v1.1h-1.2zM98.1 97.4h1.2v1.1h-1.2zM115.0 115.8h1.2v1.1h-1.2zM116.3 130.7h1.2v1.1h-1.2zM58.6 107.1h1.2v1.1h-1.2zM98.4 87.7h1.2v1.1h-1.2zM112.9 102.0h1.2v1.1h-1.2zM111.1 125.0h1.2v1.1h-1.2zM114.7 106.0h1.2v1.1h-1.2zM115.0 107.7h1.2v1.1h-1.2zM106.8 86.8h1.2v1.1h-1.2zM114.6 126.3h1.2v1.1h-1.2zM103.4 96.9h1.2v1.1h-1.2zM88.4 96.0h1.2v1.1h-1.2zM88.3 89.8h1.2v1.1h-1.2zM110.6 104.7h1.2v1.1h-1.2zM112.4 97.7h1.2v1.1h-1.2zM106.3 127.5h1.2v1.1h-1.2zM98.5 114.0h1.2v1.1h-1.2zM114.6 118.7h1.2v1.1h-1.2zM101.2 122.3h1.2v1.1h-1.2zM112.1 109.6h1.2v1.1h-1.2zM59.5 98.2h1.2v1.1h-1.2zM92.7 90.1h1.2v1.1h-1.2zM96.6 92.7h1.2v1.1h-1.2zM113.2 102.8h1.2v1.1h-1.2zM99.9 86.8h1.2v1.1h-1.2zM103.6 87.8h1.2v1.1h-1.2zM111.1 110.1h1.2v1.1h-1.2zM114.7 115.5h1.2v1.1h-1.2zM76.4 123.4h1.2v1.1h-1.2zM99.0 89.8h1.2v1.1h-1.2zM98.0 120.1h1.2v1.1h-1.2zM116.0 120.7h1.2v1.1h-1.2zM95.0 87.2h1.2v1.1h-1.2zM111.7 104.7h1.2v1.1h-1.2zM110.5 109.1h1.2v1.1h-1.2zM99.7 119.0h1.2v1.1h-1.2zM102.1 93.2h1.2v1.1h-1.2zM107.2 102.8h1.2v1.1h-1.2zM106.1 107.4h1.2v1.1h-1.2zM70.1 87.1h1.2v1.1h-1.2zM103.1 108.0h1.2v1.1h-1.2zM108.8 134.5h1.2v1.1h-1.2zM88.5 98.8h1.2v1.1h-1.2zM114.5 121.1h1.2v1.1h-1.2zM116.4 127.2h1.2v1.1h-1.2zM112.1 99.5h1.2v1.1h-1.2zM118.1 129.0h1.2v1.1h-1.2zM96.3 106.7h1.2v1.1h-1.2zM112.2 103.4h1.2v1.1h-1.2zM112.3 101.7h1.2v1.1h-1.2zM113.6 102.7h1.2v1.1h-1.2zM105.4 86.9h1.2v1.1h-1.2zM108.1 101.2h1.2v1.1h-1.2zM89.9 86.9h1.2v1.1h-1.2zM94.9 87.2h1.2v1.1h-1.2zM101.1 86.9h1.2v1.1h-1.2zM103.9 87.8h1.2v1.1h-1.2zM108.9 127.4h1.2v1.1h-1.2zM101.5 86.7h1.2v1.1h-1.2zM99.3 99.1h1.2v1.1h-1.2zM105.3 93.6h1.2v1.1h-1.2zM109.7 110.2h1.2v1.1h-1.2zM103.1 99.1h1.2v1.1h-1.2zM107.1 99.2h1.2v1.1h-1.2zM113.6 120.9h1.2v1.1h-1.2zM111.8 111.2h1.2v1.1h-1.2zM105.2 114.8h1.2v1.1h-1.2zM91.7 96.4h1.2v1.1h-1.2zM97.7 87.3h1.2v1.1h-1.2zM116.4 128.1h1.2v1.1h-1.2zM107.9 92.2h1.2v1.1h-1.2zM113.8 133.3h1.2v1.1h-1.2zM111.0 103.2h1.2v1.1h-1.2zM98.5 111.4h1.2v1.1h-1.2zM86.0 91.6h1.2v1.1h-1.2zM104.9 107.5h1.2v1.1h-1.2zM107.3 87.1h1.2v1.1h-1.2zM101.5 108.6h1.2v1.1h-1.2zM111.3 112.2h1.2v1.1h-1.2zM105.7 91.9h1.2v1.1h-1.2zM98.7 92.9h1.2v1.1h-1.2zM112.1 134.3h1.2v1.1h-1.2zM98.5 86.9h1.2v1.1h-1.2zM111.6 114.2h1.2v1.1h-1.2zM105.1 116.1h1.2v1.1h-1.2zM116.0 119.3h1.2v1.1h-1.2zM107.0 109.3h1.2v1.1h-1.2zM114.3 121.1h1.2v1.1h-1.2zM111.0 106.8h1.2v1.1h-1.2zM111.3 99.8h1.2v1.1h-1.2zM113.2 118.6h1.2v1.1h-1.2zM111.1 104.4h1.2v1.1h-1.2zM110.5 117.1h1.2v1.1h-1.2zM112.4 99.3h1.2v1.1h-1.2zM104.9 94.3h1.2v1.1h-1.2zM116.5 123.6h1.2v1.1h-1.2zM105.1 106.1h1.2v1.1h-1.2zM107.5 110.6h1.2v1.1h-1.2zM102.3 99.8h1.2v1.1h-1.2zM99.7 110.2h1.2v1.1h-1.2zM88.5 86.9h1.2v1.1h-1.2zM112.4 129.0h1.2v1.1h-1.2zM114.3 106.8h1.2v1.1h-1.2zM94.9 93.8h1.2v1.1h-1.2zM114.2 105.1h1.2v1.1h-1.2zM109.8 103.3h1.2v1.1h-1.2zM103.2 103.9h1.2v1.1h-1.2zM108.7 123.1h1.2v1.1h-1.2zM70.2 87.1h1.2v1.1h-1.2zM105.6 90.6h1.2v1.1h-1.2zM110.4 111.9h1.2v1.1h-1.2zM99.7 90.6h1.2v1.1h-1.2zM105.7 100.3h1.2v1.1h-1.2zM109.6 134.9h1.2v1.1h-1.2zM114.2 125.0h1.2v1.1h-1.2zM116.8 120.5h1.2v1.1h-1.2zM92.0 86.7h1.2v1.1h-1.2zM109.4 133.6h1.2v1.1h-1.2zM114.3 106.6h1.2v1.1h-1.2zM112.4 132.4h1.2v1.1h-1.2zM115.1 111.2h1.2v1.1h-1.2zM103.5 93.0h1.2v1.1h-1.2zM101.0 109.3h1.2v1.1h-1.2zM104.7 102.5h1.2v1.1h-1.2zM108.5 122.4h1.2v1.1h-1.2zM108.2 107.0h1.2v1.1h-1.2zM107.4 117.7h1.2v1.1h-1.2zM93.0 121.9h1.2v1.1h-1.2zM87.0 87.2h1.2v1.1h-1.2zM114.2 135.8h1.2v1.1h-1.2zM108.5 90.7h1.2v1.1h-1.2zM90.1 86.9h1.2v1.1h-1.2zM109.6 101.6h1.2v1.1h-1.2zM70.3 87.1h1.2v1.1h-1.2zM113.8 123.8h1.2v1.1h-1.2zM119.2 135.7h1.2v1.1h-1.2zM102.5 116.0h1.2v1.1h-1.2zM104.2 113.3h1.2v1.1h-1.2zM111.5 110.3h1.2v1.1h-1.2zM94.9 91.6h1.2v1.1h-1.2zM115.6 116.1h1.2v1.1h-1.2zM117.1 134.0h1.2v1.1h-1.2zM114.5 122.5h1.2v1.1h-1.2zM114.8 136.5h1.2v1.1h-1.2zM92.2 87.2h1.2v1.1h-1.2zM104.0 114.1h1.2v1.1h-1.2zM96.8 115.0h1.2v1.1h-1.2zM111.4 112.2h1.2v1.1h-1.2zM92.8 87.0h1.2v1.1h-1.2zM107.4 92.4h1.2v1.1h-1.2zM107.4 107.5h1.2v1.1h-1.2zM107.0 97.5h1.2v1.1h-1.2zM92.8 86.8h1.2v1.1h-1.2zM113.6 106.1h1.2v1.1h-1.2zM95.4 97.0h1.2v1.1h-1.2zM107.3 107.8h1.2v1.1h-1.2zM112.3 107.1h1.2v1.1h-1.2zM109.3 93.6h1.2v1.1h-1.2zM113.7 117.2h1.2v1.1h-1.2zM115.3 125.3h1.2v1.1h-1.2zM109.7 97.7h1.2v1.1h-1.2zM99.9 95.8h1.2v1.1h-1.2zM107.4 116.6h1.2v1.1h-1.2zM88.9 86.8h1.2v1.1h-1.2zM93.5 112.2h1.2v1.1h-1.2zM94.2 90.6h1.2v1.1h-1.2zM90.9 111.4h1.2v1.1h-1.2zM106.5 92.7h1.2v1.1h-1.2zM110.7 107.8h1.2v1.1h-1.2zM102.3 125.0h1.2v1.1h-1.2zM103.7 109.4h1.2v1.1h-1.2zM113.4 136.7h1.2v1.1h-1.2zM112.2 102.6h1.2v1.1h-1.2zM94.7 87.1h1.2v1.1h-1.2zM111.2 106.4h1.2v1.1h-1.2zM104.8 90.5h1.2v1.1h-1.2zM111.8 113.9h1.2v1.1h-1.2zM109.4 102.4h1.2v1.1h-1.2zM114.7 115.7h1.2v1.1h-1.2zM112.4 96.4h1.2v1.1h-1.2zM102.2 87.0h1.2v1.1h-1.2zM87.7 91.5h1.2v1.1h-1.2zM105.2 97.1h1.2v1.1h-1.2zM87.7 88.2h1.2v1.1h-1.2zM110.9 92.9h1.2v1.1h-1.2zM118.0 135.2h1.2v1.1h-1.2zM110.0 102.8h1.2v1.1h-1.2zM105.6 95.1h1.2v1.1h-1.2zM98.0 93.0h1.2v1.1h-1.2zM98.5 101.3h1.2v1.1h-1.2zM107.8 93.5h1.2v1.1h-1.2zM103.5 125.6h1.2v1.1h-1.2zM111.2 125.4h1.2v1.1h-1.2zM109.9 99.6h1.2v1.1h-1.2zM90.7 92.8h1.2v1.1h-1.2zM112.2 115.8h1.2v1.1h-1.2zM99.0 116.4h1.2v1.1h-1.2zM105.6 111.0h1.2v1.1h-1.2zM111.2 118.4h1.2v1.1h-1.2zM116.0 125.9h1.2v1.1h-1.2zM111.2 99.5h1.2v1.1h-1.2zM88.9 100.7h1.2v1.1h-1.2zM114.6 122.5h1.2v1.1h-1.2zM112.9 129.2h1.2v1.1h-1.2zM101.4 112.8h1.2v1.1h-1.2zM110.4 122.8h1.2v1.1h-1.2zM99.9 88.0h1.2v1.1h-1.2zM111.7 108.3h1.2v1.1h-1.2zM84.6 111.8h1.2v1.1h-1.2zM115.9 121.1h1.2v1.1h-1.2zM114.3 134.4h1.2v1.1h-1.2zM106.5 96.0h1.2v1.1h-1.2zM115.5 118.4h1.2v1.1h-1.2zM73.4 86.8h1.2v1.1h-1.2zM105.7 91.3h1.2v1.1h-1.2zM70.5 87.2h1.2v1.1h-1.2zM103.7 104.5h1.2v1.1h-1.2zM98.5 117.6h1.2v1.1h-1.2zM107.5 117.6h1.2v1.1h-1.2zM94.4 93.6h1.2v1.1h-1.2zM103.7 89.6h1.2v1.1h-1.2zM116.4 126.6h1.2v1.1h-1.2zM86.8 101.7h1.2v1.1h-1.2zM98.1 86.9h1.2v1.1h-1.2zM105.8 93.5h1.2v1.1h-1.2zM101.4 112.8h1.2v1.1h-1.2zM113.8 121.8h1.2v1.1h-1.2zM112.5 111.7h1.2v1.1h-1.2zM111.8 119.7h1.2v1.1h-1.2zM104.2 93.0h1.2v1.1h-1.2zM115.2 127.9h1.2v1.1h-1.2zM105.4 106.8h1.2v1.1h-1.2zM113.7 108.5h1.2v1.1h-1.2zM115.9 121.2h1.2v1.1h-1.2zM115.8 118.2h1.2v1.1h-1.2zM110.8 105.4h1.2v1.1h-1.2zM102.3 104.5h1.2v1.1h-1.2zM112.9 124.7h1.2v1.1h-1.2zM106.5 88.6h1.2v1.1h-1.2zM104.9 87.4h1.2v1.1h-1.2zM108.0 101.7h1.2v1.1h-1.2zM102.4 94.9h1.2v1.1h-1.2zM78.9 94.7h1.2v1.1h-1.2zM113.5 120.5h1.2v1.1h-1.2zM115.3 119.9h1.2v1.1h-1.2zM109.9 95.6h1.2v1.1h-1.2zM102.2 106.3h1.2v1.1h-1.2zM71.0 88.8h1.2v1.1h-1.2zM106.4 123.1h1.2v1.1h-1.2zM111.9 107.2h1.2v1.1h-1.2zM101.0 92.4h1.2v1.1h-1.2zM113.4 111.2h1.2v1.1h-1.2zM106.1 105.2h1.2v1.1h-1.2zM106.1 103.1h1.2v1.1h-1.2zM112.8 132.7h1.2v1.1h-1.2zM115.4 121.6h1.2v1.1h-1.2zM96.0 102.6h1.2v1.1h-1.2zM85.9 100.9h1.2v1.1h-1.2zM101.9 113.1h1.2v1.1h-1.2zM109.2 88.9h1.2v1.1h-1.2zM82.8 87.0h1.2v1.1h-1.2zM94.9 90.2h1.2v1.1h-1.2zM111.4 112.3h1.2v1.1h-1.2zM108.3 91.6h1.2v1.1h-1.2zM79.3 98.8h1.2v1.1h-1.2zM105.2 88.9h1.2v1.1h-1.2zM82.5 117.4h1.2v1.1h-1.2zM102.6 102.0h1.2v1.1h-1.2zM110.1 117.8h1.2v1.1h-1.2zM116.0 132.9h1.2v1.1h-1.2zM97.7 90.2h1.2v1.1h-1.2zM104.8 88.0h1.2v1.1h-1.2zM88.6 86.8h1.2v1.1h-1.2zM114.3 128.3h1.2v1.1h-1.2zM99.1 88.3h1.2v1.1h-1.2zM81.2 86.8h1.2v1.1h-1.2zM101.9 87.4h1.2v1.1h-1.2zM117.1 123.5h1.2v1.1h-1.2zM100.6 87.0h1.2v1.1h-1.2zM102.7 87.1h1.2v1.1h-1.2zM103.6 89.4h1.2v1.1h-1.2zM105.4 92.7h1.2v1.1h-1.2zM107.1 94.3h1.2v1.1h-1.2zM111.8 118.5h1.2v1.1h-1.2zM102.7 104.9h1.2v1.1h-1.2zM100.6 112.7h1.2v1.1h-1.2zM101.1 87.7h1.2v1.1h-1.2zM98.1 93.3h1.2v1.1h-1.2zM112.3 111.5h1.2v1.1h-1.2zM110.4 117.8h1.2v1.1h-1.2zM115.2 123.6h1.2v1.1h-1.2zM108.6 96.2h1.2v1.1h-1.2zM111.1 104.3h1.2v1.1h-1.2zM75.7 87.0h1.2v1.1h-1.2zM106.7 87.0h1.2v1.1h-1.2zM113.1 123.1h1.2v1.1h-1.2zM108.1 95.6h1.2v1.1h-1.2zM116.3 131.2h1.2v1.1h-1.2zM114.4 124.0h1.2v1.1h-1.2zM112.8 119.0h1.2v1.1h-1.2zM111.2 113.3h1.2v1.1h-1.2zM107.9 97.5h1.2v1.1h-1.2zM111.0 115.6h1.2v1.1h-1.2zM111.1 111.2h1.2v1.1h-1.2zM87.0 87.6h1.2v1.1h-1.2zM114.7 119.5h1.2v1.1h-1.2zM96.5 108.1h1.2v1.1h-1.2zM111.1 111.1h1.2v1.1h-1.2zM111.2 125.4h1.2v1.1h-1.2zM90.8 89.2h1.2v1.1h-1.2zM116.2 119.4h1.2v1.1h-1.2zM99.4 117.7h1.2v1.1h-1.2zM107.2 89.9h1.2v1.1h-1.2zM112.4 96.5h1.2v1.1h-1.2zM105.4 102.7h1.2v1.1h-1.2zM105.5 113.9h1.2v1.1h-1.2zM86.6 86.7h1.2v1.1h-1.2zM90.1 96.6h1.2v1.1h-1.2zM104.5 92.0h1.2v1.1h-1.2zM99.3 95.8h1.2v1.1h-1.2zM101.8 92.9h1.2v1.1h-1.2zM103.3 87.3h1.2v1.1h-1.2zM99.6 87.1h1.2v1.1h-1.2zM105.5 95.0h1.2v1.1h-1.2zM100.2 87.3h1.2v1.1h-1.2zM105.5 92.4h1.2v1.1h-1.2zM116.6 125.0h1.2v1.1h-1.2zM90.2 94.1h1.2v1.1h-1.2zM107.4 113.3h1.2v1.1h-1.2zM103.5 88.4h1.2v1.1h-1.2zM101.1 115.2h1.2v1.1h-1.2zM83.5 87.3h1.2v1.1h-1.2zM102.1 88.2h1.2v1.1h-1.2zM106.9 107.4h1.2v1.1h-1.2zM111.9 99.9h1.2v1.1h-1.2zM110.5 92.8h1.2v1.1h-1.2zM92.8 97.2h1.2v1.1h-1.2zM115.8 123.1h1.2v1.1h-1.2zM105.8 88.5h1.2v1.1h-1.2zM114.2 124.8h1.2v1.1h-1.2zM110.8 114.7h1.2v1.1h-1.2zM113.9 123.1h1.2v1.1h-1.2zM98.4 91.6h1.2v1.1h-1.2zM97.8 98.6h1.2v1.1h-1.2zM109.2 101.3h1.2v1.1h-1.2zM111.5 112.9h1.2v1.1h-1.2zM105.6 106.0h1.2v1.1h-1.2zM113.4 106.9h1.2v1.1h-1.2zM95.1 122.2h1.2v1.1h-1.2zM113.9 104.9h1.2v1.1h-1.2zM109.6 114.6h1.2v1.1h-1.2zM110.8 106.8h1.2v1.1h-1.2zM101.5 115.0h1.2v1.1h-1.2zM104.7 101.2h1.2v1.1h-1.2zM100.8 88.2h1.2v1.1h-1.2zM115.7 112.7h1.2v1.1h-1.2zM107.8 99.8h1.2v1.1h-1.2zM98.6 91.3h1.2v1.1h-1.2zM88.5 87.0h1.2v1.1h-1.2zM95.8 112.6h1.2v1.1h-1.2zM103.7 126.5h1.2v1.1h-1.2zM106.2 86.9h1.2v1.1h-1.2zM111.3 105.3h1.2v1.1h-1.2zM92.2 93.6h1.2v1.1h-1.2zM112.4 107.3h1.2v1.1h-1.2zM83.5 107.5h1.2v1.1h-1.2zM95.6 96.5h1.2v1.1h-1.2zM97.1 86.8h1.2v1.1h-1.2zM106.7 124.6h1.2v1.1h-1.2zM102.5 113.1h1.2v1.1h-1.2zM111.2 106.5h1.2v1.1h-1.2zM95.4 86.8h1.2v1.1h-1.2zM111.9 120.9h1.2v1.1h-1.2zM104.0 134.3h1.2v1.1h-1.2zM106.5 97.4h1.2v1.1h-1.2zM116.9 120.1h1.2v1.1h-1.2zM103.1 100.2h1.2v1.1h-1.2zM110.3 120.9h1.2v1.1h-1.2zM113.8 127.4h1.2v1.1h-1.2zM117.1 130.5h1.2v1.1h-1.2zM111.5 128.0h1.2v1.1h-1.2zM104.3 99.3h1.2v1.1h-1.2zM106.7 105.8h1.2v1.1h-1.2zM114.1 110.8h1.2v1.1h-1.2zM108.7 102.0h1.2v1.1h-1.2zM98.0 103.2h1.2v1.1h-1.2zM105.4 86.7h1.2v1.1h-1.2zM114.6 113.0h1.2v1.1h-1.2zM105.8 86.7h1.2v1.1h-1.2zM99.2 94.3h1.2v1.1h-1.2zM110.4 93.4h1.2v1.1h-1.2zM90.4 92.6h1.2v1.1h-1.2zM110.7 107.5h1.2v1.1h-1.2zM108.4 93.2h1.2v1.1h-1.2zM90.5 99.0h1.2v1.1h-1.2zM116.1 131.6h1.2v1.1h-1.2zM109.4 115.6h1.2v1.1h-1.2zM111.9 97.7h1.2v1.1h-1.2zM92.3 88.3h1.2v1.1h-1.2zM105.4 86.7h1.2v1.1h-1.2zM103.8 119.9h1.2v1.1h-1.2zM84.3 94.0h1.2v1.1h-1.2zM101.1 109.0h1.2v1.1h-1.2zM115.1 124.1h1.2v1.1h-1.2zM111.1 92.1h1.2v1.1h-1.2zM96.8 87.0h1.2v1.1h-1.2zM110.4 108.9h1.2v1.1h-1.2zM107.7 97.5h1.2v1.1h-1.2zM115.5 112.0h1.2v1.1h-1.2zM110.7 102.9h1.2v1.1h-1.2zM84.8 113.2h1.2v1.1h-1.2zM113.5 106.1h1.2v1.1h-1.2zM106.7 100.2h1.2v1.1h-1.2zM101.5 86.9h1.2v1.1h-1.2zM100.6 104.8h1.2v1.1h-1.2zM109.5 90.3h1.2v1.1h-1.2zM114.8 134.2h1.2v1.1h-1.2zM98.0 87.2h1.2v1.1h-1.2zM106.6 112.0h1.2v1.1h-1.2zM80.8 87.0h1.2v1.1h-1.2zM85.5 102.3h1.2v1.1h-1.2zM115.1 117.5h1.2v1.1h-1.2zM113.2 130.4h1.2v1.1h-1.2zM104.5 128.0h1.2v1.1h-1.2zM112.0 108.5h1.2v1.1h-1.2zM101.9 116.6h1.2v1.1h-1.2zM113.5 115.4h1.2v1.1h-1.2zM90.5 86.8h1.2v1.1h-1.2zM108.5 92.4h1.2v1.1h-1.2zM109.0 106.7h1.2v1.1h-1.2zM90.9 96.4h1.2v1.1h-1.2zM78.5 87.6h1.2v1.1h-1.2zM111.1 114.7h1.2v1.1h-1.2zM113.1 125.3h1.2v1.1h-1.2zM116.8 118.9h1.2v1.1h-1.2zM115.3 112.0h1.2v1.1h-1.2zM96.0 87.3h1.2v1.1h-1.2zM111.9 112.1h1.2v1.1h-1.2zM117.2 121.2h1.2v1.1h-1.2zM90.9 87.2h1.2v1.1h-1.2zM102.1 98.7h1.2v1.1h-1.2zM97.6 97.3h1.2v1.1h-1.2zM103.9 90.1h1.2v1.1h-1.2zM103.2 113.2h1.2v1.1h-1.2zM106.9 132.9h1.2v1.1h-1.2zM113.1 110.2h1.2v1.1h-1.2zM97.1 86.8h1.2v1.1h-1.2zM111.6 96.3h1.2v1.1h-1.2zM101.6 114.7h1.2v1.1h-1.2zM101.0 91.9h1.2v1.1h-1.2zM113.7 110.7h1.2v1.1h-1.2zM109.7 99.8h1.2v1.1h-1.2zM111.8 116.4h1.2v1.1h-1.2zM83.8 86.9h1.2v1.1h-1.2zM106.6 111.6h1.2v1.1h-1.2zM113.2 122.8h1.2v1.1h-1.2zM107.4 96.9h1.2v1.1h-1.2zM111.0 99.1h1.2v1.1h-1.2zM110.8 107.1h1.2v1.1h-1.2zM92.3 87.1h1.2v1.1h-1.2zM117.2 126.9h1.2v1.1h-1.2zM86.0 86.7h1.2v1.1h-1.2zM116.2 119.7h1.2v1.1h-1.2zM106.3 106.8h1.2v1.1h-1.2zM110.7 112.5h1.2v1.1h-1.2zM110.0 94.0h1.2v1.1h-1.2zM105.7 87.6h1.2v1.1h-1.2zM104.7 111.8h1.2v1.1h-1.2zM103.7 93.2h1.2v1.1h-1.2zM96.8 91.4h1.2v1.1h-1.2zM103.3 87.2h1.2v1.1h-1.2zM113.1 102.4h1.2v1.1h-1.2zM108.3 121.4h1.2v1.1h-1.2zM102.6 86.9h1.2v1.1h-1.2zM107.1 92.8h1.2v1.1h-1.2zM92.7 88.1h1.2v1.1h-1.2zM114.5 111.7h1.2v1.1h-1.2zM110.2 116.2h1.2v1.1h-1.2zM106.4 106.9h1.2v1.1h-1.2zM98.7 86.9h1.2v1.1h-1.2zM96.4 110.8h1.2v1.1h-1.2zM115.4 123.7h1.2v1.1h-1.2zM106.2 134.4h1.2v1.1h-1.2zM112.1 95.0h1.2v1.1h-1.2zM113.6 118.3h1.2v1.1h-1.2zM94.3 88.7h1.2v1.1h-1.2zM105.1 95.3h1.2v1.1h-1.2zM108.2 132.6h1.2v1.1h-1.2zM69.1 86.7h1.2v1.1h-1.2zM98.3 105.0h1.2v1.1h-1.2zM99.2 87.0h1.2v1.1h-1.2zM112.1 110.9h1.2v1.1h-1.2zM110.7 95.6h1.2v1.1h-1.2zM114.8 118.7h1.2v1.1h-1.2zM91.9 91.1h1.2v1.1h-1.2zM112.4 103.3h1.2v1.1h-1.2zM88.8 108.9h1.2v1.1h-1.2zM111.6 130.1h1.2v1.1h-1.2zM107.5 109.0h1.2v1.1h-1.2zM103.3 97.8h1.2v1.1h-1.2zM110.4 96.8h1.2v1.1h-1.2zM108.2 118.7h1.2v1.1h-1.2zM115.1 111.9h1.2v1.1h-1.2zM107.5 118.8h1.2v1.1h-1.2zM114.3 119.2h1.2v1.1h-1.2zM98.2 86.8h1.2v1.1h-1.2zM78.3 89.9h1.2v1.1h-1.2zM117.8 132.2h1.2v1.1h-1.2zM110.9 115.2h1.2v1.1h-1.2zM110.3 98.3h1.2v1.1h-1.2zM103.0 90.8h1.2v1.1h-1.2zM100.7 87.2h1.2v1.1h-1.2zM106.4 111.0h1.2v1.1h-1.2zM113.8 135.6h1.2v1.1h-1.2zM106.5 92.2h1.2v1.1h-1.2zM108.2 136.9h1.2v1.1h-1.2zM113.8 121.9h1.2v1.1h-1.2zM104.4 103.7h1.2v1.1h-1.2zM107.3 126.8h1.2v1.1h-1.2zM112.9 101.3h1.2v1.1h-1.2zM96.2 117.8h1.2v1.1h-1.2zM104.9 87.6h1.2v1.1h-1.2zM89.9 113.1h1.2v1.1h-1.2zM112.0 114.8h1.2v1.1h-1.2zM95.4 104.2h1.2v1.1h-1.2zM113.8 119.3h1.2v1.1h-1.2zM109.1 97.1h1.2v1.1h-1.2zM107.3 92.8h1.2v1.1h-1.2zM100.9 87.4h1.2v1.1h-1.2zM100.9 101.8h1.2v1.1h-1.2zM102.6 101.3h1.2v1.1h-1.2zM112.4 118.6h1.2v1.1h-1.2zM106.0 133.1h1.2v1.1h-1.2zM111.8 116.5h1.2v1.1h-1.2zM106.6 111.8h1.2v1.1h-1.2zM79.2 87.3h1.2v1.1h-1.2zM114.7 112.5h1.2v1.1h-1.2zM106.0 97.7h1.2v1.1h-1.2zM99.3 90.3h1.2v1.1h-1.2zM106.1 103.9h1.2v1.1h-1.2zM91.6 86.8h1.2v1.1h-1.2zM107.0 133.4h1.2v1.1h-1.2zM110.1 117.9h1.2v1.1h-1.2zM45.3 108.6h1.2v1.1h-1.2zM83.2 87.2h1.2v1.1h-1.2zM106.8 116.5h1.2v1.1h-1.2zM98.3 89.0h1.2v1.1h-1.2zM108.7 108.4h1.2v1.1h-1.2zM87.3 92.0h1.2v1.1h-1.2zM91.5 87.7h1.2v1.1h-1.2zM102.3 102.9h1.2v1.1h-1.2zM99.7 87.6h1.2v1.1h-1.2zM97.4 93.7h1.2v1.1h-1.2zM99.1 101.4h1.2v1.1h-1.2zM106.7 87.5h1.2v1.1h-1.2zM63.6 134.2h1.2v1.1h-1.2zM113.4 126.9h1.2v1.1h-1.2zM112.7 113.3h1.2v1.1h-1.2zM105.1 99.7h1.2v1.1h-1.2zM94.2 87.1h1.2v1.1h-1.2zM107.2 95.9h1.2v1.1h-1.2zM106.9 100.2h1.2v1.1h-1.2zM98.7 88.1h1.2v1.1h-1.2zM110.8 93.4h1.2v1.1h-1.2zM117.1 133.8h1.2v1.1h-1.2zM106.9 90.1h1.2v1.1h-1.2zM110.6 107.1h1.2v1.1h-1.2zM93.7 87.3h1.2v1.1h-1.2zM110.8 113.1h1.2v1.1h-1.2zM109.7 115.3h1.2v1.1h-1.2zM111.1 103.5h1.2v1.1h-1.2zM107.0 86.8h1.2v1.1h-1.2zM110.6 109.1h1.2v1.1h-1.2zM108.7 108.2h1.2v1.1h-1.2zM101.2 117.0h1.2v1.1h-1.2zM112.4 101.1h1.2v1.1h-1.2zM111.1 118.9h1.2v1.1h-1.2zM74.6 93.9h1.2v1.1h-1.2zM98.5 87.5h1.2v1.1h-1.2zM113.9 106.3h1.2v1.1h-1.2zM112.5 114.7h1.2v1.1h-1.2zM111.2 95.3h1.2v1.1h-1.2zM109.7 95.7h1.2v1.1h-1.2zM97.3 88.0h1.2v1.1h-1.2zM104.8 89.2h1.2v1.1h-1.2zM107.7 90.6h1.2v1.1h-1.2zM110.0 117.9h1.2v1.1h-1.2zM115.2 112.8h1.2v1.1h-1.2zM116.4 116.9h1.2v1.1h-1.2zM112.4 111.3h1.2v1.1h-1.2zM110.0 91.0h1.2v1.1h-1.2zM99.3 104.7h1.2v1.1h-1.2zM104.7 86.9h1.2v1.1h-1.2zM111.3 109.9h1.2v1.1h-1.2zM114.3 112.3h1.2v1.1h-1.2zM104.9 124.6h1.2v1.1h-1.2zM107.3 113.5h1.2v1.1h-1.2zM107.1 127.0h1.2v1.1h-1.2zM99.7 117.1h1.2v1.1h-1.2zM115.6 114.5h1.2v1.1h-1.2zM104.9 134.7h1.2v1.1h-1.2zM99.1 86.8h1.2v1.1h-1.2zM99.0 104.3h1.2v1.1h-1.2zM106.5 87.2h1.2v1.1h-1.2zM113.2 101.7h1.2v1.1h-1.2zM104.8 102.1h1.2v1.1h-1.2zM100.6 87.0h1.2v1.1h-1.2zM107.5 87.2h1.2v1.1h-1.2zM112.8 105.9h1.2v1.1h-1.2zM112.3 96.9h1.2v1.1h-1.2zM110.8 103.6h1.2v1.1h-1.2zM103.3 87.0h1.2v1.1h-1.2zM105.7 120.2h1.2v1.1h-1.2zM117.6 125.5h1.2v1.1h-1.2zM99.2 95.9h1.2v1.1h-1.2zM110.8 105.3h1.2v1.1h-1.2zM104.8 96.2h1.2v1.1h-1.2zM106.2 88.6h1.2v1.1h-1.2zM103.8 117.8h1.2v1.1h-1.2zM103.0 127.0h1.2v1.1h-1.2zM111.3 107.4h1.2v1.1h-1.2zM112.4 117.2h1.2v1.1h-1.2zM110.1 91.1h1.2v1.1h-1.2zM89.9 87.2h1.2v1.1h-1.2zM91.3 88.6h1.2v1.1h-1.2zM100.7 94.7h1.2v1.1h-1.2zM102.1 102.2h1.2v1.1h-1.2zM107.1 87.9h1.2v1.1h-1.2zM100.3 87.0h1.2v1.1h-1.2zM99.9 103.6h1.2v1.1h-1.2zM106.1 110.7h1.2v1.1h-1.2zM108.1 112.3h1.2v1.1h-1.2zM113.3 107.0h1.2v1.1h-1.2zM112.3 132.3h1.2v1.1h-1.2zM90.4 103.0h1.2v1.1h-1.2zM104.8 103.6h1.2v1.1h-1.2zM99.2 101.1h1.2v1.1h-1.2zM47.0 88.7h1.2v1.1h-1.2zM103.3 87.0h1.2v1.1h-1.2zM101.9 96.9h1.2v1.1h-1.2zM107.6 108.8h1.2v1.1h-1.2zM96.5 86.8h1.2v1.1h-1.2zM109.6 113.4h1.2v1.1h-1.2zM113.3 113.3h1.2v1.1h-1.2zM118.1 128.8h1.2v1.1h-1.2zM99.6 119.1h1.2v1.1h-1.2zM115.1 113.8h1.2v1.1h-1.2zM110.8 118.4h1.2v1.1h-1.2zM94.2 86.9h1.2v1.1h-1.2zM117.0 131.0h1.2v1.1h-1.2zM102.3 95.0h1.2v1.1h-1.2zM97.7 86.8h1.2v1.1h-1.2zM110.4 98.1h1.2v1.1h-1.2zM114.3 122.7h1.2v1.1h-1.2zM112.4 120.4h1.2v1.1h-1.2zM112.1 100.3h1.2v1.1h-1.2zM103.5 86.7h1.2v1.1h-1.2zM110.6 129.6h1.2v1.1h-1.2zM111.2 128.0h1.2v1.1h-1.2zM112.7 103.0h1.2v1.1h-1.2zM89.3 87.1h1.2v1.1h-1.2zM114.1 121.8h1.2v1.1h-1.2zM103.5 87.1h1.2v1.1h-1.2zM105.5 94.2h1.2v1.1h-1.2zM111.6 94.4h1.2v1.1h-1.2zM79.2 90.6h1.2v1.1h-1.2zM99.9 92.2h1.2v1.1h-1.2zM116.5 129.5h1.2v1.1h-1.2zM111.2 105.1h1.2v1.1h-1.2zM114.1 112.1h1.2v1.1h-1.2zM101.1 86.9h1.2v1.1h-1.2zM108.9 111.6h1.2v1.1h-1.2zM111.8 135.6h1.2v1.1h-1.2zM117.3 123.5h1.2v1.1h-1.2zM113.7 109.5h1.2v1.1h-1.2zM46.5 115.8h1.2v1.1h-1.2zM112.1 107.2h1.2v1.1h-1.2zM108.4 88.2h1.2v1.1h-1.2zM113.1 110.7h1.2v1.1h-1.2zM90.1 87.1h1.2v1.1h-1.2zM101.1 109.3h1.2v1.1h-1.2zM108.9 117.8h1.2v1.1h-1.2zM85.1 109.6h1.2v1.1h-1.2zM110.6 107.3h1.2v1.1h-1.2zM110.7 109.9h1.2v1.1h-1.2zM101.5 101.1h1.2v1.1h-1.2zM111.4 115.7h1.2v1.1h-1.2zM108.7 93.8h1.2v1.1h-1.2zM116.1 131.6h1.2v1.1h-1.2zM105.7 100.6h1.2v1.1h-1.2zM110.7 92.2h1.2v1.1h-1.2zM104.7 91.9h1.2v1.1h-1.2zM86.0 88.6h1.2v1.1h-1.2zM81.3 86.8h1.2v1.1h-1.2zM110.0 106.0h1.2v1.1h-1.2zM106.6 105.0h1.2v1.1h-1.2zM109.5 99.2h1.2v1.1h-1.2zM111.2 120.9h1.2v1.1h-1.2zM108.3 104.1h1.2v1.1h-1.2zM104.9 89.3h1.2v1.1h-1.2zM109.1 122.8h1.2v1.1h-1.2zM92.8 92.8h1.2v1.1h-1.2zM115.2 112.4h1.2v1.1h-1.2zM105.5 101.2h1.2v1.1h-1.2zM107.4 96.5h1.2v1.1h-1.2zM112.7 112.0h1.2v1.1h-1.2zM107.5 108.1h1.2v1.1h-1.2zM117.7 130.8h1.2v1.1h-1.2zM101.6 87.0h1.2v1.1h-1.2zM105.4 87.2h1.2v1.1h-1.2zM100.0 106.5h1.2v1.1h-1.2zM106.3 87.2h1.2v1.1h-1.2zM116.2 136.3h1.2v1.1h-1.2zM103.1 94.8h1.2v1.1h-1.2zM105.5 86.8h1.2v1.1h-1.2zM116.5 130.5h1.2v1.1h-1.2zM113.8 107.2h1.2v1.1h-1.2zM106.5 136.3h1.2v1.1h-1.2zM111.6 99.6h1.2v1.1h-1.2zM103.1 87.7h1.2v1.1h-1.2zM47.9 90.6h1.2v1.1h-1.2zM107.9 94.3h1.2v1.1h-1.2zM112.7 118.0h1.2v1.1h-1.2zM105.4 88.8h1.2v1.1h-1.2zM107.7 107.9h1.2v1.1h-1.2zM112.1 118.7h1.2v1.1h-1.2zM115.3 123.9h1.2v1.1h-1.2zM107.4 97.9h1.2v1.1h-1.2zM84.9 98.5h1.2v1.1h-1.2zM115.3 121.9h1.2v1.1h-1.2zM108.2 104.9h1.2v1.1h-1.2zM114.6 133.7h1.2v1.1h-1.2zM115.8 117.1h1.2v1.1h-1.2zM110.1 120.0h1.2v1.1h-1.2zM91.1 87.0h1.2v1.1h-1.2zM83.7 87.0h1.2v1.1h-1.2zM114.2 126.4h1.2v1.1h-1.2zM114.4 132.0h1.2v1.1h-1.2zM93.9 90.9h1.2v1.1h-1.2zM104.5 92.8h1.2v1.1h-1.2zM112.6 109.6h1.2v1.1h-1.2zM111.7 106.3h1.2v1.1h-1.2zM85.3 86.7h1.2v1.1h-1.2zM105.7 123.9h1.2v1.1h-1.2zM101.6 96.5h1.2v1.1h-1.2zM99.9 92.1h1.2v1.1h-1.2zM107.0 106.6h1.2v1.1h-1.2zM90.6 87.2h1.2v1.1h-1.2zM109.8 108.7h1.2v1.1h-1.2zM97.3 86.8h1.2v1.1h-1.2zM105.7 104.6h1.2v1.1h-1.2zM113.6 105.1h1.2v1.1h-1.2zM94.0 87.3h1.2v1.1h-1.2zM110.7 111.6h1.2v1.1h-1.2zM102.9 101.4h1.2v1.1h-1.2zM107.9 88.0h1.2v1.1h-1.2zM103.9 92.2h1.2v1.1h-1.2zM108.8 117.2h1.2v1.1h-1.2zM102.6 96.9h1.2v1.1h-1.2zM116.1 126.8h1.2v1.1h-1.2zM106.3 86.9h1.2v1.1h-1.2zM102.0 97.6h1.2v1.1h-1.2zM97.0 129.5h1.2v1.1h-1.2zM108.5 114.1h1.2v1.1h-1.2zM98.7 123.3h1.2v1.1h-1.2zM72.4 87.8h1.2v1.1h-1.2zM87.5 87.5h1.2v1.1h-1.2zM108.3 89.1h1.2v1.1h-1.2zM112.6 122.4h1.2v1.1h-1.2zM108.4 105.2h1.2v1.1h-1.2zM100.7 97.3h1.2v1.1h-1.2zM105.1 104.0h1.2v1.1h-1.2zM96.9 108.8h1.2v1.1h-1.2zM89.7 87.6h1.2v1.1h-1.2zM109.4 117.9h1.2v1.1h-1.2zM103.9 91.1h1.2v1.1h-1.2zM69.3 86.8h1.2v1.1h-1.2zM99.2 87.2h1.2v1.1h-1.2zM116.2 127.9h1.2v1.1h-1.2zM113.2 100.8h1.2v1.1h-1.2zM107.6 104.6h1.2v1.1h-1.2zM116.4 125.6h1.2v1.1h-1.2zM93.3 92.7h1.2v1.1h-1.2zM112.5 98.8h1.2v1.1h-1.2zM101.3 100.2h1.2v1.1h-1.2zM106.1 130.2h1.2v1.1h-1.2zM87.4 86.7h1.2v1.1h-1.2zM98.5 120.9h1.2v1.1h-1.2zM97.8 93.7h1.2v1.1h-1.2zM118.0 131.0h1.2v1.1h-1.2zM111.2 123.7h1.2v1.1h-1.2zM94.4 87.0h1.2v1.1h-1.2zM93.2 97.5h1.2v1.1h-1.2zM113.8 129.2h1.2v1.1h-1.2zM113.3 101.2h1.2v1.1h-1.2zM107.8 129.7h1.2v1.1h-1.2zM118.0 130.0h1.2v1.1h-1.2zM99.7 87.1h1.2v1.1h-1.2zM84.0 87.0h1.2v1.1h-1.2zM109.3 107.6h1.2v1.1h-1.2zM113.8 115.7h1.2v1.1h-1.2zM100.1 86.9h1.2v1.1h-1.2zM92.2 95.2h1.2v1.1h-1.2zM100.8 106.4h1.2v1.1h-1.2zM112.1 107.5h1.2v1.1h-1.2zM116.3 125.4h1.2v1.1h-1.2zM95.3 87.1h1.2v1.1h-1.2zM89.7 87.2h1.2v1.1h-1.2zM107.6 87.5h1.2v1.1h-1.2zM116.4 119.0h1.2v1.1h-1.2zM69.7 86.9h1.2v1.1h-1.2zM100.1 130.8h1.2v1.1h-1.2zM102.4 94.6h1.2v1.1h-1.2zM105.4 117.9h1.2v1.1h-1.2zM105.3 89.4h1.2v1.1h-1.2zM103.9 109.4h1.2v1.1h-1.2zM106.6 100.0h1.2v1.1h-1.2zM117.4 130.9h1.2v1.1h-1.2zM112.9 124.5h1.2v1.1h-1.2zM114.5 110.0h1.2v1.1h-1.2zM100.8 100.6h1.2v1.1h-1.2zM96.8 92.2h1.2v1.1h-1.2zM108.5 104.8h1.2v1.1h-1.2zM109.7 99.4h1.2v1.1h-1.2zM109.7 100.9h1.2v1.1h-1.2zM110.5 96.5h1.2v1.1h-1.2zM105.9 95.9h1.2v1.1h-1.2zM103.6 87.1h1.2v1.1h-1.2zM114.0 104.2h1.2v1.1h-1.2zM113.6 128.0h1.2v1.1h-1.2zM115.2 110.4h1.2v1.1h-1.2zM94.7 91.8h1.2v1.1h-1.2zM98.5 97.0h1.2v1.1h-1.2zM106.4 102.2h1.2v1.1h-1.2zM105.0 89.7h1.2v1.1h-1.2zM110.1 136.2h1.2v1.1h-1.2zM107.5 105.9h1.2v1.1h-1.2zM90.7 88.4h1.2v1.1h-1.2zM77.9 87.0h1.2v1.1h-1.2zM101.1 134.1h1.2v1.1h-1.2zM111.0 92.1h1.2v1.1h-1.2zM110.6 124.7h1.2v1.1h-1.2zM101.9 89.6h1.2v1.1h-1.2zM108.8 111.1h1.2v1.1h-1.2zM114.9 135.4h1.2v1.1h-1.2zM98.4 87.1h1.2v1.1h-1.2zM114.7 120.6h1.2v1.1h-1.2zM112.5 102.4h1.2v1.1h-1.2zM102.3 93.2h1.2v1.1h-1.2zM102.1 87.0h1.2v1.1h-1.2zM110.7 94.0h1.2v1.1h-1.2zM110.9 114.2h1.2v1.1h-1.2zM96.3 87.3h1.2v1.1h-1.2z" fill="#3d5a8a"/>
<path d="M142.0 111.8h1.2v1.1h-1.2zM152.1 103.9h1.2v1.1h-1.2zM163.5 91.1h1.2v1.1h-1.2zM152.8 86.8h1.2v1.1h-1.2zM151.7 87.1h1.2v1.1h-1.2zM148.1 93.3h1.2v1.1h-1.2zM136.1 123.9h1.2v1.1h-1.2zM138.2 121.6h1.2v1.1h-1.2zM154.6 108.2h1.2v1.1h-1.2zM146.9 117.2h1.2v1.1h-1.2zM141.7 120.2h1.2v1.1h-1.2zM159.1 104.1h1.2v1.1h-1.2zM136.7 118.4h1.2v1.1h-1.2zM146.5 96.2h1.2v1.1h-1.2zM145.3 87.4h1.2v1.1h-1.2zM159.5 96.7h1.2v1.1h-1.2zM144.8 97.6h1.2v1.1h-1.2zM160.6 93.9h1.2v1.1h-1.2zM143.3 119.0h1.2v1.1h-1.2zM143.7 102.3h1.2v1.1h-1.2zM139.7 129.0h1.2v1.1h-1.2zM144.1 111.5h1.2v1.1h-1.2zM163.4 87.4h1.2v1.1h-1.2zM159.7 109.0h1.2v1.1h-1.2zM139.7 103.6h1.2v1.1h-1.2zM154.8 98.3h1.2v1.1h-1.2zM142.0 119.5h1.2v1.1h-1.2zM148.0 86.8h1.2v1.1h-1.2zM146.4 101.3h1.2v1.1h-1.2zM159.9 94.2h1.2v1.1h-1.2zM146.5 87.6h1.2v1.1h-1.2zM145.1 98.1h1.2v1.1h-1.2zM139.4 103.3h1.2v1.1h-1.2zM158.5 87.0h1.2v1.1h-1.2zM151.4 91.2h1.2v1.1h-1.2zM159.8 87.4h1.2v1.1h-1.2zM142.8 113.7h1.2v1.1h-1.2zM162.6 86.9h1.2v1.1h-1.2zM173.0 89.1h1.2v1.1h-1.2zM144.8 119.3h1.2v1.1h-1.2zM148.3 103.6h1.2v1.1h-1.2zM146.1 87.7h1.2v1.1h-1.2zM137.7 116.5h1.2v1.1h-1.2zM158.6 91.7h1.2v1.1h-1.2zM145.7 94.6h1.2v1.1h-1.2zM140.6 115.0h1.2v1.1h-1.2zM163.3 115.7h1.2v1.1h-1.2zM162.5 87.3h1.2v1.1h-1.2zM144.3 103.2h1.2v1.1h-1.2zM144.4 126.8h1.2v1.1h-1.2zM159.8 87.7h1.2v1.1h-1.2zM146.4 100.6h1.2v1.1h-1.2zM144.0 114.6h1.2v1.1h-1.2zM143.1 123.9h1.2v1.1h-1.2zM152.3 133.6h1.2v1.1h-1.2zM138.7 121.0h1.2v1.1h-1.2zM142.2 94.3h1.2v1.1h-1.2zM141.2 105.7h1.2v1.1h-1.2zM145.8 95.4h1.2v1.1h-1.2zM164.6 86.8h1.2v1.1h-1.2zM155.3 87.2h1.2v1.1h-1.2zM145.7 114.9h1.2v1.1h-1.2zM138.3 124.9h1.2v1.1h-1.2zM143.2 111.4h1.2v1.1h-1.2zM145.5 89.0h1.2v1.1h-1.2zM141.8 97.5h1.2v1.1h-1.2zM144.9 128.7h1.2v1.1h-1.2zM156.9 86.7h1.2v1.1h-1.2zM147.3 87.3h1.2v1.1h-1.2zM140.5 117.0h1.2v1.1h-1.2zM153.8 97.8h1.2v1.1h-1.2zM156.2 97.1h1.2v1.1h-1.2zM160.2 87.6h1.2v1.1h-1.2zM144.8 116.3h1.2v1.1h-1.2zM157.0 102.3h1.2v1.1h-1.2zM154.5 104.0h1.2v1.1h-1.2zM157.6 105.3h1.2v1.1h-1.2zM141.2 107.3h1.2v1.1h-1.2zM162.1 86.9h1.2v1.1h-1.2zM144.2 110.3h1.2v1.1h-1.2zM152.7 104.3h1.2v1.1h-1.2zM141.3 94.8h1.2v1.1h-1.2zM150.9 93.9h1.2v1.1h-1.2zM141.1 128.2h1.2v1.1h-1.2zM147.3 108.0h1.2v1.1h-1.2zM140.3 103.5h1.2v1.1h-1.2zM163.4 113.8h1.2v1.1h-1.2zM138.0 123.3h1.2v1.1h-1.2zM135.8 123.4h1.2v1.1h-1.2zM136.9 124.7h1.2v1.1h-1.2zM135.3 127.5h1.2v1.1h-1.2zM180.4 87.1h1.2v1.1h-1.2zM142.7 100.3h1.2v1.1h-1.2zM137.7 111.5h1.2v1.1h-1.2zM149.2 115.7h1.2v1.1h-1.2zM138.2 120.9h1.2v1.1h-1.2zM144.5 108.1h1.2v1.1h-1.2zM147.3 120.8h1.2v1.1h-1.2zM137.0 133.3h1.2v1.1h-1.2zM146.7 96.8h1.2v1.1h-1.2zM144.0 105.1h1.2v1.1h-1.2zM137.8 110.8h1.2v1.1h-1.2zM151.7 108.3h1.2v1.1h-1.2zM142.6 108.9h1.2v1.1h-1.2zM137.4 112.2h1.2v1.1h-1.2zM192.8 103.0h1.2v1.1h-1.2zM141.3 113.0h1.2v1.1h-1.2zM155.7 93.8h1.2v1.1h-1.2zM135.6 131.7h1.2v1.1h-1.2zM158.4 87.5h1.2v1.1h-1.2zM143.8 106.7h1.2v1.1h-1.2zM136.6 121.0h1.2v1.1h-1.2zM137.9 111.9h1.2v1.1h-1.2zM149.1 87.0h1.2v1.1h-1.2zM145.5 93.9h1.2v1.1h-1.2zM140.8 118.0h1.2v1.1h-1.2zM137.3 114.0h1.2v1.1h-1.2zM143.1 113.3h1.2v1.1h-1.2zM148.9 97.0h1.2v1.1h-1.2zM146.1 102.7h1.2v1.1h-1.2zM140.8 106.5h1.2v1.1h-1.2zM150.6 121.5h1.2v1.1h-1.2zM140.6 103.3h1.2v1.1h-1.2zM142.2 103.2h1.2v1.1h-1.2zM146.2 87.5h1.2v1.1h-1.2zM136.8 122.6h1.2v1.1h-1.2zM147.7 86.7h1.2v1.1h-1.2zM134.5 129.4h1.2v1.1h-1.2zM147.9 112.5h1.2v1.1h-1.2zM138.9 133.2h1.2v1.1h-1.2zM155.7 87.1h1.2v1.1h-1.2zM145.5 102.9h1.2v1.1h-1.2zM148.9 109.1h1.2v1.1h-1.2zM136.4 117.3h1.2v1.1h-1.2zM144.3 100.7h1.2v1.1h-1.2zM154.9 127.5h1.2v1.1h-1.2zM165.1 91.0h1.2v1.1h-1.2zM139.7 117.0h1.2v1.1h-1.2zM167.6 88.1h1.2v1.1h-1.2zM159.0 115.0h1.2v1.1h-1.2zM172.0 87.9h1.2v1.1h-1.2zM141.7 118.6h1.2v1.1h-1.2zM146.0 101.8h1.2v1.1h-1.2zM137.0 124.6h1.2v1.1h-1.2zM144.5 113.4h1.2v1.1h-1.2zM140.6 135.9h1.2v1.1h-1.2zM150.9 112.3h1.2v1.1h-1.2zM142.7 108.6h1.2v1.1h-1.2zM171.0 123.1h1.2v1.1h-1.2zM136.0 125.5h1.2v1.1h-1.2zM141.2 121.2h1.2v1.1h-1.2zM171.3 104.4h1.2v1.1h-1.2zM145.3 102.9h1.2v1.1h-1.2zM148.3 104.5h1.2v1.1h-1.2zM157.1 93.3h1.2v1.1h-1.2zM147.6 112.2h1.2v1.1h-1.2zM180.2 108.8h1.2v1.1h-1.2zM144.0 113.6h1.2v1.1h-1.2zM139.7 132.4h1.2v1.1h-1.2zM142.8 100.9h1.2v1.1h-1.2zM157.9 86.8h1.2v1.1h-1.2zM143.9 89.3h1.2v1.1h-1.2zM134.4 131.5h1.2v1.1h-1.2zM154.1 92.2h1.2v1.1h-1.2zM137.5 116.3h1.2v1.1h-1.2zM158.0 86.8h1.2v1.1h-1.2zM146.2 97.2h1.2v1.1h-1.2zM171.2 94.0h1.2v1.1h-1.2zM142.6 102.3h1.2v1.1h-1.2zM150.2 90.0h1.2v1.1h-1.2zM153.7 88.2h1.2v1.1h-1.2zM150.0 125.9h1.2v1.1h-1.2zM142.6 91.1h1.2v1.1h-1.2zM136.3 116.7h1.2v1.1h-1.2zM141.8 92.4h1.2v1.1h-1.2zM136.8 129.3h1.2v1.1h-1.2zM146.3 110.6h1.2v1.1h-1.2zM146.1 90.4h1.2v1.1h-1.2zM152.5 86.9h1.2v1.1h-1.2zM146.8 97.1h1.2v1.1h-1.2zM157.3 89.5h1.2v1.1h-1.2zM144.8 87.4h1.2v1.1h-1.2zM153.4 87.3h1.2v1.1h-1.2zM138.0 111.0h1.2v1.1h-1.2zM149.4 103.0h1.2v1.1h-1.2zM154.3 100.8h1.2v1.1h-1.2zM145.2 120.0h1.2v1.1h-1.2zM149.0 108.9h1.2v1.1h-1.2zM141.9 126.1h1.2v1.1h-1.2zM149.7 113.1h1.2v1.1h-1.2zM147.6 86.8h1.2v1.1h-1.2zM163.6 94.5h1.2v1.1h-1.2zM144.6 87.9h1.2v1.1h-1.2zM155.4 87.2h1.2v1.1h-1.2zM145.1 102.5h1.2v1.1h-1.2zM153.4 103.3h1.2v1.1h-1.2zM157.0 86.9h1.2v1.1h-1.2zM137.5 119.7h1.2v1.1h-1.2zM180.8 86.9h1.2v1.1h-1.2zM137.1 111.3h1.2v1.1h-1.2zM141.9 95.7h1.2v1.1h-1.2zM148.6 95.1h1.2v1.1h-1.2zM148.7 88.6h1.2v1.1h-1.2zM143.9 107.1h1.2v1.1h-1.2zM164.9 91.7h1.2v1.1h-1.2zM148.2 89.0h1.2v1.1h-1.2zM138.5 113.8h1.2v1.1h-1.2zM141.8 108.3h1.2v1.1h-1.2zM137.3 126.4h1.2v1.1h-1.2zM150.3 87.5h1.2v1.1h-1.2zM167.4 87.6h1.2v1.1h-1.2zM138.7 127.0h1.2v1.1h-1.2zM146.5 118.9h1.2v1.1h-1.2zM142.5 102.7h1.2v1.1h-1.2zM169.4 89.8h1.2v1.1h-1.2zM151.1 91.0h1.2v1.1h-1.2zM155.7 99.3h1.2v1.1h-1.2zM167.7 99.7h1.2v1.1h-1.2zM151.5 87.6h1.2v1.1h-1.2zM138.4 104.5h1.2v1.1h-1.2zM139.8 103.0h1.2v1.1h-1.2zM139.9 132.5h1.2v1.1h-1.2zM138.1 130.7h1.2v1.1h-1.2zM140.4 105.5h1.2v1.1h-1.2zM139.8 102.7h1.2v1.1h-1.2zM145.9 87.0h1.2v1.1h-1.2zM139.8 119.6h1.2v1.1h-1.2zM154.3 87.0h1.2v1.1h-1.2zM153.3 91.5h1.2v1.1h-1.2zM140.9 111.6h1.2v1.1h-1.2zM146.5 112.8h1.2v1.1h-1.2zM151.6 87.4h1.2v1.1h-1.2zM137.4 111.4h1.2v1.1h-1.2zM150.6 92.7h1.2v1.1h-1.2zM150.8 95.1h1.2v1.1h-1.2zM145.8 110.9h1.2v1.1h-1.2zM148.6 95.0h1.2v1.1h-1.2zM144.8 90.9h1.2v1.1h-1.2zM145.3 106.4h1.2v1.1h-1.2zM143.2 91.2h1.2v1.1h-1.2zM147.2 122.9h1.2v1.1h-1.2zM142.0 111.7h1.2v1.1h-1.2zM135.2 130.4h1.2v1.1h-1.2zM140.2 100.0h1.2v1.1h-1.2zM143.5 94.2h1.2v1.1h-1.2zM147.2 127.1h1.2v1.1h-1.2zM137.5 119.2h1.2v1.1h-1.2zM158.4 122.4h1.2v1.1h-1.2zM150.7 111.0h1.2v1.1h-1.2zM141.0 107.0h1.2v1.1h-1.2zM139.7 115.1h1.2v1.1h-1.2zM139.5 104.9h1.2v1.1h-1.2zM136.9 133.3h1.2v1.1h-1.2zM137.8 122.5h1.2v1.1h-1.2zM143.7 107.4h1.2v1.1h-1.2zM150.8 88.1h1.2v1.1h-1.2zM146.8 86.8h1.2v1.1h-1.2zM143.6 95.7h1.2v1.1h-1.2zM137.0 132.2h1.2v1.1h-1.2zM139.3 100.7h1.2v1.1h-1.2zM143.7 108.5h1.2v1.1h-1.2zM145.3 115.2h1.2v1.1h-1.2zM143.5 95.4h1.2v1.1h-1.2zM139.6 120.5h1.2v1.1h-1.2zM135.2 126.2h1.2v1.1h-1.2zM149.4 110.8h1.2v1.1h-1.2zM141.3 115.7h1.2v1.1h-1.2zM145.1 95.5h1.2v1.1h-1.2zM152.2 87.0h1.2v1.1h-1.2zM151.7 106.9h1.2v1.1h-1.2zM140.3 97.2h1.2v1.1h-1.2zM156.0 104.9h1.2v1.1h-1.2zM143.6 127.6h1.2v1.1h-1.2zM139.3 114.5h1.2v1.1h-1.2zM145.0 98.5h1.2v1.1h-1.2zM146.1 86.9h1.2v1.1h-1.2zM143.3 94.7h1.2v1.1h-1.2zM163.5 87.0h1.2v1.1h-1.2zM141.9 122.3h1.2v1.1h-1.2zM154.2 91.4h1.2v1.1h-1.2zM134.6 131.5h1.2v1.1h-1.2zM140.6 97.9h1.2v1.1h-1.2zM142.1 101.5h1.2v1.1h-1.2zM147.6 87.3h1.2v1.1h-1.2zM150.5 102.3h1.2v1.1h-1.2zM139.6 99.1h1.2v1.1h-1.2zM138.3 125.6h1.2v1.1h-1.2zM137.7 119.3h1.2v1.1h-1.2zM141.6 129.8h1.2v1.1h-1.2zM138.5 103.3h1.2v1.1h-1.2zM161.1 104.1h1.2v1.1h-1.2zM138.6 114.8h1.2v1.1h-1.2zM178.9 95.2h1.2v1.1h-1.2zM134.9 126.3h1.2v1.1h-1.2zM142.6 96.8h1.2v1.1h-1.2zM136.4 121.7h1.2v1.1h-1.2zM152.8 99.5h1.2v1.1h-1.2zM135.9 125.4h1.2v1.1h-1.2zM152.9 90.9h1.2v1.1h-1.2zM149.9 94.7h1.2v1.1h-1.2zM144.4 106.0h1.2v1.1h-1.2zM147.4 87.2h1.2v1.1h-1.2zM148.0 106.3h1.2v1.1h-1.2zM155.2 87.1h1.2v1.1h-1.2zM143.1 91.5h1.2v1.1h-1.2zM149.4 119.4h1.2v1.1h-1.2zM141.7 115.7h1.2v1.1h-1.2zM135.7 126.6h1.2v1.1h-1.2zM140.7 104.6h1.2v1.1h-1.2zM138.8 110.9h1.2v1.1h-1.2zM151.8 87.0h1.2v1.1h-1.2zM155.5 86.7h1.2v1.1h-1.2zM141.0 94.1h1.2v1.1h-1.2zM150.9 87.9h1.2v1.1h-1.2zM137.6 126.6h1.2v1.1h-1.2zM144.8 114.6h1.2v1.1h-1.2zM138.2 122.5h1.2v1.1h-1.2zM141.1 110.8h1.2v1.1h-1.2zM142.1 104.8h1.2v1.1h-1.2zM146.8 87.1h1.2v1.1h-1.2zM142.9 99.1h1.2v1.1h-1.2zM149.2 87.2h1.2v1.1h-1.2zM145.7 91.1h1.2v1.1h-1.2zM145.8 127.2h1.2v1.1h-1.2zM144.5 104.0h1.2v1.1h-1.2zM152.2 97.4h1.2v1.1h-1.2zM166.5 88.9h1.2v1.1h-1.2zM143.5 118.8h1.2v1.1h-1.2zM148.6 123.1h1.2v1.1h-1.2zM156.7 87.4h1.2v1.1h-1.2zM143.9 102.1h1.2v1.1h-1.2zM172.5 87.4h1.2v1.1h-1.2zM138.5 108.4h1.2v1.1h-1.2zM150.4 95.9h1.2v1.1h-1.2zM139.9 102.3h1.2v1.1h-1.2zM142.8 114.4h1.2v1.1h-1.2zM156.4 91.3h1.2v1.1h-1.2zM147.1 97.3h1.2v1.1h-1.2zM140.8 110.5h1.2v1.1h-1.2zM143.0 89.9h1.2v1.1h-1.2zM141.1 100.6h1.2v1.1h-1.2zM143.2 95.3h1.2v1.1h-1.2zM142.7 100.3h1.2v1.1h-1.2zM165.2 87.9h1.2v1.1h-1.2zM143.8 108.9h1.2v1.1h-1.2zM152.6 109.5h1.2v1.1h-1.2zM169.2 86.8h1.2v1.1h-1.2zM139.8 122.5h1.2v1.1h-1.2zM147.3 87.4h1.2v1.1h-1.2zM147.5 111.9h1.2v1.1h-1.2zM141.8 104.5h1.2v1.1h-1.2zM151.6 88.4h1.2v1.1h-1.2zM136.2 118.9h1.2v1.1h-1.2zM136.5 119.5h1.2v1.1h-1.2zM137.3 132.5h1.2v1.1h-1.2zM138.2 106.1h1.2v1.1h-1.2zM157.7 86.8h1.2v1.1h-1.2zM141.5 116.9h1.2v1.1h-1.2zM175.7 86.8h1.2v1.1h-1.2zM146.6 123.7h1.2v1.1h-1.2zM160.7 88.5h1.2v1.1h-1.2zM143.6 95.0h1.2v1.1h-1.2zM163.4 88.9h1.2v1.1h-1.2zM144.3 111.8h1.2v1.1h-1.2zM165.2 94.6h1.2v1.1h-1.2zM150.5 87.1h1.2v1.1h-1.2zM152.9 98.9h1.2v1.1h-1.2zM154.2 129.6h1.2v1.1h-1.2zM145.3 100.5h1.2v1.1h-1.2zM137.2 119.4h1.2v1.1h-1.2zM149.6 111.1h1.2v1.1h-1.2zM140.8 99.6h1.2v1.1h-1.2zM147.7 113.9h1.2v1.1h-1.2zM139.5 128.5h1.2v1.1h-1.2zM136.5 130.8h1.2v1.1h-1.2zM147.0 110.8h1.2v1.1h-1.2zM144.8 98.3h1.2v1.1h-1.2zM140.9 102.6h1.2v1.1h-1.2zM139.3 127.4h1.2v1.1h-1.2zM139.2 112.8h1.2v1.1h-1.2zM141.2 120.0h1.2v1.1h-1.2zM141.8 127.8h1.2v1.1h-1.2zM137.2 127.9h1.2v1.1h-1.2zM156.0 86.9h1.2v1.1h-1.2zM141.2 126.6h1.2v1.1h-1.2zM150.1 90.8h1.2v1.1h-1.2zM137.0 119.7h1.2v1.1h-1.2zM142.1 91.8h1.2v1.1h-1.2zM158.4 87.9h1.2v1.1h-1.2zM136.2 125.8h1.2v1.1h-1.2zM139.4 135.5h1.2v1.1h-1.2zM139.7 134.0h1.2v1.1h-1.2zM143.2 114.7h1.2v1.1h-1.2zM169.0 97.3h1.2v1.1h-1.2zM166.9 102.8h1.2v1.1h-1.2zM144.9 117.1h1.2v1.1h-1.2zM168.3 86.9h1.2v1.1h-1.2zM137.9 110.5h1.2v1.1h-1.2zM163.3 95.7h1.2v1.1h-1.2zM143.2 98.6h1.2v1.1h-1.2zM137.2 110.2h1.2v1.1h-1.2zM136.9 114.9h1.2v1.1h-1.2zM157.8 94.9h1.2v1.1h-1.2zM139.9 99.9h1.2v1.1h-1.2zM144.0 90.6h1.2v1.1h-1.2zM139.2 120.5h1.2v1.1h-1.2zM144.8 101.3h1.2v1.1h-1.2zM140.1 119.7h1.2v1.1h-1.2zM137.3 118.5h1.2v1.1h-1.2zM148.5 86.8h1.2v1.1h-1.2zM159.8 87.4h1.2v1.1h-1.2zM155.9 96.5h1.2v1.1h-1.2zM139.0 110.3h1.2v1.1h-1.2zM147.5 100.8h1.2v1.1h-1.2zM180.6 86.9h1.2v1.1h-1.2zM177.1 89.5h1.2v1.1h-1.2zM139.6 103.8h1.2v1.1h-1.2zM145.0 130.1h1.2v1.1h-1.2zM173.0 86.7h1.2v1.1h-1.2zM148.6 86.8h1.2v1.1h-1.2zM165.2 89.1h1.2v1.1h-1.2zM147.2 87.2h1.2v1.1h-1.2zM137.4 127.0h1.2v1.1h-1.2zM149.5 96.0h1.2v1.1h-1.2zM134.4 136.5h1.2v1.1h-1.2zM148.9 87.1h1.2v1.1h-1.2zM155.7 93.8h1.2v1.1h-1.2zM176.4 86.8h1.2v1.1h-1.2zM148.4 87.2h1.2v1.1h-1.2zM154.4 90.6h1.2v1.1h-1.2zM149.6 124.5h1.2v1.1h-1.2zM147.4 87.1h1.2v1.1h-1.2zM144.8 97.2h1.2v1.1h-1.2zM152.4 89.4h1.2v1.1h-1.2zM148.6 91.4h1.2v1.1h-1.2zM169.1 90.5h1.2v1.1h-1.2zM148.8 101.4h1.2v1.1h-1.2zM145.4 101.8h1.2v1.1h-1.2zM151.5 109.2h1.2v1.1h-1.2zM138.6 123.7h1.2v1.1h-1.2zM138.5 103.7h1.2v1.1h-1.2zM150.1 106.6h1.2v1.1h-1.2zM149.0 87.0h1.2v1.1h-1.2zM148.0 87.0h1.2v1.1h-1.2zM148.3 102.7h1.2v1.1h-1.2zM161.1 88.8h1.2v1.1h-1.2zM173.5 89.0h1.2v1.1h-1.2zM144.1 96.9h1.2v1.1h-1.2zM166.5 86.8h1.2v1.1h-1.2zM138.5 118.9h1.2v1.1h-1.2zM152.0 98.2h1.2v1.1h-1.2zM141.4 132.0h1.2v1.1h-1.2zM141.8 115.4h1.2v1.1h-1.2zM154.0 86.9h1.2v1.1h-1.2zM138.9 115.9h1.2v1.1h-1.2zM170.4 90.2h1.2v1.1h-1.2zM154.2 89.5h1.2v1.1h-1.2zM169.4 105.9h1.2v1.1h-1.2zM145.5 103.5h1.2v1.1h-1.2zM136.2 118.3h1.2v1.1h-1.2zM144.1 111.1h1.2v1.1h-1.2zM148.3 117.2h1.2v1.1h-1.2zM151.3 89.4h1.2v1.1h-1.2zM143.3 101.4h1.2v1.1h-1.2zM145.5 96.9h1.2v1.1h-1.2zM142.6 97.6h1.2v1.1h-1.2zM137.4 128.6h1.2v1.1h-1.2zM136.7 136.5h1.2v1.1h-1.2zM139.7 115.3h1.2v1.1h-1.2zM142.4 128.2h1.2v1.1h-1.2zM160.2 87.1h1.2v1.1h-1.2zM150.3 92.0h1.2v1.1h-1.2zM161.9 100.8h1.2v1.1h-1.2zM158.0 95.5h1.2v1.1h-1.2zM140.6 94.9h1.2v1.1h-1.2zM147.4 101.4h1.2v1.1h-1.2zM137.4 117.3h1.2v1.1h-1.2zM147.1 101.9h1.2v1.1h-1.2zM136.2 115.9h1.2v1.1h-1.2zM146.0 90.1h1.2v1.1h-1.2zM137.8 116.8h1.2v1.1h-1.2zM145.6 100.7h1.2v1.1h-1.2zM152.4 89.8h1.2v1.1h-1.2zM140.3 103.5h1.2v1.1h-1.2zM136.9 123.3h1.2v1.1h-1.2zM152.9 95.2h1.2v1.1h-1.2zM150.4 87.1h1.2v1.1h-1.2zM168.1 90.3h1.2v1.1h-1.2zM144.2 102.5h1.2v1.1h-1.2zM166.0 97.9h1.2v1.1h-1.2zM146.0 118.9h1.2v1.1h-1.2zM136.4 116.0h1.2v1.1h-1.2zM149.5 124.8h1.2v1.1h-1.2zM143.9 125.6h1.2v1.1h-1.2zM148.5 89.1h1.2v1.1h-1.2zM145.2 96.8h1.2v1.1h-1.2zM139.2 108.7h1.2v1.1h-1.2zM139.4 132.4h1.2v1.1h-1.2zM147.3 86.8h1.2v1.1h-1.2zM145.9 107.8h1.2v1.1h-1.2zM152.0 110.2h1.2v1.1h-1.2zM145.0 89.4h1.2v1.1h-1.2zM141.9 106.1h1.2v1.1h-1.2zM146.1 93.3h1.2v1.1h-1.2zM141.2 111.2h1.2v1.1h-1.2zM180.0 87.2h1.2v1.1h-1.2zM147.3 102.9h1.2v1.1h-1.2zM141.4 111.6h1.2v1.1h-1.2zM143.1 116.7h1.2v1.1h-1.2zM140.6 127.3h1.2v1.1h-1.2zM142.7 118.7h1.2v1.1h-1.2zM147.0 100.2h1.2v1.1h-1.2zM146.6 96.3h1.2v1.1h-1.2zM136.7 117.3h1.2v1.1h-1.2zM150.8 87.4h1.2v1.1h-1.2zM146.4 86.8h1.2v1.1h-1.2zM156.6 108.9h1.2v1.1h-1.2zM139.4 108.1h1.2v1.1h-1.2zM151.2 106.8h1.2v1.1h-1.2zM153.6 101.8h1.2v1.1h-1.2zM154.6 99.6h1.2v1.1h-1.2zM137.5 115.2h1.2v1.1h-1.2zM149.3 89.6h1.2v1.1h-1.2zM180.3 87.1h1.2v1.1h-1.2zM153.7 87.5h1.2v1.1h-1.2zM137.0 124.1h1.2v1.1h-1.2zM146.4 101.0h1.2v1.1h-1.2zM141.5 126.0h1.2v1.1h-1.2zM155.3 86.8h1.2v1.1h-1.2zM146.6 102.0h1.2v1.1h-1.2zM139.0 107.6h1.2v1.1h-1.2zM145.6 128.2h1.2v1.1h-1.2zM150.2 106.6h1.2v1.1h-1.2zM139.1 103.7h1.2v1.1h-1.2zM158.7 90.9h1.2v1.1h-1.2zM143.4 104.8h1.2v1.1h-1.2zM147.8 110.7h1.2v1.1h-1.2zM143.0 101.0h1.2v1.1h-1.2zM139.5 99.5h1.2v1.1h-1.2zM146.7 104.4h1.2v1.1h-1.2zM143.7 111.3h1.2v1.1h-1.2zM147.7 87.9h1.2v1.1h-1.2zM137.7 113.7h1.2v1.1h-1.2zM138.8 113.3h1.2v1.1h-1.2zM144.7 110.1h1.2v1.1h-1.2zM155.0 123.8h1.2v1.1h-1.2zM162.3 100.4h1.2v1.1h-1.2zM139.0 133.5h1.2v1.1h-1.2zM139.0 104.6h1.2v1.1h-1.2zM147.7 100.1h1.2v1.1h-1.2zM137.8 113.9h1.2v1.1h-1.2zM157.1 87.5h1.2v1.1h-1.2zM138.8 102.7h1.2v1.1h-1.2zM150.3 117.6h1.2v1.1h-1.2zM143.2 93.4h1.2v1.1h-1.2zM145.8 86.7h1.2v1.1h-1.2zM141.9 104.4h1.2v1.1h-1.2zM143.9 111.0h1.2v1.1h-1.2zM138.3 131.8h1.2v1.1h-1.2zM156.9 86.9h1.2v1.1h-1.2zM166.6 87.0h1.2v1.1h-1.2zM174.3 114.3h1.2v1.1h-1.2zM181.0 86.8h1.2v1.1h-1.2zM148.3 109.6h1.2v1.1h-1.2zM157.1 90.0h1.2v1.1h-1.2zM181.1 86.8h1.2v1.1h-1.2zM143.1 126.9h1.2v1.1h-1.2zM142.7 115.6h1.2v1.1h-1.2zM149.0 93.6h1.2v1.1h-1.2zM143.5 103.2h1.2v1.1h-1.2zM142.2 122.1h1.2v1.1h-1.2zM138.0 110.5h1.2v1.1h-1.2zM166.9 90.9h1.2v1.1h-1.2zM157.8 87.5h1.2v1.1h-1.2zM157.3 93.2h1.2v1.1h-1.2zM147.1 101.5h1.2v1.1h-1.2zM146.7 103.5h1.2v1.1h-1.2zM137.1 121.4h1.2v1.1h-1.2zM140.6 120.8h1.2v1.1h-1.2zM137.9 108.0h1.2v1.1h-1.2zM145.7 128.7h1.2v1.1h-1.2zM146.9 104.9h1.2v1.1h-1.2zM138.7 102.4h1.2v1.1h-1.2zM142.0 119.5h1.2v1.1h-1.2zM139.7 115.8h1.2v1.1h-1.2zM157.6 86.8h1.2v1.1h-1.2zM156.3 87.2h1.2v1.1h-1.2zM156.3 93.3h1.2v1.1h-1.2zM135.4 128.3h1.2v1.1h-1.2zM141.3 93.2h1.2v1.1h-1.2zM142.4 116.6h1.2v1.1h-1.2zM161.7 98.3h1.2v1.1h-1.2zM140.9 99.0h1.2v1.1h-1.2zM139.4 128.8h1.2v1.1h-1.2zM152.9 113.9h1.2v1.1h-1.2zM139.0 115.7h1.2v1.1h-1.2zM138.8 117.8h1.2v1.1h-1.2zM141.5 131.5h1.2v1.1h-1.2zM141.4 102.3h1.2v1.1h-1.2zM153.3 94.3h1.2v1.1h-1.2zM162.2 97.9h1.2v1.1h-1.2zM144.1 92.4h1.2v1.1h-1.2zM144.6 112.3h1.2v1.1h-1.2zM143.4 111.4h1.2v1.1h-1.2zM151.4 113.6h1.2v1.1h-1.2zM139.7 109.5h1.2v1.1h-1.2zM143.8 107.7h1.2v1.1h-1.2zM145.6 120.0h1.2v1.1h-1.2zM150.2 114.8h1.2v1.1h-1.2zM141.6 98.6h1.2v1.1h-1.2zM134.9 133.6h1.2v1.1h-1.2zM156.7 86.8h1.2v1.1h-1.2zM149.5 88.8h1.2v1.1h-1.2zM154.1 91.0h1.2v1.1h-1.2zM139.4 120.3h1.2v1.1h-1.2zM158.2 87.3h1.2v1.1h-1.2zM146.7 87.2h1.2v1.1h-1.2zM146.2 104.9h1.2v1.1h-1.2zM148.6 127.8h1.2v1.1h-1.2zM175.9 90.8h1.2v1.1h-1.2zM148.6 95.5h1.2v1.1h-1.2zM138.2 118.8h1.2v1.1h-1.2zM141.4 116.7h1.2v1.1h-1.2zM143.2 104.2h1.2v1.1h-1.2zM144.5 125.5h1.2v1.1h-1.2zM148.8 86.7h1.2v1.1h-1.2zM142.0 115.7h1.2v1.1h-1.2zM150.9 87.0h1.2v1.1h-1.2zM179.1 87.1h1.2v1.1h-1.2zM145.8 101.0h1.2v1.1h-1.2zM141.2 102.7h1.2v1.1h-1.2zM139.6 112.8h1.2v1.1h-1.2zM153.9 87.0h1.2v1.1h-1.2zM136.1 125.0h1.2v1.1h-1.2zM136.6 132.7h1.2v1.1h-1.2zM137.7 115.5h1.2v1.1h-1.2zM150.4 103.8h1.2v1.1h-1.2zM141.6 115.0h1.2v1.1h-1.2zM140.7 111.9h1.2v1.1h-1.2zM151.2 86.8h1.2v1.1h-1.2zM157.5 109.4h1.2v1.1h-1.2zM163.9 86.8h1.2v1.1h-1.2zM164.2 87.0h1.2v1.1h-1.2zM148.8 108.3h1.2v1.1h-1.2zM140.9 109.6h1.2v1.1h-1.2zM138.5 116.2h1.2v1.1h-1.2zM154.8 87.6h1.2v1.1h-1.2zM152.9 106.2h1.2v1.1h-1.2zM166.8 126.0h1.2v1.1h-1.2zM137.7 118.3h1.2v1.1h-1.2zM139.0 126.6h1.2v1.1h-1.2zM142.5 117.7h1.2v1.1h-1.2zM142.4 110.8h1.2v1.1h-1.2zM161.7 87.4h1.2v1.1h-1.2zM142.4 110.6h1.2v1.1h-1.2zM140.4 115.0h1.2v1.1h-1.2zM150.1 89.5h1.2v1.1h-1.2zM137.8 120.0h1.2v1.1h-1.2zM145.5 86.7h1.2v1.1h-1.2zM151.9 118.5h1.2v1.1h-1.2zM142.7 92.2h1.2v1.1h-1.2zM180.4 87.1h1.2v1.1h-1.2zM146.1 98.1h1.2v1.1h-1.2zM142.6 123.3h1.2v1.1h-1.2zM146.7 92.1h1.2v1.1h-1.2zM144.9 101.6h1.2v1.1h-1.2zM147.5 105.2h1.2v1.1h-1.2zM160.0 91.6h1.2v1.1h-1.2zM139.3 102.0h1.2v1.1h-1.2zM136.2 123.7h1.2v1.1h-1.2zM136.9 124.6h1.2v1.1h-1.2zM148.9 115.8h1.2v1.1h-1.2zM137.4 122.5h1.2v1.1h-1.2zM137.4 121.5h1.2v1.1h-1.2zM145.0 106.7h1.2v1.1h-1.2zM145.8 106.4h1.2v1.1h-1.2zM141.0 100.3h1.2v1.1h-1.2zM150.6 96.3h1.2v1.1h-1.2zM145.6 87.0h1.2v1.1h-1.2zM137.5 133.2h1.2v1.1h-1.2zM139.7 126.9h1.2v1.1h-1.2zM141.6 103.3h1.2v1.1h-1.2zM143.8 93.9h1.2v1.1h-1.2zM143.3 105.9h1.2v1.1h-1.2zM135.1 136.2h1.2v1.1h-1.2zM147.7 95.3h1.2v1.1h-1.2zM155.8 87.6h1.2v1.1h-1.2zM138.4 119.8h1.2v1.1h-1.2zM147.4 87.4h1.2v1.1h-1.2zM137.3 119.0h1.2v1.1h-1.2zM184.5 99.2h1.2v1.1h-1.2zM159.3 89.1h1.2v1.1h-1.2zM149.6 97.2h1.2v1.1h-1.2zM169.0 87.6h1.2v1.1h-1.2zM148.5 88.4h1.2v1.1h-1.2zM150.9 86.9h1.2v1.1h-1.2zM143.7 112.0h1.2v1.1h-1.2zM145.3 90.2h1.2v1.1h-1.2zM138.9 123.2h1.2v1.1h-1.2zM138.7 131.6h1.2v1.1h-1.2zM143.6 124.3h1.2v1.1h-1.2zM144.8 110.1h1.2v1.1h-1.2zM154.6 90.6h1.2v1.1h-1.2zM147.7 92.4h1.2v1.1h-1.2zM142.8 117.7h1.2v1.1h-1.2zM140.8 118.4h1.2v1.1h-1.2zM166.1 86.8h1.2v1.1h-1.2zM151.7 110.8h1.2v1.1h-1.2zM148.4 122.5h1.2v1.1h-1.2zM135.5 122.1h1.2v1.1h-1.2zM153.0 90.2h1.2v1.1h-1.2zM145.3 86.8h1.2v1.1h-1.2zM135.2 123.0h1.2v1.1h-1.2zM144.4 113.0h1.2v1.1h-1.2zM158.3 88.2h1.2v1.1h-1.2zM145.6 109.1h1.2v1.1h-1.2zM136.4 123.3h1.2v1.1h-1.2zM147.4 94.0h1.2v1.1h-1.2zM149.9 114.0h1.2v1.1h-1.2zM138.2 120.5h1.2v1.1h-1.2zM156.2 87.3h1.2v1.1h-1.2zM144.2 98.5h1.2v1.1h-1.2zM141.7 104.5h1.2v1.1h-1.2zM156.0 99.6h1.2v1.1h-1.2zM140.3 118.7h1.2v1.1h-1.2zM152.9 88.4h1.2v1.1h-1.2zM137.3 112.3h1.2v1.1h-1.2zM145.8 100.1h1.2v1.1h-1.2zM142.7 91.3h1.2v1.1h-1.2zM141.2 107.3h1.2v1.1h-1.2zM138.1 128.6h1.2v1.1h-1.2zM152.7 87.2h1.2v1.1h-1.2zM138.1 116.9h1.2v1.1h-1.2zM143.4 106.9h1.2v1.1h-1.2zM143.4 122.1h1.2v1.1h-1.2zM146.0 98.9h1.2v1.1h-1.2zM142.7 122.2h1.2v1.1h-1.2zM141.1 117.4h1.2v1.1h-1.2zM147.5 87.2h1.2v1.1h-1.2zM139.9 109.8h1.2v1.1h-1.2zM156.8 87.4h1.2v1.1h-1.2zM143.7 110.2h1.2v1.1h-1.2zM147.4 97.8h1.2v1.1h-1.2zM192.2 94.9h1.2v1.1h-1.2zM146.1 113.1h1.2v1.1h-1.2zM149.8 100.6h1.2v1.1h-1.2zM146.8 111.3h1.2v1.1h-1.2zM158.2 87.5h1.2v1.1h-1.2zM139.0 106.1h1.2v1.1h-1.2zM147.6 91.3h1.2v1.1h-1.2zM159.4 101.0h1.2v1.1h-1.2zM147.9 99.1h1.2v1.1h-1.2zM149.5 91.2h1.2v1.1h-1.2zM151.3 113.2h1.2v1.1h-1.2zM149.4 86.9h1.2v1.1h-1.2zM173.4 87.6h1.2v1.1h-1.2zM164.3 96.7h1.2v1.1h-1.2zM140.4 106.7h1.2v1.1h-1.2zM149.4 98.7h1.2v1.1h-1.2zM141.8 131.5h1.2v1.1h-1.2zM166.7 86.8h1.2v1.1h-1.2zM154.9 103.3h1.2v1.1h-1.2zM141.6 124.6h1.2v1.1h-1.2zM146.4 109.4h1.2v1.1h-1.2zM139.1 106.4h1.2v1.1h-1.2zM142.3 96.1h1.2v1.1h-1.2zM135.4 128.5h1.2v1.1h-1.2zM141.9 110.6h1.2v1.1h-1.2zM137.8 118.7h1.2v1.1h-1.2zM136.5 117.5h1.2v1.1h-1.2zM153.5 102.6h1.2v1.1h-1.2zM148.0 89.4h1.2v1.1h-1.2zM167.1 86.9h1.2v1.1h-1.2zM137.6 114.4h1.2v1.1h-1.2zM138.7 110.4h1.2v1.1h-1.2zM138.6 112.8h1.2v1.1h-1.2zM156.2 90.1h1.2v1.1h-1.2zM154.5 108.6h1.2v1.1h-1.2zM137.0 132.8h1.2v1.1h-1.2zM142.2 92.1h1.2v1.1h-1.2zM138.2 111.9h1.2v1.1h-1.2zM139.6 113.4h1.2v1.1h-1.2zM149.5 100.3h1.2v1.1h-1.2zM169.2 87.1h1.2v1.1h-1.2zM145.3 92.9h1.2v1.1h-1.2zM155.0 87.0h1.2v1.1h-1.2zM144.6 90.7h1.2v1.1h-1.2zM141.7 129.9h1.2v1.1h-1.2zM140.5 119.2h1.2v1.1h-1.2zM150.0 112.1h1.2v1.1h-1.2zM145.3 117.0h1.2v1.1h-1.2zM135.4 129.7h1.2v1.1h-1.2zM137.9 117.2h1.2v1.1h-1.2zM141.2 101.3h1.2v1.1h-1.2zM136.6 117.5h1.2v1.1h-1.2zM158.1 87.1h1.2v1.1h-1.2zM180.1 87.2h1.2v1.1h-1.2zM172.9 86.8h1.2v1.1h-1.2zM143.0 98.4h1.2v1.1h-1.2zM134.7 132.7h1.2v1.1h-1.2zM142.0 111.4h1.2v1.1h-1.2zM136.3 126.7h1.2v1.1h-1.2zM136.6 131.3h1.2v1.1h-1.2zM142.5 124.8h1.2v1.1h-1.2z" fill="#a2223f"/>
<line x1="38.7" y1="81.7" x2="38.7" y2="258.6" stroke="#231f20" stroke-width="1.1"/>
<line x1="38.2" y1="258.1" x2="215.4" y2="258.1" stroke="#231f20" stroke-width="1.1"/>
<line x1="35.8" y1="120.2" x2="38.7" y2="120.2" stroke="#231f20" stroke-width="1"/>
<text x="33" y="122.4" font-size="6.6" fill="#231f20" stroke="#231f20" stroke-width="0.12" text-anchor="end">1.5</text>
<line x1="35.8" y1="164" x2="38.7" y2="164" stroke="#231f20" stroke-width="1"/>
<text x="33" y="166.2" font-size="6.6" fill="#231f20" stroke="#231f20" stroke-width="0.12" text-anchor="end">1.0</text>
<line x1="35.8" y1="207.8" x2="38.7" y2="207.8" stroke="#231f20" stroke-width="1"/>
<text x="33" y="210" font-size="6.6" fill="#231f20" stroke="#231f20" stroke-width="0.12" text-anchor="end">0.5</text>
<line x1="35.8" y1="251.6" x2="38.7" y2="251.6" stroke="#231f20" stroke-width="1"/>
<text x="33" y="253.8" font-size="6.6" fill="#231f20" stroke="#231f20" stroke-width="0.12" text-anchor="end">0.0</text>
<line x1="45.3" y1="258.1" x2="45.3" y2="261.3" stroke="#231f20" stroke-width="1"/>
<text x="43.9" y="270.6" font-size="6.6" fill="#231f20" stroke="#231f20" stroke-width="0.12" text-anchor="middle">−3</text>
<line x1="72.6" y1="258.1" x2="72.6" y2="261.3" stroke="#231f20" stroke-width="1"/>
<text x="71.2" y="270.6" font-size="6.6" fill="#231f20" stroke="#231f20" stroke-width="0.12" text-anchor="middle">−2</text>
<line x1="99.9" y1="258.1" x2="99.9" y2="261.3" stroke="#231f20" stroke-width="1"/>
<text x="98.5" y="270.6" font-size="6.6" fill="#231f20" stroke="#231f20" stroke-width="0.12" text-anchor="middle">−1</text>
<line x1="127.2" y1="258.1" x2="127.2" y2="261.3" stroke="#231f20" stroke-width="1"/>
<text x="127.2" y="270.6" font-size="6.6" fill="#231f20" stroke="#231f20" stroke-width="0.12" text-anchor="middle">0</text>
<line x1="154.5" y1="258.1" x2="154.5" y2="261.3" stroke="#231f20" stroke-width="1"/>
<text x="154.5" y="270.6" font-size="6.6" fill="#231f20" stroke="#231f20" stroke-width="0.12" text-anchor="middle">1</text>
<line x1="181.8" y1="258.1" x2="181.8" y2="261.3" stroke="#231f20" stroke-width="1"/>
<text x="181.8" y="270.6" font-size="6.6" fill="#231f20" stroke="#231f20" stroke-width="0.12" text-anchor="middle">2</text>
<line x1="209.1" y1="258.1" x2="209.1" y2="261.3" stroke="#231f20" stroke-width="1"/>
<text x="209.1" y="270.6" font-size="6.6" fill="#231f20" stroke="#231f20" stroke-width="0.12" text-anchor="middle">3</text>
<line x1="39.5" y1="137.5" x2="215" y2="137.5" stroke="#231f20" stroke-width="1" stroke-dasharray="2.7 4.8"/>
<text x="88.8" y="282.4" font-size="8.6" fill="#231f20" stroke="#231f20" stroke-width="0.25" textLength="77" lengthAdjust="spacingAndGlyphs">log<tspan font-size="6" dy="2">2</tspan><tspan dy="-2">(shNCAM_2/Scr)</tspan></text>
<text transform="translate(16.4 171) rotate(-90)" x="0" y="0" font-size="8.6" fill="#231f20" stroke="#231f20" stroke-width="0.25" text-anchor="middle">−log<tspan font-size="6" dy="2">10</tspan><tspan dy="-2">(q)</tspan></text>
<text x="41.5" y="53.8" font-size="8.6" fill="#3f5a8a" stroke="#3f5a8a" stroke-width="0.25" textLength="68.1" lengthAdjust="spacingAndGlyphs">Low in shNCAM_2</text>
<text x="56" y="64.6" font-size="8.6" fill="#231f20" stroke="#231f20" stroke-width="0.25" textLength="40.5" lengthAdjust="spacingAndGlyphs">1086 sites/</text>
<text x="52.6" y="75.1" font-size="8.6" fill="#231f20" stroke="#231f20" stroke-width="0.25" textLength="46.6" lengthAdjust="spacingAndGlyphs">350 proteins</text>
<text x="136" y="53.8" font-size="8.6" fill="#9e3045" stroke="#9e3045" stroke-width="0.25" textLength="71" lengthAdjust="spacingAndGlyphs">High in shNCAM_2</text>
<text x="153.8" y="64.6" font-size="8.6" fill="#231f20" stroke="#231f20" stroke-width="0.25" textLength="35.8" lengthAdjust="spacingAndGlyphs">807 sites/</text>
<text x="148" y="75.1" font-size="8.6" fill="#231f20" stroke="#231f20" stroke-width="0.25" textLength="47" lengthAdjust="spacingAndGlyphs">313 proteins</text>
<rect x="412.2" y="7.8" width="91.6" height="4" fill="#9c2f40"/>
<text x="243.8" y="13.75" font-size="6.4" fill="#231f20" stroke="#231f20" stroke-width="0.12" textLength="70.4" lengthAdjust="spacingAndGlyphs">ROBO1 - Q9Y6N7 (S1055)</text>
<rect x="412.2" y="14.88" width="84.7" height="4" fill="#9c2f40"/>
<text x="253.9" y="20.8" font-size="6.4" fill="#231f20" stroke="#231f20" stroke-width="0.12" textLength="60.3" lengthAdjust="spacingAndGlyphs">PAK1 - Q13153 (S139)</text>
<rect x="412.2" y="21.96" width="74.3" height="4" fill="#9c2f40"/>
<text x="247" y="27.86" font-size="6.4" fill="#231f20" stroke="#231f20" stroke-width="0.12" textLength="67.2" lengthAdjust="spacingAndGlyphs">ROBO1 - Q9Y6N7 (S940)</text>
<rect x="412.2" y="29.04" width="58.8" height="4" fill="#9c2f40"/>
<text x="253.9" y="34.91" font-size="6.4" fill="#231f20" stroke="#231f20" stroke-width="0.12" textLength="60.3" lengthAdjust="spacingAndGlyphs">PAK1 - Q13153 (S144)</text>
<rect x="412.2" y="36.12" width="58.2" height="4" fill="#9c2f40"/>
<text x="253.9" y="41.97" font-size="6.4" fill="#231f20" stroke="#231f20" stroke-width="0.12" textLength="60.3" lengthAdjust="spacingAndGlyphs">STK4 - Q13188 (T174)</text>
<rect x="412.2" y="43.2" width="43.4" height="4" fill="#9c2f40"/>
<text x="255.8" y="49.02" font-size="6.4" fill="#231f20" stroke="#231f20" stroke-width="0.12" textLength="58.4" lengthAdjust="spacingAndGlyphs">BAD - Q92934 (S118)</text>
<rect x="412.2" y="50.28" width="33.5" height="4" fill="#9c2f40"/>
<text x="258.7" y="56.07" font-size="6.4" fill="#231f20" stroke="#231f20" stroke-width="0.12" textLength="55.5" lengthAdjust="spacingAndGlyphs">RB1 - P06400 (S811)</text>
<rect x="412.2" y="57.36" width="27.5" height="4" fill="#9c2f40"/>
<text x="258.7" y="63.13" font-size="6.4" fill="#231f20" stroke="#231f20" stroke-width="0.12" textLength="55.5" lengthAdjust="spacingAndGlyphs">RB1 - P06400 (S788)</text>
<rect x="412.2" y="64.44" width="24.5" height="4" fill="#9c2f40"/>
<text x="258.7" y="70.18" font-size="6.4" fill="#231f20" stroke="#231f20" stroke-width="0.12" textLength="55.5" lengthAdjust="spacingAndGlyphs">RB1 - P06400 (S795)</text>
<rect x="390" y="71.52" width="22.2" height="4" fill="#465e80"/>
<text x="245.7" y="77.24" font-size="6.4" fill="#231f20" stroke="#231f20" stroke-width="0.12" textLength="68.5" lengthAdjust="spacingAndGlyphs">MAP2K2 - P36507 (S295)</text>
<rect x="386.2" y="78.6" width="26" height="4" fill="#465e80"/>
<text x="261.6" y="84.29" font-size="6.4" fill="#231f20" stroke="#231f20" stroke-width="0.12" textLength="52.6" lengthAdjust="spacingAndGlyphs">FYN - P06241 (S21)</text>
<rect x="385.2" y="85.68" width="27" height="4" fill="#465e80"/>
<text x="248.6" y="91.34" font-size="6.4" fill="#231f20" stroke="#231f20" stroke-width="0.12" textLength="65.6" lengthAdjust="spacingAndGlyphs">RPTOR - Q8N122 (S863)</text>
<rect x="381.2" y="92.76" width="31" height="4" fill="#465e80"/>
<text x="261.9" y="98.4" font-size="6.4" fill="#231f20" stroke="#231f20" stroke-width="0.12" textLength="52.3" lengthAdjust="spacingAndGlyphs">LYN - P07948 (S13)</text>
<rect x="381.2" y="99.84" width="31" height="4" fill="#465e80"/>
<text x="251" y="105.45" font-size="6.4" fill="#231f20" stroke="#231f20" stroke-width="0.12" textLength="63.2" lengthAdjust="spacingAndGlyphs">CREB1 - P16220 (S111)</text>
<rect x="381" y="106.92" width="31.2" height="4" fill="#465e80"/>
<text x="254.4" y="112.51" font-size="6.4" fill="#231f20" stroke="#231f20" stroke-width="0.12" textLength="59.8" lengthAdjust="spacingAndGlyphs">JUNB - P17275 (S259)</text>
<rect x="380.8" y="114" width="31.4" height="4" fill="#465e80"/>
<text x="248.6" y="119.56" font-size="6.4" fill="#231f20" stroke="#231f20" stroke-width="0.12" textLength="65.6" lengthAdjust="spacingAndGlyphs">RPTOR - Q8N122 (S877)</text>
<rect x="380" y="121.08" width="32.2" height="4" fill="#465e80"/>
<text x="252.9" y="126.61" font-size="6.4" fill="#231f20" stroke="#231f20" stroke-width="0.12" textLength="61.3" lengthAdjust="spacingAndGlyphs">STAT1 - P42224 (S727)</text>
<rect x="380" y="128.16" width="32.2" height="4" fill="#465e80"/>
<text x="253.9" y="133.67" font-size="6.4" fill="#231f20" stroke="#231f20" stroke-width="0.12" textLength="60.3" lengthAdjust="spacingAndGlyphs">JUNB - P17275 (T255)</text>
<rect x="379" y="135.24" width="33.2" height="4" fill="#465e80"/>
<text x="254.7" y="140.72" font-size="6.4" fill="#231f20" stroke="#231f20" stroke-width="0.12" textLength="59.5" lengthAdjust="spacingAndGlyphs">CRKL - P46109 (S107)</text>
<rect x="377.1" y="142.32" width="35.1" height="4" fill="#465e80"/>
<text x="248.6" y="147.78" font-size="6.4" fill="#231f20" stroke="#231f20" stroke-width="0.12" textLength="65.6" lengthAdjust="spacingAndGlyphs">MAPK1 - P28482 (T185)</text>
<rect x="376.2" y="149.4" width="36" height="4" fill="#465e80"/>
<text x="251" y="154.83" font-size="6.4" fill="#231f20" stroke="#231f20" stroke-width="0.12" textLength="63.2" lengthAdjust="spacingAndGlyphs">FOSL2 - P15408 (S120)</text>
<rect x="376" y="156.48" width="36.2" height="4" fill="#465e80"/>
<text x="243.8" y="161.88" font-size="6.4" fill="#231f20" stroke="#231f20" stroke-width="0.12" textLength="70.4" lengthAdjust="spacingAndGlyphs">RICTOR - Q6R327 (S1174)</text>
<rect x="376" y="163.56" width="36.2" height="4" fill="#465e80"/>
<text x="243.8" y="168.94" font-size="6.4" fill="#231f20" stroke="#231f20" stroke-width="0.12" textLength="70.4" lengthAdjust="spacingAndGlyphs">RICTOR - Q6R327 (S1177)</text>
<rect x="374.4" y="170.64" width="37.8" height="4" fill="#465e80"/>
<text x="251" y="175.99" font-size="6.4" fill="#231f20" stroke="#231f20" stroke-width="0.12" textLength="63.2" lengthAdjust="spacingAndGlyphs">RBL2 - Q08999 (S1080)</text>
<rect x="373.5" y="177.72" width="38.7" height="4" fill="#465e80"/>
<text x="251.5" y="183.05" font-size="6.4" fill="#231f20" stroke="#231f20" stroke-width="0.12" textLength="62.7" lengthAdjust="spacingAndGlyphs">FOSL2 - P15408 (S230)</text>
<rect x="373.3" y="184.8" width="38.9" height="4" fill="#465e80"/>
<text x="254" y="190.1" font-size="6.4" fill="#231f20" stroke="#231f20" stroke-width="0.12" textLength="60.2" lengthAdjust="spacingAndGlyphs">RBL2 - Q08999 (S662)</text>
<rect x="372" y="191.88" width="40.2" height="4" fill="#465e80"/>
<text x="254.8" y="197.15" font-size="6.4" fill="#231f20" stroke="#231f20" stroke-width="0.12" textLength="59.4" lengthAdjust="spacingAndGlyphs">JUNB - P17275 (S251)</text>
<rect x="368" y="198.96" width="44.2" height="4" fill="#465e80"/>
<text x="254" y="204.21" font-size="6.4" fill="#231f20" stroke="#231f20" stroke-width="0.12" textLength="60.2" lengthAdjust="spacingAndGlyphs">RBL2 - Q08999 (T401)</text>
<rect x="367.5" y="206.04" width="44.7" height="4" fill="#465e80"/>
<text x="251.1" y="211.26" font-size="6.4" fill="#231f20" stroke="#231f20" stroke-width="0.12" textLength="63.1" lengthAdjust="spacingAndGlyphs">RBL2 - Q08999 (S1068)</text>
<rect x="367.1" y="213.12" width="45.1" height="4" fill="#465e80"/>
<text x="256.4" y="218.32" font-size="6.4" fill="#231f20" stroke="#231f20" stroke-width="0.12" textLength="57.8" lengthAdjust="spacingAndGlyphs">MYC - P01106 (S281)</text>
<rect x="364.2" y="220.2" width="48" height="4" fill="#465e80"/>
<text x="245.5" y="225.37" font-size="6.4" fill="#231f20" stroke="#231f20" stroke-width="0.12" textLength="68.7" lengthAdjust="spacingAndGlyphs">BCL11A - Q9H165 (S205)</text>
<rect x="364.2" y="227.28" width="48" height="4" fill="#465e80"/>
<text x="239.3" y="232.42" font-size="6.4" fill="#231f20" stroke="#231f20" stroke-width="0.12" textLength="74.9" lengthAdjust="spacingAndGlyphs">MAP2K1/2 - P36507 (S226)</text>
<rect x="363.7" y="234.36" width="48.5" height="4" fill="#465e80"/>
<text x="259.6" y="239.48" font-size="6.4" fill="#231f20" stroke="#231f20" stroke-width="0.12" textLength="54.6" lengthAdjust="spacingAndGlyphs">MYC - P01106 (T58)</text>
<rect x="362.9" y="241.44" width="49.3" height="4" fill="#465e80"/>
<text x="251.1" y="246.53" font-size="6.4" fill="#231f20" stroke="#231f20" stroke-width="0.12" textLength="63.1" lengthAdjust="spacingAndGlyphs">FOSL2 - P15408 (S200)</text>
<rect x="361.5" y="248.52" width="50.7" height="4" fill="#465e80"/>
<text x="250.8" y="253.59" font-size="6.4" fill="#231f20" stroke="#231f20" stroke-width="0.12" textLength="63.4" lengthAdjust="spacingAndGlyphs">RBL2 - Q08999 (S1059)</text>
<rect x="361.2" y="255.6" width="51" height="4" fill="#465e80"/>
<text x="256.4" y="260.64" font-size="6.4" fill="#231f20" stroke="#231f20" stroke-width="0.12" textLength="57.8" lengthAdjust="spacingAndGlyphs">MYC - P01106 (S293)</text>
<rect x="359.4" y="262.68" width="52.8" height="4" fill="#465e80"/>
<text x="250.8" y="267.69" font-size="6.4" fill="#231f20" stroke="#231f20" stroke-width="0.12" textLength="63.4" lengthAdjust="spacingAndGlyphs">RBL2 - Q08999 (T1065)</text>
<rect x="354" y="269.76" width="58.2" height="4" fill="#465e80"/>
<text x="245.5" y="274.75" font-size="6.4" fill="#231f20" stroke="#231f20" stroke-width="0.12" textLength="68.7" lengthAdjust="spacingAndGlyphs">BCL11A - Q9H165 (S625)</text>
<rect x="349" y="276.84" width="63.2" height="4" fill="#465e80"/>
<text x="245.2" y="281.8" font-size="6.4" fill="#231f20" stroke="#231f20" stroke-width="0.12" textLength="69" lengthAdjust="spacingAndGlyphs">BCL11A - Q9H165 (T208)</text>
<rect x="342.3" y="283.92" width="69.9" height="4" fill="#465e80"/>
<text x="245.5" y="288.86" font-size="6.4" fill="#231f20" stroke="#231f20" stroke-width="0.12" textLength="68.7" lengthAdjust="spacingAndGlyphs">BCL11A - Q9H165 (S630)</text>
<rect x="331.9" y="291" width="80.3" height="4" fill="#465e80"/>
<text x="262.7" y="295.91" font-size="6.4" fill="#231f20" stroke="#231f20" stroke-width="0.12" textLength="51.5" lengthAdjust="spacingAndGlyphs">MYC - P01106 (S6)</text>
<line x1="412.2" y1="6.5" x2="412.2" y2="296.3" stroke="#231f20" stroke-width="1.1"/>
<line x1="317.6" y1="296.3" x2="507" y2="296.3" stroke="#231f20" stroke-width="1.1"/>
<text x="316.9" y="305.6" font-size="6.4" fill="#231f20" stroke="#231f20" stroke-width="0.12" text-anchor="middle">-2.0</text>
<text x="340.5" y="305.6" font-size="6.4" fill="#231f20" stroke="#231f20" stroke-width="0.12" text-anchor="middle">-1.5</text>
<text x="364.1" y="305.6" font-size="6.4" fill="#231f20" stroke="#231f20" stroke-width="0.12" text-anchor="middle">-1.0</text>
<text x="387.7" y="305.6" font-size="6.4" fill="#231f20" stroke="#231f20" stroke-width="0.12" text-anchor="middle">-0.5</text>
<text x="412.2" y="305.6" font-size="6.4" fill="#231f20" stroke="#231f20" stroke-width="0.12" text-anchor="middle">0.0</text>
<text x="435.8" y="305.6" font-size="6.4" fill="#231f20" stroke="#231f20" stroke-width="0.12" text-anchor="middle">0.5</text>
<text x="459.4" y="305.6" font-size="6.4" fill="#231f20" stroke="#231f20" stroke-width="0.12" text-anchor="middle">1.0</text>
<text x="483" y="305.6" font-size="6.4" fill="#231f20" stroke="#231f20" stroke-width="0.12" text-anchor="middle">1.5</text>
<text x="506.6" y="305.6" font-size="6.4" fill="#231f20" stroke="#231f20" stroke-width="0.12" text-anchor="middle">2.0</text>
<text x="373.7" y="317.8" font-size="8.6" fill="#231f20" stroke="#231f20" stroke-width="0.25" textLength="77.3" lengthAdjust="spacingAndGlyphs">log<tspan font-size="6" dy="2">2</tspan><tspan dy="-2">(shNCAM_2/Scr)</tspan></text>
<text x="461" y="62.8" font-size="6" fill="#9e3045" stroke="#9e3045" stroke-width="0.12" textLength="44.5" lengthAdjust="spacingAndGlyphs">High in shNCAM_2</text>
<text x="444.9" y="242.2" font-size="6" fill="#3f5a8a" stroke="#3f5a8a" stroke-width="0.12" textLength="43.4" lengthAdjust="spacingAndGlyphs">Low in shNCAM_2</text>
<rect x="135.6" y="350.8" width="27.7" height="7" fill="#9c2f40"/>
<text x="47.5" y="356.9" font-size="6.7" fill="#231f20" stroke="#231f20" stroke-width="0.12" textLength="85" lengthAdjust="spacingAndGlyphs">regulation of mitotic cell cycle</text>
<text x="172" y="356.9" font-size="6.45" fill="#231f20" stroke="#231f20" stroke-width="0.12">3.3e−08</text>
<rect x="135.6" y="364.92" width="30.2" height="7" fill="#9c2f40"/>
<text x="35" y="371.02" font-size="6.7" fill="#231f20" stroke="#231f20" stroke-width="0.12" textLength="97.5" lengthAdjust="spacingAndGlyphs">neuron projection morphogenesis</text>
<text x="172" y="371.02" font-size="6.45" fill="#231f20" stroke="#231f20" stroke-width="0.12">8.2e−08</text>
<rect x="135.6" y="379.04" width="16.1" height="7" fill="#9c2f40"/>
<text x="62.5" y="385.14" font-size="6.7" fill="#231f20" stroke="#231f20" stroke-width="0.12" textLength="70" lengthAdjust="spacingAndGlyphs">protein phosphorylation</text>
<text x="172" y="385.14" font-size="6.45" fill="#231f20" stroke="#231f20" stroke-width="0.12">4.5e−05</text>
<rect x="135.6" y="393.16" width="19.5" height="7" fill="#9c2f40"/>
<text x="43.6" y="399.26" font-size="6.7" fill="#231f20" stroke="#231f20" stroke-width="0.12" textLength="88.9" lengthAdjust="spacingAndGlyphs">regulation of apoptotic process</text>
<text x="172" y="399.26" font-size="6.45" fill="#231f20" stroke="#231f20" stroke-width="0.12">1.2e−04</text>
<rect x="135.6" y="407.28" width="27.1" height="7" fill="#9c2f40"/>
<text x="15.6" y="413.38" font-size="6.7" fill="#231f20" stroke="#231f20" stroke-width="0.12" textLength="116.9" lengthAdjust="spacingAndGlyphs">protein localization to plasma membrane</text>
<text x="172" y="413.38" font-size="6.45" fill="#231f20" stroke="#231f20" stroke-width="0.12">5.5e−04</text>
<line x1="135.6" y1="348.3" x2="135.6" y2="420.2" stroke="#231f20" stroke-width="1.1"/>
<line x1="135.1" y1="419.7" x2="181.8" y2="419.7" stroke="#231f20" stroke-width="1.1"/>
<line x1="135.6" y1="419.7" x2="135.6" y2="422.3" stroke="#231f20" stroke-width="0.9"/>
<line x1="142.8" y1="419.7" x2="142.8" y2="422.3" stroke="#231f20" stroke-width="0.9"/>
<line x1="150" y1="419.7" x2="150" y2="422.3" stroke="#231f20" stroke-width="0.9"/>
<line x1="157.2" y1="419.7" x2="157.2" y2="422.3" stroke="#231f20" stroke-width="0.9"/>
<line x1="164.4" y1="419.7" x2="164.4" y2="422.3" stroke="#231f20" stroke-width="0.9"/>
<line x1="171.6" y1="419.7" x2="171.6" y2="422.3" stroke="#231f20" stroke-width="0.9"/>
<line x1="178.8" y1="419.7" x2="178.8" y2="422.3" stroke="#231f20" stroke-width="0.9"/>
<text x="135.6" y="431.9" font-size="6.6" fill="#231f20" stroke="#231f20" stroke-width="0.12" text-anchor="middle">0.0</text>
<text x="150" y="431.9" font-size="6.6" fill="#231f20" stroke="#231f20" stroke-width="0.12" text-anchor="middle">1.0</text>
<text x="164.4" y="431.9" font-size="6.6" fill="#231f20" stroke="#231f20" stroke-width="0.12" text-anchor="middle">2.0</text>
<text x="178.8" y="431.9" font-size="6.6" fill="#231f20" stroke="#231f20" stroke-width="0.12" text-anchor="middle">3.0</text>
<rect x="382.1" y="350.8" width="34.6" height="7" fill="#465e80"/>
<text x="291.25" y="356.9" font-size="6.7" fill="#231f20" stroke="#231f20" stroke-width="0.12" textLength="87.65" lengthAdjust="spacingAndGlyphs">regulation of glucose transport</text>
<text x="422.8" y="356.9" font-size="6.45" fill="#231f20" stroke="#231f20" stroke-width="0.12">2.1e−09</text>
<rect x="382.1" y="364.92" width="34.6" height="7" fill="#465e80"/>
<text x="331.25" y="371.02" font-size="6.7" fill="#231f20" stroke="#231f20" stroke-width="0.12" textLength="47.65" lengthAdjust="spacingAndGlyphs">hexose transport</text>
<text x="422.8" y="371.02" font-size="6.45" fill="#231f20" stroke="#231f20" stroke-width="0.12">2.1e−09</text>
<rect x="382.1" y="379.04" width="33.2" height="7" fill="#465e80"/>
<text x="329.25" y="385.14" font-size="6.7" fill="#231f20" stroke="#231f20" stroke-width="0.12" textLength="49.65" lengthAdjust="spacingAndGlyphs">glucose transport</text>
<text x="422.8" y="385.14" font-size="6.45" fill="#231f20" stroke="#231f20" stroke-width="0.12">6.0e−09</text>
<rect x="382.1" y="393.16" width="32.6" height="7" fill="#465e80"/>
<text x="278.8" y="399.26" font-size="6.7" fill="#231f20" stroke="#231f20" stroke-width="0.12" textLength="100.1" lengthAdjust="spacingAndGlyphs">modulation by virus of host process</text>
<text x="422.8" y="399.26" font-size="6.45" fill="#231f20" stroke="#231f20" stroke-width="0.12">9.1e−09</text>
<rect x="382.1" y="407.28" width="32.2" height="7" fill="#465e80"/>
<text x="224.5" y="413.38" font-size="6.7" fill="#231f20" stroke="#231f20" stroke-width="0.12" textLength="154.4" lengthAdjust="spacingAndGlyphs">modulation by virus of host morphology or physiology</text>
<text x="422.8" y="413.38" font-size="6.45" fill="#231f20" stroke="#231f20" stroke-width="0.12">1.1e−08</text>
<line x1="382.1" y1="348.3" x2="382.1" y2="420.2" stroke="#231f20" stroke-width="1.1"/>
<line x1="381.6" y1="419.7" x2="428.8" y2="419.7" stroke="#231f20" stroke-width="1.1"/>
<line x1="382.1" y1="419.7" x2="382.1" y2="422.3" stroke="#231f20" stroke-width="0.9"/>
<line x1="390.75" y1="419.7" x2="390.75" y2="422.3" stroke="#231f20" stroke-width="0.9"/>
<line x1="399.4" y1="419.7" x2="399.4" y2="422.3" stroke="#231f20" stroke-width="0.9"/>
<line x1="408.05" y1="419.7" x2="408.05" y2="422.3" stroke="#231f20" stroke-width="0.9"/>
<line x1="416.7" y1="419.7" x2="416.7" y2="422.3" stroke="#231f20" stroke-width="0.9"/>
<line x1="425.35" y1="419.7" x2="425.35" y2="422.3" stroke="#231f20" stroke-width="0.9"/>
<text x="382.1" y="431.9" font-size="6.6" fill="#231f20" stroke="#231f20" stroke-width="0.12" text-anchor="middle">0.0</text>
<text x="399.4" y="431.9" font-size="6.6" fill="#231f20" stroke="#231f20" stroke-width="0.12" text-anchor="middle">1.0</text>
<text x="416.7" y="431.9" font-size="6.6" fill="#231f20" stroke="#231f20" stroke-width="0.12" text-anchor="middle">2.0</text>
<text x="66.75" y="343.3" font-size="8.6" fill="#9e3045" stroke="#9e3045" stroke-width="0.25" textLength="71.25" lengthAdjust="spacingAndGlyphs">High in shNCAM_2</text>
<text x="296.75" y="343.75" font-size="8.6" fill="#3f5a8a" stroke="#3f5a8a" stroke-width="0.25" textLength="68.25" lengthAdjust="spacingAndGlyphs">Low in shNCAM_2</text>
<text x="126.1" y="443.6" font-size="8.6" fill="#231f20" stroke="#231f20" stroke-width="0.25" textLength="64.6" lengthAdjust="spacingAndGlyphs">log<tspan font-size="6" dy="2">2</tspan><tspan dy="-2">(enrichment)</tspan></text>
<text x="116.2" y="454.5" font-size="8.6" fill="#231f20" stroke="#231f20" stroke-width="0.25" textLength="85.3" lengthAdjust="spacingAndGlyphs">NCAM KD upregulated</text>
<text x="372.6" y="444.3" font-size="8.6" fill="#231f20" stroke="#231f20" stroke-width="0.25" textLength="64.4" lengthAdjust="spacingAndGlyphs">log<tspan font-size="6" dy="2">2</tspan><tspan dy="-2">(enrichment)</tspan></text>
<text x="356.7" y="454.6" font-size="8.6" fill="#231f20" stroke="#231f20" stroke-width="0.25" textLength="97" lengthAdjust="spacingAndGlyphs">NCAM KD downregulated</text>
<text x="120.6" y="480" font-size="7.4" fill="#231f20" stroke="#231f20" stroke-width="0.25" textLength="125.6" lengthAdjust="spacingAndGlyphs">Enrichment in AML cell lines (RNASeq)</text>
<text x="78" y="491.6" font-size="7.6" fill="#231f20" stroke="#231f20" stroke-width="0.25" textLength="54.8" lengthAdjust="spacingAndGlyphs">Enrichment plot:</text>
<text x="44.4" y="501.3" font-size="7.6" fill="#231f20" stroke="#231f20" stroke-width="0.25" textLength="121.2" lengthAdjust="spacingAndGlyphs">REACTOME_GLUCOSE_METABOLISM</text>
<line x1="35.9" y1="564.3" x2="175" y2="564.3" stroke="#c9c9c9" stroke-width="0.7"/>
<line x1="35.9" y1="555.07" x2="175" y2="555.07" stroke="#eeeeee" stroke-width="0.6"/>
<line x1="35.9" y1="545.84" x2="175" y2="545.84" stroke="#eeeeee" stroke-width="0.6"/>
<line x1="35.9" y1="536.61" x2="175" y2="536.61" stroke="#eeeeee" stroke-width="0.6"/>
<line x1="35.9" y1="527.38" x2="175" y2="527.38" stroke="#eeeeee" stroke-width="0.6"/>
<line x1="35.9" y1="518.15" x2="175" y2="518.15" stroke="#eeeeee" stroke-width="0.6"/>
<line x1="35.9" y1="508.92" x2="175" y2="508.92" stroke="#eeeeee" stroke-width="0.6"/>
<line x1="51.45" y1="506.6" x2="51.45" y2="569.4" stroke="#eeeeee" stroke-width="0.6"/>
<line x1="67" y1="506.6" x2="67" y2="569.4" stroke="#eeeeee" stroke-width="0.6"/>
<line x1="82.55" y1="506.6" x2="82.55" y2="569.4" stroke="#eeeeee" stroke-width="0.6"/>
<line x1="98.1" y1="506.6" x2="98.1" y2="569.4" stroke="#eeeeee" stroke-width="0.6"/>
<line x1="113.65" y1="506.6" x2="113.65" y2="569.4" stroke="#eeeeee" stroke-width="0.6"/>
<line x1="129.2" y1="506.6" x2="129.2" y2="569.4" stroke="#eeeeee" stroke-width="0.6"/>
<line x1="144.75" y1="506.6" x2="144.75" y2="569.4" stroke="#eeeeee" stroke-width="0.6"/>
<line x1="160.3" y1="506.6" x2="160.3" y2="569.4" stroke="#eeeeee" stroke-width="0.6"/>
<line x1="35.9" y1="635.2" x2="175" y2="635.2" stroke="#eeeeee" stroke-width="0.6"/>
<line x1="35.9" y1="630.1" x2="175" y2="630.1" stroke="#eeeeee" stroke-width="0.6"/>
<line x1="35.9" y1="625" x2="175" y2="625" stroke="#eeeeee" stroke-width="0.6"/>
<line x1="35.9" y1="619.9" x2="175" y2="619.9" stroke="#eeeeee" stroke-width="0.6"/>
<line x1="35.9" y1="614.8" x2="175" y2="614.8" stroke="#eeeeee" stroke-width="0.6"/>
<line x1="35.9" y1="609.7" x2="175" y2="609.7" stroke="#eeeeee" stroke-width="0.6"/>
<line x1="35.9" y1="604.6" x2="175" y2="604.6" stroke="#eeeeee" stroke-width="0.6"/>
<line x1="35.9" y1="599.5" x2="175" y2="599.5" stroke="#eeeeee" stroke-width="0.6"/>
<line x1="51.45" y1="596" x2="51.45" y2="636.7" stroke="#eeeeee" stroke-width="0.6"/>
<line x1="67" y1="596" x2="67" y2="636.7" stroke="#eeeeee" stroke-width="0.6"/>
<line x1="82.55" y1="596" x2="82.55" y2="636.7" stroke="#eeeeee" stroke-width="0.6"/>
<line x1="98.1" y1="596" x2="98.1" y2="636.7" stroke="#eeeeee" stroke-width="0.6"/>
<line x1="113.65" y1="596" x2="113.65" y2="636.7" stroke="#eeeeee" stroke-width="0.6"/>
<line x1="129.2" y1="596" x2="129.2" y2="636.7" stroke="#eeeeee" stroke-width="0.6"/>
<line x1="144.75" y1="596" x2="144.75" y2="636.7" stroke="#eeeeee" stroke-width="0.6"/>
<line x1="160.3" y1="596" x2="160.3" y2="636.7" stroke="#eeeeee" stroke-width="0.6"/>
<line x1="35.9" y1="569.4" x2="175" y2="569.4" stroke="#d0d0d0" stroke-width="0.7"/>
<line x1="38.2" y1="570" x2="38.2" y2="590.4" stroke="#000" stroke-opacity="0.35" stroke-width="0.7"/>
<line x1="38.8" y1="570" x2="38.8" y2="590.4" stroke="#000" stroke-opacity="0.35" stroke-width="0.7"/>
<line x1="39.5" y1="570" x2="39.5" y2="590.4" stroke="#000" stroke-opacity="0.35" stroke-width="0.7"/>
<line x1="40.3" y1="570" x2="40.3" y2="590.4" stroke="#000" stroke-opacity="0.35" stroke-width="0.7"/>
<line x1="43.4" y1="570" x2="43.4" y2="590.4" stroke="#000" stroke-opacity="1" stroke-width="0.7"/>
<line x1="45" y1="570" x2="45" y2="590.4" stroke="#000" stroke-opacity="0.5" stroke-width="0.7"/>
<line x1="45.8" y1="570" x2="45.8" y2="590.4" stroke="#000" stroke-opacity="0.6" stroke-width="0.7"/>
<line x1="46.5" y1="570" x2="46.5" y2="590.4" stroke="#000" stroke-opacity="0.5" stroke-width="0.7"/>
<line x1="47.5" y1="570" x2="47.5" y2="590.4" stroke="#000" stroke-opacity="0.6" stroke-width="0.7"/>
<line x1="48.3" y1="570" x2="48.3" y2="590.4" stroke="#000" stroke-opacity="0.5" stroke-width="0.7"/>
<line x1="49.2" y1="570" x2="49.2" y2="590.4" stroke="#000" stroke-opacity="0.6" stroke-width="0.7"/>
<line x1="62.5" y1="570" x2="62.5" y2="590.4" stroke="#000" stroke-opacity="0.5" stroke-width="0.7"/>
<line x1="63.5" y1="570" x2="63.5" y2="590.4" stroke="#000" stroke-opacity="0.5" stroke-width="0.7"/>
<line x1="65.8" y1="570" x2="65.8" y2="590.4" stroke="#000" stroke-opacity="0.5" stroke-width="0.7"/>
<line x1="66.6" y1="570" x2="66.6" y2="590.4" stroke="#000" stroke-opacity="0.6" stroke-width="0.7"/>
<line x1="67.3" y1="570" x2="67.3" y2="590.4" stroke="#000" stroke-opacity="0.5" stroke-width="0.7"/>
<line x1="69.6" y1="570" x2="69.6" y2="590.4" stroke="#000" stroke-opacity="0.7" stroke-width="0.7"/>
<line x1="71.7" y1="570" x2="71.7" y2="590.4" stroke="#000" stroke-opacity="0.5" stroke-width="0.7"/>
<line x1="77.3" y1="570" x2="77.3" y2="590.4" stroke="#000" stroke-opacity="0.8" stroke-width="0.7"/>
<line x1="77.9" y1="570" x2="77.9" y2="590.4" stroke="#000" stroke-opacity="0.6" stroke-width="0.7"/>
<line x1="79.8" y1="570" x2="79.8" y2="590.4" stroke="#000" stroke-opacity="0.6" stroke-width="0.7"/>
<line x1="82.1" y1="570" x2="82.1" y2="590.4" stroke="#000" stroke-opacity="0.7" stroke-width="0.7"/>
<line x1="84.4" y1="570" x2="84.4" y2="590.4" stroke="#000" stroke-opacity="0.8" stroke-width="0.7"/>
<line x1="91.5" y1="570" x2="91.5" y2="590.4" stroke="#000" stroke-opacity="0.4" stroke-width="0.7"/>
<line x1="103.9" y1="570" x2="103.9" y2="590.4" stroke="#000" stroke-opacity="0.3" stroke-width="0.7"/>
<line x1="104.8" y1="570" x2="104.8" y2="590.4" stroke="#000" stroke-opacity="0.3" stroke-width="0.7"/>
<line x1="105.7" y1="570" x2="105.7" y2="590.4" stroke="#000" stroke-opacity="0.3" stroke-width="0.7"/>
<line x1="106.4" y1="570" x2="106.4" y2="590.4" stroke="#000" stroke-opacity="0.3" stroke-width="0.7"/>
<line x1="109.8" y1="570" x2="109.8" y2="590.4" stroke="#000" stroke-opacity="0.8" stroke-width="0.7"/>
<line x1="111.3" y1="570" x2="111.3" y2="590.4" stroke="#000" stroke-opacity="0.7" stroke-width="0.7"/>
<line x1="112.9" y1="570" x2="112.9" y2="590.4" stroke="#000" stroke-opacity="0.5" stroke-width="0.7"/>
<line x1="116.8" y1="570" x2="116.8" y2="590.4" stroke="#000" stroke-opacity="0.5" stroke-width="0.7"/>
<line x1="126.3" y1="570" x2="126.3" y2="590.4" stroke="#000" stroke-opacity="0.5" stroke-width="0.7"/>
<line x1="133.3" y1="570" x2="133.3" y2="590.4" stroke="#000" stroke-opacity="0.5" stroke-width="0.7"/>
<line x1="135.1" y1="570" x2="135.1" y2="590.4" stroke="#000" stroke-opacity="0.5" stroke-width="0.7"/>
<line x1="138.7" y1="570" x2="138.7" y2="590.4" stroke="#000" stroke-opacity="0.6" stroke-width="0.7"/>
<line x1="141" y1="570" x2="141" y2="590.4" stroke="#000" stroke-opacity="0.6" stroke-width="0.7"/>
<line x1="153.4" y1="570" x2="153.4" y2="590.4" stroke="#000" stroke-opacity="0.6" stroke-width="0.7"/>
<line x1="160" y1="570" x2="160" y2="590.4" stroke="#000" stroke-opacity="0.5" stroke-width="0.7"/>
<line x1="163.2" y1="570" x2="163.2" y2="590.4" stroke="#000" stroke-opacity="0.5" stroke-width="0.7"/>
<line x1="166.5" y1="570" x2="166.5" y2="590.4" stroke="#000" stroke-opacity="0.5" stroke-width="0.7"/>
<rect x="36.4" y="590.4" width="24.55" height="5.2" fill="#cf6b63"/>
<rect x="60.9" y="590.4" width="24.95" height="5.2" fill="#d77e78"/>
<rect x="85.8" y="590.4" width="16.45" height="5.2" fill="#e5c1d3"/>
<rect x="102.2" y="590.4" width="14.65" height="5.2" fill="#d6d3ea"/>
<rect x="116.8" y="590.4" width="13.95" height="5.2" fill="#c9c6e3"/>
<rect x="130.7" y="590.4" width="11.05" height="5.2" fill="#7f87c0"/>
<rect x="141.7" y="590.4" width="19.05" height="5.2" fill="#6068aa"/>
<rect x="160.7" y="590.4" width="7.45" height="5.2" fill="#445596"/>
<path d="M36.2 614.8L36.2 606.7L38 607.7L42 609.4L47.5 610.8L54.2 611.7L61 612.3L74.4 613.1L87.8 613.6L101.3 614.2L102.6 614.8L114.6 615.2L129.2 615.8L143.9 616.7L155.6 617.7L162.9 619.2L166.5 621.4L167.6 624L168.1 627.4L168.4 627.8L168.4 614.8Z" fill="#b8b1b1"/>
<path d="M36 540L36.3 535.5L36.7 532.3L38.1 531.6L38.7 528.9L40.8 526.2L42.8 526.9L43.5 520.2L44.8 518.8L46.8 517.5L48.2 516.2L48.8 513.5L49.8 509.7L62.3 518.2L63.6 517.2L69 517.5L71 517.3L73.1 518.8L76.4 520.9L77.8 519.9L85.2 523.6L95 529.9L104.3 536.9L110.6 540.5L113.7 542.1L124.6 549.4L133.9 554.8L135.8 554.1L137.8 555.6L141.7 556.6L151.5 563.5L153.8 561.5L158.5 565.4L160.2 564.1L163.1 566.4L164.5 564.6L166.5 566.4L167.1 563L168.6 564.1" fill="none" stroke="#8fa940" stroke-width="1.35" stroke-linejoin="round"/>
<rect x="35.9" y="506.6" width="139.1" height="130.1" fill="none" stroke="#1e1e1e" stroke-width="1.25"/>
<line x1="32.3" y1="564.3" x2="35.9" y2="564.3" stroke="#231f20" stroke-width="1"/>
<text x="29.5" y="566" font-size="5" fill="#333" text-anchor="end">0.0</text>
<line x1="32.3" y1="555.07" x2="35.9" y2="555.07" stroke="#231f20" stroke-width="1"/>
<text x="29.5" y="556.77" font-size="5" fill="#333" text-anchor="end">0.1</text>
<line x1="32.3" y1="545.84" x2="35.9" y2="545.84" stroke="#231f20" stroke-width="1"/>
<text x="29.5" y="547.54" font-size="5" fill="#333" text-anchor="end">0.2</text>
<line x1="32.3" y1="536.61" x2="35.9" y2="536.61" stroke="#231f20" stroke-width="1"/>
<text x="29.5" y="538.31" font-size="5" fill="#333" text-anchor="end">0.3</text>
<line x1="32.3" y1="527.38" x2="35.9" y2="527.38" stroke="#231f20" stroke-width="1"/>
<text x="29.5" y="529.08" font-size="5" fill="#333" text-anchor="end">0.4</text>
<line x1="32.3" y1="518.15" x2="35.9" y2="518.15" stroke="#231f20" stroke-width="1"/>
<text x="29.5" y="519.85" font-size="5" fill="#333" text-anchor="end">0.5</text>
<line x1="32.3" y1="508.92" x2="35.9" y2="508.92" stroke="#231f20" stroke-width="1"/>
<text x="29.5" y="510.62" font-size="5" fill="#333" text-anchor="end">0.6</text>
<text x="29.3" y="637.6" font-size="5" fill="#333" text-anchor="end">-2.0</text>
<text x="29.3" y="632.5" font-size="5" fill="#333" text-anchor="end">-1.5</text>
<text x="29.3" y="627.4" font-size="5" fill="#333" text-anchor="end">-1.0</text>
<text x="29.3" y="622.3" font-size="5" fill="#333" text-anchor="end">-0.5</text>
<text x="29.3" y="617.2" font-size="5" fill="#333" text-anchor="end">0.0</text>
<text x="29.3" y="612.1" font-size="5" fill="#333" text-anchor="end">0.5</text>
<text x="29.3" y="607" font-size="5" fill="#333" text-anchor="end">1.0</text>
<text x="29.3" y="601.9" font-size="5" fill="#333" text-anchor="end">1.5</text>
<line x1="35.9" y1="636.7" x2="35.9" y2="640.2" stroke="#231f20" stroke-width="1"/>
<text transform="translate(39.2 646.3) rotate(-45)" font-size="5.6" fill="#333" text-anchor="end">0</text>
<line x1="51.45" y1="636.7" x2="51.45" y2="640.2" stroke="#231f20" stroke-width="1"/>
<text transform="translate(54.75 646.3) rotate(-45)" font-size="5.6" fill="#333" text-anchor="end">2,500</text>
<line x1="67" y1="636.7" x2="67" y2="640.2" stroke="#231f20" stroke-width="1"/>
<text transform="translate(70.3 646.3) rotate(-45)" font-size="5.6" fill="#333" text-anchor="end">5,000</text>
<line x1="82.55" y1="636.7" x2="82.55" y2="640.2" stroke="#231f20" stroke-width="1"/>
<text transform="translate(85.85 646.3) rotate(-45)" font-size="5.6" fill="#333" text-anchor="end">7,500</text>
<line x1="98.1" y1="636.7" x2="98.1" y2="640.2" stroke="#231f20" stroke-width="1"/>
<text transform="translate(101.4 646.3) rotate(-45)" font-size="5.6" fill="#333" text-anchor="end">10,000</text>
<line x1="113.65" y1="636.7" x2="113.65" y2="640.2" stroke="#231f20" stroke-width="1"/>
<text transform="translate(116.95 646.3) rotate(-45)" font-size="5.6" fill="#333" text-anchor="end">12,500</text>
<line x1="129.2" y1="636.7" x2="129.2" y2="640.2" stroke="#231f20" stroke-width="1"/>
<text transform="translate(132.5 646.3) rotate(-45)" font-size="5.6" fill="#333" text-anchor="end">15,000</text>
<line x1="144.75" y1="636.7" x2="144.75" y2="640.2" stroke="#231f20" stroke-width="1"/>
<text transform="translate(148.05 646.3) rotate(-45)" font-size="5.6" fill="#333" text-anchor="end">17,500</text>
<line x1="160.3" y1="636.7" x2="160.3" y2="640.2" stroke="#231f20" stroke-width="1"/>
<text transform="translate(163.6 646.3) rotate(-45)" font-size="5.6" fill="#333" text-anchor="end">20,000</text>
<text transform="translate(16.2 569.7) rotate(-90)" font-size="7.8" fill="#231f20" stroke="#231f20" stroke-width="0.2" textLength="71.2" lengthAdjust="spacingAndGlyphs">Enrichment score (ES)</text>
<text transform="translate(15.3 665.7) rotate(-90)" font-size="7.8" fill="#231f20" stroke="#231f20" stroke-width="0.2" textLength="99.9" lengthAdjust="spacingAndGlyphs">Ranked list metric (PreRanked)</text>
<text x="146.5" y="516.2" font-size="4.5" fill="#333" textLength="13.9" lengthAdjust="spacingAndGlyphs">NES 2.2</text>
<text x="146.5" y="521.6" font-size="4.5" fill="#333" textLength="20.4" lengthAdjust="spacingAndGlyphs">FDR q 0.00</text>
<text x="38" y="598.9" font-size="4.5" fill="#dc7b72" textLength="55.2" lengthAdjust="spacingAndGlyphs">na_pos (positively correlated)</text>
<text x="37.4" y="605.2" font-size="4.6" fill="#333" textLength="4.6" lengthAdjust="spacingAndGlyphs">Scr</text>
<text x="145" y="603.9" font-size="4.4" fill="#333" textLength="20.2" lengthAdjust="spacingAndGlyphs">shNCAM_2</text>
<text x="81.8" y="621" font-size="4.4" fill="#333" textLength="35.7" lengthAdjust="spacingAndGlyphs">Zero cross at 10744</text>
<text x="99.4" y="635" font-size="4.4" fill="#5a74c0" textLength="58.3" lengthAdjust="spacingAndGlyphs">na_neg (negatively correlated)</text>
<text x="66.2" y="670" font-size="8.4" fill="#231f20" stroke="#231f20" stroke-width="0.25" textLength="78.4" lengthAdjust="spacingAndGlyphs">Rank in ordered dataset</text>
<line x1="29" y1="677.8" x2="35.2" y2="677.8" stroke="#a8c070" stroke-width="1.2"/>
<text x="37.8" y="679.6" font-size="5.6" fill="#222" stroke="#222" stroke-width="0.12" textLength="43.6" lengthAdjust="spacingAndGlyphs">Enrichment profile</text>
<line x1="88" y1="677.8" x2="93.5" y2="677.8" stroke="#222" stroke-width="1.3"/>
<text x="96.1" y="679.6" font-size="5.6" fill="#222" stroke="#222" stroke-width="0.12" textLength="9.5" lengthAdjust="spacingAndGlyphs">Hits</text>
<line x1="109.5" y1="677.8" x2="113.8" y2="677.8" stroke="#cfcfcf" stroke-width="0.8"/>
<line x1="117" y1="677.8" x2="122.2" y2="677.8" stroke="#bdbdbd" stroke-width="0.8"/>
<text x="126" y="679.6" font-size="5.6" fill="#222" stroke="#222" stroke-width="0.12" textLength="51" lengthAdjust="spacingAndGlyphs">Ranking metric scores</text>
<text x="255" y="491.6" font-size="7.6" fill="#231f20" stroke="#231f20" stroke-width="0.25" textLength="54.8" lengthAdjust="spacingAndGlyphs">Enrichment plot:</text>
<text x="247.3" y="501.3" font-size="7.6" fill="#231f20" stroke="#231f20" stroke-width="0.25" textLength="70.2" lengthAdjust="spacingAndGlyphs">FARDIN_HYPOXIA_11</text>
<line x1="213.2" y1="566.3" x2="352.2" y2="566.3" stroke="#c9c9c9" stroke-width="0.7"/>
<line x1="213.2" y1="558.95" x2="352.2" y2="558.95" stroke="#eeeeee" stroke-width="0.6"/>
<line x1="213.2" y1="551.6" x2="352.2" y2="551.6" stroke="#eeeeee" stroke-width="0.6"/>
<line x1="213.2" y1="544.25" x2="352.2" y2="544.25" stroke="#eeeeee" stroke-width="0.6"/>
<line x1="213.2" y1="536.9" x2="352.2" y2="536.9" stroke="#eeeeee" stroke-width="0.6"/>
<line x1="213.2" y1="529.55" x2="352.2" y2="529.55" stroke="#eeeeee" stroke-width="0.6"/>
<line x1="213.2" y1="522.2" x2="352.2" y2="522.2" stroke="#eeeeee" stroke-width="0.6"/>
<line x1="213.2" y1="514.85" x2="352.2" y2="514.85" stroke="#eeeeee" stroke-width="0.6"/>
<line x1="213.2" y1="507.5" x2="352.2" y2="507.5" stroke="#eeeeee" stroke-width="0.6"/>
<line x1="228.75" y1="506.6" x2="228.75" y2="569.4" stroke="#eeeeee" stroke-width="0.6"/>
<line x1="244.3" y1="506.6" x2="244.3" y2="569.4" stroke="#eeeeee" stroke-width="0.6"/>
<line x1="259.85" y1="506.6" x2="259.85" y2="569.4" stroke="#eeeeee" stroke-width="0.6"/>
<line x1="275.4" y1="506.6" x2="275.4" y2="569.4" stroke="#eeeeee" stroke-width="0.6"/>
<line x1="290.95" y1="506.6" x2="290.95" y2="569.4" stroke="#eeeeee" stroke-width="0.6"/>
<line x1="306.5" y1="506.6" x2="306.5" y2="569.4" stroke="#eeeeee" stroke-width="0.6"/>
<line x1="322.05" y1="506.6" x2="322.05" y2="569.4" stroke="#eeeeee" stroke-width="0.6"/>
<line x1="337.6" y1="506.6" x2="337.6" y2="569.4" stroke="#eeeeee" stroke-width="0.6"/>
<line x1="213.2" y1="635.2" x2="352.2" y2="635.2" stroke="#eeeeee" stroke-width="0.6"/>
<line x1="213.2" y1="630.1" x2="352.2" y2="630.1" stroke="#eeeeee" stroke-width="0.6"/>
<line x1="213.2" y1="625" x2="352.2" y2="625" stroke="#eeeeee" stroke-width="0.6"/>
<line x1="213.2" y1="619.9" x2="352.2" y2="619.9" stroke="#eeeeee" stroke-width="0.6"/>
<line x1="213.2" y1="614.8" x2="352.2" y2="614.8" stroke="#eeeeee" stroke-width="0.6"/>
<line x1="213.2" y1="609.7" x2="352.2" y2="609.7" stroke="#eeeeee" stroke-width="0.6"/>
<line x1="213.2" y1="604.6" x2="352.2" y2="604.6" stroke="#eeeeee" stroke-width="0.6"/>
<line x1="213.2" y1="599.5" x2="352.2" y2="599.5" stroke="#eeeeee" stroke-width="0.6"/>
<line x1="228.75" y1="596" x2="228.75" y2="636.7" stroke="#eeeeee" stroke-width="0.6"/>
<line x1="244.3" y1="596" x2="244.3" y2="636.7" stroke="#eeeeee" stroke-width="0.6"/>
<line x1="259.85" y1="596" x2="259.85" y2="636.7" stroke="#eeeeee" stroke-width="0.6"/>
<line x1="275.4" y1="596" x2="275.4" y2="636.7" stroke="#eeeeee" stroke-width="0.6"/>
<line x1="290.95" y1="596" x2="290.95" y2="636.7" stroke="#eeeeee" stroke-width="0.6"/>
<line x1="306.5" y1="596" x2="306.5" y2="636.7" stroke="#eeeeee" stroke-width="0.6"/>
<line x1="322.05" y1="596" x2="322.05" y2="636.7" stroke="#eeeeee" stroke-width="0.6"/>
<line x1="337.6" y1="596" x2="337.6" y2="636.7" stroke="#eeeeee" stroke-width="0.6"/>
<line x1="213.2" y1="569.4" x2="352.2" y2="569.4" stroke="#d0d0d0" stroke-width="0.7"/>
<line x1="214.8" y1="570" x2="214.8" y2="590.4" stroke="#000" stroke-opacity="0.8" stroke-width="0.7"/>
<line x1="215.4" y1="570" x2="215.4" y2="590.4" stroke="#000" stroke-opacity="0.8" stroke-width="0.7"/>
<line x1="216.1" y1="570" x2="216.1" y2="590.4" stroke="#000" stroke-opacity="0.8" stroke-width="0.7"/>
<line x1="219.4" y1="570" x2="219.4" y2="590.4" stroke="#000" stroke-opacity="0.4" stroke-width="0.7"/>
<line x1="220.1" y1="570" x2="220.1" y2="590.4" stroke="#000" stroke-opacity="0.4" stroke-width="0.7"/>
<line x1="220.8" y1="570" x2="220.8" y2="590.4" stroke="#000" stroke-opacity="0.4" stroke-width="0.7"/>
<line x1="221.4" y1="570" x2="221.4" y2="590.4" stroke="#000" stroke-opacity="0.4" stroke-width="0.7"/>
<line x1="224.7" y1="570" x2="224.7" y2="590.4" stroke="#000" stroke-opacity="0.5" stroke-width="0.7"/>
<line x1="226.3" y1="570" x2="226.3" y2="590.4" stroke="#000" stroke-opacity="0.5" stroke-width="0.7"/>
<line x1="227" y1="570" x2="227" y2="590.4" stroke="#000" stroke-opacity="0.5" stroke-width="0.7"/>
<line x1="228.5" y1="570" x2="228.5" y2="590.4" stroke="#000" stroke-opacity="0.5" stroke-width="0.7"/>
<line x1="231.4" y1="570" x2="231.4" y2="590.4" stroke="#000" stroke-opacity="1" stroke-width="0.7"/>
<line x1="233.2" y1="570" x2="233.2" y2="590.4" stroke="#000" stroke-opacity="0.5" stroke-width="0.7"/>
<line x1="234" y1="570" x2="234" y2="590.4" stroke="#000" stroke-opacity="0.5" stroke-width="0.7"/>
<line x1="234.6" y1="570" x2="234.6" y2="590.4" stroke="#000" stroke-opacity="0.5" stroke-width="0.7"/>
<line x1="236.2" y1="570" x2="236.2" y2="590.4" stroke="#000" stroke-opacity="0.5" stroke-width="0.7"/>
<line x1="238.5" y1="570" x2="238.5" y2="590.4" stroke="#000" stroke-opacity="0.4" stroke-width="0.7"/>
<line x1="239.3" y1="570" x2="239.3" y2="590.4" stroke="#000" stroke-opacity="0.4" stroke-width="0.7"/>
<line x1="240.2" y1="570" x2="240.2" y2="590.4" stroke="#000" stroke-opacity="0.4" stroke-width="0.7"/>
<line x1="253.8" y1="570" x2="253.8" y2="590.4" stroke="#000" stroke-opacity="0.4" stroke-width="0.7"/>
<line x1="262.4" y1="570" x2="262.4" y2="590.4" stroke="#000" stroke-opacity="0.4" stroke-width="0.7"/>
<line x1="294.4" y1="570" x2="294.4" y2="590.4" stroke="#000" stroke-opacity="0.6" stroke-width="0.7"/>
<rect x="213.7" y="590.4" width="24.55" height="5.2" fill="#cf6b63"/>
<rect x="238.2" y="590.4" width="24.95" height="5.2" fill="#d77e78"/>
<rect x="263.1" y="590.4" width="16.45" height="5.2" fill="#e5c1d3"/>
<rect x="279.5" y="590.4" width="14.65" height="5.2" fill="#d6d3ea"/>
<rect x="294.1" y="590.4" width="13.95" height="5.2" fill="#c9c6e3"/>
<rect x="308" y="590.4" width="11.05" height="5.2" fill="#7f87c0"/>
<rect x="319" y="590.4" width="19.05" height="5.2" fill="#6068aa"/>
<rect x="338" y="590.4" width="7.45" height="5.2" fill="#445596"/>
<path d="M213.5 614.8L213.5 606.7L215.3 607.7L219.3 609.4L224.8 610.8L231.5 611.7L238.3 612.3L251.7 613.1L265.1 613.6L278.6 614.2L279.9 614.8L291.9 615.2L306.5 615.8L321.2 616.7L332.9 617.7L340.2 619.2L343.8 621.4L344.9 624L345.4 627.4L345.7 627.8L345.7 614.8Z" fill="#b8b1b1"/>
<path d="M214 545.5L214.3 542.8L214.6 531.8L215.5 530.7L216.3 522.6L217.5 520.3L218.7 518.6L220.4 519.1L221 515.7L222.7 514L224.4 512.2L226.1 511.7L227.9 512.5L229 511.3L230.8 512.2L232.5 510.5L235.4 509.6L238.3 511.1L240.6 510.2L252.7 516.8L253.6 516.4L262.4 521.3L263.2 520.9L294 537.9L294.6 537.6L346 566.3" fill="none" stroke="#8fa940" stroke-width="1.35" stroke-linejoin="round"/>
<rect x="213.2" y="506.6" width="139" height="130.1" fill="none" stroke="#1e1e1e" stroke-width="1.25"/>
<line x1="209.6" y1="566.3" x2="213.2" y2="566.3" stroke="#231f20" stroke-width="1"/>
<text x="206.8" y="568" font-size="5" fill="#333" text-anchor="end">0.0</text>
<line x1="209.6" y1="558.95" x2="213.2" y2="558.95" stroke="#231f20" stroke-width="1"/>
<text x="206.8" y="560.65" font-size="5" fill="#333" text-anchor="end">0.1</text>
<line x1="209.6" y1="551.6" x2="213.2" y2="551.6" stroke="#231f20" stroke-width="1"/>
<text x="206.8" y="553.3" font-size="5" fill="#333" text-anchor="end">0.2</text>
<line x1="209.6" y1="544.25" x2="213.2" y2="544.25" stroke="#231f20" stroke-width="1"/>
<text x="206.8" y="545.95" font-size="5" fill="#333" text-anchor="end">0.3</text>
<line x1="209.6" y1="536.9" x2="213.2" y2="536.9" stroke="#231f20" stroke-width="1"/>
<text x="206.8" y="538.6" font-size="5" fill="#333" text-anchor="end">0.4</text>
<line x1="209.6" y1="529.55" x2="213.2" y2="529.55" stroke="#231f20" stroke-width="1"/>
<text x="206.8" y="531.25" font-size="5" fill="#333" text-anchor="end">0.5</text>
<line x1="209.6" y1="522.2" x2="213.2" y2="522.2" stroke="#231f20" stroke-width="1"/>
<text x="206.8" y="523.9" font-size="5" fill="#333" text-anchor="end">0.6</text>
<line x1="209.6" y1="514.85" x2="213.2" y2="514.85" stroke="#231f20" stroke-width="1"/>
<text x="206.8" y="516.55" font-size="5" fill="#333" text-anchor="end">0.7</text>
<line x1="209.6" y1="507.5" x2="213.2" y2="507.5" stroke="#231f20" stroke-width="1"/>
<text x="206.8" y="509.2" font-size="5" fill="#333" text-anchor="end">0.8</text>
<text x="206.6" y="637.6" font-size="5" fill="#333" text-anchor="end">-2.0</text>
<text x="206.6" y="632.5" font-size="5" fill="#333" text-anchor="end">-1.5</text>
<text x="206.6" y="627.4" font-size="5" fill="#333" text-anchor="end">-1.0</text>
<text x="206.6" y="622.3" font-size="5" fill="#333" text-anchor="end">-0.5</text>
<text x="206.6" y="617.2" font-size="5" fill="#333" text-anchor="end">0.0</text>
<text x="206.6" y="612.1" font-size="5" fill="#333" text-anchor="end">0.5</text>
<text x="206.6" y="607" font-size="5" fill="#333" text-anchor="end">1.0</text>
<text x="206.6" y="601.9" font-size="5" fill="#333" text-anchor="end">1.5</text>
<line x1="213.2" y1="636.7" x2="213.2" y2="640.2" stroke="#231f20" stroke-width="1"/>
<text transform="translate(216.5 646.3) rotate(-45)" font-size="5.6" fill="#333" text-anchor="end">0</text>
<line x1="228.75" y1="636.7" x2="228.75" y2="640.2" stroke="#231f20" stroke-width="1"/>
<text transform="translate(232.05 646.3) rotate(-45)" font-size="5.6" fill="#333" text-anchor="end">2,500</text>
<line x1="244.3" y1="636.7" x2="244.3" y2="640.2" stroke="#231f20" stroke-width="1"/>
<text transform="translate(247.6 646.3) rotate(-45)" font-size="5.6" fill="#333" text-anchor="end">5,000</text>
<line x1="259.85" y1="636.7" x2="259.85" y2="640.2" stroke="#231f20" stroke-width="1"/>
<text transform="translate(263.15 646.3) rotate(-45)" font-size="5.6" fill="#333" text-anchor="end">7,500</text>
<line x1="275.4" y1="636.7" x2="275.4" y2="640.2" stroke="#231f20" stroke-width="1"/>
<text transform="translate(278.7 646.3) rotate(-45)" font-size="5.6" fill="#333" text-anchor="end">10,000</text>
<line x1="290.95" y1="636.7" x2="290.95" y2="640.2" stroke="#231f20" stroke-width="1"/>
<text transform="translate(294.25 646.3) rotate(-45)" font-size="5.6" fill="#333" text-anchor="end">12,500</text>
<line x1="306.5" y1="636.7" x2="306.5" y2="640.2" stroke="#231f20" stroke-width="1"/>
<text transform="translate(309.8 646.3) rotate(-45)" font-size="5.6" fill="#333" text-anchor="end">15,000</text>
<line x1="322.05" y1="636.7" x2="322.05" y2="640.2" stroke="#231f20" stroke-width="1"/>
<text transform="translate(325.35 646.3) rotate(-45)" font-size="5.6" fill="#333" text-anchor="end">17,500</text>
<line x1="337.6" y1="636.7" x2="337.6" y2="640.2" stroke="#231f20" stroke-width="1"/>
<text transform="translate(340.9 646.3) rotate(-45)" font-size="5.6" fill="#333" text-anchor="end">20,000</text>
<text transform="translate(191.7 573) rotate(-90)" font-size="7.8" fill="#231f20" stroke="#231f20" stroke-width="0.2" textLength="72" lengthAdjust="spacingAndGlyphs">Enrichment score (ES)</text>
<text transform="translate(192.3 668) rotate(-90)" font-size="7.8" fill="#231f20" stroke="#231f20" stroke-width="0.2" textLength="100.2" lengthAdjust="spacingAndGlyphs">Ranked list metric (PreRanked)</text>
<text x="323.8" y="513.9" font-size="4.5" fill="#333" textLength="13.9" lengthAdjust="spacingAndGlyphs">NES 2.5</text>
<text x="323.8" y="519.3" font-size="4.5" fill="#333" textLength="20.4" lengthAdjust="spacingAndGlyphs">FDR q 0.00</text>
<text x="215.3" y="598.9" font-size="4.5" fill="#dc7b72" textLength="55.2" lengthAdjust="spacingAndGlyphs">na_pos (positively correlated)</text>
<text x="214.7" y="605.2" font-size="4.6" fill="#333" textLength="4.6" lengthAdjust="spacingAndGlyphs">Scr</text>
<text x="322.3" y="603.9" font-size="4.4" fill="#333" textLength="20.2" lengthAdjust="spacingAndGlyphs">shNCAM_2</text>
<text x="259.1" y="621" font-size="4.4" fill="#333" textLength="35.7" lengthAdjust="spacingAndGlyphs">Zero cross at 10744</text>
<text x="276.7" y="635" font-size="4.4" fill="#5a74c0" textLength="58.3" lengthAdjust="spacingAndGlyphs">na_neg (negatively correlated)</text>
<text x="243.5" y="670" font-size="8.4" fill="#231f20" stroke="#231f20" stroke-width="0.25" textLength="78.4" lengthAdjust="spacingAndGlyphs">Rank in ordered dataset</text>
<line x1="206.3" y1="677.8" x2="212.5" y2="677.8" stroke="#a8c070" stroke-width="1.2"/>
<text x="215.1" y="679.6" font-size="5.6" fill="#222" stroke="#222" stroke-width="0.12" textLength="43.6" lengthAdjust="spacingAndGlyphs">Enrichment profile</text>
<line x1="265.3" y1="677.8" x2="270.8" y2="677.8" stroke="#222" stroke-width="1.3"/>
<text x="273.4" y="679.6" font-size="5.6" fill="#222" stroke="#222" stroke-width="0.12" textLength="9.5" lengthAdjust="spacingAndGlyphs">Hits</text>
<line x1="286.8" y1="677.8" x2="291.1" y2="677.8" stroke="#cfcfcf" stroke-width="0.8"/>
<line x1="294.3" y1="677.8" x2="299.5" y2="677.8" stroke="#bdbdbd" stroke-width="0.8"/>
<text x="303.3" y="679.6" font-size="5.6" fill="#222" stroke="#222" stroke-width="0.12" textLength="51" lengthAdjust="spacingAndGlyphs">Ranking metric scores</text>
<rect x="0" y="0" width="518" height="1.2" fill="#000"/>
<rect x="0" y="0" width="1.5" height="689" fill="#000"/>
<rect x="0" y="687.7" width="518" height="1.3" fill="#000"/>
<rect x="518" y="0" width="2" height="689" fill="#5c5c5c"/>
</svg>
</body></html>
